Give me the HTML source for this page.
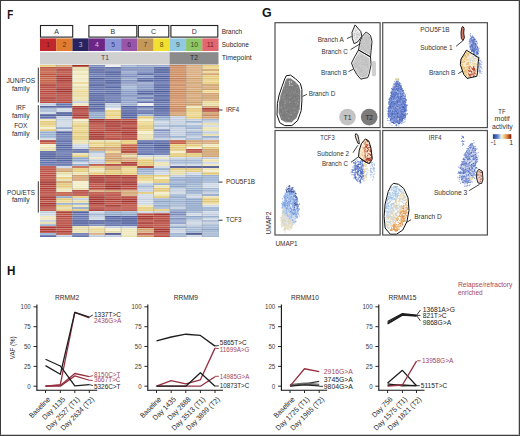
<!DOCTYPE html><html><head><meta charset="utf-8"><title>Figure</title><style>html,body{margin:0;padding:0;background:#fff;width:520px;height:436px;overflow:hidden;}svg{display:block;font-family:"Liberation Sans",sans-serif;}</style></head><body><svg width="520" height="436" viewBox="0 0 520 436" font-family="Liberation Sans, sans-serif"><rect x="0" y="0" width="520" height="436" fill="#fff"/>
<text x="7.3" y="18.8" font-size="12.4" fill="#111" textLength="6" lengthAdjust="spacingAndGlyphs" font-weight="bold">F</text>
<text x="262" y="16.8" font-size="12.4" fill="#111" textLength="9.6" lengthAdjust="spacingAndGlyphs" font-weight="bold">G</text>
<text x="6.9" y="274.9" font-size="12.4" fill="#111" textLength="8.4" lengthAdjust="spacingAndGlyphs" font-weight="bold">H</text>
<g shape-rendering="crispEdges">
<rect x="40" y="64.6" width="16.23" height="2.21" fill="#e6cc78"/>
<rect x="40" y="66.76" width="16.23" height="2.21" fill="#b84e38"/>
<rect x="40" y="68.91" width="16.23" height="2.21" fill="#c0583e"/>
<rect x="40" y="71.07" width="16.23" height="2.21" fill="#c86448"/>
<rect x="40" y="73.22" width="16.23" height="2.21" fill="#b84e38"/>
<rect x="40" y="75.38" width="16.23" height="2.21" fill="#c0583e"/>
<rect x="40" y="77.54" width="16.23" height="2.21" fill="#c86448"/>
<rect x="40" y="79.69" width="16.23" height="2.21" fill="#c0583e"/>
<rect x="40" y="81.85" width="16.23" height="2.21" fill="#c0583e"/>
<rect x="40" y="84.01" width="16.23" height="2.21" fill="#ad3a32"/>
<rect x="40" y="86.16" width="16.23" height="2.21" fill="#b6463c"/>
<rect x="40" y="88.32" width="16.23" height="2.21" fill="#bb5042"/>
<rect x="40" y="90.47" width="16.23" height="2.21" fill="#b6463c"/>
<rect x="40" y="92.63" width="16.23" height="2.21" fill="#b6463c"/>
<rect x="40" y="94.79" width="16.23" height="2.21" fill="#bb5042"/>
<rect x="40" y="96.94" width="16.23" height="2.21" fill="#ad3a32"/>
<rect x="40" y="99.1" width="16.23" height="2.21" fill="#b6463c"/>
<rect x="40" y="101.26" width="16.23" height="2.21" fill="#b6463c"/>
<rect x="40" y="103.41" width="16.23" height="2.21" fill="#c2cedf"/>
<rect x="40" y="105.57" width="16.23" height="2.21" fill="#5565a2"/>
<rect x="40" y="107.72" width="16.23" height="2.21" fill="#a4b8d4"/>
<rect x="40" y="109.88" width="16.23" height="2.21" fill="#a4b8d4"/>
<rect x="40" y="112.04" width="16.23" height="2.21" fill="#ced8e4"/>
<rect x="40" y="114.19" width="16.23" height="2.21" fill="#4e5e9c"/>
<rect x="40" y="116.35" width="16.23" height="2.21" fill="#5e6eaa"/>
<rect x="40" y="118.51" width="16.23" height="2.21" fill="#efe7bc"/>
<rect x="40" y="120.66" width="16.23" height="2.21" fill="#e2c878"/>
<rect x="40" y="122.82" width="16.23" height="2.21" fill="#e2c878"/>
<rect x="40" y="124.97" width="16.23" height="2.21" fill="#ecd78e"/>
<rect x="40" y="127.13" width="16.23" height="2.21" fill="#f3edc8"/>
<rect x="40" y="129.29" width="16.23" height="2.21" fill="#e2c878"/>
<rect x="40" y="131.44" width="16.23" height="2.21" fill="#98b0d0"/>
<rect x="40" y="133.6" width="16.23" height="2.21" fill="#98b0d0"/>
<rect x="40" y="135.76" width="16.23" height="2.21" fill="#98b0d0"/>
<rect x="40" y="137.91" width="16.23" height="2.21" fill="#ced8e4"/>
<rect x="40" y="140.07" width="16.23" height="2.21" fill="#ad3a32"/>
<rect x="40" y="142.22" width="16.23" height="2.21" fill="#c86448"/>
<rect x="40" y="144.38" width="16.23" height="2.21" fill="#f3edc8"/>
<rect x="40" y="146.54" width="16.23" height="2.21" fill="#ebe2b0"/>
<rect x="40" y="148.69" width="16.23" height="2.21" fill="#e6dca8"/>
<rect x="40" y="150.85" width="16.23" height="2.21" fill="#5565a2"/>
<rect x="40" y="153.01" width="16.23" height="2.21" fill="#4e5e9c"/>
<rect x="40" y="155.16" width="16.23" height="2.21" fill="#4e5e9c"/>
<rect x="40" y="157.32" width="16.23" height="2.21" fill="#4e5e9c"/>
<rect x="40" y="159.47" width="16.23" height="2.21" fill="#6676b0"/>
<rect x="40" y="161.63" width="16.23" height="2.21" fill="#5e6eaa"/>
<rect x="40" y="163.79" width="16.23" height="2.21" fill="#6676b0"/>
<rect x="40" y="165.94" width="16.23" height="2.21" fill="#b6463c"/>
<rect x="40" y="168.1" width="16.23" height="2.21" fill="#b6463c"/>
<rect x="40" y="170.26" width="16.23" height="2.21" fill="#bb5042"/>
<rect x="40" y="172.41" width="16.23" height="2.21" fill="#bb5042"/>
<rect x="40" y="174.57" width="16.23" height="2.21" fill="#b6463c"/>
<rect x="40" y="176.72" width="16.23" height="2.21" fill="#bb5042"/>
<rect x="40" y="178.88" width="16.23" height="2.21" fill="#b6463c"/>
<rect x="40" y="181.04" width="16.23" height="2.21" fill="#a4342e"/>
<rect x="40" y="183.19" width="16.23" height="2.21" fill="#a4342e"/>
<rect x="40" y="185.35" width="16.23" height="2.21" fill="#b6463c"/>
<rect x="40" y="187.51" width="16.23" height="2.21" fill="#ad3a32"/>
<rect x="40" y="189.66" width="16.23" height="2.21" fill="#b6463c"/>
<rect x="40" y="191.82" width="16.23" height="2.21" fill="#b6463c"/>
<rect x="40" y="193.97" width="16.23" height="2.21" fill="#bb5042"/>
<rect x="40" y="196.13" width="16.23" height="2.21" fill="#a4342e"/>
<rect x="40" y="198.29" width="16.23" height="2.21" fill="#ad3a32"/>
<rect x="40" y="200.44" width="16.23" height="2.21" fill="#bb5042"/>
<rect x="40" y="202.6" width="16.23" height="2.21" fill="#a4342e"/>
<rect x="40" y="204.76" width="16.23" height="2.21" fill="#ad3a32"/>
<rect x="40" y="206.91" width="16.23" height="2.21" fill="#bb5042"/>
<rect x="40" y="209.07" width="16.23" height="2.21" fill="#bb5042"/>
<rect x="40" y="211.22" width="16.23" height="2.21" fill="#c2cedf"/>
<rect x="40" y="213.38" width="16.23" height="2.21" fill="#ced8e4"/>
<rect x="40" y="215.54" width="16.23" height="2.21" fill="#efe7bc"/>
<rect x="40" y="217.69" width="16.23" height="2.21" fill="#efe7bc"/>
<rect x="40" y="219.85" width="16.23" height="2.21" fill="#c2cedf"/>
<rect x="40" y="222.01" width="16.23" height="2.21" fill="#e6dca8"/>
<rect x="40" y="224.16" width="16.23" height="2.21" fill="#98b0d0"/>
<rect x="40" y="226.32" width="16.23" height="2.21" fill="#ad3a32"/>
<rect x="40" y="228.47" width="16.23" height="2.21" fill="#ad3a32"/>
<rect x="40" y="230.63" width="16.23" height="2.21" fill="#ad3a32"/>
<rect x="40" y="232.79" width="16.23" height="2.21" fill="#98b0d0"/>
<rect x="40" y="234.94" width="16.23" height="2.21" fill="#5e6eaa"/>
<rect x="56.23" y="64.6" width="16.23" height="2.21" fill="#d8aa7c"/>
<rect x="56.23" y="66.76" width="16.23" height="2.21" fill="#bb5042"/>
<rect x="56.23" y="68.91" width="16.23" height="2.21" fill="#ad3a32"/>
<rect x="56.23" y="71.07" width="16.23" height="2.21" fill="#bb5042"/>
<rect x="56.23" y="73.22" width="16.23" height="2.21" fill="#bb5042"/>
<rect x="56.23" y="75.38" width="16.23" height="2.21" fill="#ad3a32"/>
<rect x="56.23" y="77.54" width="16.23" height="2.21" fill="#ad3a32"/>
<rect x="56.23" y="79.69" width="16.23" height="2.21" fill="#a4342e"/>
<rect x="56.23" y="81.85" width="16.23" height="2.21" fill="#b6463c"/>
<rect x="56.23" y="84.01" width="16.23" height="2.21" fill="#b6463c"/>
<rect x="56.23" y="86.16" width="16.23" height="2.21" fill="#b6463c"/>
<rect x="56.23" y="88.32" width="16.23" height="2.21" fill="#a4342e"/>
<rect x="56.23" y="90.47" width="16.23" height="2.21" fill="#a4342e"/>
<rect x="56.23" y="92.63" width="16.23" height="2.21" fill="#b6463c"/>
<rect x="56.23" y="94.79" width="16.23" height="2.21" fill="#b6463c"/>
<rect x="56.23" y="96.94" width="16.23" height="2.21" fill="#b6463c"/>
<rect x="56.23" y="99.1" width="16.23" height="2.21" fill="#b6463c"/>
<rect x="56.23" y="101.26" width="16.23" height="2.21" fill="#b6463c"/>
<rect x="56.23" y="103.41" width="16.23" height="2.21" fill="#6676b0"/>
<rect x="56.23" y="105.57" width="16.23" height="2.21" fill="#5565a2"/>
<rect x="56.23" y="107.72" width="16.23" height="2.21" fill="#ced8e4"/>
<rect x="56.23" y="109.88" width="16.23" height="2.21" fill="#ced8e4"/>
<rect x="56.23" y="112.04" width="16.23" height="2.21" fill="#4e5e9c"/>
<rect x="56.23" y="114.19" width="16.23" height="2.21" fill="#4e5e9c"/>
<rect x="56.23" y="116.35" width="16.23" height="2.21" fill="#c2cedf"/>
<rect x="56.23" y="118.51" width="16.23" height="2.21" fill="#c2cedf"/>
<rect x="56.23" y="120.66" width="16.23" height="2.21" fill="#ced8e4"/>
<rect x="56.23" y="122.82" width="16.23" height="2.21" fill="#ced8e4"/>
<rect x="56.23" y="124.97" width="16.23" height="2.21" fill="#ced8e4"/>
<rect x="56.23" y="127.13" width="16.23" height="2.21" fill="#8ea6ca"/>
<rect x="56.23" y="129.29" width="16.23" height="2.21" fill="#ced8e4"/>
<rect x="56.23" y="131.44" width="16.23" height="2.21" fill="#5565a2"/>
<rect x="56.23" y="133.6" width="16.23" height="2.21" fill="#6676b0"/>
<rect x="56.23" y="135.76" width="16.23" height="2.21" fill="#6676b0"/>
<rect x="56.23" y="137.91" width="16.23" height="2.21" fill="#6676b0"/>
<rect x="56.23" y="140.07" width="16.23" height="2.21" fill="#5565a2"/>
<rect x="56.23" y="142.22" width="16.23" height="2.21" fill="#6676b0"/>
<rect x="56.23" y="144.38" width="16.23" height="2.21" fill="#5565a2"/>
<rect x="56.23" y="146.54" width="16.23" height="2.21" fill="#5e6eaa"/>
<rect x="56.23" y="148.69" width="16.23" height="2.21" fill="#5565a2"/>
<rect x="56.23" y="150.85" width="16.23" height="2.21" fill="#6676b0"/>
<rect x="56.23" y="153.01" width="16.23" height="2.21" fill="#6676b0"/>
<rect x="56.23" y="155.16" width="16.23" height="2.21" fill="#5e6eaa"/>
<rect x="56.23" y="157.32" width="16.23" height="2.21" fill="#5565a2"/>
<rect x="56.23" y="159.47" width="16.23" height="2.21" fill="#5565a2"/>
<rect x="56.23" y="161.63" width="16.23" height="2.21" fill="#6676b0"/>
<rect x="56.23" y="163.79" width="16.23" height="2.21" fill="#5e6eaa"/>
<rect x="56.23" y="165.94" width="16.23" height="2.21" fill="#ced8e4"/>
<rect x="56.23" y="168.1" width="16.23" height="2.21" fill="#d8aa7c"/>
<rect x="56.23" y="170.26" width="16.23" height="2.21" fill="#cea068"/>
<rect x="56.23" y="172.41" width="16.23" height="2.21" fill="#e6dca8"/>
<rect x="56.23" y="174.57" width="16.23" height="2.21" fill="#f3edc8"/>
<rect x="56.23" y="176.72" width="16.23" height="2.21" fill="#e6cc78"/>
<rect x="56.23" y="178.88" width="16.23" height="2.21" fill="#e6dca8"/>
<rect x="56.23" y="181.04" width="16.23" height="2.21" fill="#cea068"/>
<rect x="56.23" y="183.19" width="16.23" height="2.21" fill="#e2c878"/>
<rect x="56.23" y="185.35" width="16.23" height="2.21" fill="#e2c878"/>
<rect x="56.23" y="187.51" width="16.23" height="2.21" fill="#ebe2b0"/>
<rect x="56.23" y="189.66" width="16.23" height="2.21" fill="#efe7bc"/>
<rect x="56.23" y="191.82" width="16.23" height="2.21" fill="#c0583e"/>
<rect x="56.23" y="193.97" width="16.23" height="2.21" fill="#c0583e"/>
<rect x="56.23" y="196.13" width="16.23" height="2.21" fill="#8ea6ca"/>
<rect x="56.23" y="198.29" width="16.23" height="2.21" fill="#e2c878"/>
<rect x="56.23" y="200.44" width="16.23" height="2.21" fill="#ecd78e"/>
<rect x="56.23" y="202.6" width="16.23" height="2.21" fill="#98b0d0"/>
<rect x="56.23" y="204.76" width="16.23" height="2.21" fill="#e6cc78"/>
<rect x="56.23" y="206.91" width="16.23" height="2.21" fill="#e6dca8"/>
<rect x="56.23" y="209.07" width="16.23" height="2.21" fill="#e6cc78"/>
<rect x="56.23" y="211.22" width="16.23" height="2.21" fill="#ad3a32"/>
<rect x="56.23" y="213.38" width="16.23" height="2.21" fill="#bb5042"/>
<rect x="56.23" y="215.54" width="16.23" height="2.21" fill="#b6463c"/>
<rect x="56.23" y="217.69" width="16.23" height="2.21" fill="#bb5042"/>
<rect x="56.23" y="219.85" width="16.23" height="2.21" fill="#b6463c"/>
<rect x="56.23" y="222.01" width="16.23" height="2.21" fill="#b6463c"/>
<rect x="56.23" y="224.16" width="16.23" height="2.21" fill="#b6463c"/>
<rect x="56.23" y="226.32" width="16.23" height="2.21" fill="#ad3a32"/>
<rect x="56.23" y="228.47" width="16.23" height="2.21" fill="#bb5042"/>
<rect x="56.23" y="230.63" width="16.23" height="2.21" fill="#ad3a32"/>
<rect x="56.23" y="232.79" width="16.23" height="2.21" fill="#bb5042"/>
<rect x="56.23" y="234.94" width="16.23" height="2.21" fill="#c2cedf"/>
<rect x="72.45" y="64.6" width="16.23" height="2.21" fill="#a32e22"/>
<rect x="72.45" y="66.76" width="16.23" height="2.21" fill="#e6dca8"/>
<rect x="72.45" y="68.91" width="16.23" height="2.21" fill="#e6dca8"/>
<rect x="72.45" y="71.07" width="16.23" height="2.21" fill="#f3edc8"/>
<rect x="72.45" y="73.22" width="16.23" height="2.21" fill="#ebe2b0"/>
<rect x="72.45" y="75.38" width="16.23" height="2.21" fill="#f3edc8"/>
<rect x="72.45" y="77.54" width="16.23" height="2.21" fill="#efe7bc"/>
<rect x="72.45" y="79.69" width="16.23" height="2.21" fill="#f3edc8"/>
<rect x="72.45" y="81.85" width="16.23" height="2.21" fill="#ecd78e"/>
<rect x="72.45" y="84.01" width="16.23" height="2.21" fill="#f3edc8"/>
<rect x="72.45" y="86.16" width="16.23" height="2.21" fill="#e6dca8"/>
<rect x="72.45" y="88.32" width="16.23" height="2.21" fill="#ebe2b0"/>
<rect x="72.45" y="90.47" width="16.23" height="2.21" fill="#ecd78e"/>
<rect x="72.45" y="92.63" width="16.23" height="2.21" fill="#e6dca8"/>
<rect x="72.45" y="94.79" width="16.23" height="2.21" fill="#ecd78e"/>
<rect x="72.45" y="96.94" width="16.23" height="2.21" fill="#ebe2b0"/>
<rect x="72.45" y="99.1" width="16.23" height="2.21" fill="#e6dca8"/>
<rect x="72.45" y="101.26" width="16.23" height="2.21" fill="#c2cedf"/>
<rect x="72.45" y="103.41" width="16.23" height="2.21" fill="#efe7bc"/>
<rect x="72.45" y="105.57" width="16.23" height="2.21" fill="#ad3a32"/>
<rect x="72.45" y="107.72" width="16.23" height="2.21" fill="#a4342e"/>
<rect x="72.45" y="109.88" width="16.23" height="2.21" fill="#b6463c"/>
<rect x="72.45" y="112.04" width="16.23" height="2.21" fill="#b6463c"/>
<rect x="72.45" y="114.19" width="16.23" height="2.21" fill="#a4342e"/>
<rect x="72.45" y="116.35" width="16.23" height="2.21" fill="#b6463c"/>
<rect x="72.45" y="118.51" width="16.23" height="2.21" fill="#f3edc8"/>
<rect x="72.45" y="120.66" width="16.23" height="2.21" fill="#e6dca8"/>
<rect x="72.45" y="122.82" width="16.23" height="2.21" fill="#ecd78e"/>
<rect x="72.45" y="124.97" width="16.23" height="2.21" fill="#e2c878"/>
<rect x="72.45" y="127.13" width="16.23" height="2.21" fill="#ecd78e"/>
<rect x="72.45" y="129.29" width="16.23" height="2.21" fill="#ecd78e"/>
<rect x="72.45" y="131.44" width="16.23" height="2.21" fill="#e2c878"/>
<rect x="72.45" y="133.6" width="16.23" height="2.21" fill="#ecd78e"/>
<rect x="72.45" y="135.76" width="16.23" height="2.21" fill="#e2c878"/>
<rect x="72.45" y="137.91" width="16.23" height="2.21" fill="#e6cc78"/>
<rect x="72.45" y="140.07" width="16.23" height="2.21" fill="#ebe2b0"/>
<rect x="72.45" y="142.22" width="16.23" height="2.21" fill="#ebe2b0"/>
<rect x="72.45" y="144.38" width="16.23" height="2.21" fill="#ced8e4"/>
<rect x="72.45" y="146.54" width="16.23" height="2.21" fill="#c2cedf"/>
<rect x="72.45" y="148.69" width="16.23" height="2.21" fill="#5e6eaa"/>
<rect x="72.45" y="150.85" width="16.23" height="2.21" fill="#5e6eaa"/>
<rect x="72.45" y="153.01" width="16.23" height="2.21" fill="#ebe2b0"/>
<rect x="72.45" y="155.16" width="16.23" height="2.21" fill="#e6cc78"/>
<rect x="72.45" y="157.32" width="16.23" height="2.21" fill="#8ea6ca"/>
<rect x="72.45" y="159.47" width="16.23" height="2.21" fill="#8ea6ca"/>
<rect x="72.45" y="161.63" width="16.23" height="2.21" fill="#ced8e4"/>
<rect x="72.45" y="163.79" width="16.23" height="2.21" fill="#8ea6ca"/>
<rect x="72.45" y="165.94" width="16.23" height="2.21" fill="#c86448"/>
<rect x="72.45" y="168.1" width="16.23" height="2.21" fill="#e6cc78"/>
<rect x="72.45" y="170.26" width="16.23" height="2.21" fill="#e6cc78"/>
<rect x="72.45" y="172.41" width="16.23" height="2.21" fill="#ebe2b0"/>
<rect x="72.45" y="174.57" width="16.23" height="2.21" fill="#cea068"/>
<rect x="72.45" y="176.72" width="16.23" height="2.21" fill="#d4a070"/>
<rect x="72.45" y="178.88" width="16.23" height="2.21" fill="#d4a070"/>
<rect x="72.45" y="181.04" width="16.23" height="2.21" fill="#f3edc8"/>
<rect x="72.45" y="183.19" width="16.23" height="2.21" fill="#f3edc8"/>
<rect x="72.45" y="185.35" width="16.23" height="2.21" fill="#f3edc8"/>
<rect x="72.45" y="187.51" width="16.23" height="2.21" fill="#e6dca8"/>
<rect x="72.45" y="189.66" width="16.23" height="2.21" fill="#b6463c"/>
<rect x="72.45" y="191.82" width="16.23" height="2.21" fill="#b6463c"/>
<rect x="72.45" y="193.97" width="16.23" height="2.21" fill="#bb5042"/>
<rect x="72.45" y="196.13" width="16.23" height="2.21" fill="#e6cc78"/>
<rect x="72.45" y="198.29" width="16.23" height="2.21" fill="#c2cedf"/>
<rect x="72.45" y="200.44" width="16.23" height="2.21" fill="#e6dca8"/>
<rect x="72.45" y="202.6" width="16.23" height="2.21" fill="#98b0d0"/>
<rect x="72.45" y="204.76" width="16.23" height="2.21" fill="#ebe2b0"/>
<rect x="72.45" y="206.91" width="16.23" height="2.21" fill="#8ea6ca"/>
<rect x="72.45" y="209.07" width="16.23" height="2.21" fill="#e2c878"/>
<rect x="72.45" y="211.22" width="16.23" height="2.21" fill="#4e5e9c"/>
<rect x="72.45" y="213.38" width="16.23" height="2.21" fill="#6676b0"/>
<rect x="72.45" y="215.54" width="16.23" height="2.21" fill="#5e6eaa"/>
<rect x="72.45" y="217.69" width="16.23" height="2.21" fill="#6676b0"/>
<rect x="72.45" y="219.85" width="16.23" height="2.21" fill="#4e5e9c"/>
<rect x="72.45" y="222.01" width="16.23" height="2.21" fill="#4e5e9c"/>
<rect x="72.45" y="224.16" width="16.23" height="2.21" fill="#5e6eaa"/>
<rect x="72.45" y="226.32" width="16.23" height="2.21" fill="#e6dca8"/>
<rect x="72.45" y="228.47" width="16.23" height="2.21" fill="#e6dca8"/>
<rect x="72.45" y="230.63" width="16.23" height="2.21" fill="#ebe2b0"/>
<rect x="72.45" y="232.79" width="16.23" height="2.21" fill="#6676b0"/>
<rect x="72.45" y="234.94" width="16.23" height="2.21" fill="#6676b0"/>
<rect x="88.68" y="64.6" width="16.23" height="2.21" fill="#7c8cbc"/>
<rect x="88.68" y="66.76" width="16.23" height="2.21" fill="#5e6eaa"/>
<rect x="88.68" y="68.91" width="16.23" height="2.21" fill="#5565a2"/>
<rect x="88.68" y="71.07" width="16.23" height="2.21" fill="#5565a2"/>
<rect x="88.68" y="73.22" width="16.23" height="2.21" fill="#6676b0"/>
<rect x="88.68" y="75.38" width="16.23" height="2.21" fill="#6676b0"/>
<rect x="88.68" y="77.54" width="16.23" height="2.21" fill="#4e5e9c"/>
<rect x="88.68" y="79.69" width="16.23" height="2.21" fill="#5e6eaa"/>
<rect x="88.68" y="81.85" width="16.23" height="2.21" fill="#5e6eaa"/>
<rect x="88.68" y="84.01" width="16.23" height="2.21" fill="#4e5e9c"/>
<rect x="88.68" y="86.16" width="16.23" height="2.21" fill="#5e6eaa"/>
<rect x="88.68" y="88.32" width="16.23" height="2.21" fill="#5e6eaa"/>
<rect x="88.68" y="90.47" width="16.23" height="2.21" fill="#6676b0"/>
<rect x="88.68" y="92.63" width="16.23" height="2.21" fill="#5565a2"/>
<rect x="88.68" y="94.79" width="16.23" height="2.21" fill="#5565a2"/>
<rect x="88.68" y="96.94" width="16.23" height="2.21" fill="#5565a2"/>
<rect x="88.68" y="99.1" width="16.23" height="2.21" fill="#4e5e9c"/>
<rect x="88.68" y="101.26" width="16.23" height="2.21" fill="#6676b0"/>
<rect x="88.68" y="103.41" width="16.23" height="2.21" fill="#5565a2"/>
<rect x="88.68" y="105.57" width="16.23" height="2.21" fill="#5e6eaa"/>
<rect x="88.68" y="107.72" width="16.23" height="2.21" fill="#4e5e9c"/>
<rect x="88.68" y="109.88" width="16.23" height="2.21" fill="#6676b0"/>
<rect x="88.68" y="112.04" width="16.23" height="2.21" fill="#8ea6ca"/>
<rect x="88.68" y="114.19" width="16.23" height="2.21" fill="#8ea6ca"/>
<rect x="88.68" y="116.35" width="16.23" height="2.21" fill="#8ea6ca"/>
<rect x="88.68" y="118.51" width="16.23" height="2.21" fill="#a4342e"/>
<rect x="88.68" y="120.66" width="16.23" height="2.21" fill="#a4342e"/>
<rect x="88.68" y="122.82" width="16.23" height="2.21" fill="#b6463c"/>
<rect x="88.68" y="124.97" width="16.23" height="2.21" fill="#bb5042"/>
<rect x="88.68" y="127.13" width="16.23" height="2.21" fill="#bb5042"/>
<rect x="88.68" y="129.29" width="16.23" height="2.21" fill="#bb5042"/>
<rect x="88.68" y="131.44" width="16.23" height="2.21" fill="#ad3a32"/>
<rect x="88.68" y="133.6" width="16.23" height="2.21" fill="#ad3a32"/>
<rect x="88.68" y="135.76" width="16.23" height="2.21" fill="#a4342e"/>
<rect x="88.68" y="137.91" width="16.23" height="2.21" fill="#a4342e"/>
<rect x="88.68" y="140.07" width="16.23" height="2.21" fill="#ebe2b0"/>
<rect x="88.68" y="142.22" width="16.23" height="2.21" fill="#e6cc78"/>
<rect x="88.68" y="144.38" width="16.23" height="2.21" fill="#ecd78e"/>
<rect x="88.68" y="146.54" width="16.23" height="2.21" fill="#cea068"/>
<rect x="88.68" y="148.69" width="16.23" height="2.21" fill="#cea068"/>
<rect x="88.68" y="150.85" width="16.23" height="2.21" fill="#a4b8d4"/>
<rect x="88.68" y="153.01" width="16.23" height="2.21" fill="#ced8e4"/>
<rect x="88.68" y="155.16" width="16.23" height="2.21" fill="#ced8e4"/>
<rect x="88.68" y="157.32" width="16.23" height="2.21" fill="#efe7bc"/>
<rect x="88.68" y="159.47" width="16.23" height="2.21" fill="#c2cedf"/>
<rect x="88.68" y="161.63" width="16.23" height="2.21" fill="#c2cedf"/>
<rect x="88.68" y="163.79" width="16.23" height="2.21" fill="#bb5042"/>
<rect x="88.68" y="165.94" width="16.23" height="2.21" fill="#e2c878"/>
<rect x="88.68" y="168.1" width="16.23" height="2.21" fill="#e6dca8"/>
<rect x="88.68" y="170.26" width="16.23" height="2.21" fill="#efe7bc"/>
<rect x="88.68" y="172.41" width="16.23" height="2.21" fill="#e6cc78"/>
<rect x="88.68" y="174.57" width="16.23" height="2.21" fill="#b6463c"/>
<rect x="88.68" y="176.72" width="16.23" height="2.21" fill="#a4342e"/>
<rect x="88.68" y="178.88" width="16.23" height="2.21" fill="#a4342e"/>
<rect x="88.68" y="181.04" width="16.23" height="2.21" fill="#a4342e"/>
<rect x="88.68" y="183.19" width="16.23" height="2.21" fill="#bb5042"/>
<rect x="88.68" y="185.35" width="16.23" height="2.21" fill="#bb5042"/>
<rect x="88.68" y="187.51" width="16.23" height="2.21" fill="#b6463c"/>
<rect x="88.68" y="189.66" width="16.23" height="2.21" fill="#d8aa7c"/>
<rect x="88.68" y="191.82" width="16.23" height="2.21" fill="#bb5042"/>
<rect x="88.68" y="193.97" width="16.23" height="2.21" fill="#b6463c"/>
<rect x="88.68" y="196.13" width="16.23" height="2.21" fill="#a4342e"/>
<rect x="88.68" y="198.29" width="16.23" height="2.21" fill="#a4342e"/>
<rect x="88.68" y="200.44" width="16.23" height="2.21" fill="#a4342e"/>
<rect x="88.68" y="202.6" width="16.23" height="2.21" fill="#a4342e"/>
<rect x="88.68" y="204.76" width="16.23" height="2.21" fill="#bb5042"/>
<rect x="88.68" y="206.91" width="16.23" height="2.21" fill="#b6463c"/>
<rect x="88.68" y="209.07" width="16.23" height="2.21" fill="#a4342e"/>
<rect x="88.68" y="211.22" width="16.23" height="2.21" fill="#ced8e4"/>
<rect x="88.68" y="213.38" width="16.23" height="2.21" fill="#a4b8d4"/>
<rect x="88.68" y="215.54" width="16.23" height="2.21" fill="#c2cedf"/>
<rect x="88.68" y="217.69" width="16.23" height="2.21" fill="#ced8e4"/>
<rect x="88.68" y="219.85" width="16.23" height="2.21" fill="#5565a2"/>
<rect x="88.68" y="222.01" width="16.23" height="2.21" fill="#5565a2"/>
<rect x="88.68" y="224.16" width="16.23" height="2.21" fill="#7c8cbc"/>
<rect x="88.68" y="226.32" width="16.23" height="2.21" fill="#efe7bc"/>
<rect x="88.68" y="228.47" width="16.23" height="2.21" fill="#ecd78e"/>
<rect x="88.68" y="230.63" width="16.23" height="2.21" fill="#e6dca8"/>
<rect x="88.68" y="232.79" width="16.23" height="2.21" fill="#d8aa7c"/>
<rect x="88.68" y="234.94" width="16.23" height="2.21" fill="#c2cedf"/>
<rect x="104.91" y="64.6" width="16.23" height="2.21" fill="#eeeeee"/>
<rect x="104.91" y="66.76" width="16.23" height="2.21" fill="#5565a2"/>
<rect x="104.91" y="68.91" width="16.23" height="2.21" fill="#6676b0"/>
<rect x="104.91" y="71.07" width="16.23" height="2.21" fill="#4e5e9c"/>
<rect x="104.91" y="73.22" width="16.23" height="2.21" fill="#5565a2"/>
<rect x="104.91" y="75.38" width="16.23" height="2.21" fill="#5e6eaa"/>
<rect x="104.91" y="77.54" width="16.23" height="2.21" fill="#6676b0"/>
<rect x="104.91" y="79.69" width="16.23" height="2.21" fill="#4e5e9c"/>
<rect x="104.91" y="81.85" width="16.23" height="2.21" fill="#4e5e9c"/>
<rect x="104.91" y="84.01" width="16.23" height="2.21" fill="#6676b0"/>
<rect x="104.91" y="86.16" width="16.23" height="2.21" fill="#4e5e9c"/>
<rect x="104.91" y="88.32" width="16.23" height="2.21" fill="#6676b0"/>
<rect x="104.91" y="90.47" width="16.23" height="2.21" fill="#5e6eaa"/>
<rect x="104.91" y="92.63" width="16.23" height="2.21" fill="#5565a2"/>
<rect x="104.91" y="94.79" width="16.23" height="2.21" fill="#6676b0"/>
<rect x="104.91" y="96.94" width="16.23" height="2.21" fill="#6676b0"/>
<rect x="104.91" y="99.1" width="16.23" height="2.21" fill="#6676b0"/>
<rect x="104.91" y="101.26" width="16.23" height="2.21" fill="#5e6eaa"/>
<rect x="104.91" y="103.41" width="16.23" height="2.21" fill="#c2cedf"/>
<rect x="104.91" y="105.57" width="16.23" height="2.21" fill="#c2cedf"/>
<rect x="104.91" y="107.72" width="16.23" height="2.21" fill="#eeeeee"/>
<rect x="104.91" y="109.88" width="16.23" height="2.21" fill="#e6cc78"/>
<rect x="104.91" y="112.04" width="16.23" height="2.21" fill="#ecd78e"/>
<rect x="104.91" y="114.19" width="16.23" height="2.21" fill="#e6cc78"/>
<rect x="104.91" y="116.35" width="16.23" height="2.21" fill="#ecd78e"/>
<rect x="104.91" y="118.51" width="16.23" height="2.21" fill="#b6463c"/>
<rect x="104.91" y="120.66" width="16.23" height="2.21" fill="#a4342e"/>
<rect x="104.91" y="122.82" width="16.23" height="2.21" fill="#ad3a32"/>
<rect x="104.91" y="124.97" width="16.23" height="2.21" fill="#a4342e"/>
<rect x="104.91" y="127.13" width="16.23" height="2.21" fill="#b6463c"/>
<rect x="104.91" y="129.29" width="16.23" height="2.21" fill="#ad3a32"/>
<rect x="104.91" y="131.44" width="16.23" height="2.21" fill="#b6463c"/>
<rect x="104.91" y="133.6" width="16.23" height="2.21" fill="#bb5042"/>
<rect x="104.91" y="135.76" width="16.23" height="2.21" fill="#bb5042"/>
<rect x="104.91" y="137.91" width="16.23" height="2.21" fill="#ad3a32"/>
<rect x="104.91" y="140.07" width="16.23" height="2.21" fill="#ebe2b0"/>
<rect x="104.91" y="142.22" width="16.23" height="2.21" fill="#e2c878"/>
<rect x="104.91" y="144.38" width="16.23" height="2.21" fill="#e2c878"/>
<rect x="104.91" y="146.54" width="16.23" height="2.21" fill="#d4a070"/>
<rect x="104.91" y="148.69" width="16.23" height="2.21" fill="#d8aa7c"/>
<rect x="104.91" y="150.85" width="16.23" height="2.21" fill="#ecd78e"/>
<rect x="104.91" y="153.01" width="16.23" height="2.21" fill="#d4a070"/>
<rect x="104.91" y="155.16" width="16.23" height="2.21" fill="#d4a070"/>
<rect x="104.91" y="157.32" width="16.23" height="2.21" fill="#cea068"/>
<rect x="104.91" y="159.47" width="16.23" height="2.21" fill="#cea068"/>
<rect x="104.91" y="161.63" width="16.23" height="2.21" fill="#e6cc78"/>
<rect x="104.91" y="163.79" width="16.23" height="2.21" fill="#ad3a32"/>
<rect x="104.91" y="165.94" width="16.23" height="2.21" fill="#d4a070"/>
<rect x="104.91" y="168.1" width="16.23" height="2.21" fill="#cea068"/>
<rect x="104.91" y="170.26" width="16.23" height="2.21" fill="#e6cc78"/>
<rect x="104.91" y="172.41" width="16.23" height="2.21" fill="#e2c878"/>
<rect x="104.91" y="174.57" width="16.23" height="2.21" fill="#ad3a32"/>
<rect x="104.91" y="176.72" width="16.23" height="2.21" fill="#ad3a32"/>
<rect x="104.91" y="178.88" width="16.23" height="2.21" fill="#b6463c"/>
<rect x="104.91" y="181.04" width="16.23" height="2.21" fill="#a4342e"/>
<rect x="104.91" y="183.19" width="16.23" height="2.21" fill="#ad3a32"/>
<rect x="104.91" y="185.35" width="16.23" height="2.21" fill="#a4342e"/>
<rect x="104.91" y="187.51" width="16.23" height="2.21" fill="#a4342e"/>
<rect x="104.91" y="189.66" width="16.23" height="2.21" fill="#cea068"/>
<rect x="104.91" y="191.82" width="16.23" height="2.21" fill="#bb5042"/>
<rect x="104.91" y="193.97" width="16.23" height="2.21" fill="#b6463c"/>
<rect x="104.91" y="196.13" width="16.23" height="2.21" fill="#bb5042"/>
<rect x="104.91" y="198.29" width="16.23" height="2.21" fill="#ad3a32"/>
<rect x="104.91" y="200.44" width="16.23" height="2.21" fill="#b6463c"/>
<rect x="104.91" y="202.6" width="16.23" height="2.21" fill="#bb5042"/>
<rect x="104.91" y="204.76" width="16.23" height="2.21" fill="#a4342e"/>
<rect x="104.91" y="206.91" width="16.23" height="2.21" fill="#bb5042"/>
<rect x="104.91" y="209.07" width="16.23" height="2.21" fill="#b6463c"/>
<rect x="104.91" y="211.22" width="16.23" height="2.21" fill="#98b0d0"/>
<rect x="104.91" y="213.38" width="16.23" height="2.21" fill="#8ea6ca"/>
<rect x="104.91" y="215.54" width="16.23" height="2.21" fill="#4e5e9c"/>
<rect x="104.91" y="217.69" width="16.23" height="2.21" fill="#5e6eaa"/>
<rect x="104.91" y="219.85" width="16.23" height="2.21" fill="#4e5e9c"/>
<rect x="104.91" y="222.01" width="16.23" height="2.21" fill="#5e6eaa"/>
<rect x="104.91" y="224.16" width="16.23" height="2.21" fill="#5e6eaa"/>
<rect x="104.91" y="226.32" width="16.23" height="2.21" fill="#c2cedf"/>
<rect x="104.91" y="228.47" width="16.23" height="2.21" fill="#f3edc8"/>
<rect x="104.91" y="230.63" width="16.23" height="2.21" fill="#e6dca8"/>
<rect x="104.91" y="232.79" width="16.23" height="2.21" fill="#45508a"/>
<rect x="104.91" y="234.94" width="16.23" height="2.21" fill="#c2cedf"/>
<rect x="121.14" y="64.6" width="16.23" height="2.21" fill="#a4b8d4"/>
<rect x="121.14" y="66.76" width="16.23" height="2.21" fill="#7c8cbc"/>
<rect x="121.14" y="68.91" width="16.23" height="2.21" fill="#7c8cbc"/>
<rect x="121.14" y="71.07" width="16.23" height="2.21" fill="#98a8cc"/>
<rect x="121.14" y="73.22" width="16.23" height="2.21" fill="#8898c4"/>
<rect x="121.14" y="75.38" width="16.23" height="2.21" fill="#7c8cbc"/>
<rect x="121.14" y="77.54" width="16.23" height="2.21" fill="#98a8cc"/>
<rect x="121.14" y="79.69" width="16.23" height="2.21" fill="#7c8cbc"/>
<rect x="121.14" y="81.85" width="16.23" height="2.21" fill="#8898c4"/>
<rect x="121.14" y="84.01" width="16.23" height="2.21" fill="#98a8cc"/>
<rect x="121.14" y="86.16" width="16.23" height="2.21" fill="#a4b8d4"/>
<rect x="121.14" y="88.32" width="16.23" height="2.21" fill="#98b0d0"/>
<rect x="121.14" y="90.47" width="16.23" height="2.21" fill="#8898c4"/>
<rect x="121.14" y="92.63" width="16.23" height="2.21" fill="#8898c4"/>
<rect x="121.14" y="94.79" width="16.23" height="2.21" fill="#7c8cbc"/>
<rect x="121.14" y="96.94" width="16.23" height="2.21" fill="#8ea6ca"/>
<rect x="121.14" y="99.1" width="16.23" height="2.21" fill="#8898c4"/>
<rect x="121.14" y="101.26" width="16.23" height="2.21" fill="#8ea6ca"/>
<rect x="121.14" y="103.41" width="16.23" height="2.21" fill="#98a8cc"/>
<rect x="121.14" y="105.57" width="16.23" height="2.21" fill="#4e5e9c"/>
<rect x="121.14" y="107.72" width="16.23" height="2.21" fill="#5e6eaa"/>
<rect x="121.14" y="109.88" width="16.23" height="2.21" fill="#5565a2"/>
<rect x="121.14" y="112.04" width="16.23" height="2.21" fill="#4e5e9c"/>
<rect x="121.14" y="114.19" width="16.23" height="2.21" fill="#4e5e9c"/>
<rect x="121.14" y="116.35" width="16.23" height="2.21" fill="#5565a2"/>
<rect x="121.14" y="118.51" width="16.23" height="2.21" fill="#bb5042"/>
<rect x="121.14" y="120.66" width="16.23" height="2.21" fill="#a4342e"/>
<rect x="121.14" y="122.82" width="16.23" height="2.21" fill="#ad3a32"/>
<rect x="121.14" y="124.97" width="16.23" height="2.21" fill="#bb5042"/>
<rect x="121.14" y="127.13" width="16.23" height="2.21" fill="#a4342e"/>
<rect x="121.14" y="129.29" width="16.23" height="2.21" fill="#b6463c"/>
<rect x="121.14" y="131.44" width="16.23" height="2.21" fill="#a4342e"/>
<rect x="121.14" y="133.6" width="16.23" height="2.21" fill="#ad3a32"/>
<rect x="121.14" y="135.76" width="16.23" height="2.21" fill="#b6463c"/>
<rect x="121.14" y="137.91" width="16.23" height="2.21" fill="#ad3a32"/>
<rect x="121.14" y="140.07" width="16.23" height="2.21" fill="#e6cc78"/>
<rect x="121.14" y="142.22" width="16.23" height="2.21" fill="#e6cc78"/>
<rect x="121.14" y="144.38" width="16.23" height="2.21" fill="#c86448"/>
<rect x="121.14" y="146.54" width="16.23" height="2.21" fill="#b84e38"/>
<rect x="121.14" y="148.69" width="16.23" height="2.21" fill="#b84e38"/>
<rect x="121.14" y="150.85" width="16.23" height="2.21" fill="#a4342e"/>
<rect x="121.14" y="153.01" width="16.23" height="2.21" fill="#d8aa7c"/>
<rect x="121.14" y="155.16" width="16.23" height="2.21" fill="#e6dca8"/>
<rect x="121.14" y="157.32" width="16.23" height="2.21" fill="#d8aa7c"/>
<rect x="121.14" y="159.47" width="16.23" height="2.21" fill="#d4a070"/>
<rect x="121.14" y="161.63" width="16.23" height="2.21" fill="#ad3a32"/>
<rect x="121.14" y="163.79" width="16.23" height="2.21" fill="#ad3a32"/>
<rect x="121.14" y="165.94" width="16.23" height="2.21" fill="#e2c878"/>
<rect x="121.14" y="168.1" width="16.23" height="2.21" fill="#ecd78e"/>
<rect x="121.14" y="170.26" width="16.23" height="2.21" fill="#ecd78e"/>
<rect x="121.14" y="172.41" width="16.23" height="2.21" fill="#e6cc78"/>
<rect x="121.14" y="174.57" width="16.23" height="2.21" fill="#b6463c"/>
<rect x="121.14" y="176.72" width="16.23" height="2.21" fill="#a4342e"/>
<rect x="121.14" y="178.88" width="16.23" height="2.21" fill="#b6463c"/>
<rect x="121.14" y="181.04" width="16.23" height="2.21" fill="#a4342e"/>
<rect x="121.14" y="183.19" width="16.23" height="2.21" fill="#a4342e"/>
<rect x="121.14" y="185.35" width="16.23" height="2.21" fill="#b6463c"/>
<rect x="121.14" y="187.51" width="16.23" height="2.21" fill="#b6463c"/>
<rect x="121.14" y="189.66" width="16.23" height="2.21" fill="#d8aa7c"/>
<rect x="121.14" y="191.82" width="16.23" height="2.21" fill="#cea068"/>
<rect x="121.14" y="193.97" width="16.23" height="2.21" fill="#d8aa7c"/>
<rect x="121.14" y="196.13" width="16.23" height="2.21" fill="#b6463c"/>
<rect x="121.14" y="198.29" width="16.23" height="2.21" fill="#ad3a32"/>
<rect x="121.14" y="200.44" width="16.23" height="2.21" fill="#a4342e"/>
<rect x="121.14" y="202.6" width="16.23" height="2.21" fill="#b6463c"/>
<rect x="121.14" y="204.76" width="16.23" height="2.21" fill="#bb5042"/>
<rect x="121.14" y="206.91" width="16.23" height="2.21" fill="#bb5042"/>
<rect x="121.14" y="209.07" width="16.23" height="2.21" fill="#b6463c"/>
<rect x="121.14" y="211.22" width="16.23" height="2.21" fill="#a4b8d4"/>
<rect x="121.14" y="213.38" width="16.23" height="2.21" fill="#8ea6ca"/>
<rect x="121.14" y="215.54" width="16.23" height="2.21" fill="#5565a2"/>
<rect x="121.14" y="217.69" width="16.23" height="2.21" fill="#4e5e9c"/>
<rect x="121.14" y="219.85" width="16.23" height="2.21" fill="#4e5e9c"/>
<rect x="121.14" y="222.01" width="16.23" height="2.21" fill="#4e5e9c"/>
<rect x="121.14" y="224.16" width="16.23" height="2.21" fill="#5e6eaa"/>
<rect x="121.14" y="226.32" width="16.23" height="2.21" fill="#c2cedf"/>
<rect x="121.14" y="228.47" width="16.23" height="2.21" fill="#efe7bc"/>
<rect x="121.14" y="230.63" width="16.23" height="2.21" fill="#efe7bc"/>
<rect x="121.14" y="232.79" width="16.23" height="2.21" fill="#efe7bc"/>
<rect x="121.14" y="234.94" width="16.23" height="2.21" fill="#ebe2b0"/>
<rect x="137.36" y="64.6" width="16.23" height="2.21" fill="#98a8cc"/>
<rect x="137.36" y="66.76" width="16.23" height="2.21" fill="#7c8cbc"/>
<rect x="137.36" y="68.91" width="16.23" height="2.21" fill="#7c8cbc"/>
<rect x="137.36" y="71.07" width="16.23" height="2.21" fill="#7c8cbc"/>
<rect x="137.36" y="73.22" width="16.23" height="2.21" fill="#5565a2"/>
<rect x="137.36" y="75.38" width="16.23" height="2.21" fill="#8898c4"/>
<rect x="137.36" y="77.54" width="16.23" height="2.21" fill="#5e6eaa"/>
<rect x="137.36" y="79.69" width="16.23" height="2.21" fill="#4e5e9c"/>
<rect x="137.36" y="81.85" width="16.23" height="2.21" fill="#98a8cc"/>
<rect x="137.36" y="84.01" width="16.23" height="2.21" fill="#8898c4"/>
<rect x="137.36" y="86.16" width="16.23" height="2.21" fill="#8898c4"/>
<rect x="137.36" y="88.32" width="16.23" height="2.21" fill="#8898c4"/>
<rect x="137.36" y="90.47" width="16.23" height="2.21" fill="#5e6eaa"/>
<rect x="137.36" y="92.63" width="16.23" height="2.21" fill="#4e5e9c"/>
<rect x="137.36" y="94.79" width="16.23" height="2.21" fill="#8898c4"/>
<rect x="137.36" y="96.94" width="16.23" height="2.21" fill="#5e6eaa"/>
<rect x="137.36" y="99.1" width="16.23" height="2.21" fill="#98a8cc"/>
<rect x="137.36" y="101.26" width="16.23" height="2.21" fill="#5e6eaa"/>
<rect x="137.36" y="103.41" width="16.23" height="2.21" fill="#eeeeee"/>
<rect x="137.36" y="105.57" width="16.23" height="2.21" fill="#5565a2"/>
<rect x="137.36" y="107.72" width="16.23" height="2.21" fill="#8898c4"/>
<rect x="137.36" y="109.88" width="16.23" height="2.21" fill="#6676b0"/>
<rect x="137.36" y="112.04" width="16.23" height="2.21" fill="#5e6eaa"/>
<rect x="137.36" y="114.19" width="16.23" height="2.21" fill="#98b0d0"/>
<rect x="137.36" y="116.35" width="16.23" height="2.21" fill="#e6cc78"/>
<rect x="137.36" y="118.51" width="16.23" height="2.21" fill="#f3edc8"/>
<rect x="137.36" y="120.66" width="16.23" height="2.21" fill="#ecd78e"/>
<rect x="137.36" y="122.82" width="16.23" height="2.21" fill="#ecd78e"/>
<rect x="137.36" y="124.97" width="16.23" height="2.21" fill="#e2c878"/>
<rect x="137.36" y="127.13" width="16.23" height="2.21" fill="#e2c878"/>
<rect x="137.36" y="129.29" width="16.23" height="2.21" fill="#ecd78e"/>
<rect x="137.36" y="131.44" width="16.23" height="2.21" fill="#f3edc8"/>
<rect x="137.36" y="133.6" width="16.23" height="2.21" fill="#e6dca8"/>
<rect x="137.36" y="135.76" width="16.23" height="2.21" fill="#ebe2b0"/>
<rect x="137.36" y="137.91" width="16.23" height="2.21" fill="#e6dca8"/>
<rect x="137.36" y="140.07" width="16.23" height="2.21" fill="#6676b0"/>
<rect x="137.36" y="142.22" width="16.23" height="2.21" fill="#4e5e9c"/>
<rect x="137.36" y="144.38" width="16.23" height="2.21" fill="#6676b0"/>
<rect x="137.36" y="146.54" width="16.23" height="2.21" fill="#5e6eaa"/>
<rect x="137.36" y="148.69" width="16.23" height="2.21" fill="#6676b0"/>
<rect x="137.36" y="150.85" width="16.23" height="2.21" fill="#6676b0"/>
<rect x="137.36" y="153.01" width="16.23" height="2.21" fill="#5565a2"/>
<rect x="137.36" y="155.16" width="16.23" height="2.21" fill="#ced8e4"/>
<rect x="137.36" y="157.32" width="16.23" height="2.21" fill="#efe7bc"/>
<rect x="137.36" y="159.47" width="16.23" height="2.21" fill="#e6cc78"/>
<rect x="137.36" y="161.63" width="16.23" height="2.21" fill="#e2c878"/>
<rect x="137.36" y="163.79" width="16.23" height="2.21" fill="#e2c878"/>
<rect x="137.36" y="165.94" width="16.23" height="2.21" fill="#a32e22"/>
<rect x="137.36" y="168.1" width="16.23" height="2.21" fill="#8ea6ca"/>
<rect x="137.36" y="170.26" width="16.23" height="2.21" fill="#98b0d0"/>
<rect x="137.36" y="172.41" width="16.23" height="2.21" fill="#a4b8d4"/>
<rect x="137.36" y="174.57" width="16.23" height="2.21" fill="#e2c878"/>
<rect x="137.36" y="176.72" width="16.23" height="2.21" fill="#e6cc78"/>
<rect x="137.36" y="178.88" width="16.23" height="2.21" fill="#ecd78e"/>
<rect x="137.36" y="181.04" width="16.23" height="2.21" fill="#efe7bc"/>
<rect x="137.36" y="183.19" width="16.23" height="2.21" fill="#c2cedf"/>
<rect x="137.36" y="185.35" width="16.23" height="2.21" fill="#a4b8d4"/>
<rect x="137.36" y="187.51" width="16.23" height="2.21" fill="#c2cedf"/>
<rect x="137.36" y="189.66" width="16.23" height="2.21" fill="#c2cedf"/>
<rect x="137.36" y="191.82" width="16.23" height="2.21" fill="#e2c878"/>
<rect x="137.36" y="193.97" width="16.23" height="2.21" fill="#ced8e4"/>
<rect x="137.36" y="196.13" width="16.23" height="2.21" fill="#ced8e4"/>
<rect x="137.36" y="198.29" width="16.23" height="2.21" fill="#c2cedf"/>
<rect x="137.36" y="200.44" width="16.23" height="2.21" fill="#ced8e4"/>
<rect x="137.36" y="202.6" width="16.23" height="2.21" fill="#ced8e4"/>
<rect x="137.36" y="204.76" width="16.23" height="2.21" fill="#ebe2b0"/>
<rect x="137.36" y="206.91" width="16.23" height="2.21" fill="#e6cc78"/>
<rect x="137.36" y="209.07" width="16.23" height="2.21" fill="#e6cc78"/>
<rect x="137.36" y="211.22" width="16.23" height="2.21" fill="#ced8e4"/>
<rect x="137.36" y="213.38" width="16.23" height="2.21" fill="#bb5042"/>
<rect x="137.36" y="215.54" width="16.23" height="2.21" fill="#a4342e"/>
<rect x="137.36" y="217.69" width="16.23" height="2.21" fill="#a4342e"/>
<rect x="137.36" y="219.85" width="16.23" height="2.21" fill="#bb5042"/>
<rect x="137.36" y="222.01" width="16.23" height="2.21" fill="#a4342e"/>
<rect x="137.36" y="224.16" width="16.23" height="2.21" fill="#bb5042"/>
<rect x="137.36" y="226.32" width="16.23" height="2.21" fill="#ad3a32"/>
<rect x="137.36" y="228.47" width="16.23" height="2.21" fill="#cea068"/>
<rect x="137.36" y="230.63" width="16.23" height="2.21" fill="#d8aa7c"/>
<rect x="137.36" y="232.79" width="16.23" height="2.21" fill="#bb5042"/>
<rect x="137.36" y="234.94" width="16.23" height="2.21" fill="#d4a070"/>
<rect x="153.59" y="64.6" width="16.23" height="2.21" fill="#98a8cc"/>
<rect x="153.59" y="66.76" width="16.23" height="2.21" fill="#5565a2"/>
<rect x="153.59" y="68.91" width="16.23" height="2.21" fill="#4e5e9c"/>
<rect x="153.59" y="71.07" width="16.23" height="2.21" fill="#4e5e9c"/>
<rect x="153.59" y="73.22" width="16.23" height="2.21" fill="#6676b0"/>
<rect x="153.59" y="75.38" width="16.23" height="2.21" fill="#5565a2"/>
<rect x="153.59" y="77.54" width="16.23" height="2.21" fill="#5565a2"/>
<rect x="153.59" y="79.69" width="16.23" height="2.21" fill="#5565a2"/>
<rect x="153.59" y="81.85" width="16.23" height="2.21" fill="#6676b0"/>
<rect x="153.59" y="84.01" width="16.23" height="2.21" fill="#5565a2"/>
<rect x="153.59" y="86.16" width="16.23" height="2.21" fill="#5565a2"/>
<rect x="153.59" y="88.32" width="16.23" height="2.21" fill="#5e6eaa"/>
<rect x="153.59" y="90.47" width="16.23" height="2.21" fill="#4e5e9c"/>
<rect x="153.59" y="92.63" width="16.23" height="2.21" fill="#5e6eaa"/>
<rect x="153.59" y="94.79" width="16.23" height="2.21" fill="#4e5e9c"/>
<rect x="153.59" y="96.94" width="16.23" height="2.21" fill="#5e6eaa"/>
<rect x="153.59" y="99.1" width="16.23" height="2.21" fill="#4e5e9c"/>
<rect x="153.59" y="101.26" width="16.23" height="2.21" fill="#5e6eaa"/>
<rect x="153.59" y="103.41" width="16.23" height="2.21" fill="#6676b0"/>
<rect x="153.59" y="105.57" width="16.23" height="2.21" fill="#4e5e9c"/>
<rect x="153.59" y="107.72" width="16.23" height="2.21" fill="#4e5e9c"/>
<rect x="153.59" y="109.88" width="16.23" height="2.21" fill="#5565a2"/>
<rect x="153.59" y="112.04" width="16.23" height="2.21" fill="#5e6eaa"/>
<rect x="153.59" y="114.19" width="16.23" height="2.21" fill="#5e6eaa"/>
<rect x="153.59" y="116.35" width="16.23" height="2.21" fill="#8ea6ca"/>
<rect x="153.59" y="118.51" width="16.23" height="2.21" fill="#a4b8d4"/>
<rect x="153.59" y="120.66" width="16.23" height="2.21" fill="#ced8e4"/>
<rect x="153.59" y="122.82" width="16.23" height="2.21" fill="#c2cedf"/>
<rect x="153.59" y="124.97" width="16.23" height="2.21" fill="#a4b8d4"/>
<rect x="153.59" y="127.13" width="16.23" height="2.21" fill="#ced8e4"/>
<rect x="153.59" y="129.29" width="16.23" height="2.21" fill="#7c8cbc"/>
<rect x="153.59" y="131.44" width="16.23" height="2.21" fill="#98a8cc"/>
<rect x="153.59" y="133.6" width="16.23" height="2.21" fill="#98a8cc"/>
<rect x="153.59" y="135.76" width="16.23" height="2.21" fill="#98a8cc"/>
<rect x="153.59" y="137.91" width="16.23" height="2.21" fill="#c2cedf"/>
<rect x="153.59" y="140.07" width="16.23" height="2.21" fill="#5e6eaa"/>
<rect x="153.59" y="142.22" width="16.23" height="2.21" fill="#5565a2"/>
<rect x="153.59" y="144.38" width="16.23" height="2.21" fill="#4e5e9c"/>
<rect x="153.59" y="146.54" width="16.23" height="2.21" fill="#4e5e9c"/>
<rect x="153.59" y="148.69" width="16.23" height="2.21" fill="#5565a2"/>
<rect x="153.59" y="150.85" width="16.23" height="2.21" fill="#5e6eaa"/>
<rect x="153.59" y="153.01" width="16.23" height="2.21" fill="#6676b0"/>
<rect x="153.59" y="155.16" width="16.23" height="2.21" fill="#ced8e4"/>
<rect x="153.59" y="157.32" width="16.23" height="2.21" fill="#efe7bc"/>
<rect x="153.59" y="159.47" width="16.23" height="2.21" fill="#c2cedf"/>
<rect x="153.59" y="161.63" width="16.23" height="2.21" fill="#ebe2b0"/>
<rect x="153.59" y="163.79" width="16.23" height="2.21" fill="#ebe2b0"/>
<rect x="153.59" y="165.94" width="16.23" height="2.21" fill="#ced8e4"/>
<rect x="153.59" y="168.1" width="16.23" height="2.21" fill="#8ea6ca"/>
<rect x="153.59" y="170.26" width="16.23" height="2.21" fill="#c2cedf"/>
<rect x="153.59" y="172.41" width="16.23" height="2.21" fill="#ced8e4"/>
<rect x="153.59" y="174.57" width="16.23" height="2.21" fill="#e6cc78"/>
<rect x="153.59" y="176.72" width="16.23" height="2.21" fill="#f3edc8"/>
<rect x="153.59" y="178.88" width="16.23" height="2.21" fill="#e6cc78"/>
<rect x="153.59" y="181.04" width="16.23" height="2.21" fill="#e6cc78"/>
<rect x="153.59" y="183.19" width="16.23" height="2.21" fill="#98b0d0"/>
<rect x="153.59" y="185.35" width="16.23" height="2.21" fill="#ebe2b0"/>
<rect x="153.59" y="187.51" width="16.23" height="2.21" fill="#e2c878"/>
<rect x="153.59" y="189.66" width="16.23" height="2.21" fill="#e2c878"/>
<rect x="153.59" y="191.82" width="16.23" height="2.21" fill="#f3edc8"/>
<rect x="153.59" y="193.97" width="16.23" height="2.21" fill="#ebe2b0"/>
<rect x="153.59" y="196.13" width="16.23" height="2.21" fill="#e2c878"/>
<rect x="153.59" y="198.29" width="16.23" height="2.21" fill="#a4b8d4"/>
<rect x="153.59" y="200.44" width="16.23" height="2.21" fill="#8ea6ca"/>
<rect x="153.59" y="202.6" width="16.23" height="2.21" fill="#a4b8d4"/>
<rect x="153.59" y="204.76" width="16.23" height="2.21" fill="#8ea6ca"/>
<rect x="153.59" y="206.91" width="16.23" height="2.21" fill="#a4b8d4"/>
<rect x="153.59" y="209.07" width="16.23" height="2.21" fill="#e6cc78"/>
<rect x="153.59" y="211.22" width="16.23" height="2.21" fill="#c2cedf"/>
<rect x="153.59" y="213.38" width="16.23" height="2.21" fill="#ad3a32"/>
<rect x="153.59" y="215.54" width="16.23" height="2.21" fill="#b6463c"/>
<rect x="153.59" y="217.69" width="16.23" height="2.21" fill="#b6463c"/>
<rect x="153.59" y="219.85" width="16.23" height="2.21" fill="#ad3a32"/>
<rect x="153.59" y="222.01" width="16.23" height="2.21" fill="#b6463c"/>
<rect x="153.59" y="224.16" width="16.23" height="2.21" fill="#bb5042"/>
<rect x="153.59" y="226.32" width="16.23" height="2.21" fill="#bb5042"/>
<rect x="153.59" y="228.47" width="16.23" height="2.21" fill="#a4342e"/>
<rect x="153.59" y="230.63" width="16.23" height="2.21" fill="#a4342e"/>
<rect x="153.59" y="232.79" width="16.23" height="2.21" fill="#bb5042"/>
<rect x="153.59" y="234.94" width="16.23" height="2.21" fill="#bb5042"/>
<rect x="169.82" y="64.6" width="16.23" height="2.21" fill="#c8845a"/>
<rect x="169.82" y="66.76" width="16.23" height="2.21" fill="#cc8a5c"/>
<rect x="169.82" y="68.91" width="16.23" height="2.21" fill="#cc8a5c"/>
<rect x="169.82" y="71.07" width="16.23" height="2.21" fill="#cc8a5c"/>
<rect x="169.82" y="73.22" width="16.23" height="2.21" fill="#cc8a5c"/>
<rect x="169.82" y="75.38" width="16.23" height="2.21" fill="#cc8a5c"/>
<rect x="169.82" y="77.54" width="16.23" height="2.21" fill="#c8845a"/>
<rect x="169.82" y="79.69" width="16.23" height="2.21" fill="#c8845a"/>
<rect x="169.82" y="81.85" width="16.23" height="2.21" fill="#d49466"/>
<rect x="169.82" y="84.01" width="16.23" height="2.21" fill="#c8845a"/>
<rect x="169.82" y="86.16" width="16.23" height="2.21" fill="#d49466"/>
<rect x="169.82" y="88.32" width="16.23" height="2.21" fill="#cc8a5c"/>
<rect x="169.82" y="90.47" width="16.23" height="2.21" fill="#cc8a5c"/>
<rect x="169.82" y="92.63" width="16.23" height="2.21" fill="#cc8a5c"/>
<rect x="169.82" y="94.79" width="16.23" height="2.21" fill="#cc8a5c"/>
<rect x="169.82" y="96.94" width="16.23" height="2.21" fill="#cc8a5c"/>
<rect x="169.82" y="99.1" width="16.23" height="2.21" fill="#d49466"/>
<rect x="169.82" y="101.26" width="16.23" height="2.21" fill="#d49466"/>
<rect x="169.82" y="103.41" width="16.23" height="2.21" fill="#d49466"/>
<rect x="169.82" y="105.57" width="16.23" height="2.21" fill="#cc8a5c"/>
<rect x="169.82" y="107.72" width="16.23" height="2.21" fill="#c8845a"/>
<rect x="169.82" y="109.88" width="16.23" height="2.21" fill="#c8845a"/>
<rect x="169.82" y="112.04" width="16.23" height="2.21" fill="#d4a070"/>
<rect x="169.82" y="114.19" width="16.23" height="2.21" fill="#cea068"/>
<rect x="169.82" y="116.35" width="16.23" height="2.21" fill="#c2cedf"/>
<rect x="169.82" y="118.51" width="16.23" height="2.21" fill="#c2cedf"/>
<rect x="169.82" y="120.66" width="16.23" height="2.21" fill="#c2cedf"/>
<rect x="169.82" y="122.82" width="16.23" height="2.21" fill="#c2cedf"/>
<rect x="169.82" y="124.97" width="16.23" height="2.21" fill="#98b0d0"/>
<rect x="169.82" y="127.13" width="16.23" height="2.21" fill="#c2cedf"/>
<rect x="169.82" y="129.29" width="16.23" height="2.21" fill="#c2cedf"/>
<rect x="169.82" y="131.44" width="16.23" height="2.21" fill="#c2cedf"/>
<rect x="169.82" y="133.6" width="16.23" height="2.21" fill="#c2cedf"/>
<rect x="169.82" y="135.76" width="16.23" height="2.21" fill="#98b0d0"/>
<rect x="169.82" y="137.91" width="16.23" height="2.21" fill="#ced8e4"/>
<rect x="169.82" y="140.07" width="16.23" height="2.21" fill="#c0583e"/>
<rect x="169.82" y="142.22" width="16.23" height="2.21" fill="#c0583e"/>
<rect x="169.82" y="144.38" width="16.23" height="2.21" fill="#e6cc78"/>
<rect x="169.82" y="146.54" width="16.23" height="2.21" fill="#e2c878"/>
<rect x="169.82" y="148.69" width="16.23" height="2.21" fill="#e2c878"/>
<rect x="169.82" y="150.85" width="16.23" height="2.21" fill="#f3edc8"/>
<rect x="169.82" y="153.01" width="16.23" height="2.21" fill="#e6cc78"/>
<rect x="169.82" y="155.16" width="16.23" height="2.21" fill="#e2c878"/>
<rect x="169.82" y="157.32" width="16.23" height="2.21" fill="#ced8e4"/>
<rect x="169.82" y="159.47" width="16.23" height="2.21" fill="#a4b8d4"/>
<rect x="169.82" y="161.63" width="16.23" height="2.21" fill="#a4b8d4"/>
<rect x="169.82" y="163.79" width="16.23" height="2.21" fill="#ced8e4"/>
<rect x="169.82" y="165.94" width="16.23" height="2.21" fill="#45508a"/>
<rect x="169.82" y="168.1" width="16.23" height="2.21" fill="#e2c878"/>
<rect x="169.82" y="170.26" width="16.23" height="2.21" fill="#e6dca8"/>
<rect x="169.82" y="172.41" width="16.23" height="2.21" fill="#e6dca8"/>
<rect x="169.82" y="174.57" width="16.23" height="2.21" fill="#c2cedf"/>
<rect x="169.82" y="176.72" width="16.23" height="2.21" fill="#98b0d0"/>
<rect x="169.82" y="178.88" width="16.23" height="2.21" fill="#8ea6ca"/>
<rect x="169.82" y="181.04" width="16.23" height="2.21" fill="#a4b8d4"/>
<rect x="169.82" y="183.19" width="16.23" height="2.21" fill="#8ea6ca"/>
<rect x="169.82" y="185.35" width="16.23" height="2.21" fill="#8ea6ca"/>
<rect x="169.82" y="187.51" width="16.23" height="2.21" fill="#c2cedf"/>
<rect x="169.82" y="189.66" width="16.23" height="2.21" fill="#c2cedf"/>
<rect x="169.82" y="191.82" width="16.23" height="2.21" fill="#ced8e4"/>
<rect x="169.82" y="193.97" width="16.23" height="2.21" fill="#a4b8d4"/>
<rect x="169.82" y="196.13" width="16.23" height="2.21" fill="#8ea6ca"/>
<rect x="169.82" y="198.29" width="16.23" height="2.21" fill="#a4b8d4"/>
<rect x="169.82" y="200.44" width="16.23" height="2.21" fill="#98b0d0"/>
<rect x="169.82" y="202.6" width="16.23" height="2.21" fill="#a4b8d4"/>
<rect x="169.82" y="204.76" width="16.23" height="2.21" fill="#a4b8d4"/>
<rect x="169.82" y="206.91" width="16.23" height="2.21" fill="#c2cedf"/>
<rect x="169.82" y="209.07" width="16.23" height="2.21" fill="#8ea6ca"/>
<rect x="169.82" y="211.22" width="16.23" height="2.21" fill="#7c8cbc"/>
<rect x="169.82" y="213.38" width="16.23" height="2.21" fill="#7c8cbc"/>
<rect x="169.82" y="215.54" width="16.23" height="2.21" fill="#98a8cc"/>
<rect x="169.82" y="217.69" width="16.23" height="2.21" fill="#7c8cbc"/>
<rect x="169.82" y="219.85" width="16.23" height="2.21" fill="#98a8cc"/>
<rect x="169.82" y="222.01" width="16.23" height="2.21" fill="#8898c4"/>
<rect x="169.82" y="224.16" width="16.23" height="2.21" fill="#c2cedf"/>
<rect x="169.82" y="226.32" width="16.23" height="2.21" fill="#8ea6ca"/>
<rect x="169.82" y="228.47" width="16.23" height="2.21" fill="#c2cedf"/>
<rect x="169.82" y="230.63" width="16.23" height="2.21" fill="#ced8e4"/>
<rect x="169.82" y="232.79" width="16.23" height="2.21" fill="#98b0d0"/>
<rect x="169.82" y="234.94" width="16.23" height="2.21" fill="#a4b8d4"/>
<rect x="186.05" y="64.6" width="16.23" height="2.21" fill="#d8aa7c"/>
<rect x="186.05" y="66.76" width="16.23" height="2.21" fill="#d8aa7c"/>
<rect x="186.05" y="68.91" width="16.23" height="2.21" fill="#d8aa7c"/>
<rect x="186.05" y="71.07" width="16.23" height="2.21" fill="#d8aa7c"/>
<rect x="186.05" y="73.22" width="16.23" height="2.21" fill="#d8aa7c"/>
<rect x="186.05" y="75.38" width="16.23" height="2.21" fill="#d8aa7c"/>
<rect x="186.05" y="77.54" width="16.23" height="2.21" fill="#cea068"/>
<rect x="186.05" y="79.69" width="16.23" height="2.21" fill="#d8aa7c"/>
<rect x="186.05" y="81.85" width="16.23" height="2.21" fill="#cea068"/>
<rect x="186.05" y="84.01" width="16.23" height="2.21" fill="#d8aa7c"/>
<rect x="186.05" y="86.16" width="16.23" height="2.21" fill="#d4a070"/>
<rect x="186.05" y="88.32" width="16.23" height="2.21" fill="#d8aa7c"/>
<rect x="186.05" y="90.47" width="16.23" height="2.21" fill="#cea068"/>
<rect x="186.05" y="92.63" width="16.23" height="2.21" fill="#d4a070"/>
<rect x="186.05" y="94.79" width="16.23" height="2.21" fill="#d8aa7c"/>
<rect x="186.05" y="96.94" width="16.23" height="2.21" fill="#cea068"/>
<rect x="186.05" y="99.1" width="16.23" height="2.21" fill="#d8aa7c"/>
<rect x="186.05" y="101.26" width="16.23" height="2.21" fill="#cea068"/>
<rect x="186.05" y="103.41" width="16.23" height="2.21" fill="#cea068"/>
<rect x="186.05" y="105.57" width="16.23" height="2.21" fill="#efe7bc"/>
<rect x="186.05" y="107.72" width="16.23" height="2.21" fill="#e2c878"/>
<rect x="186.05" y="109.88" width="16.23" height="2.21" fill="#e6cc78"/>
<rect x="186.05" y="112.04" width="16.23" height="2.21" fill="#ecd78e"/>
<rect x="186.05" y="114.19" width="16.23" height="2.21" fill="#ecd78e"/>
<rect x="186.05" y="116.35" width="16.23" height="2.21" fill="#e6cc78"/>
<rect x="186.05" y="118.51" width="16.23" height="2.21" fill="#c2cedf"/>
<rect x="186.05" y="120.66" width="16.23" height="2.21" fill="#98b0d0"/>
<rect x="186.05" y="122.82" width="16.23" height="2.21" fill="#ced8e4"/>
<rect x="186.05" y="124.97" width="16.23" height="2.21" fill="#a4b8d4"/>
<rect x="186.05" y="127.13" width="16.23" height="2.21" fill="#98b0d0"/>
<rect x="186.05" y="129.29" width="16.23" height="2.21" fill="#c2cedf"/>
<rect x="186.05" y="131.44" width="16.23" height="2.21" fill="#98b0d0"/>
<rect x="186.05" y="133.6" width="16.23" height="2.21" fill="#a4b8d4"/>
<rect x="186.05" y="135.76" width="16.23" height="2.21" fill="#c2cedf"/>
<rect x="186.05" y="137.91" width="16.23" height="2.21" fill="#a4b8d4"/>
<rect x="186.05" y="140.07" width="16.23" height="2.21" fill="#cea068"/>
<rect x="186.05" y="142.22" width="16.23" height="2.21" fill="#d8aa7c"/>
<rect x="186.05" y="144.38" width="16.23" height="2.21" fill="#e6cc78"/>
<rect x="186.05" y="146.54" width="16.23" height="2.21" fill="#f3edc8"/>
<rect x="186.05" y="148.69" width="16.23" height="2.21" fill="#b6463c"/>
<rect x="186.05" y="150.85" width="16.23" height="2.21" fill="#bb5042"/>
<rect x="186.05" y="153.01" width="16.23" height="2.21" fill="#e2c878"/>
<rect x="186.05" y="155.16" width="16.23" height="2.21" fill="#e2c878"/>
<rect x="186.05" y="157.32" width="16.23" height="2.21" fill="#c2cedf"/>
<rect x="186.05" y="159.47" width="16.23" height="2.21" fill="#a4b8d4"/>
<rect x="186.05" y="161.63" width="16.23" height="2.21" fill="#a4b8d4"/>
<rect x="186.05" y="163.79" width="16.23" height="2.21" fill="#ced8e4"/>
<rect x="186.05" y="165.94" width="16.23" height="2.21" fill="#45508a"/>
<rect x="186.05" y="168.1" width="16.23" height="2.21" fill="#e2c878"/>
<rect x="186.05" y="170.26" width="16.23" height="2.21" fill="#e6cc78"/>
<rect x="186.05" y="172.41" width="16.23" height="2.21" fill="#ced8e4"/>
<rect x="186.05" y="174.57" width="16.23" height="2.21" fill="#a4b8d4"/>
<rect x="186.05" y="176.72" width="16.23" height="2.21" fill="#8ea6ca"/>
<rect x="186.05" y="178.88" width="16.23" height="2.21" fill="#8ea6ca"/>
<rect x="186.05" y="181.04" width="16.23" height="2.21" fill="#8ea6ca"/>
<rect x="186.05" y="183.19" width="16.23" height="2.21" fill="#98b0d0"/>
<rect x="186.05" y="185.35" width="16.23" height="2.21" fill="#a4b8d4"/>
<rect x="186.05" y="187.51" width="16.23" height="2.21" fill="#98b0d0"/>
<rect x="186.05" y="189.66" width="16.23" height="2.21" fill="#8ea6ca"/>
<rect x="186.05" y="191.82" width="16.23" height="2.21" fill="#98b0d0"/>
<rect x="186.05" y="193.97" width="16.23" height="2.21" fill="#c2cedf"/>
<rect x="186.05" y="196.13" width="16.23" height="2.21" fill="#ced8e4"/>
<rect x="186.05" y="198.29" width="16.23" height="2.21" fill="#8ea6ca"/>
<rect x="186.05" y="200.44" width="16.23" height="2.21" fill="#8ea6ca"/>
<rect x="186.05" y="202.6" width="16.23" height="2.21" fill="#8ea6ca"/>
<rect x="186.05" y="204.76" width="16.23" height="2.21" fill="#8ea6ca"/>
<rect x="186.05" y="206.91" width="16.23" height="2.21" fill="#8ea6ca"/>
<rect x="186.05" y="209.07" width="16.23" height="2.21" fill="#8ea6ca"/>
<rect x="186.05" y="211.22" width="16.23" height="2.21" fill="#a4b8d4"/>
<rect x="186.05" y="213.38" width="16.23" height="2.21" fill="#ced8e4"/>
<rect x="186.05" y="215.54" width="16.23" height="2.21" fill="#8ea6ca"/>
<rect x="186.05" y="217.69" width="16.23" height="2.21" fill="#a4b8d4"/>
<rect x="186.05" y="219.85" width="16.23" height="2.21" fill="#c2cedf"/>
<rect x="186.05" y="222.01" width="16.23" height="2.21" fill="#ced8e4"/>
<rect x="186.05" y="224.16" width="16.23" height="2.21" fill="#c2cedf"/>
<rect x="186.05" y="226.32" width="16.23" height="2.21" fill="#a4b8d4"/>
<rect x="186.05" y="228.47" width="16.23" height="2.21" fill="#a4b8d4"/>
<rect x="186.05" y="230.63" width="16.23" height="2.21" fill="#98b0d0"/>
<rect x="186.05" y="232.79" width="16.23" height="2.21" fill="#45508a"/>
<rect x="186.05" y="234.94" width="16.23" height="2.21" fill="#ced8e4"/>
<rect x="202.27" y="64.6" width="16.23" height="2.21" fill="#e6cc78"/>
<rect x="202.27" y="66.76" width="16.23" height="2.21" fill="#ecd78e"/>
<rect x="202.27" y="68.91" width="16.23" height="2.21" fill="#cea068"/>
<rect x="202.27" y="71.07" width="16.23" height="2.21" fill="#ecd78e"/>
<rect x="202.27" y="73.22" width="16.23" height="2.21" fill="#d4a070"/>
<rect x="202.27" y="75.38" width="16.23" height="2.21" fill="#e6cc78"/>
<rect x="202.27" y="77.54" width="16.23" height="2.21" fill="#e2c878"/>
<rect x="202.27" y="79.69" width="16.23" height="2.21" fill="#ecd78e"/>
<rect x="202.27" y="81.85" width="16.23" height="2.21" fill="#e6cc78"/>
<rect x="202.27" y="84.01" width="16.23" height="2.21" fill="#cea068"/>
<rect x="202.27" y="86.16" width="16.23" height="2.21" fill="#d8aa7c"/>
<rect x="202.27" y="88.32" width="16.23" height="2.21" fill="#cea068"/>
<rect x="202.27" y="90.47" width="16.23" height="2.21" fill="#ecd78e"/>
<rect x="202.27" y="92.63" width="16.23" height="2.21" fill="#d4a070"/>
<rect x="202.27" y="94.79" width="16.23" height="2.21" fill="#cea068"/>
<rect x="202.27" y="96.94" width="16.23" height="2.21" fill="#cea068"/>
<rect x="202.27" y="99.1" width="16.23" height="2.21" fill="#d8aa7c"/>
<rect x="202.27" y="101.26" width="16.23" height="2.21" fill="#ecd78e"/>
<rect x="202.27" y="103.41" width="16.23" height="2.21" fill="#e6dca8"/>
<rect x="202.27" y="105.57" width="16.23" height="2.21" fill="#d4a070"/>
<rect x="202.27" y="107.72" width="16.23" height="2.21" fill="#a4342e"/>
<rect x="202.27" y="109.88" width="16.23" height="2.21" fill="#bb5042"/>
<rect x="202.27" y="112.04" width="16.23" height="2.21" fill="#cea068"/>
<rect x="202.27" y="114.19" width="16.23" height="2.21" fill="#c8845a"/>
<rect x="202.27" y="116.35" width="16.23" height="2.21" fill="#d4a070"/>
<rect x="202.27" y="118.51" width="16.23" height="2.21" fill="#a4b8d4"/>
<rect x="202.27" y="120.66" width="16.23" height="2.21" fill="#c2cedf"/>
<rect x="202.27" y="122.82" width="16.23" height="2.21" fill="#e6dca8"/>
<rect x="202.27" y="124.97" width="16.23" height="2.21" fill="#ced8e4"/>
<rect x="202.27" y="127.13" width="16.23" height="2.21" fill="#ebe2b0"/>
<rect x="202.27" y="129.29" width="16.23" height="2.21" fill="#ebe2b0"/>
<rect x="202.27" y="131.44" width="16.23" height="2.21" fill="#c2cedf"/>
<rect x="202.27" y="133.6" width="16.23" height="2.21" fill="#e6dca8"/>
<rect x="202.27" y="135.76" width="16.23" height="2.21" fill="#8ea6ca"/>
<rect x="202.27" y="137.91" width="16.23" height="2.21" fill="#c2cedf"/>
<rect x="202.27" y="140.07" width="16.23" height="2.21" fill="#d4a070"/>
<rect x="202.27" y="142.22" width="16.23" height="2.21" fill="#d8aa7c"/>
<rect x="202.27" y="144.38" width="16.23" height="2.21" fill="#efe7bc"/>
<rect x="202.27" y="146.54" width="16.23" height="2.21" fill="#e2c878"/>
<rect x="202.27" y="148.69" width="16.23" height="2.21" fill="#cea068"/>
<rect x="202.27" y="150.85" width="16.23" height="2.21" fill="#cea068"/>
<rect x="202.27" y="153.01" width="16.23" height="2.21" fill="#d4a070"/>
<rect x="202.27" y="155.16" width="16.23" height="2.21" fill="#cea068"/>
<rect x="202.27" y="157.32" width="16.23" height="2.21" fill="#c2cedf"/>
<rect x="202.27" y="159.47" width="16.23" height="2.21" fill="#ebe2b0"/>
<rect x="202.27" y="161.63" width="16.23" height="2.21" fill="#ced8e4"/>
<rect x="202.27" y="163.79" width="16.23" height="2.21" fill="#efe7bc"/>
<rect x="202.27" y="165.94" width="16.23" height="2.21" fill="#45508a"/>
<rect x="202.27" y="168.1" width="16.23" height="2.21" fill="#ebe2b0"/>
<rect x="202.27" y="170.26" width="16.23" height="2.21" fill="#f3edc8"/>
<rect x="202.27" y="172.41" width="16.23" height="2.21" fill="#e2c878"/>
<rect x="202.27" y="174.57" width="16.23" height="2.21" fill="#98b0d0"/>
<rect x="202.27" y="176.72" width="16.23" height="2.21" fill="#98b0d0"/>
<rect x="202.27" y="178.88" width="16.23" height="2.21" fill="#98b0d0"/>
<rect x="202.27" y="181.04" width="16.23" height="2.21" fill="#a4b8d4"/>
<rect x="202.27" y="183.19" width="16.23" height="2.21" fill="#ced8e4"/>
<rect x="202.27" y="185.35" width="16.23" height="2.21" fill="#ced8e4"/>
<rect x="202.27" y="187.51" width="16.23" height="2.21" fill="#a4b8d4"/>
<rect x="202.27" y="189.66" width="16.23" height="2.21" fill="#a4b8d4"/>
<rect x="202.27" y="191.82" width="16.23" height="2.21" fill="#c2cedf"/>
<rect x="202.27" y="193.97" width="16.23" height="2.21" fill="#8ea6ca"/>
<rect x="202.27" y="196.13" width="16.23" height="2.21" fill="#ebe2b0"/>
<rect x="202.27" y="198.29" width="16.23" height="2.21" fill="#e2c878"/>
<rect x="202.27" y="200.44" width="16.23" height="2.21" fill="#e2c878"/>
<rect x="202.27" y="202.6" width="16.23" height="2.21" fill="#ebe2b0"/>
<rect x="202.27" y="204.76" width="16.23" height="2.21" fill="#ced8e4"/>
<rect x="202.27" y="206.91" width="16.23" height="2.21" fill="#98b0d0"/>
<rect x="202.27" y="209.07" width="16.23" height="2.21" fill="#98b0d0"/>
<rect x="202.27" y="211.22" width="16.23" height="2.21" fill="#ced8e4"/>
<rect x="202.27" y="213.38" width="16.23" height="2.21" fill="#c2cedf"/>
<rect x="202.27" y="215.54" width="16.23" height="2.21" fill="#98b0d0"/>
<rect x="202.27" y="217.69" width="16.23" height="2.21" fill="#ced8e4"/>
<rect x="202.27" y="219.85" width="16.23" height="2.21" fill="#a4b8d4"/>
<rect x="202.27" y="222.01" width="16.23" height="2.21" fill="#c2cedf"/>
<rect x="202.27" y="224.16" width="16.23" height="2.21" fill="#a4b8d4"/>
<rect x="202.27" y="226.32" width="16.23" height="2.21" fill="#a4b8d4"/>
<rect x="202.27" y="228.47" width="16.23" height="2.21" fill="#8ea6ca"/>
<rect x="202.27" y="230.63" width="16.23" height="2.21" fill="#a4b8d4"/>
<rect x="202.27" y="232.79" width="16.23" height="2.21" fill="#a4b8d4"/>
<rect x="202.27" y="234.94" width="16.23" height="2.21" fill="#a4b8d4"/>
</g>
<line x1="40" y1="66.76" x2="218.5" y2="66.76" stroke="#fff" stroke-width="0.7" stroke-opacity="0.5"/>
<line x1="40" y1="68.91" x2="218.5" y2="68.91" stroke="#fff" stroke-width="0.7" stroke-opacity="0.5"/>
<line x1="40" y1="71.07" x2="218.5" y2="71.07" stroke="#fff" stroke-width="0.7" stroke-opacity="0.5"/>
<line x1="40" y1="73.22" x2="218.5" y2="73.22" stroke="#fff" stroke-width="0.7" stroke-opacity="0.5"/>
<line x1="40" y1="75.38" x2="218.5" y2="75.38" stroke="#fff" stroke-width="0.7" stroke-opacity="0.5"/>
<line x1="40" y1="77.54" x2="218.5" y2="77.54" stroke="#fff" stroke-width="0.7" stroke-opacity="0.5"/>
<line x1="40" y1="79.69" x2="218.5" y2="79.69" stroke="#fff" stroke-width="0.7" stroke-opacity="0.5"/>
<line x1="40" y1="81.85" x2="218.5" y2="81.85" stroke="#fff" stroke-width="0.7" stroke-opacity="0.5"/>
<line x1="40" y1="84.01" x2="218.5" y2="84.01" stroke="#fff" stroke-width="0.7" stroke-opacity="0.5"/>
<line x1="40" y1="86.16" x2="218.5" y2="86.16" stroke="#fff" stroke-width="0.7" stroke-opacity="0.5"/>
<line x1="40" y1="88.32" x2="218.5" y2="88.32" stroke="#fff" stroke-width="0.7" stroke-opacity="0.5"/>
<line x1="40" y1="90.47" x2="218.5" y2="90.47" stroke="#fff" stroke-width="0.7" stroke-opacity="0.5"/>
<line x1="40" y1="92.63" x2="218.5" y2="92.63" stroke="#fff" stroke-width="0.7" stroke-opacity="0.5"/>
<line x1="40" y1="94.79" x2="218.5" y2="94.79" stroke="#fff" stroke-width="0.7" stroke-opacity="0.5"/>
<line x1="40" y1="96.94" x2="218.5" y2="96.94" stroke="#fff" stroke-width="0.7" stroke-opacity="0.5"/>
<line x1="40" y1="99.1" x2="218.5" y2="99.1" stroke="#fff" stroke-width="0.7" stroke-opacity="0.5"/>
<line x1="40" y1="101.26" x2="218.5" y2="101.26" stroke="#fff" stroke-width="0.7" stroke-opacity="0.5"/>
<line x1="40" y1="103.41" x2="218.5" y2="103.41" stroke="#fff" stroke-width="0.7" stroke-opacity="0.5"/>
<line x1="40" y1="105.57" x2="218.5" y2="105.57" stroke="#fff" stroke-width="0.7" stroke-opacity="0.5"/>
<line x1="40" y1="107.72" x2="218.5" y2="107.72" stroke="#fff" stroke-width="0.7" stroke-opacity="0.5"/>
<line x1="40" y1="109.88" x2="218.5" y2="109.88" stroke="#fff" stroke-width="0.7" stroke-opacity="0.5"/>
<line x1="40" y1="112.04" x2="218.5" y2="112.04" stroke="#fff" stroke-width="0.7" stroke-opacity="0.5"/>
<line x1="40" y1="114.19" x2="218.5" y2="114.19" stroke="#fff" stroke-width="0.7" stroke-opacity="0.5"/>
<line x1="40" y1="116.35" x2="218.5" y2="116.35" stroke="#fff" stroke-width="0.7" stroke-opacity="0.5"/>
<line x1="40" y1="118.51" x2="218.5" y2="118.51" stroke="#fff" stroke-width="0.7" stroke-opacity="0.5"/>
<line x1="40" y1="120.66" x2="218.5" y2="120.66" stroke="#fff" stroke-width="0.7" stroke-opacity="0.5"/>
<line x1="40" y1="122.82" x2="218.5" y2="122.82" stroke="#fff" stroke-width="0.7" stroke-opacity="0.5"/>
<line x1="40" y1="124.97" x2="218.5" y2="124.97" stroke="#fff" stroke-width="0.7" stroke-opacity="0.5"/>
<line x1="40" y1="127.13" x2="218.5" y2="127.13" stroke="#fff" stroke-width="0.7" stroke-opacity="0.5"/>
<line x1="40" y1="129.29" x2="218.5" y2="129.29" stroke="#fff" stroke-width="0.7" stroke-opacity="0.5"/>
<line x1="40" y1="131.44" x2="218.5" y2="131.44" stroke="#fff" stroke-width="0.7" stroke-opacity="0.5"/>
<line x1="40" y1="133.6" x2="218.5" y2="133.6" stroke="#fff" stroke-width="0.7" stroke-opacity="0.5"/>
<line x1="40" y1="135.76" x2="218.5" y2="135.76" stroke="#fff" stroke-width="0.7" stroke-opacity="0.5"/>
<line x1="40" y1="137.91" x2="218.5" y2="137.91" stroke="#fff" stroke-width="0.7" stroke-opacity="0.5"/>
<line x1="40" y1="140.07" x2="218.5" y2="140.07" stroke="#fff" stroke-width="0.7" stroke-opacity="0.5"/>
<line x1="40" y1="142.22" x2="218.5" y2="142.22" stroke="#fff" stroke-width="0.7" stroke-opacity="0.5"/>
<line x1="40" y1="144.38" x2="218.5" y2="144.38" stroke="#fff" stroke-width="0.7" stroke-opacity="0.5"/>
<line x1="40" y1="146.54" x2="218.5" y2="146.54" stroke="#fff" stroke-width="0.7" stroke-opacity="0.5"/>
<line x1="40" y1="148.69" x2="218.5" y2="148.69" stroke="#fff" stroke-width="0.7" stroke-opacity="0.5"/>
<line x1="40" y1="150.85" x2="218.5" y2="150.85" stroke="#fff" stroke-width="0.7" stroke-opacity="0.5"/>
<line x1="40" y1="153.01" x2="218.5" y2="153.01" stroke="#fff" stroke-width="0.7" stroke-opacity="0.5"/>
<line x1="40" y1="155.16" x2="218.5" y2="155.16" stroke="#fff" stroke-width="0.7" stroke-opacity="0.5"/>
<line x1="40" y1="157.32" x2="218.5" y2="157.32" stroke="#fff" stroke-width="0.7" stroke-opacity="0.5"/>
<line x1="40" y1="159.47" x2="218.5" y2="159.47" stroke="#fff" stroke-width="0.7" stroke-opacity="0.5"/>
<line x1="40" y1="161.63" x2="218.5" y2="161.63" stroke="#fff" stroke-width="0.7" stroke-opacity="0.5"/>
<line x1="40" y1="163.79" x2="218.5" y2="163.79" stroke="#fff" stroke-width="0.7" stroke-opacity="0.5"/>
<line x1="40" y1="165.94" x2="218.5" y2="165.94" stroke="#fff" stroke-width="0.7" stroke-opacity="0.5"/>
<line x1="40" y1="168.1" x2="218.5" y2="168.1" stroke="#fff" stroke-width="0.7" stroke-opacity="0.5"/>
<line x1="40" y1="170.26" x2="218.5" y2="170.26" stroke="#fff" stroke-width="0.7" stroke-opacity="0.5"/>
<line x1="40" y1="172.41" x2="218.5" y2="172.41" stroke="#fff" stroke-width="0.7" stroke-opacity="0.5"/>
<line x1="40" y1="174.57" x2="218.5" y2="174.57" stroke="#fff" stroke-width="0.7" stroke-opacity="0.5"/>
<line x1="40" y1="176.72" x2="218.5" y2="176.72" stroke="#fff" stroke-width="0.7" stroke-opacity="0.5"/>
<line x1="40" y1="178.88" x2="218.5" y2="178.88" stroke="#fff" stroke-width="0.7" stroke-opacity="0.5"/>
<line x1="40" y1="181.04" x2="218.5" y2="181.04" stroke="#fff" stroke-width="0.7" stroke-opacity="0.5"/>
<line x1="40" y1="183.19" x2="218.5" y2="183.19" stroke="#fff" stroke-width="0.7" stroke-opacity="0.5"/>
<line x1="40" y1="185.35" x2="218.5" y2="185.35" stroke="#fff" stroke-width="0.7" stroke-opacity="0.5"/>
<line x1="40" y1="187.51" x2="218.5" y2="187.51" stroke="#fff" stroke-width="0.7" stroke-opacity="0.5"/>
<line x1="40" y1="189.66" x2="218.5" y2="189.66" stroke="#fff" stroke-width="0.7" stroke-opacity="0.5"/>
<line x1="40" y1="191.82" x2="218.5" y2="191.82" stroke="#fff" stroke-width="0.7" stroke-opacity="0.5"/>
<line x1="40" y1="193.97" x2="218.5" y2="193.97" stroke="#fff" stroke-width="0.7" stroke-opacity="0.5"/>
<line x1="40" y1="196.13" x2="218.5" y2="196.13" stroke="#fff" stroke-width="0.7" stroke-opacity="0.5"/>
<line x1="40" y1="198.29" x2="218.5" y2="198.29" stroke="#fff" stroke-width="0.7" stroke-opacity="0.5"/>
<line x1="40" y1="200.44" x2="218.5" y2="200.44" stroke="#fff" stroke-width="0.7" stroke-opacity="0.5"/>
<line x1="40" y1="202.6" x2="218.5" y2="202.6" stroke="#fff" stroke-width="0.7" stroke-opacity="0.5"/>
<line x1="40" y1="204.76" x2="218.5" y2="204.76" stroke="#fff" stroke-width="0.7" stroke-opacity="0.5"/>
<line x1="40" y1="206.91" x2="218.5" y2="206.91" stroke="#fff" stroke-width="0.7" stroke-opacity="0.5"/>
<line x1="40" y1="209.07" x2="218.5" y2="209.07" stroke="#fff" stroke-width="0.7" stroke-opacity="0.5"/>
<line x1="40" y1="211.22" x2="218.5" y2="211.22" stroke="#fff" stroke-width="0.7" stroke-opacity="0.5"/>
<line x1="40" y1="213.38" x2="218.5" y2="213.38" stroke="#fff" stroke-width="0.7" stroke-opacity="0.5"/>
<line x1="40" y1="215.54" x2="218.5" y2="215.54" stroke="#fff" stroke-width="0.7" stroke-opacity="0.5"/>
<line x1="40" y1="217.69" x2="218.5" y2="217.69" stroke="#fff" stroke-width="0.7" stroke-opacity="0.5"/>
<line x1="40" y1="219.85" x2="218.5" y2="219.85" stroke="#fff" stroke-width="0.7" stroke-opacity="0.5"/>
<line x1="40" y1="222.01" x2="218.5" y2="222.01" stroke="#fff" stroke-width="0.7" stroke-opacity="0.5"/>
<line x1="40" y1="224.16" x2="218.5" y2="224.16" stroke="#fff" stroke-width="0.7" stroke-opacity="0.5"/>
<line x1="40" y1="226.32" x2="218.5" y2="226.32" stroke="#fff" stroke-width="0.7" stroke-opacity="0.5"/>
<line x1="40" y1="228.47" x2="218.5" y2="228.47" stroke="#fff" stroke-width="0.7" stroke-opacity="0.5"/>
<line x1="40" y1="230.63" x2="218.5" y2="230.63" stroke="#fff" stroke-width="0.7" stroke-opacity="0.5"/>
<line x1="40" y1="232.79" x2="218.5" y2="232.79" stroke="#fff" stroke-width="0.7" stroke-opacity="0.5"/>
<line x1="40" y1="234.94" x2="218.5" y2="234.94" stroke="#fff" stroke-width="0.7" stroke-opacity="0.5"/>
<line x1="56.23" y1="64.6" x2="56.23" y2="237.1" stroke="#a0a0a0" stroke-width="0.6" stroke-opacity="0.8"/>
<line x1="72.45" y1="64.6" x2="72.45" y2="237.1" stroke="#a0a0a0" stroke-width="0.6" stroke-opacity="0.8"/>
<line x1="88.68" y1="64.6" x2="88.68" y2="237.1" stroke="#a0a0a0" stroke-width="0.6" stroke-opacity="0.8"/>
<line x1="104.91" y1="64.6" x2="104.91" y2="237.1" stroke="#a0a0a0" stroke-width="0.6" stroke-opacity="0.8"/>
<line x1="121.14" y1="64.6" x2="121.14" y2="237.1" stroke="#a0a0a0" stroke-width="0.6" stroke-opacity="0.8"/>
<line x1="137.36" y1="64.6" x2="137.36" y2="237.1" stroke="#a0a0a0" stroke-width="0.6" stroke-opacity="0.8"/>
<line x1="153.59" y1="64.6" x2="153.59" y2="237.1" stroke="#a0a0a0" stroke-width="0.6" stroke-opacity="0.8"/>
<line x1="169.82" y1="64.6" x2="169.82" y2="237.1" stroke="#a0a0a0" stroke-width="0.6" stroke-opacity="0.8"/>
<line x1="186.05" y1="64.6" x2="186.05" y2="237.1" stroke="#a0a0a0" stroke-width="0.6" stroke-opacity="0.8"/>
<line x1="202.27" y1="64.6" x2="202.27" y2="237.1" stroke="#a0a0a0" stroke-width="0.6" stroke-opacity="0.8"/>
<rect x="40.5" y="25.5" width="32.2" height="11.6" fill="#fff" stroke="#222" stroke-width="1.1"/>
<text x="56.6" y="34.2" font-size="7" fill="#333" text-anchor="middle">A</text>
<rect x="88.9" y="25.5" width="47.9" height="11.6" fill="#fff" stroke="#222" stroke-width="1.1"/>
<text x="112.85" y="34.2" font-size="7" fill="#333" text-anchor="middle">B</text>
<rect x="138.3" y="25.5" width="30.5" height="11.6" fill="#fff" stroke="#222" stroke-width="1.1"/>
<text x="153.55" y="34.2" font-size="7" fill="#333" text-anchor="middle">C</text>
<rect x="170.9" y="25.5" width="46.9" height="11.6" fill="#fff" stroke="#222" stroke-width="1.1"/>
<text x="194.35" y="34.2" font-size="7" fill="#333" text-anchor="middle">D</text>
<rect x="40" y="38.4" width="16.28" height="12.6" fill="#c0282e"/>
<text x="48.11" y="47.2" font-size="6.8" fill="#6e1416" text-anchor="middle">1</text>
<rect x="56.23" y="38.4" width="16.28" height="12.6" fill="#e07b30"/>
<text x="64.34" y="47.2" font-size="6.8" fill="#6a3410" text-anchor="middle">2</text>
<rect x="72.45" y="38.4" width="16.28" height="12.6" fill="#27245f"/>
<text x="80.57" y="47.2" font-size="6.8" fill="#b8b6e0" text-anchor="middle">3</text>
<rect x="88.68" y="38.4" width="16.28" height="12.6" fill="#6b2686"/>
<text x="96.8" y="47.2" font-size="6.8" fill="#dcc0ea" text-anchor="middle">4</text>
<rect x="104.91" y="38.4" width="16.28" height="12.6" fill="#8d97d8"/>
<text x="113.02" y="47.2" font-size="6.8" fill="#343a78" text-anchor="middle">5</text>
<rect x="121.14" y="38.4" width="16.28" height="12.6" fill="#9a56a6"/>
<text x="129.25" y="47.2" font-size="6.8" fill="#4a1a52" text-anchor="middle">6</text>
<rect x="137.36" y="38.4" width="16.28" height="12.6" fill="#c49858"/>
<text x="145.48" y="47.2" font-size="6.8" fill="#5a3c18" text-anchor="middle">7</text>
<rect x="153.59" y="38.4" width="16.28" height="12.6" fill="#f1e031"/>
<text x="161.7" y="47.2" font-size="6.8" fill="#5a5408" text-anchor="middle">8</text>
<rect x="169.82" y="38.4" width="16.28" height="12.6" fill="#91c9e1"/>
<text x="177.93" y="47.2" font-size="6.8" fill="#2e5060" text-anchor="middle">9</text>
<rect x="186.05" y="38.4" width="16.28" height="12.6" fill="#8fc768"/>
<text x="194.16" y="47.2" font-size="6.8" fill="#2e5218" text-anchor="middle">10</text>
<rect x="202.27" y="38.4" width="16.28" height="12.6" fill="#e0676f"/>
<text x="210.39" y="47.2" font-size="6.8" fill="#7a1a2a" text-anchor="middle">11</text>
<rect x="40" y="52.2" width="129.6" height="12.3" fill="#d0d0d0"/>
<rect x="169.6" y="52.2" width="48.9" height="12.3" fill="#8b8b8b"/>
<text x="105" y="60.4" font-size="6.8" fill="#444" text-anchor="middle">T1</text>
<text x="194" y="60.4" font-size="6.8" fill="#2a2a2a" text-anchor="middle">T2</text>
<text x="221.7" y="33.6" font-size="7" fill="#2a2a2a" textLength="20.4" lengthAdjust="spacingAndGlyphs">Branch</text>
<text x="221.7" y="47.1" font-size="7" fill="#2a2a2a" textLength="27.2" lengthAdjust="spacingAndGlyphs">Subclone</text>
<text x="221.7" y="59.8" font-size="7" fill="#2a2a2a" textLength="30" lengthAdjust="spacingAndGlyphs">Timepoint</text>
<line x1="218.5" y1="110" x2="222.6" y2="110" stroke="#222" stroke-width="0.9"/>
<text x="226" y="112.2" font-size="7" fill="#2a2a2a" textLength="13" lengthAdjust="spacingAndGlyphs">IRF4</text>
<line x1="218.5" y1="182.1" x2="222.6" y2="182.1" stroke="#222" stroke-width="0.9"/>
<text x="226" y="184.3" font-size="7" fill="#2a2a2a" textLength="29.1" lengthAdjust="spacingAndGlyphs">POU5F1B</text>
<line x1="218.5" y1="220.2" x2="222.6" y2="220.2" stroke="#222" stroke-width="0.9"/>
<text x="226" y="222.4" font-size="7" fill="#2a2a2a" textLength="15.4" lengthAdjust="spacingAndGlyphs">TCF3</text>
<line x1="38.3" y1="67.6" x2="38.3" y2="102.4" stroke="#333" stroke-width="1"/>
<line x1="38.3" y1="105.2" x2="38.3" y2="139.8" stroke="#333" stroke-width="1"/>
<line x1="38.3" y1="181.2" x2="38.3" y2="212.6" stroke="#333" stroke-width="1"/>
<text x="20.8" y="82.9" font-size="7" fill="#2a2a2a" textLength="28.6" lengthAdjust="spacingAndGlyphs" text-anchor="middle">JUN/FOS</text>
<text x="20.8" y="90.7" font-size="7" fill="#2a2a2a" textLength="17.6" lengthAdjust="spacingAndGlyphs" text-anchor="middle">family</text>
<text x="20.8" y="109.9" font-size="7" fill="#2a2a2a" textLength="9.7" lengthAdjust="spacingAndGlyphs" text-anchor="middle">IRF</text>
<text x="20.8" y="117.6" font-size="7" fill="#2a2a2a" textLength="17.6" lengthAdjust="spacingAndGlyphs" text-anchor="middle">family</text>
<text x="20.8" y="127.9" font-size="7" fill="#2a2a2a" textLength="13.2" lengthAdjust="spacingAndGlyphs" text-anchor="middle">FOX</text>
<text x="20.8" y="135.8" font-size="7" fill="#2a2a2a" textLength="17.6" lengthAdjust="spacingAndGlyphs" text-anchor="middle">family</text>
<text x="21" y="194.9" font-size="7" fill="#2a2a2a" textLength="27.8" lengthAdjust="spacingAndGlyphs" text-anchor="middle">POU/ETS</text>
<text x="20.8" y="202.3" font-size="7" fill="#2a2a2a" textLength="17.6" lengthAdjust="spacingAndGlyphs" text-anchor="middle">family</text>
<polygon points="286.2,75.8 290.5,75.1 295.5,78.7 300.4,83.6 301.9,89.3 301.9,100.7 301.2,110.7 297.6,120.6 291.9,125.6 284.8,125.6 279.8,122.8 277,114.9 277.4,103.6 279.1,95 282,86.5 284.8,78.7" fill="#fff" stroke="#111" stroke-width="1" stroke-linejoin="round"/>
<polygon points="286.63,78.84 290.37,78.23 294.72,81.37 298.98,85.63 300.29,90.59 300.29,100.51 299.68,109.2 296.55,117.82 291.59,122.17 285.41,122.17 281.06,119.73 278.62,112.86 278.97,103.03 280.45,95.55 282.98,88.15 285.41,81.37" fill="#7e7e7e" stroke="none" stroke-width="1" stroke-linejoin="round"/>
<g fill-opacity="1"><circle cx="285.85" cy="121.48" r="0.5" fill="#a8a8a8"/><circle cx="297.54" cy="93.38" r="0.5" fill="#9a9a9a"/><circle cx="283.03" cy="99.86" r="0.5" fill="#8c8c8c"/><circle cx="294.07" cy="83.84" r="0.5" fill="#9a9a9a"/><circle cx="300.21" cy="95.76" r="0.5" fill="#a8a8a8"/><circle cx="290.63" cy="96.07" r="0.5" fill="#9a9a9a"/><circle cx="291.06" cy="95.74" r="0.5" fill="#6e6e6e"/><circle cx="296.43" cy="99.1" r="0.5" fill="#6e6e6e"/><circle cx="289.47" cy="102.12" r="0.5" fill="#a8a8a8"/><circle cx="286.77" cy="84.69" r="0.5" fill="#9a9a9a"/><circle cx="293.22" cy="108.51" r="0.5" fill="#9a9a9a"/><circle cx="279.48" cy="106.07" r="0.5" fill="#9a9a9a"/><circle cx="292.17" cy="85.87" r="0.5" fill="#6e6e6e"/><circle cx="293" cy="116.42" r="0.5" fill="#8c8c8c"/><circle cx="287.76" cy="82.65" r="0.5" fill="#8c8c8c"/><circle cx="297.51" cy="84.33" r="0.5" fill="#8c8c8c"/><circle cx="285.33" cy="109.43" r="0.5" fill="#8c8c8c"/><circle cx="297.31" cy="86.35" r="0.5" fill="#6e6e6e"/><circle cx="290.89" cy="103.64" r="0.5" fill="#6e6e6e"/><circle cx="298.42" cy="100.1" r="0.5" fill="#8c8c8c"/><circle cx="289.94" cy="114.47" r="0.5" fill="#9a9a9a"/><circle cx="295.39" cy="96.73" r="0.5" fill="#6e6e6e"/><circle cx="293.7" cy="96.01" r="0.5" fill="#6e6e6e"/><circle cx="280.08" cy="108.11" r="0.5" fill="#9a9a9a"/><circle cx="291.49" cy="121.87" r="0.5" fill="#6e6e6e"/><circle cx="292.91" cy="85.06" r="0.5" fill="#9a9a9a"/><circle cx="295.3" cy="102.34" r="0.5" fill="#a8a8a8"/><circle cx="280.42" cy="98.98" r="0.5" fill="#a8a8a8"/><circle cx="298.03" cy="105.78" r="0.5" fill="#6e6e6e"/><circle cx="287.88" cy="78.64" r="0.5" fill="#8c8c8c"/><circle cx="297.22" cy="87.82" r="0.5" fill="#a8a8a8"/><circle cx="281.25" cy="98.98" r="0.5" fill="#6e6e6e"/><circle cx="284.59" cy="103.23" r="0.5" fill="#a8a8a8"/><circle cx="288.39" cy="110.93" r="0.5" fill="#6e6e6e"/><circle cx="298.62" cy="94.31" r="0.5" fill="#9a9a9a"/><circle cx="294.81" cy="108.76" r="0.5" fill="#a8a8a8"/><circle cx="281.76" cy="111.59" r="0.5" fill="#8c8c8c"/><circle cx="284.98" cy="102.73" r="0.5" fill="#a8a8a8"/><circle cx="289.42" cy="107.65" r="0.5" fill="#8c8c8c"/><circle cx="293.5" cy="105.39" r="0.5" fill="#6e6e6e"/><circle cx="287.05" cy="91.96" r="0.5" fill="#9a9a9a"/><circle cx="291.63" cy="120.31" r="0.5" fill="#a8a8a8"/><circle cx="296.71" cy="104.99" r="0.5" fill="#9a9a9a"/><circle cx="285.48" cy="119.92" r="0.5" fill="#8c8c8c"/><circle cx="294.39" cy="98.87" r="0.5" fill="#9a9a9a"/><circle cx="282.18" cy="113.46" r="0.5" fill="#a8a8a8"/><circle cx="288.96" cy="112.42" r="0.5" fill="#6e6e6e"/><circle cx="288.43" cy="90.18" r="0.5" fill="#8c8c8c"/><circle cx="294.98" cy="92.9" r="0.5" fill="#9a9a9a"/><circle cx="284.69" cy="105.55" r="0.5" fill="#8c8c8c"/><circle cx="292.73" cy="113.47" r="0.5" fill="#8c8c8c"/><circle cx="291.62" cy="116.44" r="0.5" fill="#6e6e6e"/><circle cx="281.9" cy="114.81" r="0.5" fill="#6e6e6e"/><circle cx="291.29" cy="121.13" r="0.5" fill="#6e6e6e"/><circle cx="283.96" cy="95.25" r="0.5" fill="#9a9a9a"/><circle cx="286.77" cy="112.13" r="0.5" fill="#9a9a9a"/><circle cx="283.7" cy="98.06" r="0.5" fill="#9a9a9a"/><circle cx="293.54" cy="92.36" r="0.5" fill="#a8a8a8"/><circle cx="284.43" cy="85.14" r="0.5" fill="#a8a8a8"/><circle cx="298.57" cy="111.77" r="0.5" fill="#9a9a9a"/><circle cx="295.59" cy="90.91" r="0.5" fill="#9a9a9a"/><circle cx="281.67" cy="117.36" r="0.5" fill="#a8a8a8"/><circle cx="290.49" cy="112.37" r="0.5" fill="#9a9a9a"/><circle cx="289.46" cy="101.72" r="0.5" fill="#9a9a9a"/><circle cx="290.32" cy="99.53" r="0.5" fill="#6e6e6e"/><circle cx="286.89" cy="112.84" r="0.5" fill="#8c8c8c"/><circle cx="287.19" cy="109.35" r="0.5" fill="#9a9a9a"/><circle cx="298.68" cy="104" r="0.5" fill="#a8a8a8"/><circle cx="290.34" cy="101.79" r="0.5" fill="#9a9a9a"/><circle cx="286.32" cy="80.98" r="0.5" fill="#a8a8a8"/><circle cx="287.25" cy="101.12" r="0.5" fill="#a8a8a8"/><circle cx="284.25" cy="114.85" r="0.5" fill="#8c8c8c"/><circle cx="285.58" cy="100.47" r="0.5" fill="#9a9a9a"/><circle cx="280.62" cy="113.64" r="0.5" fill="#9a9a9a"/><circle cx="284.9" cy="103.62" r="0.5" fill="#a8a8a8"/><circle cx="286.4" cy="112.49" r="0.5" fill="#9a9a9a"/><circle cx="297.19" cy="89.05" r="0.5" fill="#6e6e6e"/><circle cx="298.61" cy="99.9" r="0.5" fill="#8c8c8c"/><circle cx="297.39" cy="94.56" r="0.5" fill="#6e6e6e"/><circle cx="288.66" cy="81.82" r="0.5" fill="#9a9a9a"/><circle cx="284.7" cy="104.91" r="0.5" fill="#8c8c8c"/><circle cx="297.49" cy="103.08" r="0.5" fill="#a8a8a8"/><circle cx="291.33" cy="87.62" r="0.5" fill="#6e6e6e"/><circle cx="298.67" cy="90.53" r="0.5" fill="#a8a8a8"/><circle cx="280.73" cy="97.87" r="0.5" fill="#a8a8a8"/><circle cx="291.47" cy="104.98" r="0.5" fill="#8c8c8c"/><circle cx="281.46" cy="115.3" r="0.5" fill="#9a9a9a"/><circle cx="285.97" cy="121.93" r="0.5" fill="#a8a8a8"/><circle cx="286.82" cy="79.44" r="0.5" fill="#6e6e6e"/><circle cx="293.91" cy="99.62" r="0.5" fill="#8c8c8c"/><circle cx="297.32" cy="106.34" r="0.5" fill="#6e6e6e"/><circle cx="298.6" cy="109.27" r="0.5" fill="#8c8c8c"/><circle cx="298.57" cy="100.49" r="0.5" fill="#a8a8a8"/><circle cx="282.58" cy="115.56" r="0.5" fill="#6e6e6e"/><circle cx="286.66" cy="88.56" r="0.5" fill="#a8a8a8"/><circle cx="294.24" cy="85.8" r="0.5" fill="#6e6e6e"/><circle cx="279.91" cy="102.52" r="0.5" fill="#6e6e6e"/><circle cx="284.21" cy="100.79" r="0.5" fill="#a8a8a8"/><circle cx="294.65" cy="111.7" r="0.5" fill="#9a9a9a"/><circle cx="289.1" cy="82.67" r="0.5" fill="#8c8c8c"/><circle cx="282.93" cy="111.11" r="0.5" fill="#a8a8a8"/><circle cx="291.4" cy="97.62" r="0.5" fill="#8c8c8c"/><circle cx="292.76" cy="98.91" r="0.5" fill="#8c8c8c"/><circle cx="286.68" cy="95.37" r="0.5" fill="#6e6e6e"/><circle cx="286.75" cy="94.91" r="0.5" fill="#6e6e6e"/><circle cx="288.19" cy="113.71" r="0.5" fill="#9a9a9a"/><circle cx="288.76" cy="118.33" r="0.5" fill="#a8a8a8"/><circle cx="295.93" cy="85.13" r="0.5" fill="#8c8c8c"/><circle cx="292.03" cy="94.62" r="0.5" fill="#8c8c8c"/><circle cx="294.85" cy="112.43" r="0.5" fill="#a8a8a8"/><circle cx="286.97" cy="79.19" r="0.5" fill="#a8a8a8"/><circle cx="285.61" cy="88.51" r="0.5" fill="#6e6e6e"/><circle cx="281.13" cy="94.31" r="0.5" fill="#a8a8a8"/><circle cx="285.82" cy="110.57" r="0.5" fill="#a8a8a8"/><circle cx="282.53" cy="98.06" r="0.5" fill="#8c8c8c"/><circle cx="297.89" cy="97.52" r="0.5" fill="#a8a8a8"/><circle cx="281.86" cy="96.61" r="0.5" fill="#9a9a9a"/><circle cx="290.99" cy="91.26" r="0.5" fill="#9a9a9a"/><circle cx="296.05" cy="89.69" r="0.5" fill="#8c8c8c"/><circle cx="280.99" cy="98.28" r="0.5" fill="#9a9a9a"/><circle cx="289.08" cy="84.97" r="0.5" fill="#a8a8a8"/><circle cx="289.75" cy="105.96" r="0.5" fill="#6e6e6e"/><circle cx="290.76" cy="114.93" r="0.5" fill="#9a9a9a"/><circle cx="281.21" cy="111.4" r="0.5" fill="#6e6e6e"/><circle cx="299.65" cy="97.22" r="0.5" fill="#6e6e6e"/><circle cx="284.29" cy="88.72" r="0.5" fill="#a8a8a8"/><circle cx="283.78" cy="95.37" r="0.5" fill="#9a9a9a"/><circle cx="287.63" cy="85.36" r="0.5" fill="#8c8c8c"/><circle cx="281.75" cy="106.34" r="0.5" fill="#8c8c8c"/><circle cx="288.2" cy="100.54" r="0.5" fill="#6e6e6e"/><circle cx="289.69" cy="97.7" r="0.5" fill="#a8a8a8"/><circle cx="284.83" cy="94.05" r="0.5" fill="#a8a8a8"/><circle cx="284.62" cy="86.17" r="0.5" fill="#8c8c8c"/><circle cx="296.89" cy="101.15" r="0.5" fill="#8c8c8c"/><circle cx="291.64" cy="114.65" r="0.5" fill="#a8a8a8"/><circle cx="297.89" cy="110.34" r="0.5" fill="#9a9a9a"/><circle cx="295.12" cy="85.94" r="0.5" fill="#6e6e6e"/><circle cx="281.59" cy="107.67" r="0.5" fill="#a8a8a8"/><circle cx="292.24" cy="86.68" r="0.5" fill="#8c8c8c"/><circle cx="293.62" cy="101.06" r="0.5" fill="#6e6e6e"/><circle cx="289.86" cy="93.51" r="0.5" fill="#9a9a9a"/><circle cx="284.73" cy="106.32" r="0.5" fill="#9a9a9a"/><circle cx="287.5" cy="111.75" r="0.5" fill="#6e6e6e"/><circle cx="281.51" cy="107.47" r="0.5" fill="#9a9a9a"/><circle cx="284" cy="102.97" r="0.5" fill="#6e6e6e"/><circle cx="293.84" cy="103.49" r="0.5" fill="#6e6e6e"/><circle cx="297.21" cy="93.88" r="0.5" fill="#8c8c8c"/><circle cx="283.93" cy="114.7" r="0.5" fill="#6e6e6e"/><circle cx="298.39" cy="112.46" r="0.5" fill="#a8a8a8"/><circle cx="297.43" cy="103.55" r="0.5" fill="#9a9a9a"/><circle cx="298.08" cy="91.04" r="0.5" fill="#6e6e6e"/><circle cx="280.96" cy="110.35" r="0.5" fill="#6e6e6e"/><circle cx="288.3" cy="79.36" r="0.5" fill="#6e6e6e"/><circle cx="296.05" cy="84.14" r="0.5" fill="#a8a8a8"/><circle cx="292.04" cy="85.61" r="0.5" fill="#a8a8a8"/><circle cx="285.38" cy="102.63" r="0.5" fill="#a8a8a8"/><circle cx="298.69" cy="110.69" r="0.5" fill="#a8a8a8"/><circle cx="284.29" cy="115.02" r="0.5" fill="#6e6e6e"/><circle cx="292.42" cy="98.62" r="0.5" fill="#6e6e6e"/><circle cx="283.79" cy="97.75" r="0.5" fill="#a8a8a8"/></g>
<g fill-opacity="1"><circle cx="289.55" cy="82.99" r="0.55" fill="#d0d0d0"/><circle cx="291.31" cy="82.33" r="0.55" fill="#d0d0d0"/><circle cx="289.82" cy="81.01" r="0.55" fill="#d0d0d0"/><circle cx="291.38" cy="81.65" r="0.55" fill="#d0d0d0"/><circle cx="289.35" cy="81.62" r="0.55" fill="#d0d0d0"/><circle cx="291.9" cy="85.29" r="0.55" fill="#d0d0d0"/><circle cx="289.4" cy="85.32" r="0.55" fill="#d0d0d0"/><circle cx="289.55" cy="82.99" r="0.55" fill="#d0d0d0"/><circle cx="289.59" cy="83.53" r="0.55" fill="#d0d0d0"/><circle cx="290.03" cy="84.87" r="0.55" fill="#d0d0d0"/></g>
<polygon points="355.1,24.9 360.8,31.5 361.8,36.2 358.2,41.5 354.2,43.8 352.3,38.5 352,32.3" fill="#ececec" stroke="#111" stroke-width="0.9" stroke-linejoin="round"/>
<g fill-opacity="1"><circle cx="358.01" cy="34.03" r="0.5" fill="#b8b8b8"/><circle cx="357.71" cy="34.29" r="0.5" fill="#b8b8b8"/><circle cx="355.09" cy="33.8" r="0.5" fill="#b8b8b8"/><circle cx="356.68" cy="36.51" r="0.5" fill="#b8b8b8"/><circle cx="354.84" cy="33.93" r="0.5" fill="#b8b8b8"/><circle cx="356.1" cy="37.85" r="0.5" fill="#b8b8b8"/><circle cx="359.02" cy="35.81" r="0.5" fill="#b8b8b8"/><circle cx="357.8" cy="37.62" r="0.5" fill="#b8b8b8"/><circle cx="354.28" cy="33.26" r="0.5" fill="#b8b8b8"/><circle cx="355.89" cy="30" r="0.5" fill="#b8b8b8"/><circle cx="355.56" cy="31.14" r="0.5" fill="#b8b8b8"/><circle cx="357.59" cy="32.5" r="0.5" fill="#b8b8b8"/><circle cx="355.76" cy="39.76" r="0.5" fill="#b8b8b8"/><circle cx="357.45" cy="35.09" r="0.5" fill="#b8b8b8"/><circle cx="358.99" cy="33.83" r="0.5" fill="#b8b8b8"/><circle cx="354.09" cy="35.56" r="0.5" fill="#b8b8b8"/><circle cx="354.36" cy="35.61" r="0.5" fill="#b8b8b8"/><circle cx="357.45" cy="37.35" r="0.5" fill="#b8b8b8"/><circle cx="356.07" cy="30.27" r="0.5" fill="#b8b8b8"/><circle cx="354.77" cy="37.87" r="0.5" fill="#b8b8b8"/><circle cx="357.07" cy="39.03" r="0.5" fill="#b8b8b8"/><circle cx="359" cy="34.98" r="0.5" fill="#b8b8b8"/><circle cx="356.79" cy="34.93" r="0.5" fill="#b8b8b8"/><circle cx="359.31" cy="34.71" r="0.5" fill="#b8b8b8"/><circle cx="356.49" cy="34.03" r="0.5" fill="#b8b8b8"/></g>
<polygon points="366.2,32 370.5,35.4 372,41.5 371.1,50.8 370.5,56.9 358.5,50 360,41.5 362.3,36.2" fill="#f4f4f4" stroke="none" stroke-width="1" stroke-linejoin="round"/>
<polygon points="358.5,50 370.5,56.9 371.1,64.6 369.2,73.8 367.7,77.7 363.1,78.5 360.8,79.2 356.9,74.6 353.8,69.2 351.5,63.1 354.6,56.9" fill="#f4f4f4" stroke="none" stroke-width="1" stroke-linejoin="round"/>
<polygon points="366.23,33.55 369.92,36.47 371.21,41.72 370.44,49.71 369.92,54.96 359.6,49.03 360.89,41.72 362.87,37.16" fill="#c6c6c6" stroke="none" stroke-width="1" stroke-linejoin="round"/>
<polygon points="358.87,52.12 369.43,58.19 369.96,64.97 368.29,73.07 366.97,76.5 362.92,77.2 360.9,77.82 357.47,73.77 354.74,69.02 352.71,63.65 355.44,58.19" fill="#c6c6c6" stroke="none" stroke-width="1" stroke-linejoin="round"/>
<g fill-opacity="1"><circle cx="368.9" cy="47.47" r="0.5" fill="#b4b4b4"/><circle cx="367.55" cy="45.94" r="0.5" fill="#dadada"/><circle cx="366.9" cy="51.95" r="0.5" fill="#b4b4b4"/><circle cx="361.83" cy="46.91" r="0.5" fill="#b4b4b4"/><circle cx="364.2" cy="49.91" r="0.5" fill="#b4b4b4"/><circle cx="362.37" cy="38.32" r="0.5" fill="#b4b4b4"/><circle cx="361.45" cy="46.12" r="0.5" fill="#b4b4b4"/><circle cx="369.67" cy="43.3" r="0.5" fill="#dadada"/><circle cx="364.46" cy="38.94" r="0.5" fill="#b4b4b4"/><circle cx="369.9" cy="54.52" r="0.5" fill="#dadada"/><circle cx="360.39" cy="48.05" r="0.5" fill="#dadada"/><circle cx="367.44" cy="46.07" r="0.5" fill="#b4b4b4"/><circle cx="364.4" cy="42.08" r="0.5" fill="#b4b4b4"/><circle cx="361.58" cy="41.66" r="0.5" fill="#b4b4b4"/><circle cx="364.2" cy="41.32" r="0.5" fill="#dadada"/><circle cx="363.5" cy="47.49" r="0.5" fill="#b4b4b4"/><circle cx="370.76" cy="42.59" r="0.5" fill="#dadada"/><circle cx="370.2" cy="45.41" r="0.5" fill="#b4b4b4"/><circle cx="364.1" cy="43.55" r="0.5" fill="#b4b4b4"/><circle cx="363.6" cy="42.87" r="0.5" fill="#dadada"/><circle cx="368.95" cy="38.72" r="0.5" fill="#dadada"/><circle cx="365.93" cy="50.41" r="0.5" fill="#b4b4b4"/><circle cx="366.05" cy="43.55" r="0.5" fill="#dadada"/><circle cx="368.83" cy="38.69" r="0.5" fill="#b4b4b4"/><circle cx="363.88" cy="38.18" r="0.5" fill="#dadada"/><circle cx="364.31" cy="47.02" r="0.5" fill="#dadada"/><circle cx="366.35" cy="39.91" r="0.5" fill="#b4b4b4"/><circle cx="365.13" cy="37.92" r="0.5" fill="#dadada"/><circle cx="369.57" cy="48.01" r="0.5" fill="#dadada"/><circle cx="366.52" cy="42.97" r="0.5" fill="#b4b4b4"/><circle cx="364.3" cy="44.47" r="0.5" fill="#dadada"/><circle cx="361.06" cy="49.62" r="0.5" fill="#b4b4b4"/><circle cx="367.47" cy="35.5" r="0.5" fill="#dadada"/><circle cx="369.49" cy="49.3" r="0.5" fill="#b4b4b4"/><circle cx="367.94" cy="36.65" r="0.5" fill="#dadada"/><circle cx="359.78" cy="48.76" r="0.5" fill="#b4b4b4"/><circle cx="367.67" cy="50.17" r="0.5" fill="#dadada"/><circle cx="370.21" cy="50.79" r="0.5" fill="#dadada"/><circle cx="368.41" cy="37.67" r="0.5" fill="#b4b4b4"/><circle cx="367.95" cy="35.43" r="0.5" fill="#b4b4b4"/></g>
<g fill-opacity="1"><circle cx="368.68" cy="69.34" r="0.5" fill="#b4b4b4"/><circle cx="362.64" cy="76.16" r="0.5" fill="#b4b4b4"/><circle cx="364.02" cy="75.28" r="0.5" fill="#b4b4b4"/><circle cx="367.81" cy="67.16" r="0.5" fill="#b4b4b4"/><circle cx="358.21" cy="72.09" r="0.5" fill="#dadada"/><circle cx="359.91" cy="71.24" r="0.5" fill="#b4b4b4"/><circle cx="356.52" cy="65.67" r="0.5" fill="#b4b4b4"/><circle cx="360.35" cy="60.87" r="0.5" fill="#dadada"/><circle cx="361.39" cy="69.81" r="0.5" fill="#dadada"/><circle cx="367.18" cy="68.21" r="0.5" fill="#dadada"/><circle cx="361.49" cy="69.51" r="0.5" fill="#b4b4b4"/><circle cx="356.27" cy="69.42" r="0.5" fill="#dadada"/><circle cx="367.31" cy="72.12" r="0.5" fill="#dadada"/><circle cx="361.16" cy="56.99" r="0.5" fill="#b4b4b4"/><circle cx="362.36" cy="56.61" r="0.5" fill="#b4b4b4"/><circle cx="356.78" cy="58.81" r="0.5" fill="#b4b4b4"/><circle cx="358.7" cy="54.5" r="0.5" fill="#dadada"/><circle cx="363.69" cy="55.65" r="0.5" fill="#b4b4b4"/><circle cx="364.55" cy="64.62" r="0.5" fill="#b4b4b4"/><circle cx="361.04" cy="70.25" r="0.5" fill="#b4b4b4"/><circle cx="355.01" cy="68.59" r="0.5" fill="#dadada"/><circle cx="364.75" cy="55.55" r="0.5" fill="#dadada"/><circle cx="364.92" cy="67.22" r="0.5" fill="#dadada"/><circle cx="356.87" cy="68.29" r="0.5" fill="#dadada"/><circle cx="354.75" cy="63.03" r="0.5" fill="#dadada"/><circle cx="368.95" cy="69.52" r="0.5" fill="#dadada"/><circle cx="367.19" cy="62.56" r="0.5" fill="#b4b4b4"/><circle cx="356.27" cy="69.86" r="0.5" fill="#dadada"/><circle cx="357.95" cy="54.96" r="0.5" fill="#dadada"/><circle cx="355.5" cy="63.56" r="0.5" fill="#b4b4b4"/><circle cx="362.53" cy="59.56" r="0.5" fill="#b4b4b4"/><circle cx="360.79" cy="77.3" r="0.5" fill="#dadada"/><circle cx="361.09" cy="71.32" r="0.5" fill="#b4b4b4"/><circle cx="358.43" cy="71.11" r="0.5" fill="#dadada"/><circle cx="357.27" cy="68.7" r="0.5" fill="#dadada"/><circle cx="369.21" cy="64.67" r="0.5" fill="#dadada"/><circle cx="366.23" cy="60.39" r="0.5" fill="#b4b4b4"/><circle cx="358.91" cy="54.46" r="0.5" fill="#dadada"/><circle cx="357.65" cy="67.88" r="0.5" fill="#b4b4b4"/><circle cx="365.32" cy="70.09" r="0.5" fill="#dadada"/><circle cx="359.53" cy="55.85" r="0.5" fill="#dadada"/><circle cx="361.78" cy="75.14" r="0.5" fill="#dadada"/><circle cx="365.11" cy="60.1" r="0.5" fill="#b4b4b4"/><circle cx="363.35" cy="61.87" r="0.5" fill="#b4b4b4"/><circle cx="363.88" cy="61.28" r="0.5" fill="#dadada"/><circle cx="359.67" cy="53.42" r="0.5" fill="#dadada"/><circle cx="356.45" cy="62.99" r="0.5" fill="#b4b4b4"/><circle cx="363.11" cy="68.22" r="0.5" fill="#dadada"/><circle cx="355.1" cy="68.48" r="0.5" fill="#dadada"/><circle cx="367.39" cy="64.44" r="0.5" fill="#b4b4b4"/><circle cx="356.48" cy="61.69" r="0.5" fill="#dadada"/><circle cx="367.09" cy="65.26" r="0.5" fill="#b4b4b4"/><circle cx="355.75" cy="70.75" r="0.5" fill="#dadada"/><circle cx="366.58" cy="69.47" r="0.5" fill="#dadada"/><circle cx="362.5" cy="64.17" r="0.5" fill="#b4b4b4"/><circle cx="362.07" cy="65.4" r="0.5" fill="#dadada"/><circle cx="360.1" cy="65.86" r="0.5" fill="#dadada"/><circle cx="363.51" cy="56.09" r="0.5" fill="#dadada"/><circle cx="359.64" cy="67.77" r="0.5" fill="#b4b4b4"/><circle cx="365.18" cy="60.64" r="0.5" fill="#b4b4b4"/></g>
<polygon points="366.2,32 370.5,35.4 372,41.5 371.1,50.8 370.5,56.9 358.5,50 360,41.5 362.3,36.2" fill="none" stroke="#111" stroke-width="0.9" stroke-linejoin="round"/>
<polygon points="358.5,50 370.5,56.9 371.1,64.6 369.2,73.8 367.7,77.7 363.1,78.5 360.8,79.2 356.9,74.6 353.8,69.2 351.5,63.1 354.6,56.9" fill="none" stroke="#111" stroke-width="0.9" stroke-linejoin="round"/>
<rect x="371.8" y="61" width="4.2" height="15.2" fill="#d0d0d0" rx="1.5"/>
<line x1="346.9" y1="38.6" x2="351.6" y2="36.4" stroke="#111" stroke-width="0.8"/>
<line x1="350.6" y1="49.6" x2="360.5" y2="43.6" stroke="#111" stroke-width="0.8"/>
<line x1="348.5" y1="71.6" x2="353.2" y2="69.3" stroke="#111" stroke-width="0.8"/>
<line x1="302.6" y1="96.4" x2="306.9" y2="94.3" stroke="#111" stroke-width="0.8"/>
<text x="317.7" y="42" font-size="6.9" fill="#333" textLength="26.1" lengthAdjust="spacingAndGlyphs">Branch A</text>
<text x="321.5" y="53.8" font-size="6.9" fill="#333" textLength="26.2" lengthAdjust="spacingAndGlyphs">Branch C</text>
<text x="321" y="75.4" font-size="6.9" fill="#333" textLength="26" lengthAdjust="spacingAndGlyphs">Branch B</text>
<text x="308.7" y="95.7" font-size="6.9" fill="#333" textLength="26.6" lengthAdjust="spacingAndGlyphs">Branch D</text>
<circle cx="347.5" cy="117.1" r="8.4" fill="#c4c4c4"/>
<circle cx="369.2" cy="117.1" r="8.4" fill="#7b7b7b"/>
<text x="347.5" y="119.5" font-size="6.9" fill="#333" text-anchor="middle">T1</text>
<text x="369.2" y="119.5" font-size="6.5" fill="#2a2a2a" text-anchor="middle">T2</text>
<polygon points="397.01,81.57 399.8,84.36 402.59,90.87 405.38,100.17 406.31,109.47 404.45,117.84 399.8,122.02 393.29,122.02 389.11,117.84 388.64,109.47 389.57,100.17 392.36,90.87 395.15,84.36" fill="#6a84cc" stroke="none" stroke-width="1" stroke-linejoin="round" fill-opacity="0.55"/>
<g fill-opacity="1"><circle cx="390.18" cy="111.68" r="0.62" fill="#768dd2"/><circle cx="394.74" cy="95.96" r="0.62" fill="#4c69c5"/><circle cx="403.99" cy="114.98" r="0.62" fill="#4f6cc6"/><circle cx="392.86" cy="90.41" r="0.62" fill="#5a75c9"/><circle cx="397.75" cy="102.82" r="0.62" fill="#657fcd"/><circle cx="394.78" cy="101.27" r="0.62" fill="#5672c8"/><circle cx="403.51" cy="95.37" r="0.62" fill="#617bcb"/><circle cx="394.76" cy="94.24" r="0.62" fill="#6e89d5"/><circle cx="394.73" cy="110.19" r="0.62" fill="#6a86d4"/><circle cx="396.36" cy="114.42" r="0.62" fill="#6d85cf"/><circle cx="397.27" cy="83.21" r="0.62" fill="#4765c3"/><circle cx="400.72" cy="116.37" r="0.62" fill="#5b76ca"/><circle cx="399.18" cy="90.89" r="0.62" fill="#869cdb"/><circle cx="393.11" cy="99.32" r="0.62" fill="#607ccf"/><circle cx="397.26" cy="101.05" r="0.62" fill="#5f7bcf"/><circle cx="388.6" cy="116.42" r="0.62" fill="#7c95d9"/><circle cx="389.42" cy="106.99" r="0.62" fill="#6d88d4"/><circle cx="400.25" cy="106.1" r="0.62" fill="#405fc1"/><circle cx="401.17" cy="99.51" r="0.62" fill="#3a54ad"/><circle cx="392.35" cy="121.67" r="0.62" fill="#8398da"/><circle cx="397.82" cy="95.7" r="0.62" fill="#526ec7"/><circle cx="398.04" cy="93.54" r="0.62" fill="#758fd7"/><circle cx="390.49" cy="107.17" r="0.62" fill="#637ccc"/><circle cx="392.02" cy="115.63" r="0.62" fill="#839adb"/><circle cx="401.82" cy="94.41" r="0.62" fill="#7790d7"/><circle cx="396.9" cy="120.78" r="0.62" fill="#6176bd"/><circle cx="393.97" cy="94.59" r="0.62" fill="#6f8ad5"/><circle cx="397.19" cy="89.86" r="0.62" fill="#5873c9"/><circle cx="392.73" cy="118.12" r="0.62" fill="#6d85cf"/><circle cx="399.56" cy="107.44" r="0.62" fill="#647ecd"/><circle cx="395.3" cy="82.76" r="0.62" fill="#6b7fc1"/><circle cx="398.9" cy="105.42" r="0.62" fill="#6a82ce"/><circle cx="390.64" cy="110.39" r="0.62" fill="#4261c2"/><circle cx="396.1" cy="104.87" r="0.62" fill="#607ccf"/><circle cx="389.88" cy="114.45" r="0.62" fill="#6982ce"/><circle cx="403.07" cy="90.35" r="0.62" fill="#6580d1"/><circle cx="394.49" cy="95.78" r="0.62" fill="#6883d2"/><circle cx="404.58" cy="111.13" r="0.62" fill="#5c78ce"/><circle cx="394.35" cy="110.63" r="0.62" fill="#7d95d9"/><circle cx="400.76" cy="118.44" r="0.62" fill="#4362c2"/><circle cx="402.87" cy="101.91" r="0.62" fill="#5b71ba"/><circle cx="404.99" cy="115.2" r="0.62" fill="#6c84cf"/><circle cx="391.9" cy="118.66" r="0.62" fill="#6d85cf"/><circle cx="400.76" cy="97.62" r="0.62" fill="#7890d6"/><circle cx="395.53" cy="113.6" r="0.62" fill="#6b83cf"/><circle cx="405.66" cy="105.53" r="0.62" fill="#637ccc"/><circle cx="390.73" cy="111.31" r="0.62" fill="#4463c2"/><circle cx="392.79" cy="104.88" r="0.62" fill="#5875cd"/><circle cx="400.52" cy="122.01" r="0.62" fill="#879cdb"/><circle cx="405.57" cy="105.44" r="0.62" fill="#7f95d8"/><circle cx="393.78" cy="95.38" r="0.62" fill="#6478be"/><circle cx="396.89" cy="122.22" r="0.62" fill="#4962b3"/><circle cx="401.12" cy="111.37" r="0.62" fill="#4f66b5"/><circle cx="405.52" cy="116.48" r="0.62" fill="#6e87d3"/><circle cx="394.07" cy="87.62" r="0.62" fill="#8aa0dd"/><circle cx="405.06" cy="103.77" r="0.62" fill="#5e78ca"/><circle cx="402.41" cy="107.25" r="0.62" fill="#5168b6"/><circle cx="397.54" cy="84.33" r="0.62" fill="#6b84ce"/><circle cx="389.4" cy="115.51" r="0.62" fill="#3650ab"/><circle cx="398.93" cy="111.28" r="0.62" fill="#5470c7"/><circle cx="394.11" cy="117.75" r="0.62" fill="#3954ac"/><circle cx="399.59" cy="114.82" r="0.62" fill="#4059af"/><circle cx="391.32" cy="117.55" r="0.62" fill="#6981ce"/><circle cx="399.64" cy="113.75" r="0.62" fill="#8ca2de"/><circle cx="400.43" cy="93.63" r="0.62" fill="#4b63b4"/><circle cx="395.89" cy="110.89" r="0.62" fill="#5067b6"/><circle cx="398.06" cy="116.57" r="0.62" fill="#4059af"/><circle cx="394.8" cy="95.74" r="0.62" fill="#8fa4de"/><circle cx="394.54" cy="109.59" r="0.62" fill="#6b84cf"/><circle cx="392.37" cy="106.91" r="0.62" fill="#7891d8"/><circle cx="403.46" cy="100.77" r="0.62" fill="#7189d0"/><circle cx="388.6" cy="108.16" r="0.62" fill="#7890d6"/><circle cx="400.38" cy="103.9" r="0.62" fill="#7a93d8"/><circle cx="401.42" cy="104.33" r="0.62" fill="#7991d7"/><circle cx="394.87" cy="103.04" r="0.62" fill="#768dd2"/><circle cx="393.2" cy="91" r="0.62" fill="#879ddc"/><circle cx="398.6" cy="84.34" r="0.62" fill="#748cd5"/><circle cx="390.86" cy="107.36" r="0.62" fill="#4b69c5"/><circle cx="395.62" cy="122.59" r="0.62" fill="#4f6cc6"/><circle cx="405.8" cy="107.17" r="0.62" fill="#6b87d4"/><circle cx="390.32" cy="103.63" r="0.62" fill="#4e66b5"/><circle cx="391.89" cy="113.82" r="0.62" fill="#7d94d8"/><circle cx="392.92" cy="106.36" r="0.62" fill="#5c77ca"/><circle cx="402.01" cy="119.27" r="0.62" fill="#6e89d5"/><circle cx="404.55" cy="117.22" r="0.62" fill="#647ecc"/><circle cx="402.8" cy="102.99" r="0.62" fill="#5e7acf"/><circle cx="394.67" cy="110.87" r="0.62" fill="#6b87d4"/><circle cx="396.39" cy="117.4" r="0.62" fill="#7a90d3"/><circle cx="392.05" cy="119.69" r="0.62" fill="#90a5df"/><circle cx="392.03" cy="114.36" r="0.62" fill="#7690d7"/><circle cx="388.5" cy="108.71" r="0.62" fill="#5b76c9"/><circle cx="388.29" cy="115.09" r="0.62" fill="#7088d0"/><circle cx="405.36" cy="109.33" r="0.62" fill="#627dd0"/><circle cx="394.66" cy="89.92" r="0.62" fill="#5c77c9"/><circle cx="395.14" cy="119.46" r="0.62" fill="#7a90d3"/><circle cx="395.14" cy="108.58" r="0.62" fill="#7c95d9"/><circle cx="388.39" cy="110.85" r="0.62" fill="#738bd1"/><circle cx="392.59" cy="95.41" r="0.62" fill="#6e87d3"/><circle cx="394.19" cy="98.51" r="0.62" fill="#7088d1"/><circle cx="393.29" cy="118.25" r="0.62" fill="#8098da"/><circle cx="397.47" cy="122.69" r="0.62" fill="#6b7fc1"/><circle cx="403.03" cy="100.77" r="0.62" fill="#526fc7"/><circle cx="405.74" cy="113.46" r="0.62" fill="#5e79ca"/><circle cx="392.74" cy="93.91" r="0.62" fill="#677fcd"/><circle cx="399.59" cy="121.62" r="0.62" fill="#6881ce"/><circle cx="402.86" cy="117.03" r="0.62" fill="#5a77cd"/><circle cx="402.7" cy="99.1" r="0.62" fill="#607acb"/><circle cx="396.26" cy="86.08" r="0.62" fill="#5571c7"/><circle cx="405.79" cy="109.8" r="0.62" fill="#586eb9"/><circle cx="393.75" cy="101.86" r="0.62" fill="#3c56ae"/><circle cx="394.68" cy="112.68" r="0.62" fill="#4765c3"/><circle cx="396.83" cy="97.28" r="0.62" fill="#5672c8"/><circle cx="395.87" cy="107.93" r="0.62" fill="#5e73bc"/><circle cx="400.64" cy="97.26" r="0.62" fill="#5a77cd"/><circle cx="394.38" cy="118.93" r="0.62" fill="#425bb0"/><circle cx="399.12" cy="88.76" r="0.62" fill="#334eaa"/><circle cx="390.56" cy="105.89" r="0.62" fill="#6f8ad5"/><circle cx="398.92" cy="110.38" r="0.62" fill="#617bcb"/><circle cx="398.27" cy="107.54" r="0.62" fill="#92a7df"/><circle cx="398.36" cy="123.21" r="0.62" fill="#7088d1"/><circle cx="398.07" cy="116.52" r="0.62" fill="#4f6cc6"/><circle cx="389.38" cy="110.61" r="0.62" fill="#748ed7"/><circle cx="388.91" cy="114.34" r="0.62" fill="#748ed7"/><circle cx="396.62" cy="92.27" r="0.62" fill="#3d57ae"/><circle cx="394.28" cy="97.85" r="0.62" fill="#5a75c9"/><circle cx="393.1" cy="98.36" r="0.62" fill="#6076bd"/><circle cx="398.26" cy="96.66" r="0.62" fill="#6c85d3"/><circle cx="390.87" cy="113.1" r="0.62" fill="#7e96da"/><circle cx="404.75" cy="114.96" r="0.62" fill="#3f5ec1"/><circle cx="405.06" cy="107.62" r="0.62" fill="#7e96d9"/><circle cx="392.54" cy="101.8" r="0.62" fill="#556bb8"/><circle cx="406.78" cy="110.17" r="0.62" fill="#6277bd"/><circle cx="403.69" cy="108.86" r="0.62" fill="#697dc0"/><circle cx="389.65" cy="107.01" r="0.62" fill="#758cd2"/><circle cx="388.64" cy="111.16" r="0.62" fill="#758bd2"/><circle cx="395.71" cy="104.3" r="0.62" fill="#93a8e0"/><circle cx="401.01" cy="99.25" r="0.62" fill="#4e6bc5"/><circle cx="400.69" cy="99.81" r="0.62" fill="#6f87d0"/><circle cx="398.98" cy="100.6" r="0.62" fill="#4160c1"/><circle cx="400.3" cy="100.47" r="0.62" fill="#4664c3"/><circle cx="394.5" cy="103.76" r="0.62" fill="#5571c8"/><circle cx="395.22" cy="115.89" r="0.62" fill="#4a62b3"/><circle cx="403.04" cy="117.82" r="0.62" fill="#6e87d3"/><circle cx="400.53" cy="115.94" r="0.62" fill="#4f6cc5"/><circle cx="389.37" cy="114.68" r="0.62" fill="#4c64b4"/><circle cx="400.62" cy="120.19" r="0.62" fill="#627ed0"/><circle cx="402.54" cy="91.41" r="0.62" fill="#3b55ad"/><circle cx="403.98" cy="117.31" r="0.62" fill="#7992d8"/><circle cx="394.61" cy="105.64" r="0.62" fill="#728bd5"/><circle cx="398.84" cy="123.47" r="0.62" fill="#5168b6"/><circle cx="389.25" cy="112.94" r="0.62" fill="#7b92d7"/><circle cx="394.92" cy="88.91" r="0.62" fill="#697dc0"/><circle cx="391.21" cy="95.91" r="0.62" fill="#7f95d8"/><circle cx="400.8" cy="86.63" r="0.62" fill="#758dd6"/><circle cx="400.57" cy="87.73" r="0.62" fill="#566cb8"/><circle cx="400.39" cy="119.61" r="0.62" fill="#5b76c9"/><circle cx="394.12" cy="95.74" r="0.62" fill="#4f6cc6"/><circle cx="404.41" cy="98.62" r="0.62" fill="#6b86d4"/><circle cx="395.79" cy="110.56" r="0.62" fill="#5f7bcf"/><circle cx="395.13" cy="95.87" r="0.62" fill="#4563c3"/><circle cx="400.6" cy="102.73" r="0.62" fill="#6e86cf"/><circle cx="393.75" cy="108.81" r="0.62" fill="#7a93d8"/><circle cx="393.23" cy="92.64" r="0.62" fill="#5f7bcf"/><circle cx="396.48" cy="84.86" r="0.62" fill="#718bd6"/><circle cx="400.06" cy="111.78" r="0.62" fill="#7d94d8"/><circle cx="391.32" cy="102.5" r="0.62" fill="#3d5dc0"/><circle cx="397.29" cy="108.72" r="0.62" fill="#7a90d3"/><circle cx="399.83" cy="102.77" r="0.62" fill="#778ed6"/><circle cx="403.23" cy="91" r="0.62" fill="#5974c9"/><circle cx="392.93" cy="105.69" r="0.62" fill="#8da3de"/><circle cx="393.82" cy="103.69" r="0.62" fill="#3853ac"/><circle cx="393.04" cy="99.06" r="0.62" fill="#6f87d0"/><circle cx="397.98" cy="101.46" r="0.62" fill="#7d94d8"/><circle cx="402.84" cy="120.04" r="0.62" fill="#3651ab"/><circle cx="401.63" cy="96.34" r="0.62" fill="#5e73bc"/><circle cx="388.79" cy="112.76" r="0.62" fill="#6479be"/><circle cx="399.54" cy="91.17" r="0.62" fill="#7089d4"/><circle cx="392.53" cy="116.96" r="0.62" fill="#7088d0"/><circle cx="390.46" cy="106.91" r="0.62" fill="#3450aa"/><circle cx="399.02" cy="82.76" r="0.62" fill="#637fd0"/><circle cx="391.86" cy="117.42" r="0.62" fill="#6780cd"/><circle cx="389.52" cy="99.38" r="0.62" fill="#5f74bc"/><circle cx="395.47" cy="98.04" r="0.62" fill="#6277bd"/><circle cx="405.78" cy="107.97" r="0.62" fill="#8ba0dd"/><circle cx="398.71" cy="120.68" r="0.62" fill="#7189d4"/><circle cx="401.32" cy="98.97" r="0.62" fill="#6d86d3"/><circle cx="390.57" cy="112.75" r="0.62" fill="#6a7ec1"/><circle cx="391.8" cy="103.56" r="0.62" fill="#627bcc"/><circle cx="394.27" cy="96.86" r="0.62" fill="#405fc1"/><circle cx="396.74" cy="83.92" r="0.62" fill="#304ba8"/><circle cx="404.11" cy="104.84" r="0.62" fill="#5b71bb"/><circle cx="396.63" cy="115.84" r="0.62" fill="#7d94d8"/><circle cx="391.8" cy="94.6" r="0.62" fill="#4664c3"/><circle cx="404.4" cy="103.94" r="0.62" fill="#2f4ba8"/><circle cx="402.21" cy="116.7" r="0.62" fill="#657abf"/><circle cx="390.66" cy="97.7" r="0.62" fill="#6d89d5"/><circle cx="388.95" cy="107.25" r="0.62" fill="#8199da"/><circle cx="394.09" cy="88.28" r="0.62" fill="#5571c7"/><circle cx="398.24" cy="102.62" r="0.62" fill="#728bd5"/><circle cx="400.62" cy="93" r="0.62" fill="#5c77c9"/><circle cx="395.5" cy="118.53" r="0.62" fill="#7188d1"/><circle cx="400.94" cy="93.35" r="0.62" fill="#607acb"/><circle cx="392.72" cy="96.54" r="0.62" fill="#3e5ec0"/><circle cx="396.29" cy="103.47" r="0.62" fill="#768ed6"/><circle cx="391.94" cy="108.37" r="0.62" fill="#8398da"/><circle cx="405.72" cy="108.55" r="0.62" fill="#6e86d0"/><circle cx="396.67" cy="110.75" r="0.62" fill="#849bdb"/><circle cx="400.61" cy="111.72" r="0.62" fill="#7089d4"/><circle cx="396.34" cy="88.72" r="0.62" fill="#6b83cf"/><circle cx="391.98" cy="122.33" r="0.62" fill="#5f7bcf"/><circle cx="399.6" cy="97.66" r="0.62" fill="#738ad1"/><circle cx="401.83" cy="88.87" r="0.62" fill="#4c64b4"/><circle cx="390.6" cy="118.28" r="0.62" fill="#6478be"/><circle cx="403.47" cy="101.63" r="0.62" fill="#5e79ca"/><circle cx="388.27" cy="111.38" r="0.62" fill="#4b63b4"/><circle cx="392.2" cy="111.34" r="0.62" fill="#8fa4de"/><circle cx="402.22" cy="114.88" r="0.62" fill="#5974c8"/><circle cx="398.15" cy="86.91" r="0.62" fill="#3d57ae"/><circle cx="402.77" cy="111.12" r="0.62" fill="#6882d2"/><circle cx="397.81" cy="100.26" r="0.62" fill="#4f6cc5"/><circle cx="403.84" cy="110.72" r="0.62" fill="#94a8e0"/><circle cx="396.41" cy="98.47" r="0.62" fill="#6b85d3"/><circle cx="396.48" cy="112.98" r="0.62" fill="#6d87d3"/><circle cx="404.62" cy="114.68" r="0.62" fill="#607acb"/><circle cx="401.43" cy="111.29" r="0.62" fill="#6882d2"/><circle cx="393.88" cy="91.22" r="0.62" fill="#5c77ca"/><circle cx="398.43" cy="89.33" r="0.62" fill="#708bd6"/><circle cx="405.97" cy="108.94" r="0.62" fill="#617bcb"/><circle cx="392.39" cy="122.38" r="0.62" fill="#637dcc"/><circle cx="394.22" cy="86.79" r="0.62" fill="#3b55ad"/><circle cx="393.53" cy="108.49" r="0.62" fill="#6d85cf"/><circle cx="401.19" cy="88.62" r="0.62" fill="#5d78ca"/><circle cx="394.33" cy="97.46" r="0.62" fill="#4b68c4"/><circle cx="400.49" cy="89.16" r="0.62" fill="#748cd5"/><circle cx="400.47" cy="102.81" r="0.62" fill="#7690d7"/><circle cx="389.39" cy="101.31" r="0.62" fill="#5269b7"/><circle cx="388.34" cy="113.99" r="0.62" fill="#5b76c9"/><circle cx="391.81" cy="92.18" r="0.62" fill="#6f86d0"/><circle cx="393.76" cy="105.4" r="0.62" fill="#617ccf"/><circle cx="402.37" cy="88.76" r="0.62" fill="#6781cd"/><circle cx="396.94" cy="113.4" r="0.62" fill="#5168b6"/><circle cx="402.54" cy="119.33" r="0.62" fill="#7087d0"/><circle cx="399" cy="93.04" r="0.62" fill="#5975c9"/><circle cx="399.02" cy="84.38" r="0.62" fill="#6a82ce"/><circle cx="391.27" cy="95.23" r="0.62" fill="#8ea3de"/><circle cx="397.14" cy="94.34" r="0.62" fill="#8fa4de"/><circle cx="394.92" cy="84.77" r="0.62" fill="#728cd6"/><circle cx="403.81" cy="115.19" r="0.62" fill="#4563c2"/><circle cx="401.75" cy="99.79" r="0.62" fill="#657fcd"/><circle cx="391.07" cy="97.11" r="0.62" fill="#5b76c9"/><circle cx="399.01" cy="97.97" r="0.62" fill="#7b94d9"/><circle cx="401.23" cy="98.07" r="0.62" fill="#4f6cc5"/><circle cx="401.82" cy="111.94" r="0.62" fill="#6277bd"/><circle cx="394.83" cy="108.83" r="0.62" fill="#637dcc"/><circle cx="400.25" cy="116.4" r="0.62" fill="#3a54ad"/><circle cx="393.76" cy="91.37" r="0.62" fill="#4c64b4"/><circle cx="398.28" cy="94.11" r="0.62" fill="#3c5cc0"/><circle cx="392.67" cy="104.72" r="0.62" fill="#627ccb"/><circle cx="398.55" cy="122.98" r="0.62" fill="#344faa"/><circle cx="405.26" cy="111.61" r="0.62" fill="#738dd6"/><circle cx="398.16" cy="90.42" r="0.62" fill="#748cd5"/><circle cx="389.02" cy="114.44" r="0.62" fill="#3c56ad"/><circle cx="401.33" cy="89.18" r="0.62" fill="#3853ac"/><circle cx="391.25" cy="116.59" r="0.62" fill="#6781d1"/><circle cx="399.86" cy="84.77" r="0.62" fill="#8ea3de"/><circle cx="398.83" cy="85.25" r="0.62" fill="#6f87d0"/><circle cx="400.61" cy="89.47" r="0.62" fill="#5773c8"/><circle cx="392.63" cy="113.71" r="0.62" fill="#3f5ec1"/><circle cx="397.75" cy="115.63" r="0.62" fill="#6479be"/><circle cx="392.08" cy="113.62" r="0.62" fill="#4765c3"/><circle cx="391.32" cy="93.21" r="0.62" fill="#4e6bc5"/><circle cx="389.6" cy="113.02" r="0.62" fill="#7e95d8"/><circle cx="399.25" cy="87.95" r="0.62" fill="#6d86d3"/><circle cx="394.03" cy="120.52" r="0.62" fill="#5472cc"/><circle cx="397.72" cy="87.27" r="0.62" fill="#738ed6"/><circle cx="403.16" cy="113.5" r="0.62" fill="#748bd1"/><circle cx="391.87" cy="120.23" r="0.62" fill="#6f8ad5"/><circle cx="401.03" cy="110.82" r="0.62" fill="#788fd3"/><circle cx="397.99" cy="94.36" r="0.62" fill="#4f6cc6"/><circle cx="389.31" cy="106.25" r="0.62" fill="#5672c8"/><circle cx="389.19" cy="117.7" r="0.62" fill="#8ca2de"/><circle cx="395.82" cy="108.32" r="0.62" fill="#5571c7"/><circle cx="406.46" cy="105.35" r="0.62" fill="#4e6bc5"/><circle cx="403.26" cy="101.43" r="0.62" fill="#7c94d9"/><circle cx="402.67" cy="101.59" r="0.62" fill="#465fb2"/><circle cx="392.93" cy="110.18" r="0.62" fill="#6983d2"/><circle cx="396.86" cy="114.3" r="0.62" fill="#697dc0"/><circle cx="400.92" cy="87.17" r="0.62" fill="#5c72bb"/><circle cx="395.33" cy="107.83" r="0.62" fill="#849bdb"/><circle cx="405.81" cy="102.31" r="0.62" fill="#6277bd"/><circle cx="402.21" cy="105.82" r="0.62" fill="#768fd7"/><circle cx="400.45" cy="107.51" r="0.62" fill="#92a6df"/><circle cx="389.29" cy="114.07" r="0.62" fill="#738dd6"/><circle cx="403.24" cy="112.66" r="0.62" fill="#5c77ca"/><circle cx="399.16" cy="104.43" r="0.62" fill="#94a8e0"/><circle cx="404.67" cy="105.01" r="0.62" fill="#8095d5"/><circle cx="388.95" cy="108.87" r="0.62" fill="#6478be"/><circle cx="395.5" cy="107.26" r="0.62" fill="#647dcc"/><circle cx="402.7" cy="94.91" r="0.62" fill="#95a9e0"/><circle cx="395.2" cy="121.24" r="0.62" fill="#4b68c4"/><circle cx="392.34" cy="109.23" r="0.62" fill="#869cdc"/><circle cx="403.04" cy="108.85" r="0.62" fill="#637dcc"/><circle cx="405.18" cy="98.56" r="0.62" fill="#798fd3"/><circle cx="393.79" cy="93.07" r="0.62" fill="#899fdd"/><circle cx="399.47" cy="121.37" r="0.62" fill="#516ec6"/><circle cx="404.69" cy="100.68" r="0.62" fill="#879ddc"/><circle cx="395.81" cy="93.03" r="0.62" fill="#5572cc"/><circle cx="390.77" cy="103.73" r="0.62" fill="#8aa0dd"/><circle cx="396.85" cy="81.42" r="0.62" fill="#536ab7"/><circle cx="394.38" cy="123.17" r="0.62" fill="#5774cd"/><circle cx="391.56" cy="118.7" r="0.62" fill="#637ccc"/><circle cx="395.74" cy="103.41" r="0.62" fill="#5673cc"/><circle cx="392.59" cy="89.41" r="0.62" fill="#637ed0"/><circle cx="399.92" cy="96.34" r="0.62" fill="#596fb9"/><circle cx="405.03" cy="96.95" r="0.62" fill="#506dc6"/><circle cx="394.32" cy="86.56" r="0.62" fill="#768cd2"/><circle cx="391.18" cy="95.29" r="0.62" fill="#5573cc"/><circle cx="403.5" cy="118.37" r="0.62" fill="#788fd6"/><circle cx="394.05" cy="118.12" r="0.62" fill="#465fb2"/><circle cx="403.02" cy="106.39" r="0.62" fill="#5c72bb"/><circle cx="392.67" cy="104.59" r="0.62" fill="#4261c2"/><circle cx="400.49" cy="112.04" r="0.62" fill="#7790d7"/><circle cx="401.96" cy="112.76" r="0.62" fill="#7b93d8"/><circle cx="400.66" cy="85.87" r="0.62" fill="#93a7df"/><circle cx="402.31" cy="91.02" r="0.62" fill="#95a9e0"/><circle cx="395.9" cy="102.37" r="0.62" fill="#6c86d3"/><circle cx="394.29" cy="91.59" r="0.62" fill="#7b94d9"/><circle cx="393.62" cy="93.28" r="0.62" fill="#3f59af"/><circle cx="401.48" cy="109.85" r="0.62" fill="#5e78cb"/><circle cx="405.82" cy="115.18" r="0.62" fill="#758fd7"/><circle cx="389.13" cy="108.48" r="0.62" fill="#526ec6"/><circle cx="397.37" cy="110.08" r="0.62" fill="#8ca1dd"/><circle cx="395.17" cy="93.53" r="0.62" fill="#6681d1"/><circle cx="397.74" cy="86.62" r="0.62" fill="#4e66b5"/><circle cx="399.53" cy="99.96" r="0.62" fill="#708bd5"/><circle cx="406.02" cy="100.99" r="0.62" fill="#8297d9"/><circle cx="393.16" cy="88.16" r="0.62" fill="#506dc6"/><circle cx="405.44" cy="102.1" r="0.62" fill="#5470c7"/><circle cx="399.2" cy="122.72" r="0.62" fill="#5f7acb"/><circle cx="399.92" cy="90.52" r="0.62" fill="#8298d9"/><circle cx="398.42" cy="97.73" r="0.62" fill="#899fdd"/><circle cx="400.15" cy="101.45" r="0.62" fill="#4161c1"/><circle cx="403.84" cy="101.57" r="0.62" fill="#536fc7"/><circle cx="388.92" cy="103.16" r="0.62" fill="#5a70ba"/><circle cx="393.85" cy="102.64" r="0.62" fill="#6b83cf"/><circle cx="400.95" cy="119.48" r="0.62" fill="#5a77cd"/><circle cx="399.16" cy="122.26" r="0.62" fill="#6d89d5"/><circle cx="402.76" cy="95.66" r="0.62" fill="#4463c2"/><circle cx="401.18" cy="91.85" r="0.62" fill="#6c84cf"/><circle cx="404.93" cy="100.65" r="0.62" fill="#5c77ca"/><circle cx="399.79" cy="120.37" r="0.62" fill="#4e66b5"/><circle cx="395.66" cy="109.65" r="0.62" fill="#5975c9"/><circle cx="394.87" cy="93.9" r="0.62" fill="#7d96d9"/><circle cx="403.07" cy="100.56" r="0.62" fill="#3d57ae"/><circle cx="390.14" cy="120.27" r="0.62" fill="#5c77ca"/><circle cx="399.83" cy="101.8" r="0.62" fill="#5b76ca"/><circle cx="395.76" cy="86.95" r="0.62" fill="#7791d7"/><circle cx="393.3" cy="103.3" r="0.62" fill="#6e86d0"/><circle cx="400.57" cy="116.89" r="0.62" fill="#5570c8"/><circle cx="395.82" cy="83.33" r="0.62" fill="#596fba"/><circle cx="395.44" cy="111.2" r="0.62" fill="#6277bd"/><circle cx="395.52" cy="115.28" r="0.62" fill="#768ed6"/><circle cx="398.11" cy="110.37" r="0.62" fill="#5d79ce"/><circle cx="393.81" cy="106.19" r="0.62" fill="#6a86d4"/><circle cx="394.84" cy="122.65" r="0.62" fill="#849bdb"/><circle cx="404.83" cy="118.09" r="0.62" fill="#7089d4"/><circle cx="389.83" cy="106.22" r="0.62" fill="#334eaa"/><circle cx="403.74" cy="116.3" r="0.62" fill="#4d64b4"/><circle cx="401.52" cy="120.46" r="0.62" fill="#5e78ca"/><circle cx="401.74" cy="112.29" r="0.62" fill="#6e87d3"/><circle cx="390.24" cy="97.57" r="0.62" fill="#4059af"/><circle cx="403.99" cy="114.35" r="0.62" fill="#6781d1"/><circle cx="403.94" cy="97.4" r="0.62" fill="#92a7df"/><circle cx="397.5" cy="94.65" r="0.62" fill="#3f58af"/><circle cx="404.44" cy="110.98" r="0.62" fill="#657abf"/><circle cx="390.72" cy="112" r="0.62" fill="#94a8e0"/><circle cx="395.86" cy="120.34" r="0.62" fill="#849ada"/><circle cx="393.49" cy="89.27" r="0.62" fill="#6075bc"/><circle cx="400.96" cy="120.22" r="0.62" fill="#8095d5"/><circle cx="398.9" cy="90.25" r="0.62" fill="#758cd2"/><circle cx="396.22" cy="89.31" r="0.62" fill="#2e4aa8"/><circle cx="401.85" cy="114.16" r="0.62" fill="#8096d9"/><circle cx="400.91" cy="117.1" r="0.62" fill="#5d78ca"/><circle cx="393.46" cy="108.16" r="0.62" fill="#687cc0"/><circle cx="404.63" cy="96.72" r="0.62" fill="#7e96d9"/><circle cx="405.03" cy="110.97" r="0.62" fill="#4d6ac5"/><circle cx="402.66" cy="106.31" r="0.62" fill="#4665c3"/><circle cx="397.67" cy="106.43" r="0.62" fill="#596fb9"/><circle cx="394.84" cy="104.75" r="0.62" fill="#7087d0"/><circle cx="392.15" cy="99.91" r="0.62" fill="#7b94d9"/><circle cx="402.52" cy="99.44" r="0.62" fill="#728dd6"/><circle cx="397.56" cy="122.51" r="0.62" fill="#5c72bb"/><circle cx="399.21" cy="105.91" r="0.62" fill="#6883d2"/><circle cx="396.88" cy="101.04" r="0.62" fill="#475fb2"/><circle cx="393.59" cy="120.73" r="0.62" fill="#728cd6"/><circle cx="392.38" cy="104.21" r="0.62" fill="#7e93d5"/><circle cx="403.59" cy="92.25" r="0.62" fill="#869bdb"/><circle cx="406.5" cy="105.12" r="0.62" fill="#6b87d4"/><circle cx="401.55" cy="89.7" r="0.62" fill="#4a67c4"/><circle cx="391.29" cy="115.27" r="0.62" fill="#657ecd"/><circle cx="393.09" cy="96.29" r="0.62" fill="#778dd2"/><circle cx="395.42" cy="121.52" r="0.62" fill="#8197d9"/><circle cx="395.77" cy="109" r="0.62" fill="#7f97da"/><circle cx="395.06" cy="103.12" r="0.62" fill="#728bd5"/><circle cx="400.5" cy="90.95" r="0.62" fill="#778ed2"/><circle cx="400.19" cy="105.04" r="0.62" fill="#536fc7"/><circle cx="396.2" cy="122.16" r="0.62" fill="#7a90d3"/><circle cx="404.73" cy="106.87" r="0.62" fill="#3b55ad"/><circle cx="391.62" cy="106.78" r="0.62" fill="#8096d9"/><circle cx="402.77" cy="114.38" r="0.62" fill="#3752ac"/><circle cx="402.12" cy="113.64" r="0.62" fill="#3c56ad"/><circle cx="391.82" cy="112.87" r="0.62" fill="#859bda"/><circle cx="402.05" cy="106.67" r="0.62" fill="#637ed0"/><circle cx="395.94" cy="116.34" r="0.62" fill="#5e7acf"/><circle cx="400.19" cy="112.51" r="0.62" fill="#738ad1"/><circle cx="398.22" cy="104.26" r="0.62" fill="#5e79ca"/><circle cx="399.92" cy="104.59" r="0.62" fill="#5571c8"/><circle cx="394" cy="95.42" r="0.62" fill="#8da2de"/><circle cx="390" cy="112.16" r="0.62" fill="#748ad2"/><circle cx="401.14" cy="98.31" r="0.62" fill="#5f7acb"/><circle cx="388.56" cy="111.02" r="0.62" fill="#4b69c4"/><circle cx="402.68" cy="94.92" r="0.62" fill="#5772c8"/><circle cx="404.3" cy="95.83" r="0.62" fill="#849bdb"/><circle cx="404.8" cy="101.14" r="0.62" fill="#334eaa"/><circle cx="394.05" cy="119.03" r="0.62" fill="#7690d7"/><circle cx="398.04" cy="90.93" r="0.62" fill="#516ec7"/><circle cx="395.39" cy="95.39" r="0.62" fill="#6f87d0"/><circle cx="400.47" cy="120.78" r="0.62" fill="#6881ce"/><circle cx="391.67" cy="92.11" r="0.62" fill="#2f4ba8"/><circle cx="403.48" cy="102.58" r="0.62" fill="#6075bd"/><circle cx="402.71" cy="111.57" r="0.62" fill="#8299db"/><circle cx="391.06" cy="118.99" r="0.62" fill="#708bd5"/><circle cx="396.3" cy="86.02" r="0.62" fill="#4b63b4"/><circle cx="390.11" cy="111.66" r="0.62" fill="#6882d2"/><circle cx="398.09" cy="81.2" r="0.62" fill="#4e6cc5"/><circle cx="389.63" cy="113.95" r="0.62" fill="#5f74bc"/><circle cx="391.88" cy="104.92" r="0.62" fill="#728bd5"/><circle cx="405.36" cy="117.35" r="0.62" fill="#768cd2"/><circle cx="394.43" cy="104.34" r="0.62" fill="#586fb9"/><circle cx="396.77" cy="113.45" r="0.62" fill="#7289d1"/><circle cx="391.88" cy="95.42" r="0.62" fill="#6e87d3"/><circle cx="396.36" cy="104.88" r="0.62" fill="#4f6cc6"/><circle cx="405.49" cy="109.81" r="0.62" fill="#758ed6"/><circle cx="405.37" cy="113.13" r="0.62" fill="#8ca2de"/><circle cx="398.83" cy="111.28" r="0.62" fill="#7e96d9"/><circle cx="400.39" cy="117.49" r="0.62" fill="#8ba1dd"/><circle cx="396.92" cy="118.31" r="0.62" fill="#8398da"/><circle cx="399.51" cy="85.15" r="0.62" fill="#3853ac"/><circle cx="397.46" cy="96.6" r="0.62" fill="#4a68c4"/><circle cx="401.29" cy="114.8" r="0.62" fill="#5571c7"/><circle cx="398.76" cy="112.42" r="0.62" fill="#647ecc"/><circle cx="392.26" cy="112.12" r="0.62" fill="#5d79ce"/><circle cx="400.31" cy="90.55" r="0.62" fill="#879cdb"/><circle cx="395.64" cy="120.94" r="0.62" fill="#7f97da"/><circle cx="388.84" cy="104.19" r="0.62" fill="#607acb"/><circle cx="398.98" cy="98" r="0.62" fill="#768cd2"/><circle cx="397.1" cy="121.61" r="0.62" fill="#4664c3"/><circle cx="402.43" cy="118.38" r="0.62" fill="#3f5fc1"/><circle cx="398.05" cy="106.79" r="0.62" fill="#3d5cc0"/><circle cx="394.14" cy="102.18" r="0.62" fill="#8ba0dd"/><circle cx="388.56" cy="108.2" r="0.62" fill="#697dc0"/><circle cx="389.63" cy="104.43" r="0.62" fill="#748ed6"/><circle cx="399.64" cy="114.44" r="0.62" fill="#748bd1"/><circle cx="398.21" cy="110.71" r="0.62" fill="#4760b2"/><circle cx="400.57" cy="106.76" r="0.62" fill="#637ed0"/><circle cx="396.68" cy="109.18" r="0.62" fill="#7c95d9"/><circle cx="398.64" cy="89.07" r="0.62" fill="#617bcc"/><circle cx="391.56" cy="102.05" r="0.62" fill="#2e4aa8"/><circle cx="401.45" cy="112" r="0.62" fill="#5f79cb"/><circle cx="400.76" cy="122.77" r="0.62" fill="#738dd6"/><circle cx="399.64" cy="83.76" r="0.62" fill="#869bdb"/><circle cx="397.87" cy="109.48" r="0.62" fill="#4160c1"/><circle cx="393.87" cy="92.86" r="0.62" fill="#6d85d0"/><circle cx="397.39" cy="105.07" r="0.62" fill="#899fdd"/><circle cx="394.36" cy="88.35" r="0.62" fill="#7e95d8"/><circle cx="400.97" cy="113.38" r="0.62" fill="#455eb1"/><circle cx="392.06" cy="96.76" r="0.62" fill="#5472cc"/><circle cx="398.92" cy="89.17" r="0.62" fill="#869cdc"/><circle cx="402.41" cy="112.71" r="0.62" fill="#859cdc"/><circle cx="389.12" cy="111.72" r="0.62" fill="#5974c9"/><circle cx="400.73" cy="85.87" r="0.62" fill="#455eb1"/><circle cx="405.31" cy="114.85" r="0.62" fill="#6e89d5"/><circle cx="389.04" cy="106.91" r="0.62" fill="#5974c9"/><circle cx="393.57" cy="91.11" r="0.62" fill="#8da3de"/><circle cx="390.55" cy="114.26" r="0.62" fill="#2f4ba8"/><circle cx="395.26" cy="87.05" r="0.62" fill="#4b63b4"/><circle cx="391.1" cy="121.18" r="0.62" fill="#5673cc"/><circle cx="400.46" cy="100.59" r="0.62" fill="#879edc"/><circle cx="399.84" cy="112.77" r="0.62" fill="#768ed6"/><circle cx="402.26" cy="94.18" r="0.62" fill="#6c84cf"/><circle cx="398.22" cy="94.82" r="0.62" fill="#5d77ca"/><circle cx="398.34" cy="95.52" r="0.62" fill="#7a93d8"/><circle cx="402.65" cy="90.39" r="0.62" fill="#748cd5"/><circle cx="404.18" cy="98.49" r="0.62" fill="#546bb8"/><circle cx="390.32" cy="99.92" r="0.62" fill="#637ed0"/><circle cx="400.61" cy="90.66" r="0.62" fill="#7c92d4"/><circle cx="397.86" cy="113.77" r="0.62" fill="#475fb2"/><circle cx="400" cy="108.18" r="0.62" fill="#6075bc"/><circle cx="392.14" cy="112.85" r="0.62" fill="#5571c8"/><circle cx="404.83" cy="111.07" r="0.62" fill="#556cb8"/><circle cx="396.2" cy="85.15" r="0.62" fill="#6a7ec1"/><circle cx="406.01" cy="106.56" r="0.62" fill="#5c71bb"/><circle cx="399.67" cy="87.24" r="0.62" fill="#748cd5"/><circle cx="395.43" cy="94.87" r="0.62" fill="#304ca9"/><circle cx="404.46" cy="107.89" r="0.62" fill="#849ada"/><circle cx="399.75" cy="108.53" r="0.62" fill="#4463c2"/><circle cx="395.43" cy="83.39" r="0.62" fill="#6881ce"/><circle cx="401.86" cy="103.3" r="0.62" fill="#4b69c4"/><circle cx="398.59" cy="111.43" r="0.62" fill="#758cd2"/><circle cx="400.32" cy="102.2" r="0.62" fill="#7189d0"/><circle cx="396.55" cy="119.15" r="0.62" fill="#7289d1"/><circle cx="392.84" cy="97.17" r="0.62" fill="#6b7fc1"/><circle cx="401.24" cy="87.53" r="0.62" fill="#738bd5"/><circle cx="404.36" cy="100.04" r="0.62" fill="#7d93d4"/><circle cx="394.13" cy="88.96" r="0.62" fill="#4a68c4"/><circle cx="395.37" cy="114.13" r="0.62" fill="#657abf"/><circle cx="394.66" cy="94.6" r="0.62" fill="#5b78ce"/><circle cx="399.87" cy="116.79" r="0.62" fill="#718cd6"/><circle cx="402.87" cy="108.78" r="0.62" fill="#6a7ec1"/><circle cx="393.93" cy="91.44" r="0.62" fill="#8399da"/><circle cx="399.09" cy="82.7" r="0.62" fill="#5a75c9"/><circle cx="393.62" cy="91.67" r="0.62" fill="#6c87d4"/><circle cx="394.75" cy="103.58" r="0.62" fill="#4563c3"/><circle cx="391.35" cy="96.07" r="0.62" fill="#536fc7"/><circle cx="402.01" cy="96.12" r="0.62" fill="#586fb9"/><circle cx="391.16" cy="108.85" r="0.62" fill="#4f6bc6"/><circle cx="391.15" cy="113.09" r="0.62" fill="#4563c2"/><circle cx="400.32" cy="118.57" r="0.62" fill="#7c92d4"/><circle cx="402.49" cy="117.11" r="0.62" fill="#5970ba"/><circle cx="392.58" cy="118.84" r="0.62" fill="#6579be"/><circle cx="395.02" cy="92.26" r="0.62" fill="#8098da"/><circle cx="396.98" cy="101.2" r="0.62" fill="#647ecc"/><circle cx="390.09" cy="104.16" r="0.62" fill="#4866c4"/><circle cx="397.35" cy="97.6" r="0.62" fill="#768cd2"/><circle cx="397.21" cy="120.15" r="0.62" fill="#7a90d3"/><circle cx="405.29" cy="98.52" r="0.62" fill="#6e86d0"/><circle cx="393.06" cy="99.31" r="0.62" fill="#5976cd"/><circle cx="392.54" cy="94.73" r="0.62" fill="#738bd1"/><circle cx="389.09" cy="102.16" r="0.62" fill="#6277bd"/><circle cx="397.2" cy="89.39" r="0.62" fill="#869bda"/><circle cx="399.61" cy="123.5" r="0.62" fill="#7c91d4"/><circle cx="389.06" cy="102.69" r="0.62" fill="#788fd6"/><circle cx="397.7" cy="93.76" r="0.62" fill="#889edc"/><circle cx="389.93" cy="100.76" r="0.62" fill="#4a62b3"/><circle cx="396.9" cy="121.16" r="0.62" fill="#738bd5"/><circle cx="403.33" cy="107.45" r="0.62" fill="#516ec6"/><circle cx="401.37" cy="100.66" r="0.62" fill="#8197d9"/><circle cx="392.89" cy="102.16" r="0.62" fill="#6f87d0"/><circle cx="399.92" cy="115.3" r="0.62" fill="#637ccc"/><circle cx="405.15" cy="108" r="0.62" fill="#4765c3"/><circle cx="400.32" cy="113.61" r="0.62" fill="#7b92d7"/><circle cx="400.62" cy="86.06" r="0.62" fill="#647fd0"/><circle cx="394.93" cy="96.85" r="0.62" fill="#8398da"/><circle cx="388.79" cy="117.3" r="0.62" fill="#8ea3de"/><circle cx="400.47" cy="108.31" r="0.62" fill="#3852ac"/><circle cx="396.71" cy="111.48" r="0.62" fill="#4160c1"/><circle cx="396.54" cy="116.98" r="0.62" fill="#91a5df"/><circle cx="393.42" cy="122.43" r="0.62" fill="#5571c7"/><circle cx="403.95" cy="93.24" r="0.62" fill="#4160c1"/><circle cx="393.97" cy="88.67" r="0.62" fill="#6d89d5"/><circle cx="391.14" cy="95.66" r="0.62" fill="#627ccc"/><circle cx="397.2" cy="82.86" r="0.62" fill="#6f86d0"/><circle cx="395.1" cy="117.12" r="0.62" fill="#859cdc"/><circle cx="402.11" cy="109.26" r="0.62" fill="#3d5dc0"/><circle cx="392.03" cy="119.41" r="0.62" fill="#5e7acf"/><circle cx="391.66" cy="100.46" r="0.62" fill="#5f74bc"/><circle cx="393.89" cy="114.12" r="0.62" fill="#7c93d8"/><circle cx="393.15" cy="122.41" r="0.62" fill="#445db1"/><circle cx="391.37" cy="97.97" r="0.62" fill="#798fd3"/><circle cx="401.47" cy="104.73" r="0.62" fill="#4d6ac5"/><circle cx="402.63" cy="90.37" r="0.62" fill="#627ed0"/><circle cx="403.42" cy="106.39" r="0.62" fill="#4866c4"/><circle cx="397.03" cy="103.83" r="0.62" fill="#6a84d2"/><circle cx="395.34" cy="91.36" r="0.62" fill="#788fd3"/><circle cx="398.68" cy="91.91" r="0.62" fill="#7791d7"/><circle cx="395.9" cy="119.6" r="0.62" fill="#677cc0"/><circle cx="394.1" cy="112.77" r="0.62" fill="#5671c8"/><circle cx="391.19" cy="98.39" r="0.62" fill="#4962b3"/><circle cx="389.52" cy="115.64" r="0.62" fill="#758fd7"/><circle cx="403.01" cy="91.01" r="0.62" fill="#6882d2"/><circle cx="398.83" cy="89.7" r="0.62" fill="#657ecc"/><circle cx="390.86" cy="112.38" r="0.62" fill="#657fcd"/><circle cx="406.39" cy="110.97" r="0.62" fill="#7f94d5"/><circle cx="389.8" cy="98.95" r="0.62" fill="#91a5df"/><circle cx="395.16" cy="93.06" r="0.62" fill="#6781d1"/><circle cx="400.6" cy="110.7" r="0.62" fill="#5c77ca"/><circle cx="399.08" cy="99.41" r="0.62" fill="#7289d1"/><circle cx="397.49" cy="103.07" r="0.62" fill="#5a75c9"/><circle cx="400.92" cy="96.08" r="0.62" fill="#3650ab"/><circle cx="397.92" cy="104.29" r="0.62" fill="#6a84d2"/><circle cx="396.28" cy="105.76" r="0.62" fill="#7690d7"/><circle cx="392.81" cy="96.62" r="0.62" fill="#4b63b4"/><circle cx="400.23" cy="97.92" r="0.62" fill="#3651ab"/><circle cx="403.62" cy="110.5" r="0.62" fill="#748dd5"/><circle cx="389.08" cy="109.68" r="0.62" fill="#5470c7"/><circle cx="392.03" cy="94.27" r="0.62" fill="#4c69c5"/><circle cx="405.48" cy="99.35" r="0.62" fill="#6176bd"/><circle cx="394.46" cy="113.09" r="0.62" fill="#8097d9"/><circle cx="396.84" cy="94.11" r="0.62" fill="#617bcb"/><circle cx="398.31" cy="97.45" r="0.62" fill="#5772c8"/><circle cx="390.54" cy="112.51" r="0.62" fill="#8aa0dd"/><circle cx="395.05" cy="110.81" r="0.62" fill="#4160c1"/><circle cx="395.22" cy="101.5" r="0.62" fill="#5a76c9"/><circle cx="394.93" cy="123.4" r="0.62" fill="#607acb"/><circle cx="400.16" cy="118.23" r="0.62" fill="#576db9"/><circle cx="390.15" cy="102.18" r="0.62" fill="#869cdc"/><circle cx="404.81" cy="106.8" r="0.62" fill="#6782d1"/><circle cx="400.28" cy="100.43" r="0.62" fill="#4d6bc5"/><circle cx="396.63" cy="94.44" r="0.62" fill="#3550aa"/><circle cx="398.32" cy="95.01" r="0.62" fill="#8ba1dd"/><circle cx="402.41" cy="93.68" r="0.62" fill="#879ddc"/><circle cx="403.42" cy="110.15" r="0.62" fill="#4860b2"/><circle cx="400.85" cy="113.98" r="0.62" fill="#5772c8"/><circle cx="395.49" cy="85.1" r="0.62" fill="#4d65b5"/><circle cx="399.96" cy="92.71" r="0.62" fill="#7891d8"/><circle cx="398.45" cy="88.87" r="0.62" fill="#7891d8"/><circle cx="392.72" cy="105.76" r="0.62" fill="#8aa0dd"/><circle cx="402.61" cy="96.06" r="0.62" fill="#758bd2"/><circle cx="404.16" cy="108.22" r="0.62" fill="#4e65b5"/><circle cx="396.64" cy="108.97" r="0.62" fill="#6b83cf"/><circle cx="405.04" cy="105.9" r="0.62" fill="#506cc6"/><circle cx="395.83" cy="104.39" r="0.62" fill="#7087d0"/><circle cx="388.55" cy="114.73" r="0.62" fill="#657ecc"/><circle cx="391.32" cy="119.18" r="0.62" fill="#6a84d2"/><circle cx="402.92" cy="90.28" r="0.62" fill="#4760b2"/><circle cx="396.93" cy="83.19" r="0.62" fill="#3e5ec0"/><circle cx="394.63" cy="92.69" r="0.62" fill="#4664c3"/><circle cx="402.2" cy="118.05" r="0.62" fill="#6f87d0"/><circle cx="394.33" cy="120.33" r="0.62" fill="#708bd5"/><circle cx="393.02" cy="91.55" r="0.62" fill="#6176bd"/><circle cx="397.53" cy="86.14" r="0.62" fill="#6681d1"/><circle cx="399.5" cy="123.05" r="0.62" fill="#6881cd"/><circle cx="403.3" cy="112.68" r="0.62" fill="#748ed6"/><circle cx="403.94" cy="98.39" r="0.62" fill="#405fc1"/><circle cx="396.98" cy="82.86" r="0.62" fill="#5573cc"/><circle cx="390.89" cy="114.53" r="0.62" fill="#859cdc"/><circle cx="396.59" cy="100.38" r="0.62" fill="#6781d1"/><circle cx="403.48" cy="107.08" r="0.62" fill="#5874c8"/><circle cx="403.67" cy="100.53" r="0.62" fill="#728cd6"/><circle cx="403.96" cy="99.89" r="0.62" fill="#94a8e0"/><circle cx="402.27" cy="101.81" r="0.62" fill="#7a92d7"/><circle cx="397.92" cy="94.44" r="0.62" fill="#6a82ce"/><circle cx="392.02" cy="111.23" r="0.62" fill="#8ca1dd"/><circle cx="396.63" cy="88.37" r="0.62" fill="#4765c3"/><circle cx="396.8" cy="94.74" r="0.62" fill="#768ed6"/><circle cx="401.38" cy="109.63" r="0.62" fill="#3c56ae"/><circle cx="401.34" cy="115.02" r="0.62" fill="#5c77ca"/><circle cx="395.53" cy="102.75" r="0.62" fill="#748ed6"/><circle cx="393.82" cy="113.7" r="0.62" fill="#5472cc"/><circle cx="393.99" cy="92.77" r="0.62" fill="#889fdc"/><circle cx="394.18" cy="90.28" r="0.62" fill="#8ca2de"/><circle cx="391.33" cy="107.38" r="0.62" fill="#637ed0"/><circle cx="394.09" cy="114.15" r="0.62" fill="#6981ce"/><circle cx="401.65" cy="117.84" r="0.62" fill="#5a75c9"/><circle cx="401.03" cy="100.73" r="0.62" fill="#7089d4"/><circle cx="400.52" cy="107.13" r="0.62" fill="#839adb"/><circle cx="396.31" cy="82.9" r="0.62" fill="#6d89d5"/><circle cx="403.27" cy="102.34" r="0.62" fill="#5d78ca"/><circle cx="396.54" cy="117.07" r="0.62" fill="#5e78cb"/><circle cx="401.4" cy="103.27" r="0.62" fill="#869cdc"/><circle cx="402.82" cy="111.52" r="0.62" fill="#6d87d3"/><circle cx="398.59" cy="82.75" r="0.62" fill="#8da2de"/><circle cx="400.49" cy="117.08" r="0.62" fill="#536ab7"/><circle cx="400.55" cy="94.82" r="0.62" fill="#647ecc"/><circle cx="397.88" cy="86.3" r="0.62" fill="#5772c8"/><circle cx="401.25" cy="111.14" r="0.62" fill="#5b76c9"/><circle cx="405.29" cy="109.16" r="0.62" fill="#647dcd"/><circle cx="398.07" cy="110.46" r="0.62" fill="#768ed6"/><circle cx="394" cy="115.61" r="0.62" fill="#6c84cf"/><circle cx="399.47" cy="97.68" r="0.62" fill="#8da3de"/><circle cx="392.55" cy="96.83" r="0.62" fill="#576eb9"/><circle cx="403.33" cy="110.79" r="0.62" fill="#5974c9"/><circle cx="394.89" cy="118.76" r="0.62" fill="#849bdb"/><circle cx="396.7" cy="104.01" r="0.62" fill="#7f94d5"/><circle cx="405.86" cy="111.33" r="0.62" fill="#7992d8"/><circle cx="395.35" cy="89.85" r="0.62" fill="#4d6ac5"/><circle cx="391.51" cy="115.27" r="0.62" fill="#6982ce"/><circle cx="402.42" cy="97.1" r="0.62" fill="#607acb"/><circle cx="391.84" cy="114.25" r="0.62" fill="#5976cd"/><circle cx="402.23" cy="119.82" r="0.62" fill="#3752ab"/><circle cx="397.33" cy="117.73" r="0.62" fill="#4d6ac5"/><circle cx="397.75" cy="114.89" r="0.62" fill="#4760b2"/><circle cx="403.47" cy="110.25" r="0.62" fill="#93a8e0"/><circle cx="406.55" cy="106.77" r="0.62" fill="#7b92d7"/><circle cx="393.96" cy="111.73" r="0.62" fill="#435cb0"/><circle cx="404.12" cy="109.69" r="0.62" fill="#4966c4"/><circle cx="394.53" cy="114.25" r="0.62" fill="#5b76c9"/><circle cx="392.33" cy="93.82" r="0.62" fill="#758cd2"/><circle cx="393.73" cy="106.88" r="0.62" fill="#8297d9"/><circle cx="395.49" cy="92.35" r="0.62" fill="#667fcd"/><circle cx="400.84" cy="112.9" r="0.62" fill="#627dd0"/><circle cx="402.62" cy="104.66" r="0.62" fill="#667abf"/><circle cx="405.32" cy="115.54" r="0.62" fill="#5b77ce"/><circle cx="397.59" cy="94.18" r="0.62" fill="#5976cd"/><circle cx="396.3" cy="93.36" r="0.62" fill="#6580d1"/><circle cx="392.56" cy="111.03" r="0.62" fill="#3953ac"/><circle cx="394.07" cy="113.69" r="0.62" fill="#5875cd"/><circle cx="404.59" cy="103.6" r="0.62" fill="#8098da"/><circle cx="405.31" cy="114.52" r="0.62" fill="#6e88d4"/><circle cx="405.98" cy="100.45" r="0.62" fill="#506cc6"/><circle cx="396.77" cy="112.58" r="0.62" fill="#5f74bc"/><circle cx="403.91" cy="111.73" r="0.62" fill="#3953ac"/><circle cx="390.25" cy="118.57" r="0.62" fill="#7891d8"/><circle cx="395.03" cy="106.76" r="0.62" fill="#5773c8"/><circle cx="397.46" cy="82.29" r="0.62" fill="#738bd5"/><circle cx="404.34" cy="107.84" r="0.62" fill="#4967c4"/><circle cx="393.91" cy="100.73" r="0.62" fill="#7a90d3"/><circle cx="395.18" cy="107.78" r="0.62" fill="#4765c3"/><circle cx="404.85" cy="105.09" r="0.62" fill="#3c56ae"/><circle cx="394.05" cy="95.01" r="0.62" fill="#586eb9"/><circle cx="403.94" cy="112.15" r="0.62" fill="#7992d8"/><circle cx="394.69" cy="119.78" r="0.62" fill="#7a93d8"/><circle cx="399.4" cy="123.4" r="0.62" fill="#4765c3"/><circle cx="391.96" cy="103.61" r="0.62" fill="#617bcb"/><circle cx="405.62" cy="108.66" r="0.62" fill="#728cd6"/><circle cx="404.4" cy="108.48" r="0.62" fill="#5673cc"/><circle cx="398.8" cy="100.08" r="0.62" fill="#6580d1"/><circle cx="391.49" cy="92.66" r="0.62" fill="#708bd5"/><circle cx="397.79" cy="112.41" r="0.62" fill="#657abf"/><circle cx="389.93" cy="114.53" r="0.62" fill="#5a75c9"/><circle cx="399.47" cy="82.51" r="0.62" fill="#788fd3"/><circle cx="394.97" cy="120.98" r="0.62" fill="#5a75c9"/><circle cx="400.1" cy="83.35" r="0.62" fill="#5d73bb"/><circle cx="395.92" cy="94.24" r="0.62" fill="#6d88d5"/><circle cx="404.55" cy="106.31" r="0.62" fill="#7992d8"/><circle cx="395.18" cy="116.18" r="0.62" fill="#738dd6"/><circle cx="388.33" cy="108.24" r="0.62" fill="#5572cc"/><circle cx="398.81" cy="82.32" r="0.62" fill="#91a6df"/><circle cx="389.05" cy="101.96" r="0.62" fill="#5471c7"/><circle cx="405.13" cy="117.03" r="0.62" fill="#697dc0"/><circle cx="401.57" cy="110.99" r="0.62" fill="#647dcd"/><circle cx="392.09" cy="100.11" r="0.62" fill="#8ca2dd"/><circle cx="390.91" cy="99.06" r="0.62" fill="#6a83ce"/><circle cx="401.06" cy="106.28" r="0.62" fill="#4f6cc6"/><circle cx="392.44" cy="89.41" r="0.62" fill="#4f6cc5"/><circle cx="402.7" cy="114.92" r="0.62" fill="#5b71ba"/><circle cx="402.87" cy="103.43" r="0.62" fill="#6681d1"/><circle cx="392.41" cy="115.75" r="0.62" fill="#5470c7"/><circle cx="396.78" cy="105.85" r="0.62" fill="#304ca9"/><circle cx="392.1" cy="116.37" r="0.62" fill="#8ea3de"/><circle cx="396.06" cy="102.22" r="0.62" fill="#7f97da"/><circle cx="404.52" cy="117.78" r="0.62" fill="#637ed0"/><circle cx="405.06" cy="104.33" r="0.62" fill="#6277bd"/><circle cx="395.89" cy="93.92" r="0.62" fill="#647ecc"/><circle cx="398.32" cy="97.76" r="0.62" fill="#4765c3"/><circle cx="392.33" cy="117.81" r="0.62" fill="#768ed6"/><circle cx="394.77" cy="98.97" r="0.62" fill="#728cd6"/><circle cx="393.89" cy="107.62" r="0.62" fill="#738ad2"/><circle cx="396.47" cy="86.2" r="0.62" fill="#5a75c9"/><circle cx="399.2" cy="85.41" r="0.62" fill="#5f79cb"/><circle cx="393.63" cy="98.17" r="0.62" fill="#5a75c9"/><circle cx="403.96" cy="113.44" r="0.62" fill="#7d95d9"/><circle cx="399.25" cy="100.58" r="0.62" fill="#576db9"/><circle cx="393.26" cy="102.56" r="0.62" fill="#627dd0"/><circle cx="396.96" cy="102.14" r="0.62" fill="#5470c7"/><circle cx="397.5" cy="90.13" r="0.62" fill="#3e58af"/><circle cx="394.68" cy="96.68" r="0.62" fill="#4b69c5"/><circle cx="401.95" cy="94.6" r="0.62" fill="#96aae0"/><circle cx="401.39" cy="116.55" r="0.62" fill="#5773c8"/><circle cx="400.26" cy="100.24" r="0.62" fill="#7087d0"/><circle cx="403.86" cy="103.83" r="0.62" fill="#3e58af"/><circle cx="388.79" cy="114.12" r="0.62" fill="#7c95d9"/><circle cx="397.06" cy="102.14" r="0.62" fill="#5571c8"/><circle cx="401.53" cy="109.51" r="0.62" fill="#5974c9"/><circle cx="406.09" cy="106.96" r="0.62" fill="#5974c9"/><circle cx="390.97" cy="108.38" r="0.62" fill="#6277bd"/><circle cx="401.04" cy="107.25" r="0.62" fill="#536fc7"/><circle cx="400.88" cy="97.35" r="0.62" fill="#647ecc"/><circle cx="394.21" cy="104.86" r="0.62" fill="#718cd6"/><circle cx="392.17" cy="114.85" r="0.62" fill="#475fb2"/><circle cx="390.97" cy="104.01" r="0.62" fill="#657ecc"/><circle cx="400.37" cy="92.43" r="0.62" fill="#7690d7"/><circle cx="390.58" cy="119.34" r="0.62" fill="#4967c4"/><circle cx="406.53" cy="106.81" r="0.62" fill="#93a7df"/><circle cx="403.32" cy="99.18" r="0.62" fill="#718ad4"/><circle cx="393.22" cy="102.68" r="0.62" fill="#4f67b5"/><circle cx="403.04" cy="94.14" r="0.62" fill="#7f94d5"/><circle cx="392.84" cy="106.52" r="0.62" fill="#516ec6"/><circle cx="398.74" cy="117.28" r="0.62" fill="#4f6cc6"/><circle cx="388.32" cy="114.8" r="0.62" fill="#5f7bcf"/><circle cx="389.28" cy="115.25" r="0.62" fill="#5470c7"/><circle cx="397.41" cy="120.86" r="0.62" fill="#4160c1"/><circle cx="395.17" cy="83.29" r="0.62" fill="#7f97da"/><circle cx="391.98" cy="112.05" r="0.62" fill="#738ad1"/><circle cx="392.17" cy="98.99" r="0.62" fill="#7a91d7"/><circle cx="390.73" cy="103.96" r="0.62" fill="#516ec6"/><circle cx="390.82" cy="116.43" r="0.62" fill="#4b63b4"/><circle cx="401.88" cy="98.37" r="0.62" fill="#718cd6"/><circle cx="399.96" cy="110.84" r="0.62" fill="#7089d4"/><circle cx="394.23" cy="110.21" r="0.62" fill="#758cd2"/><circle cx="391.2" cy="100.16" r="0.62" fill="#667fcd"/><circle cx="394.8" cy="120.94" r="0.62" fill="#6e89d5"/><circle cx="395.77" cy="99.41" r="0.62" fill="#758dd5"/><circle cx="397.18" cy="81.06" r="0.62" fill="#5269b7"/><circle cx="400.79" cy="119.16" r="0.62" fill="#7c91d4"/><circle cx="391.15" cy="118.84" r="0.62" fill="#627ccc"/><circle cx="403.08" cy="107.23" r="0.62" fill="#2e4aa8"/><circle cx="400.45" cy="99.38" r="0.62" fill="#5d73bb"/><circle cx="399.82" cy="119.39" r="0.62" fill="#314ca9"/><circle cx="402.88" cy="103.81" r="0.62" fill="#6984d2"/><circle cx="396.34" cy="81" r="0.62" fill="#6c88d4"/><circle cx="400.03" cy="108.72" r="0.62" fill="#6881cd"/><circle cx="397.72" cy="86.41" r="0.62" fill="#6e87d3"/><circle cx="388.91" cy="114.21" r="0.62" fill="#617bcb"/><circle cx="397.81" cy="101.61" r="0.62" fill="#637ed0"/><circle cx="401.08" cy="86.81" r="0.62" fill="#334eaa"/><circle cx="400.28" cy="101.76" r="0.62" fill="#4e6bc6"/><circle cx="405.53" cy="110.52" r="0.62" fill="#536fc7"/><circle cx="394.88" cy="110.69" r="0.62" fill="#718cd6"/><circle cx="391.59" cy="96.55" r="0.62" fill="#516dc6"/><circle cx="400.59" cy="94.52" r="0.62" fill="#6881ce"/><circle cx="397.11" cy="105.23" r="0.62" fill="#798fd3"/><circle cx="400.62" cy="106.74" r="0.62" fill="#8096d9"/><circle cx="394.2" cy="107.95" r="0.62" fill="#8298d9"/><circle cx="398.64" cy="114.85" r="0.62" fill="#778dd2"/><circle cx="394.4" cy="104.95" r="0.62" fill="#627ccb"/><circle cx="398.37" cy="121.41" r="0.62" fill="#7d96d9"/><circle cx="397.35" cy="116.05" r="0.62" fill="#4967c4"/><circle cx="393.59" cy="102.08" r="0.62" fill="#5976cd"/><circle cx="399.19" cy="85.81" r="0.62" fill="#6176bd"/><circle cx="395.15" cy="118.13" r="0.62" fill="#92a7df"/><circle cx="399.52" cy="98.94" r="0.62" fill="#5470c8"/><circle cx="404.77" cy="115.21" r="0.62" fill="#4d6bc5"/><circle cx="389.55" cy="99.53" r="0.62" fill="#879edc"/><circle cx="403.85" cy="93.02" r="0.62" fill="#8da2de"/><circle cx="397.65" cy="101.79" r="0.62" fill="#3651ab"/><circle cx="398.01" cy="113.45" r="0.62" fill="#2e4aa8"/><circle cx="401.16" cy="108.17" r="0.62" fill="#758fd7"/><circle cx="393.27" cy="107.97" r="0.62" fill="#5e78cb"/><circle cx="394.04" cy="109.73" r="0.62" fill="#7992d8"/><circle cx="401.25" cy="121.69" r="0.62" fill="#667abf"/><circle cx="388.88" cy="116.37" r="0.62" fill="#5571c8"/><circle cx="403.41" cy="92.84" r="0.62" fill="#7188d0"/><circle cx="399.44" cy="117.63" r="0.62" fill="#425bb0"/><circle cx="402" cy="120.78" r="0.62" fill="#4f6cc6"/><circle cx="394.68" cy="117.03" r="0.62" fill="#2f4ba8"/><circle cx="397.62" cy="99.35" r="0.62" fill="#6983d2"/><circle cx="403.03" cy="118.43" r="0.62" fill="#3853ac"/><circle cx="392.09" cy="106.13" r="0.62" fill="#435cb0"/><circle cx="393.53" cy="116.54" r="0.62" fill="#5671c8"/><circle cx="399.57" cy="121.62" r="0.62" fill="#7089d4"/><circle cx="400.26" cy="112.97" r="0.62" fill="#788fd3"/><circle cx="400.26" cy="116.47" r="0.62" fill="#546bb8"/><circle cx="393.74" cy="123.22" r="0.62" fill="#3e58ae"/><circle cx="399.87" cy="122.1" r="0.62" fill="#586fb9"/><circle cx="392.03" cy="98.11" r="0.62" fill="#8ca2de"/><circle cx="396.92" cy="93.6" r="0.62" fill="#5975c9"/><circle cx="400.4" cy="100.92" r="0.62" fill="#738dd6"/><circle cx="398.07" cy="88.52" r="0.62" fill="#3852ac"/><circle cx="392.92" cy="102.65" r="0.62" fill="#627ccb"/><circle cx="405.08" cy="100.43" r="0.62" fill="#7188d0"/><circle cx="405.73" cy="104.5" r="0.62" fill="#5f79ca"/><circle cx="389.88" cy="101.64" r="0.62" fill="#6883d2"/><circle cx="394.51" cy="84.15" r="0.62" fill="#95a9e0"/><circle cx="395.21" cy="84.88" r="0.62" fill="#748bd1"/><circle cx="393.37" cy="94.37" r="0.62" fill="#5470c8"/><circle cx="398.98" cy="87.75" r="0.62" fill="#5d79ce"/><circle cx="402.64" cy="93.83" r="0.62" fill="#425cb0"/><circle cx="396.71" cy="121.62" r="0.62" fill="#5e79ca"/><circle cx="396.65" cy="96.07" r="0.62" fill="#7e94d8"/><circle cx="402.78" cy="120.81" r="0.62" fill="#7a90d3"/><circle cx="401.21" cy="100.91" r="0.62" fill="#879cdb"/><circle cx="406.2" cy="108.92" r="0.62" fill="#8098da"/><circle cx="391.62" cy="92.75" r="0.62" fill="#3a55ad"/><circle cx="401.49" cy="110.85" r="0.62" fill="#6c85cf"/><circle cx="399.14" cy="98.29" r="0.62" fill="#3e58ae"/><circle cx="397.78" cy="108.82" r="0.62" fill="#728cd6"/><circle cx="402.31" cy="90.32" r="0.62" fill="#5875cd"/><circle cx="399.03" cy="109.04" r="0.62" fill="#6c84cf"/><circle cx="393.06" cy="122.41" r="0.62" fill="#4d65b5"/><circle cx="405.01" cy="110.15" r="0.62" fill="#3d57ae"/><circle cx="397.79" cy="95.23" r="0.62" fill="#7e94d8"/><circle cx="401.49" cy="103.18" r="0.62" fill="#768ed6"/><circle cx="391.43" cy="104.93" r="0.62" fill="#647ecd"/><circle cx="390.31" cy="105.47" r="0.62" fill="#576db9"/><circle cx="402.05" cy="121.6" r="0.62" fill="#5d78ca"/><circle cx="400.82" cy="96.71" r="0.62" fill="#4564c3"/><circle cx="399.33" cy="110.35" r="0.62" fill="#8096d9"/><circle cx="396.06" cy="116.09" r="0.62" fill="#6c84cf"/><circle cx="404.96" cy="102.38" r="0.62" fill="#6478be"/><circle cx="396.13" cy="117.88" r="0.62" fill="#5772c8"/><circle cx="398.1" cy="96.76" r="0.62" fill="#5d72bb"/><circle cx="395.06" cy="95.9" r="0.62" fill="#6b85d2"/><circle cx="390.53" cy="119.98" r="0.62" fill="#617ccf"/><circle cx="395.03" cy="103.64" r="0.62" fill="#536fc7"/><circle cx="390.1" cy="114.66" r="0.62" fill="#7c93d7"/><circle cx="398.78" cy="84.18" r="0.62" fill="#405aaf"/><circle cx="397.43" cy="100.15" r="0.62" fill="#6780ce"/><circle cx="402.25" cy="111.64" r="0.62" fill="#566cb8"/><circle cx="402.7" cy="116.32" r="0.62" fill="#627dd0"/><circle cx="399.19" cy="98.68" r="0.62" fill="#738bd5"/><circle cx="397.05" cy="81.81" r="0.62" fill="#7f94d5"/><circle cx="392.94" cy="113.67" r="0.62" fill="#4060c1"/><circle cx="402.34" cy="94.74" r="0.62" fill="#7992d8"/><circle cx="389.5" cy="112.82" r="0.62" fill="#6d85cf"/><circle cx="389.41" cy="113.89" r="0.62" fill="#8399da"/><circle cx="396.49" cy="109.85" r="0.62" fill="#6b84cf"/><circle cx="391.27" cy="98.79" r="0.62" fill="#4e65b5"/><circle cx="397.76" cy="120.38" r="0.62" fill="#6982ce"/><circle cx="399.15" cy="101.65" r="0.62" fill="#5c77ca"/></g>
<g fill-opacity="0.8"><circle cx="394.82" cy="81.51" r="0.5" fill="#4261c2"/><circle cx="390.8" cy="92.14" r="0.5" fill="#3e57ae"/><circle cx="390.26" cy="120.77" r="0.5" fill="#4d6ac5"/><circle cx="393.18" cy="85.87" r="0.5" fill="#4c64b4"/><circle cx="390.74" cy="92.08" r="0.5" fill="#829adb"/><circle cx="390.13" cy="93.31" r="0.5" fill="#7e97da"/><circle cx="388.08" cy="113.77" r="0.5" fill="#445db1"/><circle cx="406.56" cy="99.57" r="0.5" fill="#5772c8"/><circle cx="388.08" cy="111.96" r="0.5" fill="#7b94d9"/><circle cx="396.06" cy="79.27" r="0.5" fill="#6680d1"/><circle cx="401.37" cy="123.78" r="0.5" fill="#4e6bc5"/><circle cx="391.97" cy="88.29" r="0.5" fill="#5974c9"/><circle cx="405.03" cy="119.12" r="0.5" fill="#7992d8"/><circle cx="406.38" cy="100.16" r="0.5" fill="#738ad1"/><circle cx="406.72" cy="105.57" r="0.5" fill="#526fc7"/><circle cx="391.97" cy="89.02" r="0.5" fill="#778fd6"/><circle cx="405.13" cy="96.86" r="0.5" fill="#344faa"/><circle cx="397.68" cy="78.66" r="0.5" fill="#4d65b5"/><circle cx="402.27" cy="122.77" r="0.5" fill="#526ec7"/><circle cx="404.94" cy="119.2" r="0.5" fill="#6277bd"/><circle cx="396.72" cy="125.21" r="0.5" fill="#3751ab"/><circle cx="398.28" cy="80.97" r="0.5" fill="#5a77cd"/><circle cx="406.27" cy="114.22" r="0.5" fill="#5b76ca"/><circle cx="407.28" cy="113.47" r="0.5" fill="#5470c7"/><circle cx="388.12" cy="116.19" r="0.5" fill="#4b69c5"/><circle cx="404.49" cy="94.05" r="0.5" fill="#7992d8"/><circle cx="393.19" cy="86.69" r="0.5" fill="#5370c7"/><circle cx="387.48" cy="118.54" r="0.5" fill="#5a70ba"/><circle cx="389.15" cy="99.29" r="0.5" fill="#4261c2"/><circle cx="391.78" cy="88.53" r="0.5" fill="#6377be"/><circle cx="389.3" cy="98.5" r="0.5" fill="#4961b3"/><circle cx="395.67" cy="124.9" r="0.5" fill="#5f79cb"/><circle cx="396.73" cy="124.46" r="0.5" fill="#5d79ce"/><circle cx="391" cy="122.72" r="0.5" fill="#8298d9"/><circle cx="387.19" cy="111.77" r="0.5" fill="#899fdd"/><circle cx="387.25" cy="108.24" r="0.5" fill="#7b90d4"/><circle cx="407.47" cy="104.98" r="0.5" fill="#405fc1"/><circle cx="405.2" cy="94.16" r="0.5" fill="#5067b6"/><circle cx="396.63" cy="125.97" r="0.5" fill="#6d86d3"/><circle cx="396.44" cy="124.2" r="0.5" fill="#4e6bc6"/><circle cx="391.53" cy="88.39" r="0.5" fill="#748bd1"/><circle cx="393.85" cy="84.47" r="0.5" fill="#5b71bb"/><circle cx="389.79" cy="123.26" r="0.5" fill="#647ecc"/><circle cx="396.55" cy="125.47" r="0.5" fill="#617ccf"/><circle cx="398.89" cy="124.55" r="0.5" fill="#7890d6"/><circle cx="392.82" cy="86.93" r="0.5" fill="#839adb"/><circle cx="400.98" cy="84.24" r="0.5" fill="#7791d7"/><circle cx="407.3" cy="114.09" r="0.5" fill="#3c56ad"/><circle cx="398.82" cy="125.91" r="0.5" fill="#5a75c9"/><circle cx="401.65" cy="85.22" r="0.5" fill="#758dd6"/><circle cx="403.94" cy="122.44" r="0.5" fill="#6881ce"/><circle cx="388.49" cy="120.27" r="0.5" fill="#95a9e0"/><circle cx="396.25" cy="124.59" r="0.5" fill="#8097d9"/><circle cx="393.94" cy="83.68" r="0.5" fill="#5976cd"/><circle cx="397.95" cy="79.3" r="0.5" fill="#5873c9"/><circle cx="405.55" cy="95.27" r="0.5" fill="#5674cc"/><circle cx="405.03" cy="121.75" r="0.5" fill="#4861b3"/><circle cx="391.67" cy="90.28" r="0.5" fill="#667fcd"/><circle cx="398.73" cy="79.6" r="0.5" fill="#4d6bc5"/><circle cx="391.35" cy="121.99" r="0.5" fill="#6f8ad5"/><circle cx="391.98" cy="125.13" r="0.5" fill="#637ed0"/><circle cx="397.69" cy="79.11" r="0.5" fill="#5d77ca"/><circle cx="387.95" cy="113.39" r="0.5" fill="#6277bd"/><circle cx="397.04" cy="78.9" r="0.5" fill="#8097da"/><circle cx="396.5" cy="80.13" r="0.5" fill="#94a8e0"/><circle cx="395.9" cy="79.87" r="0.5" fill="#637dcc"/><circle cx="405.34" cy="96.08" r="0.5" fill="#6b87d4"/><circle cx="393.91" cy="83.97" r="0.5" fill="#667bbf"/><circle cx="387.45" cy="120.36" r="0.5" fill="#5c78ce"/><circle cx="388.79" cy="99.73" r="0.5" fill="#5974c9"/></g>
<circle cx="397.2" cy="79.5" r="1.4" fill="#e8d890"/>
<polygon points="470.86,36.52 473.56,36.97 476.26,41.47 478.06,47.77 478.06,54.52 474.91,55.42 471.31,49.57 469.51,43.27" fill="#7a92d4" stroke="none" stroke-width="1" stroke-linejoin="round" fill-opacity="0.45"/>
<g fill-opacity="1"><circle cx="476.64" cy="49.17" r="0.58" fill="#728ad1"/><circle cx="474.75" cy="51.07" r="0.58" fill="#7e95d8"/><circle cx="474.15" cy="51.4" r="0.58" fill="#667fcd"/><circle cx="472.9" cy="43.09" r="0.58" fill="#6a82ce"/><circle cx="475.51" cy="45.79" r="0.58" fill="#3d57ae"/><circle cx="474.18" cy="53.98" r="0.58" fill="#5f7bcf"/><circle cx="469.66" cy="43.01" r="0.58" fill="#7d94d8"/><circle cx="475.52" cy="46.73" r="0.58" fill="#839adb"/><circle cx="473.72" cy="40.93" r="0.58" fill="#4f6cc5"/><circle cx="471.12" cy="49.58" r="0.58" fill="#6d88d5"/><circle cx="471.63" cy="46.3" r="0.58" fill="#304ca9"/><circle cx="469.99" cy="43.04" r="0.58" fill="#879edc"/><circle cx="478.09" cy="51.51" r="0.58" fill="#8197d9"/><circle cx="472.46" cy="41.3" r="0.58" fill="#5c77ca"/><circle cx="477.03" cy="53.48" r="0.58" fill="#7a91d7"/><circle cx="475.14" cy="43.67" r="0.58" fill="#6c7fc1"/><circle cx="473.04" cy="48.28" r="0.58" fill="#4f67b5"/><circle cx="474.01" cy="53.72" r="0.58" fill="#6b7ec1"/><circle cx="475.15" cy="49.26" r="0.58" fill="#637ed0"/><circle cx="470.85" cy="48.84" r="0.58" fill="#758dd6"/><circle cx="476.22" cy="55.84" r="0.58" fill="#859bda"/><circle cx="476.85" cy="52.1" r="0.58" fill="#4664c3"/><circle cx="478" cy="50.55" r="0.58" fill="#4d65b5"/><circle cx="474.2" cy="52.81" r="0.58" fill="#4c6ac5"/><circle cx="476.66" cy="48.71" r="0.58" fill="#7c93d8"/><circle cx="475.35" cy="39.25" r="0.58" fill="#768ed6"/><circle cx="472.21" cy="42.33" r="0.58" fill="#4261c2"/><circle cx="477.16" cy="51.91" r="0.58" fill="#718ad4"/><circle cx="472.11" cy="37.12" r="0.58" fill="#7891d8"/><circle cx="474.06" cy="48.74" r="0.58" fill="#6780cd"/><circle cx="473.18" cy="45.16" r="0.58" fill="#586fb9"/><circle cx="473.99" cy="45.55" r="0.58" fill="#7690d7"/><circle cx="470.34" cy="38.57" r="0.58" fill="#8298d9"/><circle cx="473.81" cy="52.27" r="0.58" fill="#5b76ca"/><circle cx="473.1" cy="36.74" r="0.58" fill="#7188d1"/><circle cx="471.47" cy="44.35" r="0.58" fill="#7087d0"/><circle cx="476.18" cy="44.64" r="0.58" fill="#7088d1"/><circle cx="472.97" cy="43.95" r="0.58" fill="#6b7fc1"/><circle cx="473.95" cy="41.4" r="0.58" fill="#637ed0"/><circle cx="470.26" cy="47.02" r="0.58" fill="#6d85cf"/><circle cx="472.34" cy="50.65" r="0.58" fill="#657ecc"/><circle cx="471.85" cy="44.59" r="0.58" fill="#5f79cb"/><circle cx="472.02" cy="46.7" r="0.58" fill="#839adb"/><circle cx="471.67" cy="49.56" r="0.58" fill="#768dd2"/><circle cx="472.91" cy="50.37" r="0.58" fill="#425bb0"/><circle cx="471.77" cy="45.09" r="0.58" fill="#4462c2"/><circle cx="474.29" cy="50.59" r="0.58" fill="#6e86d0"/><circle cx="475.2" cy="44.51" r="0.58" fill="#304ca9"/><circle cx="470.39" cy="39.36" r="0.58" fill="#8fa4de"/><circle cx="471.22" cy="40.66" r="0.58" fill="#405aaf"/><circle cx="470.74" cy="38.53" r="0.58" fill="#6d88d5"/><circle cx="475.48" cy="47.65" r="0.58" fill="#4361c2"/><circle cx="475.42" cy="44.5" r="0.58" fill="#5f7bcf"/><circle cx="474.77" cy="49.29" r="0.58" fill="#5e78cb"/><circle cx="473.19" cy="37.42" r="0.58" fill="#869ddc"/><circle cx="472.55" cy="48.92" r="0.58" fill="#728ad1"/><circle cx="472.53" cy="46.27" r="0.58" fill="#768ed6"/><circle cx="471.4" cy="39.91" r="0.58" fill="#5f7acb"/><circle cx="478.14" cy="53.86" r="0.58" fill="#5e79ca"/><circle cx="477.97" cy="53.1" r="0.58" fill="#3853ac"/><circle cx="478.27" cy="53.85" r="0.58" fill="#8197d9"/><circle cx="474.85" cy="48.51" r="0.58" fill="#3b55ad"/><circle cx="473.15" cy="44.42" r="0.58" fill="#4c64b4"/><circle cx="470.38" cy="47.01" r="0.58" fill="#4f66b5"/><circle cx="471.61" cy="38.06" r="0.58" fill="#5f7bcf"/><circle cx="477.27" cy="47.57" r="0.58" fill="#627ccc"/><circle cx="474.48" cy="41.31" r="0.58" fill="#8198da"/><circle cx="475.15" cy="47.15" r="0.58" fill="#5571c7"/><circle cx="472.09" cy="37.18" r="0.58" fill="#5a70ba"/><circle cx="473.62" cy="46.48" r="0.58" fill="#314da9"/><circle cx="470.76" cy="41.92" r="0.58" fill="#697dc0"/><circle cx="473.72" cy="37.87" r="0.58" fill="#91a5df"/><circle cx="472.72" cy="47.2" r="0.58" fill="#2e4aa8"/><circle cx="472.99" cy="46.11" r="0.58" fill="#637dcc"/><circle cx="474.51" cy="42.79" r="0.58" fill="#6780ce"/><circle cx="471.7" cy="39.43" r="0.58" fill="#7891d8"/><circle cx="477.87" cy="53.16" r="0.58" fill="#5f7bcf"/><circle cx="472.6" cy="48.17" r="0.58" fill="#6b85d3"/><circle cx="474.25" cy="39.7" r="0.58" fill="#7189d0"/><circle cx="470.55" cy="47.36" r="0.58" fill="#6f88d4"/><circle cx="475.27" cy="46.46" r="0.58" fill="#677cc0"/><circle cx="473.64" cy="53.52" r="0.58" fill="#738ad1"/><circle cx="473.52" cy="40.05" r="0.58" fill="#859ada"/><circle cx="472.86" cy="37.08" r="0.58" fill="#8198da"/><circle cx="474.52" cy="40.1" r="0.58" fill="#6b83cf"/><circle cx="475.55" cy="48.47" r="0.58" fill="#778fd6"/><circle cx="475.76" cy="55.46" r="0.58" fill="#8ea3de"/><circle cx="471.81" cy="49.84" r="0.58" fill="#7d95d9"/><circle cx="476.84" cy="51.54" r="0.58" fill="#6b85d3"/><circle cx="474.7" cy="40.99" r="0.58" fill="#91a6df"/><circle cx="476.81" cy="49.76" r="0.58" fill="#5e73bc"/><circle cx="476.98" cy="52.34" r="0.58" fill="#7a90d3"/><circle cx="473.32" cy="43.8" r="0.58" fill="#4a68c4"/><circle cx="476.56" cy="49.25" r="0.58" fill="#5b76c9"/><circle cx="474.13" cy="53.85" r="0.58" fill="#6e86cf"/><circle cx="473.41" cy="37.54" r="0.58" fill="#6f8ad5"/><circle cx="475.44" cy="44.12" r="0.58" fill="#748ed6"/><circle cx="474.66" cy="47.11" r="0.58" fill="#778fd6"/><circle cx="474.13" cy="45.2" r="0.58" fill="#627dd0"/><circle cx="472.91" cy="49.99" r="0.58" fill="#728ad1"/><circle cx="477.82" cy="51.48" r="0.58" fill="#8298d9"/><circle cx="474.16" cy="42.92" r="0.58" fill="#6f87d0"/><circle cx="474.12" cy="53.98" r="0.58" fill="#4a68c4"/><circle cx="476.12" cy="52.45" r="0.58" fill="#5c76ca"/><circle cx="473.56" cy="53.52" r="0.58" fill="#405fc1"/><circle cx="470.77" cy="42.55" r="0.58" fill="#869cdc"/><circle cx="473.88" cy="50.76" r="0.58" fill="#6b84ce"/><circle cx="473.26" cy="41.85" r="0.58" fill="#6981ce"/><circle cx="477.24" cy="43.73" r="0.58" fill="#7289d1"/><circle cx="472.99" cy="40.2" r="0.58" fill="#5370c7"/><circle cx="473.59" cy="50.33" r="0.58" fill="#4e6bc5"/><circle cx="472.44" cy="49.41" r="0.58" fill="#5b71ba"/><circle cx="470.96" cy="36.84" r="0.58" fill="#5470c7"/><circle cx="470.95" cy="38.71" r="0.58" fill="#4c69c4"/><circle cx="477.09" cy="46.36" r="0.58" fill="#4c69c5"/><circle cx="469.4" cy="41.2" r="0.58" fill="#4563c3"/><circle cx="473.86" cy="39.16" r="0.58" fill="#4e6bc5"/><circle cx="473.22" cy="40.4" r="0.58" fill="#6075bd"/><circle cx="473.94" cy="49.11" r="0.58" fill="#6d85cf"/><circle cx="471.94" cy="51.14" r="0.58" fill="#5b76ca"/><circle cx="474.85" cy="54.6" r="0.58" fill="#7a91d7"/><circle cx="474.77" cy="39.34" r="0.58" fill="#4160c1"/><circle cx="472.96" cy="41.44" r="0.58" fill="#657ecc"/><circle cx="473.44" cy="53.82" r="0.58" fill="#5e79ca"/><circle cx="474.32" cy="51.13" r="0.58" fill="#758cd2"/><circle cx="476.27" cy="41.33" r="0.58" fill="#4563c2"/><circle cx="474.88" cy="43.38" r="0.58" fill="#5e78cb"/><circle cx="473.51" cy="46.64" r="0.58" fill="#5c78ce"/><circle cx="472.4" cy="37.27" r="0.58" fill="#5b71ba"/><circle cx="473.48" cy="42.77" r="0.58" fill="#4765c3"/><circle cx="476.02" cy="45.85" r="0.58" fill="#5773c8"/><circle cx="478.17" cy="53.21" r="0.58" fill="#778fd6"/><circle cx="477.5" cy="47.36" r="0.58" fill="#4564c3"/><circle cx="474.01" cy="39.07" r="0.58" fill="#445db1"/><circle cx="472.05" cy="40.12" r="0.58" fill="#3651ab"/><circle cx="470.86" cy="48.4" r="0.58" fill="#93a7df"/><circle cx="472.08" cy="51.62" r="0.58" fill="#4a62b3"/><circle cx="474.45" cy="52.87" r="0.58" fill="#95a8e0"/><circle cx="473.82" cy="48.77" r="0.58" fill="#6780cd"/><circle cx="471.27" cy="50.12" r="0.58" fill="#738dd6"/><circle cx="472.86" cy="50.65" r="0.58" fill="#6b87d4"/><circle cx="474.55" cy="38.44" r="0.58" fill="#7c93d8"/><circle cx="471.86" cy="51.29" r="0.58" fill="#7a90d3"/><circle cx="474.18" cy="50.51" r="0.58" fill="#748ed6"/><circle cx="472.13" cy="45.52" r="0.58" fill="#3550ab"/><circle cx="473.53" cy="51.23" r="0.58" fill="#3b55ad"/><circle cx="471.47" cy="47.87" r="0.58" fill="#6982ce"/><circle cx="471.46" cy="39.83" r="0.58" fill="#7e96d9"/><circle cx="475.99" cy="41.15" r="0.58" fill="#4d65b4"/><circle cx="477.86" cy="48.75" r="0.58" fill="#506cc6"/><circle cx="470.07" cy="46.4" r="0.58" fill="#3d5dc0"/><circle cx="473.7" cy="49.59" r="0.58" fill="#5f7acb"/><circle cx="476.78" cy="54.08" r="0.58" fill="#768ed6"/><circle cx="471.89" cy="50.44" r="0.58" fill="#5168b6"/><circle cx="477.17" cy="54.02" r="0.58" fill="#3651ab"/><circle cx="475.52" cy="45.28" r="0.58" fill="#6982ce"/><circle cx="477.57" cy="52.37" r="0.58" fill="#3651ab"/><circle cx="474.45" cy="50.93" r="0.58" fill="#4b68c5"/><circle cx="475.37" cy="43.9" r="0.58" fill="#3d57ae"/><circle cx="473.74" cy="46.16" r="0.58" fill="#96aae0"/><circle cx="471.05" cy="40.98" r="0.58" fill="#748dd5"/><circle cx="477.02" cy="53.27" r="0.58" fill="#4d6ac5"/><circle cx="475.63" cy="49.96" r="0.58" fill="#3c5cc0"/><circle cx="473.85" cy="47.54" r="0.58" fill="#6f88d4"/><circle cx="470.95" cy="45.32" r="0.58" fill="#4c69c5"/><circle cx="469.74" cy="40.85" r="0.58" fill="#6e86d0"/><circle cx="476.59" cy="52.26" r="0.58" fill="#7087d0"/><circle cx="474.17" cy="49.8" r="0.58" fill="#5f75bc"/><circle cx="471.51" cy="37.72" r="0.58" fill="#617bcc"/><circle cx="478.1" cy="49.75" r="0.58" fill="#435cb0"/></g>
<g fill-opacity="0.8"><circle cx="476.05" cy="57.07" r="0.5" fill="#6f8ad5"/><circle cx="472.6" cy="35.79" r="0.5" fill="#4e6bc6"/><circle cx="470.04" cy="35.34" r="0.5" fill="#8da2de"/><circle cx="479.13" cy="51.28" r="0.5" fill="#6c87d4"/><circle cx="469.01" cy="44.06" r="0.5" fill="#748bd1"/><circle cx="470.26" cy="49.01" r="0.5" fill="#4e6bc6"/><circle cx="478.82" cy="57.38" r="0.5" fill="#304ba8"/><circle cx="470.03" cy="47.77" r="0.5" fill="#718ad4"/><circle cx="477.33" cy="57.67" r="0.5" fill="#6782d1"/><circle cx="478.22" cy="56.06" r="0.5" fill="#516ec6"/><circle cx="478.9" cy="57.55" r="0.5" fill="#566cb8"/><circle cx="469.48" cy="45.03" r="0.5" fill="#8fa4de"/><circle cx="475.25" cy="56.78" r="0.5" fill="#7a91d7"/><circle cx="470.55" cy="33.79" r="0.5" fill="#7b94d9"/><circle cx="478.88" cy="56.92" r="0.5" fill="#708bd5"/><circle cx="469.38" cy="39.59" r="0.5" fill="#657ecc"/><circle cx="470.17" cy="49.29" r="0.5" fill="#607acb"/><circle cx="478.92" cy="48.07" r="0.5" fill="#4b69c5"/><circle cx="477.14" cy="41.98" r="0.5" fill="#6176bd"/><circle cx="478.63" cy="50.13" r="0.5" fill="#869bda"/><circle cx="478.8" cy="48.77" r="0.5" fill="#6579be"/><circle cx="470.52" cy="35.45" r="0.5" fill="#5573cc"/><circle cx="471.38" cy="51.39" r="0.5" fill="#6f87d0"/><circle cx="470.44" cy="33.66" r="0.5" fill="#536fc7"/><circle cx="475.3" cy="57.17" r="0.5" fill="#708ad5"/></g>
<g fill-opacity="1"><circle cx="479.78" cy="60.61" r="0.55" fill="#93a7e0"/><circle cx="479.61" cy="70.39" r="0.55" fill="#728cd6"/><circle cx="480.17" cy="71.08" r="0.55" fill="#879edc"/><circle cx="480.65" cy="63.74" r="0.55" fill="#8da3de"/><circle cx="480.04" cy="69.89" r="0.55" fill="#91a5df"/><circle cx="478.58" cy="67.09" r="0.55" fill="#728cd6"/><circle cx="480.96" cy="67.18" r="0.55" fill="#8097da"/><circle cx="479.16" cy="68.87" r="0.55" fill="#7a93d8"/><circle cx="478.94" cy="66.56" r="0.55" fill="#879edc"/><circle cx="479.35" cy="64.13" r="0.55" fill="#8da2de"/><circle cx="479.67" cy="65.23" r="0.55" fill="#98abe1"/><circle cx="480.98" cy="66.78" r="0.55" fill="#829adb"/><circle cx="478.78" cy="58.84" r="0.55" fill="#889edc"/><circle cx="480.86" cy="60.91" r="0.55" fill="#748ed7"/><circle cx="480.08" cy="64.76" r="0.55" fill="#8da2de"/><circle cx="480.01" cy="67.31" r="0.55" fill="#95a8e0"/><circle cx="481.86" cy="68.81" r="0.55" fill="#6a86d4"/><circle cx="480.24" cy="66.95" r="0.55" fill="#8ea3de"/><circle cx="479.07" cy="62.28" r="0.55" fill="#90a5df"/><circle cx="480.35" cy="71.09" r="0.55" fill="#6f8ad5"/><circle cx="480.39" cy="60.8" r="0.55" fill="#9baee2"/><circle cx="478.58" cy="63.2" r="0.55" fill="#96aae0"/><circle cx="481.95" cy="71.69" r="0.55" fill="#98abe1"/><circle cx="479.68" cy="59.99" r="0.55" fill="#879edc"/><circle cx="479.7" cy="76.05" r="0.55" fill="#91a6df"/><circle cx="479.77" cy="63.41" r="0.55" fill="#7892d8"/><circle cx="478.87" cy="70.97" r="0.55" fill="#859bdb"/><circle cx="479.68" cy="68.87" r="0.55" fill="#9aade1"/><circle cx="479.39" cy="72.96" r="0.55" fill="#93a7df"/><circle cx="480.07" cy="72.64" r="0.55" fill="#758fd7"/><circle cx="479.3" cy="71.25" r="0.55" fill="#7c95d9"/><circle cx="480.87" cy="66.7" r="0.55" fill="#7f97da"/><circle cx="481.86" cy="62.08" r="0.55" fill="#6c87d4"/><circle cx="478.88" cy="62.87" r="0.55" fill="#8198da"/><circle cx="481.38" cy="73.5" r="0.55" fill="#8aa0dd"/><circle cx="479.94" cy="64.92" r="0.55" fill="#748ed6"/><circle cx="479.87" cy="63.74" r="0.55" fill="#869ddc"/><circle cx="478.65" cy="66.46" r="0.55" fill="#728cd6"/><circle cx="479.66" cy="71.07" r="0.55" fill="#97aae1"/><circle cx="481.68" cy="64.28" r="0.55" fill="#899fdd"/></g>
<polygon points="466.5,50.2 478.8,57.8 478.1,63.3 477.5,72.9 476.8,76.3 467.1,78.4 463.7,74.3 460.3,64.6 461,59.1" fill="#f6ead0" stroke="none" stroke-width="1" stroke-linejoin="round"/>
<g fill-opacity="1"><circle cx="468.85" cy="77.69" r="0.65" fill="#f2e0b0"/><circle cx="474.87" cy="72.89" r="0.65" fill="#c8503c"/><circle cx="468.23" cy="63.92" r="0.65" fill="#e8c070"/><circle cx="464.7" cy="70.49" r="0.65" fill="#e0a860"/><circle cx="476.35" cy="56.92" r="0.65" fill="#a8bce0"/><circle cx="474.43" cy="68.53" r="0.65" fill="#c8503c"/><circle cx="466.35" cy="67.09" r="0.65" fill="#e8c070"/><circle cx="463.91" cy="73.81" r="0.65" fill="#e8c070"/><circle cx="475.95" cy="66.71" r="0.65" fill="#fff4e0"/><circle cx="464.55" cy="58.94" r="0.65" fill="#e6b86c"/><circle cx="464.43" cy="71.83" r="0.65" fill="#e8c070"/><circle cx="472.58" cy="63.95" r="0.65" fill="#f0d8a0"/><circle cx="467.52" cy="62.8" r="0.65" fill="#e8c070"/><circle cx="475.22" cy="58.34" r="0.65" fill="#a8bce0"/><circle cx="464.09" cy="69" r="0.65" fill="#e6b86c"/><circle cx="474.97" cy="64.53" r="0.65" fill="#d8e0ec"/><circle cx="470.58" cy="76.72" r="0.65" fill="#c8503c"/><circle cx="477.01" cy="72.41" r="0.65" fill="#f0d8a0"/><circle cx="470.11" cy="64.32" r="0.65" fill="#fff4e0"/><circle cx="473.84" cy="68.71" r="0.65" fill="#b83a30"/><circle cx="473.32" cy="58.12" r="0.65" fill="#a8bce0"/><circle cx="473.63" cy="67.17" r="0.65" fill="#a83028"/><circle cx="463.82" cy="68.35" r="0.65" fill="#e6b86c"/><circle cx="463.93" cy="66.71" r="0.65" fill="#f0d090"/><circle cx="467.97" cy="71.87" r="0.65" fill="#a83028"/><circle cx="472.78" cy="62.15" r="0.65" fill="#ffffff"/><circle cx="470.05" cy="62.03" r="0.65" fill="#fff4e0"/><circle cx="470.91" cy="60.14" r="0.65" fill="#e4eaf2"/><circle cx="464.68" cy="61.71" r="0.65" fill="#f0d090"/><circle cx="463.55" cy="73.46" r="0.65" fill="#f0d090"/><circle cx="474.89" cy="74" r="0.65" fill="#b83a30"/><circle cx="469.18" cy="56.23" r="0.65" fill="#d8e0ec"/><circle cx="475" cy="58.75" r="0.65" fill="#e4eaf2"/><circle cx="466.16" cy="74.61" r="0.65" fill="#e8c070"/><circle cx="473.02" cy="62.96" r="0.65" fill="#e8c888"/><circle cx="466.16" cy="72.4" r="0.65" fill="#f0d090"/><circle cx="470.2" cy="58.41" r="0.65" fill="#d8e0ec"/><circle cx="468.15" cy="64.25" r="0.65" fill="#e6b86c"/><circle cx="466.22" cy="59.66" r="0.65" fill="#f0d090"/><circle cx="465.37" cy="54.6" r="0.65" fill="#e8c070"/><circle cx="462.12" cy="61.55" r="0.65" fill="#f0d090"/><circle cx="473.49" cy="76.49" r="0.65" fill="#a83028"/><circle cx="476.39" cy="74.95" r="0.65" fill="#fff4e0"/><circle cx="466.14" cy="64.44" r="0.65" fill="#e8c070"/><circle cx="477.48" cy="72.55" r="0.65" fill="#fff4e0"/><circle cx="476.8" cy="66.08" r="0.65" fill="#f0d8a0"/><circle cx="470.2" cy="59.93" r="0.65" fill="#f2e0b0"/><circle cx="466.52" cy="74.73" r="0.65" fill="#e0a860"/><circle cx="477.24" cy="70.65" r="0.65" fill="#e8c888"/><circle cx="472.31" cy="56.42" r="0.65" fill="#c8d8ec"/><circle cx="462.33" cy="67.01" r="0.65" fill="#f0d090"/><circle cx="464.81" cy="67.77" r="0.65" fill="#e0a860"/><circle cx="472.2" cy="56.95" r="0.65" fill="#ffffff"/><circle cx="472.03" cy="73.98" r="0.65" fill="#a83028"/><circle cx="469.24" cy="66" r="0.65" fill="#f2e0b0"/><circle cx="473.65" cy="70.72" r="0.65" fill="#c8503c"/><circle cx="471.87" cy="64.02" r="0.65" fill="#fff4e0"/><circle cx="474.74" cy="65.08" r="0.65" fill="#f0d8a0"/><circle cx="474.45" cy="69.81" r="0.65" fill="#c8503c"/><circle cx="470" cy="66.53" r="0.65" fill="#b83a30"/><circle cx="463.79" cy="68.1" r="0.65" fill="#f0d090"/><circle cx="467.67" cy="77.79" r="0.65" fill="#f0d090"/><circle cx="469.53" cy="75.39" r="0.65" fill="#b83a30"/><circle cx="469.48" cy="58.22" r="0.65" fill="#f0d8a0"/><circle cx="477.88" cy="57.24" r="0.65" fill="#e4eaf2"/><circle cx="476.4" cy="76.01" r="0.65" fill="#f2e0b0"/><circle cx="461.65" cy="67.01" r="0.65" fill="#e0a860"/><circle cx="474.2" cy="63.06" r="0.65" fill="#d8e0ec"/><circle cx="471.6" cy="56" r="0.65" fill="#e4eaf2"/><circle cx="462.18" cy="68.73" r="0.65" fill="#e6b86c"/><circle cx="468.59" cy="51.67" r="0.65" fill="#f0d090"/><circle cx="472.7" cy="74.22" r="0.65" fill="#d07048"/><circle cx="464.56" cy="55.53" r="0.65" fill="#e8c070"/><circle cx="462.6" cy="67.16" r="0.65" fill="#e6b86c"/><circle cx="473.55" cy="66.9" r="0.65" fill="#b83a30"/><circle cx="473" cy="60.99" r="0.65" fill="#a8bce0"/><circle cx="466.14" cy="59.8" r="0.65" fill="#e8c070"/><circle cx="469.67" cy="74.45" r="0.65" fill="#c8503c"/><circle cx="474.27" cy="60.5" r="0.65" fill="#e8c888"/><circle cx="462.43" cy="64.71" r="0.65" fill="#e6b86c"/><circle cx="470.54" cy="53.47" r="0.65" fill="#a8bce0"/><circle cx="466.42" cy="74.31" r="0.65" fill="#f0d090"/><circle cx="460.91" cy="64" r="0.65" fill="#e6b86c"/><circle cx="462.14" cy="57.4" r="0.65" fill="#e6b86c"/><circle cx="469.8" cy="76.67" r="0.65" fill="#e8c888"/><circle cx="463.43" cy="56.11" r="0.65" fill="#e0a860"/><circle cx="472.47" cy="56.67" r="0.65" fill="#c8d8ec"/><circle cx="461.86" cy="64.81" r="0.65" fill="#f0d090"/><circle cx="474.06" cy="58.2" r="0.65" fill="#c8d8ec"/><circle cx="477.35" cy="64.4" r="0.65" fill="#e8c888"/><circle cx="471.33" cy="67.95" r="0.65" fill="#d07048"/><circle cx="465.78" cy="69.59" r="0.65" fill="#e6b86c"/><circle cx="467.03" cy="71.92" r="0.65" fill="#e0a860"/><circle cx="462.49" cy="59.28" r="0.65" fill="#e6b86c"/><circle cx="465.52" cy="53.2" r="0.65" fill="#f0d090"/><circle cx="462.46" cy="62.84" r="0.65" fill="#e0a860"/><circle cx="477.14" cy="74.05" r="0.65" fill="#e8c888"/><circle cx="467.65" cy="55.15" r="0.65" fill="#e0a860"/><circle cx="475.15" cy="61.43" r="0.65" fill="#e4eaf2"/><circle cx="465.96" cy="73.89" r="0.65" fill="#e6b86c"/><circle cx="466.12" cy="60.95" r="0.65" fill="#f0d090"/><circle cx="464.21" cy="71.99" r="0.65" fill="#e0a860"/><circle cx="470.59" cy="59.96" r="0.65" fill="#c8d8ec"/><circle cx="478.26" cy="58.66" r="0.65" fill="#a8bce0"/><circle cx="477.4" cy="58.04" r="0.65" fill="#f4f0e0"/><circle cx="470.08" cy="69.99" r="0.65" fill="#d07048"/><circle cx="475.22" cy="59.07" r="0.65" fill="#d8e0ec"/><circle cx="476.94" cy="67.68" r="0.65" fill="#fff4e0"/><circle cx="467.85" cy="66.97" r="0.65" fill="#e8c070"/><circle cx="468.73" cy="51.73" r="0.65" fill="#d8e0ec"/><circle cx="475.07" cy="74.59" r="0.65" fill="#fff4e0"/><circle cx="469.14" cy="75.86" r="0.65" fill="#e8c888"/><circle cx="465.82" cy="55.91" r="0.65" fill="#f0d090"/><circle cx="470.38" cy="74.52" r="0.65" fill="#c8503c"/><circle cx="468.18" cy="54.45" r="0.65" fill="#e6b86c"/><circle cx="469.65" cy="53.46" r="0.65" fill="#d8e0ec"/><circle cx="476.7" cy="66.13" r="0.65" fill="#fff4e0"/><circle cx="474.39" cy="70.91" r="0.65" fill="#c8503c"/><circle cx="473.58" cy="60.39" r="0.65" fill="#a8bce0"/><circle cx="474.26" cy="63.08" r="0.65" fill="#f0d8a0"/><circle cx="473.6" cy="74.04" r="0.65" fill="#d07048"/><circle cx="465.61" cy="69.5" r="0.65" fill="#e8c070"/><circle cx="470.22" cy="62.2" r="0.65" fill="#e8c888"/><circle cx="472.36" cy="64.48" r="0.65" fill="#f2e0b0"/><circle cx="467.87" cy="53.84" r="0.65" fill="#e0a860"/><circle cx="477.93" cy="65.69" r="0.65" fill="#fff4e0"/><circle cx="470.36" cy="59.61" r="0.65" fill="#e8c888"/><circle cx="461.02" cy="62.51" r="0.65" fill="#e6b86c"/><circle cx="470.06" cy="55.72" r="0.65" fill="#d8e0ec"/><circle cx="474.41" cy="64.83" r="0.65" fill="#d8e0ec"/><circle cx="467.53" cy="71.65" r="0.65" fill="#e6b86c"/><circle cx="471.77" cy="61.38" r="0.65" fill="#f4f0e0"/><circle cx="476.37" cy="69.37" r="0.65" fill="#e8c888"/><circle cx="475.28" cy="61.18" r="0.65" fill="#e4eaf2"/><circle cx="476.22" cy="66.82" r="0.65" fill="#fff4e0"/><circle cx="470.02" cy="75.64" r="0.65" fill="#a83028"/><circle cx="471.76" cy="72.2" r="0.65" fill="#a83028"/><circle cx="473.49" cy="61.56" r="0.65" fill="#e4eaf2"/><circle cx="469.42" cy="62.12" r="0.65" fill="#f0d8a0"/><circle cx="476.79" cy="61.41" r="0.65" fill="#ffffff"/><circle cx="466.26" cy="72.47" r="0.65" fill="#e8c070"/><circle cx="462.93" cy="57.51" r="0.65" fill="#e6b86c"/><circle cx="469.99" cy="55.69" r="0.65" fill="#d8e0ec"/><circle cx="466.25" cy="70.53" r="0.65" fill="#e6b86c"/><circle cx="474.98" cy="66.84" r="0.65" fill="#e8c888"/><circle cx="473.27" cy="63.96" r="0.65" fill="#f2e0b0"/><circle cx="467.55" cy="71.48" r="0.65" fill="#e6b86c"/><circle cx="471.58" cy="71.6" r="0.65" fill="#a83028"/><circle cx="465.4" cy="55.48" r="0.65" fill="#e0a860"/><circle cx="469.69" cy="58.76" r="0.65" fill="#d8e0ec"/><circle cx="468.03" cy="59.74" r="0.65" fill="#e6b86c"/><circle cx="466.45" cy="52.85" r="0.65" fill="#e0a860"/><circle cx="477.3" cy="72.62" r="0.65" fill="#f2e0b0"/><circle cx="465.04" cy="54.3" r="0.65" fill="#e6b86c"/><circle cx="473.37" cy="60.57" r="0.65" fill="#ffffff"/><circle cx="471.16" cy="53.63" r="0.65" fill="#e8c888"/><circle cx="476.44" cy="62.21" r="0.65" fill="#ffffff"/><circle cx="468.09" cy="66.52" r="0.65" fill="#e6b86c"/><circle cx="468.89" cy="74.57" r="0.65" fill="#c8503c"/><circle cx="474.41" cy="75.85" r="0.65" fill="#fff4e0"/><circle cx="472.91" cy="54.68" r="0.65" fill="#ffffff"/><circle cx="476.6" cy="70.94" r="0.65" fill="#d8e0ec"/><circle cx="474.52" cy="69.21" r="0.65" fill="#b83a30"/><circle cx="473.92" cy="68.3" r="0.65" fill="#c8503c"/><circle cx="472.63" cy="57.51" r="0.65" fill="#f2e0b0"/><circle cx="466.4" cy="57.58" r="0.65" fill="#e0a860"/><circle cx="463.67" cy="62.11" r="0.65" fill="#e0a860"/><circle cx="475.16" cy="73.82" r="0.65" fill="#d07048"/><circle cx="469.29" cy="68.29" r="0.65" fill="#b83a30"/><circle cx="472.72" cy="69.49" r="0.65" fill="#b83a30"/><circle cx="476.37" cy="63.55" r="0.65" fill="#f2e0b0"/><circle cx="470.55" cy="60.31" r="0.65" fill="#c8d8ec"/><circle cx="466.68" cy="63.86" r="0.65" fill="#e0a860"/><circle cx="470.77" cy="55.82" r="0.65" fill="#ffffff"/><circle cx="466.82" cy="63.94" r="0.65" fill="#f0d090"/><circle cx="467.3" cy="72.01" r="0.65" fill="#f0d090"/><circle cx="466.03" cy="57.33" r="0.65" fill="#e6b86c"/><circle cx="471.34" cy="53.26" r="0.65" fill="#c8d8ec"/><circle cx="471.71" cy="77.35" r="0.65" fill="#e8c888"/><circle cx="468.53" cy="52.99" r="0.65" fill="#e6b86c"/><circle cx="475.61" cy="66.43" r="0.65" fill="#f0d8a0"/><circle cx="477.89" cy="59.7" r="0.65" fill="#e8c888"/><circle cx="465.9" cy="54.26" r="0.65" fill="#f0d090"/><circle cx="475.43" cy="56.63" r="0.65" fill="#ffffff"/><circle cx="463.09" cy="66.41" r="0.65" fill="#f0d090"/><circle cx="474.62" cy="63.38" r="0.65" fill="#e8c888"/><circle cx="463.5" cy="66.81" r="0.65" fill="#f0d090"/><circle cx="463.65" cy="68.49" r="0.65" fill="#f0d090"/><circle cx="468.39" cy="70.28" r="0.65" fill="#c8503c"/><circle cx="474.37" cy="57.62" r="0.65" fill="#ffffff"/><circle cx="473.39" cy="55.36" r="0.65" fill="#ffffff"/><circle cx="462.51" cy="70.08" r="0.65" fill="#e6b86c"/><circle cx="463.18" cy="57.69" r="0.65" fill="#f0d090"/><circle cx="464.63" cy="72.96" r="0.65" fill="#f0d090"/><circle cx="475.33" cy="55.89" r="0.65" fill="#ffffff"/><circle cx="474.1" cy="72.89" r="0.65" fill="#a83028"/><circle cx="466.13" cy="52.29" r="0.65" fill="#e8c070"/><circle cx="466.76" cy="63.29" r="0.65" fill="#f0d090"/><circle cx="470.75" cy="70.7" r="0.65" fill="#d07048"/><circle cx="464.71" cy="58.77" r="0.65" fill="#e6b86c"/><circle cx="467.69" cy="69.14" r="0.65" fill="#e8c070"/><circle cx="473.75" cy="68.68" r="0.65" fill="#c8503c"/><circle cx="469.69" cy="62.98" r="0.65" fill="#d8e0ec"/><circle cx="475.58" cy="70.93" r="0.65" fill="#d07048"/><circle cx="469.09" cy="52.19" r="0.65" fill="#fff4e0"/><circle cx="469.41" cy="62.06" r="0.65" fill="#f2e0b0"/><circle cx="470.01" cy="61.47" r="0.65" fill="#d8e0ec"/><circle cx="469.17" cy="62.26" r="0.65" fill="#f2e0b0"/><circle cx="472.89" cy="59.87" r="0.65" fill="#a8bce0"/><circle cx="463.56" cy="69.09" r="0.65" fill="#f0d090"/><circle cx="468.41" cy="62.7" r="0.65" fill="#e0a860"/><circle cx="460.74" cy="61.61" r="0.65" fill="#f0d090"/><circle cx="476.36" cy="64.45" r="0.65" fill="#f0d8a0"/><circle cx="470.66" cy="58.84" r="0.65" fill="#e4eaf2"/><circle cx="470.8" cy="62.58" r="0.65" fill="#c8d8ec"/><circle cx="469.88" cy="71.25" r="0.65" fill="#a83028"/><circle cx="475.97" cy="62.62" r="0.65" fill="#fff4e0"/><circle cx="468.46" cy="73.6" r="0.65" fill="#d07048"/><circle cx="468.13" cy="76.71" r="0.65" fill="#e6b86c"/><circle cx="474.04" cy="75.59" r="0.65" fill="#a83028"/><circle cx="466.67" cy="53.1" r="0.65" fill="#e6b86c"/><circle cx="467.25" cy="70.91" r="0.65" fill="#f0d090"/><circle cx="462.14" cy="57.73" r="0.65" fill="#f0d090"/><circle cx="464.17" cy="56.38" r="0.65" fill="#e8c070"/><circle cx="465.54" cy="71.44" r="0.65" fill="#e8c070"/><circle cx="473.56" cy="56.14" r="0.65" fill="#e8c888"/><circle cx="472.66" cy="59.38" r="0.65" fill="#fff4e0"/><circle cx="461.07" cy="59.93" r="0.65" fill="#e0a860"/><circle cx="472.85" cy="61.76" r="0.65" fill="#c8d8ec"/><circle cx="467.1" cy="56.82" r="0.65" fill="#f0d090"/><circle cx="471.77" cy="74.72" r="0.65" fill="#b83a30"/><circle cx="468.5" cy="54.96" r="0.65" fill="#e6b86c"/><circle cx="469.61" cy="64.94" r="0.65" fill="#e8c888"/><circle cx="473.81" cy="69.21" r="0.65" fill="#a83028"/><circle cx="472.46" cy="62.3" r="0.65" fill="#f2e0b0"/><circle cx="474.54" cy="64.55" r="0.65" fill="#f2e0b0"/><circle cx="463.35" cy="60.85" r="0.65" fill="#e8c070"/><circle cx="475.48" cy="56.48" r="0.65" fill="#a8bce0"/><circle cx="464.42" cy="61.35" r="0.65" fill="#e0a860"/><circle cx="472.25" cy="68.45" r="0.65" fill="#c8503c"/><circle cx="461.14" cy="62.44" r="0.65" fill="#e8c070"/><circle cx="464.61" cy="70.17" r="0.65" fill="#f0d090"/><circle cx="467.13" cy="64.43" r="0.65" fill="#e6b86c"/><circle cx="466.38" cy="50.64" r="0.65" fill="#e6b86c"/><circle cx="467.82" cy="69.3" r="0.65" fill="#e8c070"/><circle cx="471.37" cy="58.62" r="0.65" fill="#c8d8ec"/><circle cx="467.12" cy="56.02" r="0.65" fill="#f0d090"/><circle cx="466.71" cy="68.03" r="0.65" fill="#f0d090"/><circle cx="468.14" cy="53.96" r="0.65" fill="#e6b86c"/><circle cx="469.06" cy="77.71" r="0.65" fill="#fff4e0"/><circle cx="468.3" cy="67.61" r="0.65" fill="#e8c070"/><circle cx="465.79" cy="69.22" r="0.65" fill="#f0d090"/><circle cx="462.66" cy="62.75" r="0.65" fill="#f0d090"/><circle cx="469.12" cy="67.93" r="0.65" fill="#d07048"/><circle cx="465.71" cy="76.36" r="0.65" fill="#e6b86c"/><circle cx="473.56" cy="63.72" r="0.65" fill="#e8c888"/><circle cx="474.32" cy="64.02" r="0.65" fill="#f0d8a0"/><circle cx="469.85" cy="71.17" r="0.65" fill="#b83a30"/><circle cx="465.82" cy="56.92" r="0.65" fill="#e0a860"/><circle cx="474.06" cy="62.48" r="0.65" fill="#fff4e0"/></g>
<polygon points="466.5,50.2 478.8,57.8 478.1,63.3 477.5,72.9 476.8,76.3 467.1,78.4 463.7,74.3 460.3,64.6 461,59.1" fill="none" stroke="#111" stroke-width="1" stroke-linejoin="round"/>
<polygon points="462.7,26.4 464.1,28.2 463.7,33 464.4,37.8 463,40.6 461.4,38.5 461,33 461.6,28.2" fill="#d07a6a" stroke="#2a1a1a" stroke-width="1" stroke-linejoin="round"/>
<line x1="463" y1="40.6" x2="456.1" y2="46.3" stroke="#111" stroke-width="0.8"/>
<line x1="458.2" y1="73.6" x2="463" y2="70.8" stroke="#111" stroke-width="0.8"/>
<text x="420.3" y="31.7" font-size="7" fill="#333" textLength="29.2" lengthAdjust="spacingAndGlyphs">POU5F1B</text>
<text x="420.3" y="49.7" font-size="7" fill="#333" textLength="32.3" lengthAdjust="spacingAndGlyphs">Subclone 1</text>
<text x="428.9" y="75" font-size="7" fill="#333" textLength="26.5" lengthAdjust="spacingAndGlyphs">Branch B</text>
<polygon points="289.54,187.69 291.79,189.04 294.04,193.54 296.74,198.94 298.09,206.14 297.64,214.24 295.39,220.54 291.34,226.39 286.39,227.74 282.79,224.14 281.44,216.94 282.34,207.94 284.14,198.94 286.84,191.74" fill="#9ab0e0" stroke="none" stroke-width="1" stroke-linejoin="round" fill-opacity="0.35"/>
<g fill-opacity="1"><circle cx="283.52" cy="219.43" r="0.62" fill="#e9e0bd"/><circle cx="288.51" cy="192.29" r="0.62" fill="#5f78c0"/><circle cx="290.85" cy="220.11" r="0.62" fill="#ccd7e2"/><circle cx="293.5" cy="222.48" r="0.62" fill="#cbd6e2"/><circle cx="288.3" cy="204.94" r="0.62" fill="#a0c1ef"/><circle cx="296.61" cy="198.18" r="0.62" fill="#5b74be"/><circle cx="288.32" cy="222.6" r="0.62" fill="#eae2c1"/><circle cx="286.26" cy="196.39" r="0.62" fill="#81a6e4"/><circle cx="290.68" cy="194.92" r="0.62" fill="#9bbaed"/><circle cx="285.29" cy="213.66" r="0.62" fill="#dbdfcd"/><circle cx="283.7" cy="220.48" r="0.62" fill="#efe4bf"/><circle cx="296.64" cy="204.2" r="0.62" fill="#556fbc"/><circle cx="282.91" cy="210.9" r="0.62" fill="#a4c3f0"/><circle cx="293.62" cy="210.39" r="0.62" fill="#95b6ec"/><circle cx="285.52" cy="196.5" r="0.62" fill="#9bbeee"/><circle cx="287.01" cy="211.55" r="0.62" fill="#bbd1ea"/><circle cx="284.58" cy="206.2" r="0.62" fill="#7da4e6"/><circle cx="291.24" cy="199.08" r="0.62" fill="#abc8f1"/><circle cx="291.69" cy="209.62" r="0.62" fill="#81a7e7"/><circle cx="288.16" cy="192.07" r="0.62" fill="#657dc2"/><circle cx="290.61" cy="211.9" r="0.62" fill="#85aae8"/><circle cx="292.07" cy="224.9" r="0.62" fill="#e3d9b2"/><circle cx="291.75" cy="219.83" r="0.62" fill="#bdd2ea"/><circle cx="282.64" cy="224.35" r="0.62" fill="#f1e7c7"/><circle cx="297.7" cy="211.81" r="0.62" fill="#688cd7"/><circle cx="295.81" cy="209.98" r="0.62" fill="#799adc"/><circle cx="288.54" cy="192.64" r="0.62" fill="#8eb1eb"/><circle cx="289.39" cy="217.24" r="0.62" fill="#dadecb"/><circle cx="290.09" cy="227.55" r="0.62" fill="#ccd7e2"/><circle cx="288.38" cy="209.57" r="0.62" fill="#94b4ea"/><circle cx="294.8" cy="195.89" r="0.62" fill="#6b97e0"/><circle cx="280.97" cy="217.66" r="0.62" fill="#e6dcb5"/><circle cx="284.04" cy="223.4" r="0.62" fill="#d9d1b2"/><circle cx="290.97" cy="191.54" r="0.62" fill="#334c91"/><circle cx="290.14" cy="219.87" r="0.62" fill="#d8d0b1"/><circle cx="284.64" cy="228.03" r="0.62" fill="#efe5c1"/><circle cx="291.5" cy="215.6" r="0.62" fill="#a2c3ef"/><circle cx="291.64" cy="226.59" r="0.62" fill="#e6dcb4"/><circle cx="290.44" cy="201.14" r="0.62" fill="#79a1e3"/><circle cx="287.83" cy="203.1" r="0.62" fill="#5d84d4"/><circle cx="296.82" cy="198.19" r="0.62" fill="#759de2"/><circle cx="293.3" cy="210.75" r="0.62" fill="#7495da"/><circle cx="285.76" cy="226.08" r="0.62" fill="#dfd8be"/><circle cx="285.23" cy="198.88" r="0.62" fill="#87abe8"/><circle cx="284.06" cy="216.69" r="0.62" fill="#f0e6c4"/><circle cx="293.32" cy="201.75" r="0.62" fill="#5c83d4"/><circle cx="282.68" cy="212" r="0.62" fill="#b6cde8"/><circle cx="286.74" cy="210" r="0.62" fill="#b5cce8"/><circle cx="281.34" cy="221.94" r="0.62" fill="#f0e5c2"/><circle cx="284.63" cy="204.47" r="0.62" fill="#6e99e0"/><circle cx="295.91" cy="199.25" r="0.62" fill="#3d58a9"/><circle cx="287" cy="228.01" r="0.62" fill="#e7ddb7"/><circle cx="297.22" cy="197.71" r="0.62" fill="#8aaeeb"/><circle cx="284.45" cy="202.92" r="0.62" fill="#7ba3e6"/><circle cx="294.75" cy="211.02" r="0.62" fill="#6b96e0"/><circle cx="297.48" cy="204.79" r="0.62" fill="#485b9e"/><circle cx="288.79" cy="192.95" r="0.62" fill="#a8c6f0"/><circle cx="285.58" cy="224.43" r="0.62" fill="#efe4be"/><circle cx="285.34" cy="225.38" r="0.62" fill="#e0d4a8"/><circle cx="295.35" cy="210.88" r="0.62" fill="#7596db"/><circle cx="282.68" cy="222.35" r="0.62" fill="#c8d4e0"/><circle cx="285.68" cy="227.18" r="0.62" fill="#ccd7e2"/><circle cx="288.65" cy="201.87" r="0.62" fill="#86aae8"/><circle cx="293.05" cy="198.23" r="0.62" fill="#91b3ec"/><circle cx="285.37" cy="194.04" r="0.62" fill="#698dd7"/><circle cx="291.06" cy="199.5" r="0.62" fill="#8aade9"/><circle cx="284.49" cy="224.53" r="0.62" fill="#e1d6ac"/><circle cx="291.95" cy="209.53" r="0.62" fill="#5d84d4"/><circle cx="284.5" cy="222.82" r="0.62" fill="#e6dcb4"/><circle cx="287.3" cy="209.69" r="0.62" fill="#7ea4e4"/><circle cx="288.16" cy="220.5" r="0.62" fill="#cad5e1"/><circle cx="288.84" cy="209.72" r="0.62" fill="#a3c3ef"/><circle cx="290.1" cy="212.18" r="0.62" fill="#6187d6"/><circle cx="296.02" cy="200.06" r="0.62" fill="#4e67b1"/><circle cx="291.74" cy="227.89" r="0.62" fill="#e9e1be"/><circle cx="298.49" cy="210.64" r="0.62" fill="#a5c4f0"/><circle cx="286.76" cy="214.43" r="0.62" fill="#d8dcc9"/><circle cx="294.01" cy="215.77" r="0.62" fill="#9ab9ed"/><circle cx="292.99" cy="202.62" r="0.62" fill="#7395da"/><circle cx="293.75" cy="201.15" r="0.62" fill="#78a0e2"/><circle cx="290.74" cy="193.07" r="0.62" fill="#a8c6f0"/><circle cx="285.72" cy="198.74" r="0.62" fill="#8bafeb"/><circle cx="287.38" cy="204.04" r="0.62" fill="#a4c3ef"/><circle cx="298.53" cy="208.92" r="0.62" fill="#7da4e6"/><circle cx="290.66" cy="203.32" r="0.62" fill="#89ade8"/><circle cx="290.63" cy="221.73" r="0.62" fill="#f1e8c9"/><circle cx="290.17" cy="208.3" r="0.62" fill="#709ae1"/><circle cx="287" cy="193.74" r="0.62" fill="#a7c5f0"/><circle cx="288.19" cy="211" r="0.62" fill="#dadecb"/><circle cx="282.62" cy="219.13" r="0.62" fill="#c9d5e0"/><circle cx="288.86" cy="213.26" r="0.62" fill="#d8dcc8"/><circle cx="288.46" cy="220.85" r="0.62" fill="#ccd7e2"/><circle cx="293.07" cy="190.88" r="0.62" fill="#4b65af"/><circle cx="290.65" cy="197.28" r="0.62" fill="#aac7f1"/><circle cx="294.31" cy="201.99" r="0.62" fill="#7697db"/><circle cx="285.15" cy="226.92" r="0.62" fill="#ddd7bb"/><circle cx="288.51" cy="215.77" r="0.62" fill="#86acea"/><circle cx="285.48" cy="213.1" r="0.62" fill="#d9ddc9"/><circle cx="285.46" cy="225.08" r="0.62" fill="#d2dce5"/><circle cx="291.36" cy="203.28" r="0.62" fill="#aac7f0"/><circle cx="284.52" cy="212.93" r="0.62" fill="#bdd2eb"/><circle cx="281.57" cy="207.87" r="0.62" fill="#92b4ec"/><circle cx="285.82" cy="203.9" r="0.62" fill="#9dbfee"/><circle cx="291.78" cy="218.24" r="0.62" fill="#c1d4ec"/><circle cx="293.05" cy="204.82" r="0.62" fill="#87acea"/><circle cx="286.75" cy="213.37" r="0.62" fill="#dcdfcd"/><circle cx="289" cy="226.85" r="0.62" fill="#ccd7e2"/><circle cx="290.29" cy="211.56" r="0.62" fill="#7da3e4"/><circle cx="292.82" cy="206.97" r="0.62" fill="#5d84d4"/><circle cx="289.61" cy="215.03" r="0.62" fill="#c1d5ec"/><circle cx="286.15" cy="207.5" r="0.62" fill="#94b5ec"/><circle cx="290.75" cy="199.04" r="0.62" fill="#7aa2e6"/><circle cx="283.8" cy="204.01" r="0.62" fill="#5e85d5"/><circle cx="288.39" cy="204.74" r="0.62" fill="#87abe8"/><circle cx="285.24" cy="206.88" r="0.62" fill="#a2c2ef"/><circle cx="291.11" cy="190.04" r="0.62" fill="#3d5496"/><circle cx="292.69" cy="217.1" r="0.62" fill="#a7c6f0"/><circle cx="284.11" cy="196.57" r="0.62" fill="#a4c3f0"/><circle cx="292.99" cy="203.82" r="0.62" fill="#89adea"/><circle cx="291.39" cy="212.42" r="0.62" fill="#a2c3ef"/><circle cx="289.88" cy="226.65" r="0.62" fill="#f0e6c4"/><circle cx="293.56" cy="205.33" r="0.62" fill="#8db0eb"/><circle cx="292.45" cy="219.52" r="0.62" fill="#bad0e9"/><circle cx="287.77" cy="189.3" r="0.62" fill="#566eb4"/><circle cx="285.63" cy="216.97" r="0.62" fill="#efe5c0"/><circle cx="294.76" cy="203.31" r="0.62" fill="#5365a3"/><circle cx="296.91" cy="202.84" r="0.62" fill="#6077b9"/><circle cx="296.97" cy="216.9" r="0.62" fill="#a7c6f0"/><circle cx="287.8" cy="206.92" r="0.62" fill="#98bcee"/><circle cx="290.33" cy="197.25" r="0.62" fill="#7294da"/><circle cx="286.25" cy="211.39" r="0.62" fill="#b7cee9"/><circle cx="288.2" cy="195.16" r="0.62" fill="#7da4e6"/><circle cx="281.75" cy="224.02" r="0.62" fill="#cfdae4"/><circle cx="292.84" cy="198.8" r="0.62" fill="#5f85d5"/><circle cx="289.2" cy="224.32" r="0.62" fill="#efe5c1"/><circle cx="283.17" cy="213.49" r="0.62" fill="#bed2eb"/><circle cx="284.81" cy="225.76" r="0.62" fill="#e7deb8"/><circle cx="287.58" cy="208.09" r="0.62" fill="#90b1ea"/><circle cx="286.45" cy="201.13" r="0.62" fill="#719be1"/><circle cx="289.55" cy="214.89" r="0.62" fill="#b8cfe9"/><circle cx="297.3" cy="204.67" r="0.62" fill="#a7c5f0"/><circle cx="285.75" cy="201.5" r="0.62" fill="#97b7ed"/><circle cx="293.27" cy="192.8" r="0.62" fill="#8bafeb"/><circle cx="285.24" cy="194.12" r="0.62" fill="#6e99e1"/><circle cx="282.48" cy="225.92" r="0.62" fill="#e3d8b1"/><circle cx="289.82" cy="218.7" r="0.62" fill="#dcdfce"/><circle cx="293.21" cy="205.14" r="0.62" fill="#8cafe9"/><circle cx="290.13" cy="191.18" r="0.62" fill="#314691"/><circle cx="284.98" cy="200.8" r="0.62" fill="#6d98e0"/><circle cx="287.11" cy="214.83" r="0.62" fill="#dbdfcd"/><circle cx="284.97" cy="196.08" r="0.62" fill="#6086d5"/><circle cx="284.11" cy="207.21" r="0.62" fill="#acc9f1"/><circle cx="295.93" cy="221.38" r="0.62" fill="#8fb2ec"/><circle cx="284.72" cy="206.97" r="0.62" fill="#a1c2ef"/><circle cx="285.01" cy="218.5" r="0.62" fill="#e3d9b2"/><circle cx="292.83" cy="205.4" r="0.62" fill="#83a8e7"/><circle cx="291.06" cy="208.98" r="0.62" fill="#8baee9"/><circle cx="294.23" cy="219.88" r="0.62" fill="#99bdee"/><circle cx="288.55" cy="219.74" r="0.62" fill="#dad2b4"/><circle cx="295.81" cy="216.28" r="0.62" fill="#6a96e0"/><circle cx="288.87" cy="220.11" r="0.62" fill="#ced9e3"/><circle cx="291.35" cy="189.47" r="0.62" fill="#6076b8"/><circle cx="294.04" cy="200.58" r="0.62" fill="#90b1ea"/><circle cx="287.46" cy="197.65" r="0.62" fill="#84aaea"/><circle cx="295.48" cy="214.01" r="0.62" fill="#6f9ae1"/><circle cx="286.02" cy="218.48" r="0.62" fill="#e6dcb6"/><circle cx="283.93" cy="221.19" r="0.62" fill="#e7ddb7"/><circle cx="291.68" cy="219.58" r="0.62" fill="#dde0cf"/><circle cx="293.36" cy="206.14" r="0.62" fill="#87abe8"/><circle cx="291.42" cy="210.73" r="0.62" fill="#7aa1e3"/><circle cx="285.78" cy="199.13" r="0.62" fill="#7da4e6"/><circle cx="295.28" cy="221.9" r="0.62" fill="#86abea"/><circle cx="289.84" cy="203.08" r="0.62" fill="#709ae1"/><circle cx="293.55" cy="214.38" r="0.62" fill="#7ea4e6"/><circle cx="287.6" cy="197.89" r="0.62" fill="#92b2ea"/><circle cx="281.33" cy="220.23" r="0.62" fill="#f0e6c4"/><circle cx="288.41" cy="203.05" r="0.62" fill="#88abe8"/><circle cx="297.12" cy="197.84" r="0.62" fill="#6c83c5"/><circle cx="294.25" cy="219.27" r="0.62" fill="#dee1d1"/><circle cx="292.71" cy="212.02" r="0.62" fill="#85a9e8"/><circle cx="285.11" cy="215.51" r="0.62" fill="#efe5c0"/><circle cx="291.31" cy="228.53" r="0.62" fill="#dcd5b9"/><circle cx="290.03" cy="201.28" r="0.62" fill="#7fa5e4"/><circle cx="297.26" cy="213.29" r="0.62" fill="#9ec0ef"/><circle cx="286.82" cy="214.42" r="0.62" fill="#a2c2ef"/><circle cx="296.86" cy="206.12" r="0.62" fill="#6a81c4"/><circle cx="295.34" cy="195.06" r="0.62" fill="#395094"/><circle cx="289.21" cy="196.05" r="0.62" fill="#7495da"/><circle cx="295.34" cy="212.07" r="0.62" fill="#5b82d4"/><circle cx="287.78" cy="202.61" r="0.62" fill="#6e99e0"/><circle cx="293.27" cy="199.39" r="0.62" fill="#7294da"/><circle cx="287.63" cy="203.45" r="0.62" fill="#87acea"/><circle cx="288.99" cy="203.21" r="0.62" fill="#7294da"/><circle cx="289.24" cy="214" r="0.62" fill="#b4cce8"/><circle cx="282.46" cy="206.7" r="0.62" fill="#c2d6ec"/><circle cx="283.7" cy="212.28" r="0.62" fill="#bed3eb"/><circle cx="286.87" cy="215.13" r="0.62" fill="#dbdfcd"/><circle cx="294.98" cy="203.5" r="0.62" fill="#5769a6"/><circle cx="287.58" cy="189.01" r="0.62" fill="#5567a4"/><circle cx="284.42" cy="213.16" r="0.62" fill="#dbdfcd"/><circle cx="287.27" cy="209.49" r="0.62" fill="#aac7f0"/><circle cx="292.94" cy="200.15" r="0.62" fill="#a2c2ef"/><circle cx="287.28" cy="217.62" r="0.62" fill="#f2e9ca"/><circle cx="289.46" cy="204.94" r="0.62" fill="#6a96e0"/><circle cx="290.91" cy="190.67" r="0.62" fill="#495c9e"/><circle cx="289.21" cy="198.6" r="0.62" fill="#6087d5"/><circle cx="283.59" cy="208.84" r="0.62" fill="#b7cee8"/><circle cx="293.49" cy="208.9" r="0.62" fill="#99bcee"/><circle cx="289.73" cy="215.31" r="0.62" fill="#bcd1ea"/><circle cx="288.3" cy="229.18" r="0.62" fill="#efe4be"/><circle cx="291.02" cy="216.44" r="0.62" fill="#dfe2d2"/><circle cx="287.58" cy="203.26" r="0.62" fill="#7597db"/><circle cx="286.84" cy="196.32" r="0.62" fill="#5f86d5"/><circle cx="285.66" cy="210.62" r="0.62" fill="#aac7f1"/><circle cx="289" cy="191.35" r="0.62" fill="#3e5aaa"/><circle cx="294.07" cy="209.17" r="0.62" fill="#7aa2e6"/><circle cx="282.53" cy="221.55" r="0.62" fill="#d8d0b1"/><circle cx="282.5" cy="216.08" r="0.62" fill="#d9d1b3"/><circle cx="283.75" cy="216.88" r="0.62" fill="#cdd8e3"/><circle cx="296.56" cy="208.44" r="0.62" fill="#9bbeee"/><circle cx="288.83" cy="228.76" r="0.62" fill="#e8dfba"/><circle cx="295.01" cy="195.54" r="0.62" fill="#5c75bf"/><circle cx="293.56" cy="202.65" r="0.62" fill="#6f99e1"/><circle cx="289.08" cy="199.43" r="0.62" fill="#7aa1e3"/><circle cx="284.7" cy="198.97" r="0.62" fill="#8fb2eb"/><circle cx="285.55" cy="193.91" r="0.62" fill="#93b4ec"/><circle cx="296.67" cy="202.36" r="0.62" fill="#6389d6"/><circle cx="290.87" cy="221.6" r="0.62" fill="#e8dfbb"/><circle cx="293.05" cy="192.47" r="0.62" fill="#5b72b6"/><circle cx="296.03" cy="200.16" r="0.62" fill="#4f6aba"/><circle cx="295.86" cy="214.06" r="0.62" fill="#99bcee"/><circle cx="293.41" cy="209.72" r="0.62" fill="#7496da"/><circle cx="286.85" cy="225.9" r="0.62" fill="#e3d8b0"/><circle cx="282.13" cy="207.73" r="0.62" fill="#dee1d0"/><circle cx="288.66" cy="188.7" r="0.62" fill="#28428b"/><circle cx="292.28" cy="220.55" r="0.62" fill="#95b6ed"/><circle cx="284.64" cy="196.41" r="0.62" fill="#a6c5f0"/><circle cx="294.76" cy="209.02" r="0.62" fill="#5e77bf"/><circle cx="285.85" cy="205.57" r="0.62" fill="#91b2ea"/><circle cx="287.62" cy="215.14" r="0.62" fill="#a6c5f0"/><circle cx="287.38" cy="213.72" r="0.62" fill="#b5cde8"/><circle cx="291.21" cy="214.71" r="0.62" fill="#bed3eb"/><circle cx="285.79" cy="208.43" r="0.62" fill="#7aa1e3"/><circle cx="286.65" cy="211.3" r="0.62" fill="#9abdee"/><circle cx="282.52" cy="213.27" r="0.62" fill="#e2d6ad"/><circle cx="284.37" cy="210.17" r="0.62" fill="#dde0cf"/><circle cx="283.99" cy="205.28" r="0.62" fill="#80a6e7"/><circle cx="285.39" cy="214.02" r="0.62" fill="#bbd0ea"/><circle cx="294.92" cy="223.08" r="0.62" fill="#bad0ea"/><circle cx="298.52" cy="205.76" r="0.62" fill="#5a72b6"/><circle cx="290.67" cy="201.14" r="0.62" fill="#648ad6"/><circle cx="285.83" cy="208.11" r="0.62" fill="#658ad7"/><circle cx="294.33" cy="199.87" r="0.62" fill="#a3c3ef"/><circle cx="291.56" cy="197.32" r="0.62" fill="#5f86d5"/><circle cx="293.8" cy="207.58" r="0.62" fill="#8fb1ea"/><circle cx="286.24" cy="205.43" r="0.62" fill="#82a7e5"/><circle cx="287.85" cy="215.3" r="0.62" fill="#97b7ed"/><circle cx="288.52" cy="211.58" r="0.62" fill="#a0c1ef"/><circle cx="291.67" cy="189.46" r="0.62" fill="#4862ae"/><circle cx="289.86" cy="218.85" r="0.62" fill="#b8cfe9"/><circle cx="295.11" cy="218.19" r="0.62" fill="#98b7ed"/><circle cx="293.09" cy="191.2" r="0.62" fill="#4660ad"/><circle cx="288.07" cy="208.16" r="0.62" fill="#89ade8"/><circle cx="281.25" cy="219.58" r="0.62" fill="#eae2c1"/><circle cx="282.39" cy="210.61" r="0.62" fill="#dee2d1"/><circle cx="298.12" cy="213.1" r="0.62" fill="#7697db"/><circle cx="294.05" cy="212.49" r="0.62" fill="#87aae6"/><circle cx="290.94" cy="224.33" r="0.62" fill="#e8dfbc"/><circle cx="284.55" cy="212.04" r="0.62" fill="#bbd0ea"/><circle cx="287.8" cy="226.47" r="0.62" fill="#f0e6c4"/><circle cx="284.81" cy="197.48" r="0.62" fill="#8baee9"/><circle cx="297.47" cy="217.58" r="0.62" fill="#86a9e5"/><circle cx="288.44" cy="202.12" r="0.62" fill="#8cafeb"/><circle cx="294.08" cy="192.11" r="0.62" fill="#385094"/><circle cx="293.85" cy="195.59" r="0.62" fill="#7ca3e3"/><circle cx="285.9" cy="221.14" r="0.62" fill="#e5dcb8"/><circle cx="291.23" cy="196.49" r="0.62" fill="#6c97e0"/><circle cx="293.22" cy="203.96" r="0.62" fill="#709ae1"/><circle cx="283.13" cy="223.38" r="0.62" fill="#d2dbe5"/><circle cx="293.77" cy="196.35" r="0.62" fill="#5f86d5"/><circle cx="288.4" cy="215.88" r="0.62" fill="#bcd1ea"/><circle cx="287.37" cy="196.96" r="0.62" fill="#abc8f1"/><circle cx="290.24" cy="227.8" r="0.62" fill="#dad2b4"/><circle cx="292.37" cy="191.65" r="0.62" fill="#44589b"/><circle cx="297.12" cy="216.16" r="0.62" fill="#a5c4f0"/><circle cx="285.56" cy="229.05" r="0.62" fill="#e5dbb8"/><circle cx="282.95" cy="225.55" r="0.62" fill="#d1dbe5"/><circle cx="289.99" cy="208.43" r="0.62" fill="#91b3ec"/><circle cx="283.88" cy="207.23" r="0.62" fill="#c2d6ec"/><circle cx="294.55" cy="210.25" r="0.62" fill="#8fb1ea"/><circle cx="298.63" cy="209.28" r="0.62" fill="#9cbeee"/><circle cx="294.13" cy="212.19" r="0.62" fill="#abc8f1"/><circle cx="296.83" cy="200.45" r="0.62" fill="#9dbfee"/><circle cx="289.07" cy="221.67" r="0.62" fill="#f1e7c6"/><circle cx="285.23" cy="202.04" r="0.62" fill="#98bcee"/><circle cx="296.16" cy="214.36" r="0.62" fill="#668bd7"/><circle cx="289.56" cy="186.2" r="0.62" fill="#445b9a"/><circle cx="294.63" cy="203.97" r="0.62" fill="#3c5396"/><circle cx="284.9" cy="202.68" r="0.62" fill="#98bcee"/><circle cx="283.04" cy="222.92" r="0.62" fill="#cbd6e1"/><circle cx="292.97" cy="192.67" r="0.62" fill="#7da4e6"/><circle cx="285.59" cy="213.05" r="0.62" fill="#96b6ed"/><circle cx="281.75" cy="224.09" r="0.62" fill="#f0e6c4"/><circle cx="288.46" cy="193.2" r="0.62" fill="#a4c3ef"/><circle cx="282.37" cy="208.85" r="0.62" fill="#dce0ce"/><circle cx="286.96" cy="207.79" r="0.62" fill="#6e91d9"/><circle cx="289.85" cy="189.25" r="0.62" fill="#6c83c5"/><circle cx="289.78" cy="222.91" r="0.62" fill="#eae1c0"/><circle cx="291.41" cy="191.25" r="0.62" fill="#526dbb"/><circle cx="292.18" cy="189.18" r="0.62" fill="#5065a1"/><circle cx="290.31" cy="193.4" r="0.62" fill="#85a9e8"/><circle cx="292.98" cy="221.38" r="0.62" fill="#98bcee"/><circle cx="288.81" cy="211.42" r="0.62" fill="#99bdee"/><circle cx="286.66" cy="221.93" r="0.62" fill="#e4dab5"/><circle cx="293.52" cy="191.76" r="0.62" fill="#3d5198"/><circle cx="289.4" cy="193.66" r="0.62" fill="#acc9f1"/><circle cx="289.46" cy="214.66" r="0.62" fill="#b7cee9"/><circle cx="294.07" cy="199.98" r="0.62" fill="#6a8ed8"/><circle cx="297.42" cy="210.06" r="0.62" fill="#7fa5e4"/><circle cx="291.96" cy="219.57" r="0.62" fill="#a7c6f0"/><circle cx="285.4" cy="217.14" r="0.62" fill="#cfdae4"/><circle cx="291.24" cy="223.86" r="0.62" fill="#e9e0be"/><circle cx="294.82" cy="200.25" r="0.62" fill="#a7c6f0"/><circle cx="283.67" cy="214.77" r="0.62" fill="#f0e6c5"/><circle cx="282.55" cy="207.52" r="0.62" fill="#99bcee"/><circle cx="285.6" cy="203.35" r="0.62" fill="#6c8fd8"/><circle cx="292.6" cy="213.69" r="0.62" fill="#678bd7"/><circle cx="291.92" cy="188.19" r="0.62" fill="#5670bc"/><circle cx="297.04" cy="216.86" r="0.62" fill="#7294da"/><circle cx="297.28" cy="212.76" r="0.62" fill="#95b6ed"/><circle cx="292.46" cy="225.03" r="0.62" fill="#eae2c2"/><circle cx="294.3" cy="213.74" r="0.62" fill="#88adea"/><circle cx="293.76" cy="223.19" r="0.62" fill="#cad5e1"/><circle cx="287.65" cy="194.87" r="0.62" fill="#719be1"/><circle cx="288.67" cy="222.94" r="0.62" fill="#e6dcb4"/><circle cx="294.29" cy="196.66" r="0.62" fill="#7092d9"/><circle cx="296.94" cy="203.82" r="0.62" fill="#7fa5e4"/><circle cx="284.07" cy="203.98" r="0.62" fill="#6e98e0"/><circle cx="283.09" cy="224.63" r="0.62" fill="#e9e0bd"/><circle cx="296.39" cy="204.22" r="0.62" fill="#7294da"/><circle cx="296.36" cy="217.82" r="0.62" fill="#98bcee"/><circle cx="290.99" cy="208.26" r="0.62" fill="#85abea"/><circle cx="293.75" cy="212.27" r="0.62" fill="#99bcee"/><circle cx="288.69" cy="223.24" r="0.62" fill="#e1d5ab"/><circle cx="285.8" cy="202.91" r="0.62" fill="#5d84d4"/><circle cx="284.99" cy="223.21" r="0.62" fill="#efe4bf"/><circle cx="292.66" cy="226.44" r="0.62" fill="#e6dcb5"/><circle cx="286.05" cy="215.03" r="0.62" fill="#bed3eb"/><circle cx="293.42" cy="222.87" r="0.62" fill="#cad6e1"/><circle cx="292.23" cy="210.09" r="0.62" fill="#9abdee"/><circle cx="284.06" cy="208.57" r="0.62" fill="#acc9f1"/><circle cx="284.93" cy="222.97" r="0.62" fill="#cfd9e4"/><circle cx="283.87" cy="219.57" r="0.62" fill="#dcd5b9"/><circle cx="284.13" cy="200.63" r="0.62" fill="#a0c1ef"/><circle cx="291.26" cy="197.73" r="0.62" fill="#729ce1"/><circle cx="293.03" cy="196.96" r="0.62" fill="#658ad6"/><circle cx="297.88" cy="213.7" r="0.62" fill="#84aaea"/><circle cx="281.61" cy="218.59" r="0.62" fill="#ced9e3"/><circle cx="287.55" cy="194.43" r="0.62" fill="#9bbeee"/><circle cx="296.97" cy="215.04" r="0.62" fill="#a1c2ef"/><circle cx="292.51" cy="188.15" r="0.62" fill="#6077b9"/><circle cx="283.69" cy="218.77" r="0.62" fill="#e9e0be"/><circle cx="285.45" cy="229.39" r="0.62" fill="#e6dcb6"/><circle cx="285.66" cy="221.07" r="0.62" fill="#c8d4e0"/><circle cx="294.12" cy="214.14" r="0.62" fill="#8eb0e9"/><circle cx="291.69" cy="191.73" r="0.62" fill="#2a448c"/><circle cx="290.33" cy="193.83" r="0.62" fill="#82a6e5"/><circle cx="285.69" cy="208.88" r="0.62" fill="#bbd1ea"/><circle cx="281.14" cy="220.64" r="0.62" fill="#e2d7af"/><circle cx="294.92" cy="199.18" r="0.62" fill="#6d90d9"/><circle cx="295.48" cy="219.49" r="0.62" fill="#dfe2d2"/><circle cx="284.4" cy="227.96" r="0.62" fill="#e0d5aa"/><circle cx="283.91" cy="225.13" r="0.62" fill="#e8deba"/><circle cx="291.55" cy="213.82" r="0.62" fill="#a3c3ef"/><circle cx="291.28" cy="191.63" r="0.62" fill="#6c83c5"/><circle cx="295.01" cy="205.6" r="0.62" fill="#84aaea"/><circle cx="287.24" cy="220.83" r="0.62" fill="#ded8bd"/><circle cx="286.65" cy="227.24" r="0.62" fill="#d2dbe5"/><circle cx="286.72" cy="213.39" r="0.62" fill="#8db0eb"/><circle cx="285.24" cy="217.67" r="0.62" fill="#e7ddb7"/><circle cx="285.74" cy="204.28" r="0.62" fill="#6f9ae1"/><circle cx="293.88" cy="222.35" r="0.62" fill="#88adea"/><circle cx="284.42" cy="219.64" r="0.62" fill="#dbd4b6"/><circle cx="292.97" cy="217.41" r="0.62" fill="#b8cfe9"/><circle cx="295.44" cy="195.9" r="0.62" fill="#5668a5"/><circle cx="289.69" cy="185.72" r="0.62" fill="#3d5496"/><circle cx="287.02" cy="212.24" r="0.62" fill="#93b4ec"/><circle cx="285.32" cy="220.87" r="0.62" fill="#ded7bc"/><circle cx="284.43" cy="205.17" r="0.62" fill="#779fe2"/><circle cx="293.15" cy="195.37" r="0.62" fill="#92b3ec"/><circle cx="292.78" cy="203.31" r="0.62" fill="#a8c6f0"/><circle cx="292.57" cy="222.1" r="0.62" fill="#e7deb8"/><circle cx="293.08" cy="223.9" r="0.62" fill="#e3d9b2"/><circle cx="292.81" cy="220.15" r="0.62" fill="#8cafeb"/><circle cx="296.01" cy="211.99" r="0.62" fill="#99bcee"/><circle cx="290.33" cy="192.69" r="0.62" fill="#84aaea"/><circle cx="282.56" cy="202.93" r="0.62" fill="#9ec0ef"/><circle cx="285.91" cy="210.55" r="0.62" fill="#92b3ec"/><circle cx="295.82" cy="197.47" r="0.62" fill="#4c65b0"/><circle cx="284.05" cy="211.74" r="0.62" fill="#95b6ed"/><circle cx="287.43" cy="200.86" r="0.62" fill="#90b1ea"/><circle cx="293.46" cy="209.12" r="0.62" fill="#97b7ed"/><circle cx="286.59" cy="192.18" r="0.62" fill="#4560ad"/><circle cx="282.63" cy="217.19" r="0.62" fill="#f1e8c9"/><circle cx="284.63" cy="208.85" r="0.62" fill="#dcdfcd"/><circle cx="285.43" cy="207.27" r="0.62" fill="#a2c2ef"/><circle cx="289.78" cy="197.24" r="0.62" fill="#87acea"/><circle cx="282.67" cy="204.14" r="0.62" fill="#84aaea"/><circle cx="290.45" cy="221.57" r="0.62" fill="#dbd4b7"/><circle cx="291.05" cy="200.94" r="0.62" fill="#a5c5f0"/><circle cx="289.45" cy="205.54" r="0.62" fill="#9cbeee"/><circle cx="296.05" cy="213.08" r="0.62" fill="#6e98e0"/><circle cx="290.68" cy="208.4" r="0.62" fill="#7496da"/><circle cx="296.98" cy="201.22" r="0.62" fill="#5063a2"/><circle cx="298.57" cy="210.21" r="0.62" fill="#769fe2"/><circle cx="295.26" cy="205.71" r="0.62" fill="#789fe2"/><circle cx="290.14" cy="195.53" r="0.62" fill="#9dbfee"/><circle cx="296.98" cy="204.21" r="0.62" fill="#6077b9"/><circle cx="288.01" cy="218.53" r="0.62" fill="#d2dce6"/><circle cx="289.4" cy="204.37" r="0.62" fill="#81a6e4"/><circle cx="295.78" cy="204.41" r="0.62" fill="#394d95"/><circle cx="284.25" cy="206.77" r="0.62" fill="#9ec0ef"/><circle cx="286.16" cy="196.96" r="0.62" fill="#9abdee"/><circle cx="294.79" cy="201.04" r="0.62" fill="#576fb5"/><circle cx="292.07" cy="198.98" r="0.62" fill="#90b1ea"/><circle cx="282.61" cy="220.26" r="0.62" fill="#e4d9b3"/><circle cx="294.83" cy="216.87" r="0.62" fill="#dce0ce"/><circle cx="291.78" cy="193.26" r="0.62" fill="#5f85d5"/><circle cx="289.78" cy="222.57" r="0.62" fill="#f0e6c2"/><circle cx="295.01" cy="211.79" r="0.62" fill="#9ab9ed"/><circle cx="292.18" cy="193.09" r="0.62" fill="#7ea4e4"/><circle cx="281.52" cy="223.15" r="0.62" fill="#efe5c1"/><circle cx="287.9" cy="216.66" r="0.62" fill="#a4c4f0"/><circle cx="293.39" cy="224.07" r="0.62" fill="#d0dbe5"/><circle cx="286.6" cy="190.07" r="0.62" fill="#5870b5"/><circle cx="298.28" cy="211.08" r="0.62" fill="#87aae6"/><circle cx="289.58" cy="188.06" r="0.62" fill="#6078c0"/><circle cx="294.74" cy="194.61" r="0.62" fill="#779fe2"/><circle cx="290.4" cy="198.15" r="0.62" fill="#95b5ec"/><circle cx="291.07" cy="217.32" r="0.62" fill="#88adea"/><circle cx="290.03" cy="203.29" r="0.62" fill="#9ec0ef"/><circle cx="288.77" cy="201.89" r="0.62" fill="#6e99e0"/><circle cx="293.95" cy="213.72" r="0.62" fill="#6b96e0"/><circle cx="293.22" cy="213.92" r="0.62" fill="#7ea5e6"/><circle cx="290" cy="194.25" r="0.62" fill="#7a9adc"/><circle cx="297.41" cy="209.21" r="0.62" fill="#5069b2"/><circle cx="288.97" cy="197.13" r="0.62" fill="#a4c4f0"/><circle cx="287.47" cy="229.15" r="0.62" fill="#eae1c0"/><circle cx="288.01" cy="221.28" r="0.62" fill="#e0d4a8"/><circle cx="282.8" cy="212.16" r="0.62" fill="#9dbfee"/><circle cx="285.53" cy="195.92" r="0.62" fill="#86abea"/><circle cx="286.12" cy="203.14" r="0.62" fill="#a2c2ef"/><circle cx="292.41" cy="203.63" r="0.62" fill="#84aaea"/><circle cx="296.32" cy="204.93" r="0.62" fill="#3b5097"/><circle cx="295.16" cy="203.07" r="0.62" fill="#4560ad"/><circle cx="285.26" cy="225.31" r="0.62" fill="#e5dbb6"/><circle cx="292.28" cy="217.64" r="0.62" fill="#bdd2ea"/><circle cx="290.17" cy="217.12" r="0.62" fill="#a8c6f0"/><circle cx="286.01" cy="224.81" r="0.62" fill="#e1d6ad"/><circle cx="288.56" cy="203.91" r="0.62" fill="#aac8f1"/><circle cx="286.1" cy="204.09" r="0.62" fill="#8cafe9"/><circle cx="287.59" cy="205.98" r="0.62" fill="#8aade9"/><circle cx="289.9" cy="187.91" r="0.62" fill="#5d74b7"/><circle cx="289.41" cy="225.78" r="0.62" fill="#eae2c1"/><circle cx="296.41" cy="207.48" r="0.62" fill="#a9c7f0"/><circle cx="291.16" cy="223" r="0.62" fill="#ddd6bb"/><circle cx="286.64" cy="191.36" r="0.62" fill="#394e96"/><circle cx="294.54" cy="209.49" r="0.62" fill="#657dc2"/><circle cx="289.16" cy="191.18" r="0.62" fill="#46599c"/><circle cx="290.75" cy="211.03" r="0.62" fill="#7294da"/><circle cx="281.9" cy="222.48" r="0.62" fill="#e3d9b3"/><circle cx="286.44" cy="203.99" r="0.62" fill="#a6c5f0"/><circle cx="286.86" cy="221.43" r="0.62" fill="#e9e0bd"/><circle cx="288.66" cy="188.68" r="0.62" fill="#3a56a8"/><circle cx="289.27" cy="192.1" r="0.62" fill="#46599c"/><circle cx="287.54" cy="205.56" r="0.62" fill="#678cd7"/><circle cx="297.18" cy="209.7" r="0.62" fill="#8baee9"/><circle cx="298.63" cy="209.64" r="0.62" fill="#a0c1ef"/><circle cx="283.23" cy="220.76" r="0.62" fill="#cdd8e3"/><circle cx="292.75" cy="198.73" r="0.62" fill="#9ab9ed"/><circle cx="283.52" cy="213.98" r="0.62" fill="#e8dfba"/><circle cx="284.26" cy="196.1" r="0.62" fill="#89ace8"/><circle cx="284.67" cy="204.08" r="0.62" fill="#8baeeb"/><circle cx="284.9" cy="215" r="0.62" fill="#a0c1ef"/><circle cx="284.94" cy="197.35" r="0.62" fill="#84a9e7"/><circle cx="288.25" cy="193.03" r="0.62" fill="#a5c4f0"/><circle cx="296.95" cy="212.84" r="0.62" fill="#aac7f1"/><circle cx="286.16" cy="203.39" r="0.62" fill="#a6c5f0"/><circle cx="288.41" cy="199.78" r="0.62" fill="#91b2ea"/><circle cx="286.62" cy="190.07" r="0.62" fill="#4b67b8"/><circle cx="291.89" cy="194.39" r="0.62" fill="#89adea"/><circle cx="289.94" cy="216.35" r="0.62" fill="#aac8f1"/><circle cx="289.7" cy="218.48" r="0.62" fill="#8cb0eb"/><circle cx="294.93" cy="205.42" r="0.62" fill="#5466a4"/><circle cx="293.32" cy="201.86" r="0.62" fill="#9cbaee"/><circle cx="283.83" cy="225.18" r="0.62" fill="#c9d5e1"/><circle cx="289.23" cy="223.2" r="0.62" fill="#e4d9b3"/><circle cx="296.12" cy="196.54" r="0.62" fill="#6187d6"/><circle cx="284.68" cy="224.96" r="0.62" fill="#e2d7ae"/><circle cx="284.88" cy="212.13" r="0.62" fill="#bbd1ea"/><circle cx="297.83" cy="206.23" r="0.62" fill="#739ce1"/><circle cx="288.36" cy="228.11" r="0.62" fill="#f1e7c6"/><circle cx="293.58" cy="195.47" r="0.62" fill="#8baee9"/><circle cx="297.58" cy="209.66" r="0.62" fill="#9ab9ed"/><circle cx="284.89" cy="228.67" r="0.62" fill="#dad2b4"/><circle cx="285.57" cy="193.47" r="0.62" fill="#9bbaed"/><circle cx="297.88" cy="201.18" r="0.62" fill="#83a7e5"/><circle cx="289.42" cy="222.16" r="0.62" fill="#dfd8be"/><circle cx="287.2" cy="195.84" r="0.62" fill="#9cbfee"/><circle cx="289.99" cy="227.06" r="0.62" fill="#e0d4a8"/><circle cx="291.84" cy="224.3" r="0.62" fill="#d9d1b2"/><circle cx="284.13" cy="208.07" r="0.62" fill="#dfe2d2"/><circle cx="297.47" cy="210.9" r="0.62" fill="#93b3ea"/><circle cx="295.18" cy="221.44" r="0.62" fill="#89aeeb"/><circle cx="288.69" cy="216.18" r="0.62" fill="#a9c7f0"/><circle cx="293.3" cy="205.06" r="0.62" fill="#7ba2e3"/><circle cx="290.12" cy="221.55" r="0.62" fill="#ccd7e2"/><circle cx="287.3" cy="215.59" r="0.62" fill="#99b9ed"/><circle cx="290.69" cy="223.41" r="0.62" fill="#e6dcb5"/><circle cx="284.95" cy="206.28" r="0.62" fill="#698dd8"/><circle cx="285.24" cy="221.24" r="0.62" fill="#e1d6ad"/><circle cx="291.44" cy="220" r="0.62" fill="#dde0cf"/><circle cx="291.33" cy="212.84" r="0.62" fill="#97b7ed"/><circle cx="288.46" cy="197.55" r="0.62" fill="#a3c3ef"/><circle cx="286.92" cy="195.84" r="0.62" fill="#7ba3e6"/><circle cx="295.54" cy="202.48" r="0.62" fill="#5e77c0"/><circle cx="293.7" cy="209.94" r="0.62" fill="#7ca3e3"/><circle cx="284.74" cy="197.94" r="0.62" fill="#6c90d8"/><circle cx="292.9" cy="223.91" r="0.62" fill="#e2d8b0"/><circle cx="284" cy="202.7" r="0.62" fill="#85aaea"/><circle cx="291.43" cy="191.98" r="0.62" fill="#28428b"/><circle cx="287.46" cy="191.89" r="0.62" fill="#647cc2"/><circle cx="285.67" cy="211.07" r="0.62" fill="#acc9f1"/><circle cx="289.78" cy="193.16" r="0.62" fill="#6b97e0"/><circle cx="285.61" cy="225.38" r="0.62" fill="#efe5c1"/><circle cx="292.16" cy="212.27" r="0.62" fill="#6a96e0"/><circle cx="286.46" cy="198.81" r="0.62" fill="#8baee9"/><circle cx="292.25" cy="187.64" r="0.62" fill="#637bc1"/><circle cx="281.13" cy="220.43" r="0.62" fill="#eae2c1"/><circle cx="283.93" cy="204.28" r="0.62" fill="#6a96e0"/><circle cx="292.55" cy="215.54" r="0.62" fill="#dcdfce"/><circle cx="285.83" cy="215.86" r="0.62" fill="#e1d5ab"/><circle cx="297.4" cy="206.34" r="0.62" fill="#7495da"/><circle cx="287.83" cy="216.01" r="0.62" fill="#9bbaed"/><circle cx="296.65" cy="216.07" r="0.62" fill="#8bafeb"/><circle cx="292.95" cy="194.82" r="0.62" fill="#82a7e7"/><circle cx="286.21" cy="226.74" r="0.62" fill="#e8e0bc"/><circle cx="287.02" cy="222.14" r="0.62" fill="#f1e8c9"/><circle cx="284.96" cy="223.73" r="0.62" fill="#d0dae4"/><circle cx="288.77" cy="223.38" r="0.62" fill="#d0dae4"/><circle cx="289.53" cy="202.06" r="0.62" fill="#7ea5e6"/><circle cx="288.91" cy="227.82" r="0.62" fill="#e8dfbb"/><circle cx="282.31" cy="205.18" r="0.62" fill="#678cd7"/><circle cx="282.06" cy="218.44" r="0.62" fill="#cfdae4"/><circle cx="281.44" cy="216.77" r="0.62" fill="#f1e8c8"/><circle cx="295.18" cy="193.45" r="0.62" fill="#556db4"/><circle cx="283.96" cy="214.81" r="0.62" fill="#d8d0b0"/><circle cx="283.66" cy="204.9" r="0.62" fill="#84aaea"/><circle cx="289.46" cy="209.64" r="0.62" fill="#a4c3f0"/><circle cx="290.72" cy="192.86" r="0.62" fill="#7294da"/><circle cx="286.63" cy="228.63" r="0.62" fill="#f1e7c7"/><circle cx="292.51" cy="215.25" r="0.62" fill="#a0c1ef"/><circle cx="291.71" cy="194.47" r="0.62" fill="#85a9e5"/><circle cx="282.15" cy="222.83" r="0.62" fill="#d9d2b3"/><circle cx="286.86" cy="194.45" r="0.62" fill="#90b2ec"/><circle cx="292.62" cy="223.37" r="0.62" fill="#cdd8e3"/><circle cx="289.77" cy="194.6" r="0.62" fill="#7da3e4"/><circle cx="291.39" cy="227.66" r="0.62" fill="#f1e8c9"/><circle cx="289.19" cy="210.35" r="0.62" fill="#98bcee"/><circle cx="293.44" cy="223.73" r="0.62" fill="#f0e6c2"/><circle cx="283.78" cy="226.29" r="0.62" fill="#f1e7c6"/><circle cx="291.7" cy="224.79" r="0.62" fill="#cdd8e3"/><circle cx="283.21" cy="220.62" r="0.62" fill="#e1d6ac"/><circle cx="288.18" cy="214.76" r="0.62" fill="#d8dcc9"/><circle cx="297.85" cy="204.61" r="0.62" fill="#344c91"/><circle cx="291.2" cy="203.78" r="0.62" fill="#79a1e3"/><circle cx="287.58" cy="197.29" r="0.62" fill="#6f9ae1"/><circle cx="293.87" cy="221.05" r="0.62" fill="#d9ddca"/><circle cx="293.19" cy="205.12" r="0.62" fill="#90b1ea"/><circle cx="288.1" cy="193.91" r="0.62" fill="#a6c5f0"/><circle cx="291.37" cy="203.48" r="0.62" fill="#80a6e7"/><circle cx="290.4" cy="207.42" r="0.62" fill="#91b2ea"/><circle cx="285.94" cy="204.09" r="0.62" fill="#779fe2"/><circle cx="288.46" cy="225.48" r="0.62" fill="#e2d7ae"/><circle cx="296.98" cy="198.33" r="0.62" fill="#6187d6"/><circle cx="288.93" cy="195.38" r="0.62" fill="#9fc1ef"/><circle cx="289.41" cy="186.04" r="0.62" fill="#647cc2"/><circle cx="289.02" cy="205.97" r="0.62" fill="#719be1"/><circle cx="289.75" cy="206.59" r="0.62" fill="#94b5ec"/><circle cx="286.5" cy="200.97" r="0.62" fill="#7999dc"/><circle cx="282.42" cy="212.18" r="0.62" fill="#d8dcc9"/><circle cx="284.57" cy="209.16" r="0.62" fill="#d9ddca"/><circle cx="289.71" cy="213.85" r="0.62" fill="#c2d6ec"/><circle cx="297.04" cy="216.22" r="0.62" fill="#a2c2ef"/><circle cx="296" cy="214.99" r="0.62" fill="#7999dc"/><circle cx="284.65" cy="221.7" r="0.62" fill="#f0e6c4"/><circle cx="294.48" cy="207.16" r="0.62" fill="#41559a"/><circle cx="297.3" cy="201.4" r="0.62" fill="#8fb0ea"/><circle cx="290.53" cy="220.97" r="0.62" fill="#e1d5ab"/><circle cx="283.59" cy="207.57" r="0.62" fill="#bcd2ea"/><circle cx="288.4" cy="190.86" r="0.62" fill="#4a5d9f"/><circle cx="297.74" cy="208.05" r="0.62" fill="#4d629f"/><circle cx="296.32" cy="197.61" r="0.62" fill="#6077b9"/><circle cx="289.07" cy="196.49" r="0.62" fill="#9bbaee"/><circle cx="291.41" cy="216.97" r="0.62" fill="#87acea"/><circle cx="291.11" cy="211.5" r="0.62" fill="#7093d9"/><circle cx="286.24" cy="227.88" r="0.62" fill="#f1e8c8"/><circle cx="296.18" cy="196.46" r="0.62" fill="#485e9c"/><circle cx="297.95" cy="205.82" r="0.62" fill="#a7c6f0"/><circle cx="291.06" cy="214.31" r="0.62" fill="#87acea"/><circle cx="291.92" cy="224.64" r="0.62" fill="#e5dbb7"/><circle cx="297.13" cy="199.56" r="0.62" fill="#7ca3e3"/><circle cx="297" cy="199.55" r="0.62" fill="#415cab"/><circle cx="293.15" cy="192.53" r="0.62" fill="#4a609d"/><circle cx="292.3" cy="198.87" r="0.62" fill="#7fa5e4"/><circle cx="287.67" cy="228.31" r="0.62" fill="#e2d7ae"/><circle cx="282.64" cy="218.74" r="0.62" fill="#eae2c0"/><circle cx="289.01" cy="190.68" r="0.62" fill="#4e69b9"/><circle cx="292.26" cy="209.67" r="0.62" fill="#94b4ea"/><circle cx="291.12" cy="213.01" r="0.62" fill="#98bcee"/><circle cx="284.22" cy="207.57" r="0.62" fill="#c0d4eb"/><circle cx="287.72" cy="219.34" r="0.62" fill="#efe5c0"/><circle cx="290.18" cy="216.08" r="0.62" fill="#9bbaee"/><circle cx="286.32" cy="194.7" r="0.62" fill="#9fc0ef"/><circle cx="282.82" cy="201.68" r="0.62" fill="#9bbaed"/><circle cx="287.52" cy="220.96" r="0.62" fill="#f0e5c2"/><circle cx="284.94" cy="200.65" r="0.62" fill="#80a6e4"/><circle cx="294.29" cy="194.71" r="0.62" fill="#82a7e7"/><circle cx="297.42" cy="199.56" r="0.62" fill="#6e99e0"/><circle cx="285.74" cy="205.97" r="0.62" fill="#739ce1"/><circle cx="284.39" cy="220.5" r="0.62" fill="#ccd7e2"/><circle cx="296.88" cy="217.19" r="0.62" fill="#81a7e7"/><circle cx="287.89" cy="222.88" r="0.62" fill="#eae2c1"/><circle cx="292.87" cy="193.18" r="0.62" fill="#92b3ea"/><circle cx="288.08" cy="218.48" r="0.62" fill="#cdd7e2"/><circle cx="290" cy="188.85" r="0.62" fill="#5771bd"/><circle cx="288.95" cy="223.46" r="0.62" fill="#ccd7e2"/><circle cx="291.18" cy="197.33" r="0.62" fill="#a0c1ef"/><circle cx="284.42" cy="210.34" r="0.62" fill="#c1d5ec"/><circle cx="289.92" cy="225.71" r="0.62" fill="#f0e7c5"/><circle cx="283.67" cy="206.24" r="0.62" fill="#a4c4f0"/><circle cx="288.78" cy="202.27" r="0.62" fill="#84aaea"/><circle cx="283.94" cy="202.56" r="0.62" fill="#7495da"/><circle cx="290.54" cy="194.13" r="0.62" fill="#88acea"/><circle cx="286.43" cy="208.95" r="0.62" fill="#749de2"/><circle cx="297.89" cy="206.98" r="0.62" fill="#495f9d"/><circle cx="290.08" cy="200.81" r="0.62" fill="#5b83d4"/><circle cx="282.64" cy="206.6" r="0.62" fill="#98bcee"/><circle cx="291.9" cy="201.13" r="0.62" fill="#98bcee"/><circle cx="294.1" cy="213.62" r="0.62" fill="#658ad6"/></g>
<g fill-opacity="0.8"><circle cx="289.01" cy="229.76" r="0.5" fill="#e0d4a9"/><circle cx="299.16" cy="216.06" r="0.5" fill="#82a7e5"/><circle cx="295.1" cy="192.71" r="0.5" fill="#4862ae"/><circle cx="281.09" cy="222.17" r="0.5" fill="#efe4be"/><circle cx="283.24" cy="196.98" r="0.5" fill="#a7c6f0"/><circle cx="282.4" cy="198.78" r="0.5" fill="#6d90d9"/><circle cx="298.76" cy="214.48" r="0.5" fill="#83a8e7"/><circle cx="284.64" cy="230.47" r="0.5" fill="#f1e7c7"/><circle cx="284.25" cy="229.54" r="0.5" fill="#cdd8e2"/><circle cx="288.35" cy="186.24" r="0.5" fill="#3c5097"/><circle cx="295.9" cy="224.77" r="0.5" fill="#cdd8e3"/><circle cx="284.46" cy="228.94" r="0.5" fill="#dbd3b6"/><circle cx="282.29" cy="226.61" r="0.5" fill="#e7ddb7"/><circle cx="284.13" cy="195.48" r="0.5" fill="#7899db"/><circle cx="281.39" cy="225.55" r="0.5" fill="#dad2b4"/><circle cx="288.1" cy="185.94" r="0.5" fill="#526dbb"/><circle cx="284.45" cy="229.55" r="0.5" fill="#e0d4a9"/><circle cx="280.05" cy="217.7" r="0.5" fill="#dcd5b8"/><circle cx="283.52" cy="197.06" r="0.5" fill="#88ace8"/><circle cx="294.92" cy="191.52" r="0.5" fill="#41559a"/><circle cx="299.4" cy="204.46" r="0.5" fill="#465c9b"/><circle cx="284.68" cy="231.72" r="0.5" fill="#e2d6ad"/><circle cx="280.96" cy="224.86" r="0.5" fill="#e2d6ad"/><circle cx="299.53" cy="208.94" r="0.5" fill="#3a5295"/><circle cx="294.6" cy="190.67" r="0.5" fill="#29438c"/><circle cx="293.62" cy="189.82" r="0.5" fill="#6076b8"/><circle cx="286.99" cy="188.22" r="0.5" fill="#5567a5"/><circle cx="285.22" cy="232.11" r="0.5" fill="#e0d4a8"/><circle cx="284.66" cy="229.34" r="0.5" fill="#dad3b5"/><circle cx="280.43" cy="217.8" r="0.5" fill="#ced9e3"/><circle cx="298.9" cy="209.47" r="0.5" fill="#93b4ec"/><circle cx="295.37" cy="193.2" r="0.5" fill="#2c458d"/><circle cx="288.22" cy="186.9" r="0.5" fill="#4a5f9d"/><circle cx="281.83" cy="226.15" r="0.5" fill="#dfd8be"/><circle cx="283.93" cy="230.11" r="0.5" fill="#dbd3b6"/><circle cx="299.45" cy="203.32" r="0.5" fill="#7596db"/><circle cx="293.31" cy="187.65" r="0.5" fill="#5d74b7"/><circle cx="290.17" cy="229.22" r="0.5" fill="#f1e7c6"/><circle cx="282.79" cy="199.11" r="0.5" fill="#a8c6f0"/><circle cx="289.83" cy="230.49" r="0.5" fill="#d8d0b1"/><circle cx="281.49" cy="203.74" r="0.5" fill="#5a82d4"/><circle cx="299.2" cy="215.85" r="0.5" fill="#a0c1ef"/><circle cx="292.27" cy="187.41" r="0.5" fill="#5972bd"/><circle cx="285.4" cy="230.57" r="0.5" fill="#f1e8c9"/><circle cx="283.16" cy="230.02" r="0.5" fill="#ded7bc"/><circle cx="285.67" cy="189.65" r="0.5" fill="#4f62a1"/><circle cx="281.46" cy="227.63" r="0.5" fill="#eae2c1"/><circle cx="286.55" cy="187.72" r="0.5" fill="#4a5d9f"/><circle cx="285.03" cy="192.87" r="0.5" fill="#94b5ec"/><circle cx="296.37" cy="193.64" r="0.5" fill="#314a90"/></g>
<g fill-opacity="1"><circle cx="358.57" cy="168.82" r="0.6" fill="#6d89d5"/><circle cx="359.14" cy="170.57" r="0.6" fill="#7d97d9"/><circle cx="356.8" cy="180.39" r="0.6" fill="#6986d4"/><circle cx="360.62" cy="163.55" r="0.6" fill="#4862b3"/><circle cx="358.33" cy="169.1" r="0.6" fill="#718cd6"/><circle cx="358.44" cy="169.61" r="0.6" fill="#607ac5"/><circle cx="366.96" cy="172.56" r="0.6" fill="#c9d6eb"/><circle cx="361.03" cy="160.93" r="0.6" fill="#7e98da"/><circle cx="359.72" cy="177.57" r="0.6" fill="#5069b6"/><circle cx="365.71" cy="175.12" r="0.6" fill="#c7d5ea"/><circle cx="360.24" cy="180.71" r="0.6" fill="#4862b3"/><circle cx="358.97" cy="163.26" r="0.6" fill="#516ec0"/><circle cx="360.79" cy="179.05" r="0.6" fill="#88a0dc"/><circle cx="355.43" cy="178.51" r="0.6" fill="#657ec6"/><circle cx="360.9" cy="171.52" r="0.6" fill="#7b96d9"/><circle cx="364.52" cy="170.15" r="0.6" fill="#e1ce95"/><circle cx="359.5" cy="167.52" r="0.6" fill="#4661b2"/><circle cx="360.47" cy="161.39" r="0.6" fill="#7591d7"/><circle cx="360.55" cy="170.14" r="0.6" fill="#3350aa"/><circle cx="356.66" cy="172.47" r="0.6" fill="#6c84c9"/><circle cx="364.69" cy="176.75" r="0.6" fill="#e8d8a9"/><circle cx="352.26" cy="171.97" r="0.6" fill="#3854ac"/><circle cx="365.88" cy="163.58" r="0.6" fill="#e9d9ac"/><circle cx="360.52" cy="173.37" r="0.6" fill="#5c77c3"/><circle cx="358.43" cy="164.4" r="0.6" fill="#3f5aaf"/><circle cx="362.96" cy="175.91" r="0.6" fill="#526bb7"/><circle cx="357.58" cy="170.1" r="0.6" fill="#8da4de"/><circle cx="360.39" cy="162.64" r="0.6" fill="#304ea9"/><circle cx="360.31" cy="176.24" r="0.6" fill="#3652ab"/><circle cx="362.26" cy="179.58" r="0.6" fill="#708cd6"/><circle cx="354.88" cy="162.86" r="0.6" fill="#3a56ad"/><circle cx="360.74" cy="172.91" r="0.6" fill="#6a82c8"/><circle cx="363.43" cy="178.28" r="0.6" fill="#3552ab"/><circle cx="360.72" cy="171.1" r="0.6" fill="#4f68b5"/><circle cx="356.54" cy="167.99" r="0.6" fill="#405caf"/><circle cx="361.21" cy="166.73" r="0.6" fill="#566eb8"/><circle cx="357.68" cy="173.42" r="0.6" fill="#4862b2"/><circle cx="359.79" cy="164.39" r="0.6" fill="#405baf"/><circle cx="360.84" cy="179.26" r="0.6" fill="#748fd7"/><circle cx="363.94" cy="169.49" r="0.6" fill="#e4d29e"/><circle cx="361.4" cy="169.05" r="0.6" fill="#6b83c9"/><circle cx="362.06" cy="162.54" r="0.6" fill="#6381d2"/><circle cx="355.98" cy="166.24" r="0.6" fill="#526ab7"/><circle cx="358.78" cy="174.94" r="0.6" fill="#5f7ed1"/><circle cx="354.98" cy="166.64" r="0.6" fill="#7b95d9"/><circle cx="357.46" cy="172.25" r="0.6" fill="#4a64b3"/><circle cx="362.81" cy="165.91" r="0.6" fill="#5971ba"/><circle cx="364.37" cy="172.31" r="0.6" fill="#e0cd92"/><circle cx="366.3" cy="164.95" r="0.6" fill="#e2cf97"/><circle cx="356.28" cy="166.71" r="0.6" fill="#869edc"/><circle cx="352.78" cy="170.31" r="0.6" fill="#7e97d9"/><circle cx="357.24" cy="165.15" r="0.6" fill="#3c58ad"/><circle cx="361.13" cy="169.59" r="0.6" fill="#6b89d4"/><circle cx="357.32" cy="164.85" r="0.6" fill="#6c89d5"/><circle cx="365.86" cy="176.34" r="0.6" fill="#e2d099"/><circle cx="355.9" cy="168.46" r="0.6" fill="#4e6bbe"/><circle cx="359.94" cy="175.21" r="0.6" fill="#3955ac"/><circle cx="361.62" cy="176.22" r="0.6" fill="#8aa2dd"/><circle cx="355.38" cy="166.49" r="0.6" fill="#607ac5"/><circle cx="353.63" cy="174.77" r="0.6" fill="#4d67b5"/><circle cx="353.08" cy="172.46" r="0.6" fill="#526ab6"/><circle cx="365.26" cy="168.95" r="0.6" fill="#e8d8a9"/><circle cx="362.4" cy="165.87" r="0.6" fill="#4261ba"/><circle cx="362.16" cy="177.3" r="0.6" fill="#7b95d9"/><circle cx="361.72" cy="169.5" r="0.6" fill="#5c73bb"/><circle cx="358.2" cy="165.78" r="0.6" fill="#839cdb"/><circle cx="354.08" cy="167.13" r="0.6" fill="#5c73bb"/><circle cx="364.15" cy="163.77" r="0.6" fill="#e0cc91"/><circle cx="360.4" cy="164.59" r="0.6" fill="#637cc6"/><circle cx="353.97" cy="166.11" r="0.6" fill="#849cdb"/><circle cx="358.15" cy="168.08" r="0.6" fill="#7994d8"/><circle cx="356.8" cy="167.74" r="0.6" fill="#5a72ba"/><circle cx="361.98" cy="170.96" r="0.6" fill="#6b83c9"/><circle cx="355.56" cy="178.73" r="0.6" fill="#5974c2"/><circle cx="362.7" cy="171.82" r="0.6" fill="#435eb0"/><circle cx="361.16" cy="178.57" r="0.6" fill="#4664bb"/><circle cx="357.4" cy="168.47" r="0.6" fill="#556db8"/><circle cx="361.09" cy="173.99" r="0.6" fill="#5d7cd1"/><circle cx="362.29" cy="164.16" r="0.6" fill="#3e5eb8"/><circle cx="355.75" cy="168.75" r="0.6" fill="#4665bb"/><circle cx="361.81" cy="174.09" r="0.6" fill="#4866bc"/><circle cx="354.36" cy="165.37" r="0.6" fill="#7994d8"/><circle cx="357.14" cy="168.87" r="0.6" fill="#6381d2"/><circle cx="363.74" cy="165.79" r="0.6" fill="#e2cf98"/><circle cx="355.57" cy="165.3" r="0.6" fill="#6b89d4"/><circle cx="354.73" cy="172.84" r="0.6" fill="#718dd6"/><circle cx="354.36" cy="177.05" r="0.6" fill="#7b96d9"/><circle cx="361.28" cy="172.01" r="0.6" fill="#4564bb"/><circle cx="364.41" cy="178.71" r="0.6" fill="#c8d6eb"/><circle cx="356.88" cy="177.81" r="0.6" fill="#5c73bb"/><circle cx="360.9" cy="168.36" r="0.6" fill="#445eb1"/><circle cx="357.71" cy="181.54" r="0.6" fill="#809ada"/><circle cx="362.35" cy="172.34" r="0.6" fill="#6a83c9"/><circle cx="363.61" cy="174.22" r="0.6" fill="#e8d8a9"/><circle cx="361.87" cy="172.06" r="0.6" fill="#324fa9"/><circle cx="357.4" cy="167.44" r="0.6" fill="#8ba2dd"/><circle cx="358.95" cy="177.09" r="0.6" fill="#5470c0"/><circle cx="363.51" cy="178.84" r="0.6" fill="#4c69bd"/><circle cx="358.36" cy="174" r="0.6" fill="#7791d8"/><circle cx="358.07" cy="179.22" r="0.6" fill="#3e5db8"/><circle cx="359.93" cy="175.59" r="0.6" fill="#617bc5"/><circle cx="364.93" cy="169.66" r="0.6" fill="#c5d4ea"/><circle cx="357.16" cy="173.88" r="0.6" fill="#5470c0"/><circle cx="363.91" cy="177.63" r="0.6" fill="#e8d9ab"/><circle cx="359.68" cy="181.4" r="0.6" fill="#516ab6"/><circle cx="356.19" cy="165.3" r="0.6" fill="#304da8"/><circle cx="356.75" cy="179.74" r="0.6" fill="#556db8"/><circle cx="362.21" cy="170.66" r="0.6" fill="#7490d6"/><circle cx="358.15" cy="166.78" r="0.6" fill="#2e4ca8"/><circle cx="363.73" cy="167.59" r="0.6" fill="#e9dbaf"/><circle cx="354.63" cy="177.91" r="0.6" fill="#6c88d5"/><circle cx="360.7" cy="171.91" r="0.6" fill="#3f5eb9"/><circle cx="362.71" cy="171.96" r="0.6" fill="#6583d3"/><circle cx="360.76" cy="167.21" r="0.6" fill="#4765bc"/><circle cx="355.03" cy="176.84" r="0.6" fill="#839cdb"/><circle cx="355.41" cy="164.84" r="0.6" fill="#7e98da"/><circle cx="363.57" cy="166.15" r="0.6" fill="#e9dbae"/><circle cx="364.09" cy="171.74" r="0.6" fill="#eadcb0"/><circle cx="367.87" cy="170.41" r="0.6" fill="#ebddb4"/><circle cx="355.6" cy="170.7" r="0.6" fill="#829adb"/><circle cx="355.41" cy="163.7" r="0.6" fill="#4362ba"/><circle cx="361.36" cy="168.19" r="0.6" fill="#4a68bd"/><circle cx="357.82" cy="174.27" r="0.6" fill="#8ba2dd"/><circle cx="362.51" cy="169.9" r="0.6" fill="#3e5aae"/><circle cx="363.66" cy="165.12" r="0.6" fill="#e3d29d"/><circle cx="355.97" cy="177.46" r="0.6" fill="#6684d3"/><circle cx="364.55" cy="165.08" r="0.6" fill="#e4d39f"/><circle cx="354.87" cy="170.6" r="0.6" fill="#5e75bc"/><circle cx="357.08" cy="166.68" r="0.6" fill="#5069b6"/><circle cx="354.55" cy="169.07" r="0.6" fill="#4a68bd"/><circle cx="353.96" cy="169.21" r="0.6" fill="#657ec7"/><circle cx="361.66" cy="173.42" r="0.6" fill="#6177bd"/><circle cx="361.97" cy="167.87" r="0.6" fill="#6381d2"/><circle cx="364.25" cy="173.42" r="0.6" fill="#e9d9ac"/><circle cx="362.71" cy="163.23" r="0.6" fill="#758fd7"/><circle cx="365.26" cy="171.38" r="0.6" fill="#e2d09a"/><circle cx="363.18" cy="165.84" r="0.6" fill="#3451aa"/><circle cx="365" cy="175.34" r="0.6" fill="#eadbb0"/><circle cx="358.34" cy="178.31" r="0.6" fill="#738fd6"/><circle cx="357.94" cy="180.5" r="0.6" fill="#708cd6"/><circle cx="355.18" cy="173.76" r="0.6" fill="#5772c1"/><circle cx="357.67" cy="174.75" r="0.6" fill="#405fb9"/><circle cx="359.14" cy="162.21" r="0.6" fill="#7a94d9"/><circle cx="357.94" cy="171.05" r="0.6" fill="#7c96d9"/><circle cx="365.88" cy="175.78" r="0.6" fill="#eadbb0"/><circle cx="361.75" cy="163.68" r="0.6" fill="#829adb"/><circle cx="354.91" cy="175.8" r="0.6" fill="#445fb1"/><circle cx="357.12" cy="171.78" r="0.6" fill="#7590d7"/><circle cx="367.33" cy="168.9" r="0.6" fill="#eadbaf"/><circle cx="363.65" cy="171.15" r="0.6" fill="#e3d09a"/><circle cx="360.59" cy="173.36" r="0.6" fill="#5c7bd0"/><circle cx="361.82" cy="165.44" r="0.6" fill="#7591d7"/><circle cx="364.83" cy="163.65" r="0.6" fill="#e0cd93"/><circle cx="356.43" cy="169.23" r="0.6" fill="#7c95d9"/><circle cx="363.9" cy="178.22" r="0.6" fill="#e0cc91"/><circle cx="358.26" cy="171.31" r="0.6" fill="#6b83c9"/><circle cx="359.37" cy="164.29" r="0.6" fill="#5f7ed1"/><circle cx="352.65" cy="169.84" r="0.6" fill="#405baf"/><circle cx="357.01" cy="166.92" r="0.6" fill="#708cd6"/><circle cx="358.61" cy="166.37" r="0.6" fill="#3d5db8"/><circle cx="358.54" cy="174.16" r="0.6" fill="#8ba3dd"/><circle cx="360.28" cy="176.59" r="0.6" fill="#4362ba"/><circle cx="356.04" cy="169.6" r="0.6" fill="#7a95d8"/><circle cx="363.19" cy="175.92" r="0.6" fill="#455fb1"/><circle cx="354.88" cy="174.86" r="0.6" fill="#3d59ae"/><circle cx="364.79" cy="170.24" r="0.6" fill="#e8d9ab"/><circle cx="362.04" cy="168.19" r="0.6" fill="#748fd7"/><circle cx="354.14" cy="170.17" r="0.6" fill="#849ddb"/><circle cx="357.19" cy="168.83" r="0.6" fill="#879fdc"/><circle cx="363.49" cy="175.73" r="0.6" fill="#4967bc"/><circle cx="360.69" cy="182.45" r="0.6" fill="#5b72ba"/><circle cx="360.1" cy="175.62" r="0.6" fill="#3e5eb8"/><circle cx="364.64" cy="171.37" r="0.6" fill="#e0cc91"/><circle cx="363.55" cy="169.88" r="0.6" fill="#c6d4ea"/><circle cx="355.6" cy="161.86" r="0.6" fill="#3754ab"/><circle cx="354.46" cy="175.26" r="0.6" fill="#728ed6"/><circle cx="363.66" cy="164.89" r="0.6" fill="#e3d29d"/><circle cx="355.44" cy="172.45" r="0.6" fill="#8ba2dd"/><circle cx="357.6" cy="171.72" r="0.6" fill="#7893d8"/><circle cx="357.29" cy="171.56" r="0.6" fill="#7591d7"/><circle cx="355.7" cy="171.51" r="0.6" fill="#8099da"/><circle cx="364.23" cy="169.41" r="0.6" fill="#e9dbaf"/><circle cx="366.13" cy="177.38" r="0.6" fill="#e0cc90"/><circle cx="358.73" cy="172" r="0.6" fill="#607ac5"/><circle cx="360.94" cy="165.12" r="0.6" fill="#7c95d9"/><circle cx="353.2" cy="170.32" r="0.6" fill="#5d74bb"/><circle cx="362.23" cy="173.74" r="0.6" fill="#576fb9"/><circle cx="361.49" cy="166.88" r="0.6" fill="#6280d2"/><circle cx="358.76" cy="161.39" r="0.6" fill="#718dd6"/><circle cx="355.75" cy="176.45" r="0.6" fill="#5d7cd0"/><circle cx="362.53" cy="174.84" r="0.6" fill="#6881c8"/><circle cx="356.18" cy="172.85" r="0.6" fill="#6076bc"/><circle cx="362.32" cy="176.81" r="0.6" fill="#5c77c3"/><circle cx="363.77" cy="171.95" r="0.6" fill="#ebddb3"/><circle cx="355.55" cy="169.17" r="0.6" fill="#4b65b4"/><circle cx="366.87" cy="174.23" r="0.6" fill="#c6d5ea"/><circle cx="354.87" cy="172.8" r="0.6" fill="#6f8cd5"/><circle cx="358.22" cy="171.68" r="0.6" fill="#304ea9"/><circle cx="355.46" cy="177.37" r="0.6" fill="#4a64b4"/><circle cx="360.2" cy="180.99" r="0.6" fill="#88a0dc"/><circle cx="357.83" cy="161.77" r="0.6" fill="#3956ac"/><circle cx="365.58" cy="175.18" r="0.6" fill="#c3d2e9"/><circle cx="363.38" cy="168.96" r="0.6" fill="#6b87d4"/><circle cx="359.28" cy="168.47" r="0.6" fill="#3f5baf"/><circle cx="361.16" cy="174.76" r="0.6" fill="#708cd5"/><circle cx="356.79" cy="162.59" r="0.6" fill="#738ed7"/><circle cx="356.2" cy="179.61" r="0.6" fill="#7893d8"/><circle cx="358.64" cy="166.06" r="0.6" fill="#5b7ad0"/><circle cx="363.17" cy="171.76" r="0.6" fill="#4765bc"/><circle cx="360.05" cy="169.67" r="0.6" fill="#7c95d9"/><circle cx="357.45" cy="171.07" r="0.6" fill="#5470c1"/><circle cx="354.07" cy="163.18" r="0.6" fill="#6986d4"/><circle cx="365.36" cy="164.14" r="0.6" fill="#e9daae"/><circle cx="355.96" cy="179.02" r="0.6" fill="#8098da"/><circle cx="360.02" cy="169.14" r="0.6" fill="#8da4de"/><circle cx="357.73" cy="166.37" r="0.6" fill="#314ea9"/><circle cx="362.15" cy="178.14" r="0.6" fill="#819ada"/><circle cx="365.67" cy="166.39" r="0.6" fill="#c3d2e9"/><circle cx="357.72" cy="167.5" r="0.6" fill="#6684d3"/><circle cx="356.61" cy="167.53" r="0.6" fill="#8ca3dd"/><circle cx="362.22" cy="161.43" r="0.6" fill="#3350aa"/><circle cx="363.46" cy="176.05" r="0.6" fill="#6e8bd5"/><circle cx="360.74" cy="163.66" r="0.6" fill="#7c96d9"/><circle cx="359.26" cy="170.51" r="0.6" fill="#425db0"/><circle cx="361.5" cy="176.63" r="0.6" fill="#526bb7"/><circle cx="361.65" cy="172.39" r="0.6" fill="#3c58ae"/><circle cx="358.11" cy="175.44" r="0.6" fill="#7b95d8"/><circle cx="365.25" cy="176.8" r="0.6" fill="#e8d8a8"/><circle cx="352.49" cy="170.83" r="0.6" fill="#6f8bd6"/><circle cx="366.55" cy="174.52" r="0.6" fill="#c7d5ea"/><circle cx="366.57" cy="175.68" r="0.6" fill="#c3d2e9"/><circle cx="359.06" cy="181.77" r="0.6" fill="#88a0dc"/><circle cx="366.31" cy="169.13" r="0.6" fill="#c6d4ea"/><circle cx="359.99" cy="180.06" r="0.6" fill="#7d97d9"/><circle cx="355.08" cy="174.65" r="0.6" fill="#5971ba"/><circle cx="364.36" cy="175.6" r="0.6" fill="#e9daac"/><circle cx="366.22" cy="165.63" r="0.6" fill="#eadcb2"/><circle cx="360.39" cy="181.79" r="0.6" fill="#3855ac"/><circle cx="358.72" cy="170.45" r="0.6" fill="#7490d7"/><circle cx="354.94" cy="168.63" r="0.6" fill="#6d89d5"/><circle cx="357.37" cy="167.4" r="0.6" fill="#6a86d4"/><circle cx="366.4" cy="174.14" r="0.6" fill="#c7d5ea"/><circle cx="363.63" cy="179.06" r="0.6" fill="#e8d8a8"/><circle cx="361.46" cy="177.65" r="0.6" fill="#3d5cb8"/><circle cx="363.86" cy="168.66" r="0.6" fill="#e8d9aa"/><circle cx="360.15" cy="180.19" r="0.6" fill="#4a64b4"/><circle cx="364.73" cy="166.15" r="0.6" fill="#e4d3a0"/><circle cx="363.96" cy="179.77" r="0.6" fill="#e8d8a8"/><circle cx="362.95" cy="164.66" r="0.6" fill="#6a82c8"/><circle cx="362.08" cy="173.3" r="0.6" fill="#5a75c3"/><circle cx="359.65" cy="173.76" r="0.6" fill="#879fdc"/><circle cx="366.13" cy="171.16" r="0.6" fill="#c9d6eb"/><circle cx="355.56" cy="167.47" r="0.6" fill="#738ed7"/><circle cx="356.92" cy="169.4" r="0.6" fill="#819bda"/><circle cx="363.12" cy="173.24" r="0.6" fill="#2f4ca8"/><circle cx="366.83" cy="168.16" r="0.6" fill="#e0cc91"/><circle cx="354.29" cy="163.57" r="0.6" fill="#89a1dd"/><circle cx="358.3" cy="168.73" r="0.6" fill="#7791d8"/><circle cx="358.27" cy="167.92" r="0.6" fill="#7591d7"/><circle cx="362.19" cy="177.04" r="0.6" fill="#7f97da"/></g>
<g fill-opacity="0.8"><circle cx="352.56" cy="174.18" r="0.5" fill="#7591d7"/><circle cx="357.4" cy="160.1" r="0.5" fill="#839bdb"/><circle cx="368.7" cy="170.31" r="0.5" fill="#e8d8a8"/><circle cx="361.57" cy="160.4" r="0.5" fill="#455fb1"/><circle cx="351.46" cy="171.81" r="0.5" fill="#6c8ad4"/><circle cx="368.08" cy="166.58" r="0.5" fill="#e9dbaf"/><circle cx="363.49" cy="180.7" r="0.5" fill="#829bdb"/><circle cx="360.99" cy="183.1" r="0.5" fill="#7d97d9"/><circle cx="353.55" cy="163" r="0.5" fill="#7f98da"/><circle cx="367.47" cy="173.02" r="0.5" fill="#e1cd93"/><circle cx="368.02" cy="172.15" r="0.5" fill="#e0cc90"/><circle cx="359.95" cy="182.94" r="0.5" fill="#3c58ae"/><circle cx="351.76" cy="169.17" r="0.5" fill="#849ddb"/><circle cx="353.61" cy="162.18" r="0.5" fill="#8199db"/><circle cx="354.23" cy="160.41" r="0.5" fill="#7c96d9"/><circle cx="362.45" cy="160.61" r="0.5" fill="#617bc5"/><circle cx="350.99" cy="172.7" r="0.5" fill="#4866bc"/><circle cx="364.65" cy="181.12" r="0.5" fill="#e9daad"/><circle cx="367.04" cy="178.84" r="0.5" fill="#e9dbaf"/><circle cx="352.58" cy="166.98" r="0.5" fill="#819ada"/><circle cx="351.77" cy="174.87" r="0.5" fill="#6178bd"/><circle cx="364.9" cy="161.85" r="0.5" fill="#e8d9aa"/><circle cx="363.77" cy="180.29" r="0.5" fill="#c2d1e8"/><circle cx="353.64" cy="162.6" r="0.5" fill="#8ea5de"/><circle cx="353.79" cy="178.04" r="0.5" fill="#5f79c5"/><circle cx="351.18" cy="170.11" r="0.5" fill="#88a0dc"/><circle cx="364.81" cy="180.44" r="0.5" fill="#c0d0e8"/><circle cx="353.78" cy="162.23" r="0.5" fill="#5e7dd1"/><circle cx="366.38" cy="179.14" r="0.5" fill="#e0cd93"/><circle cx="356.29" cy="160.12" r="0.5" fill="#7c96d9"/></g>
<g fill-opacity="1"><circle cx="374.18" cy="164.59" r="0.5" fill="#a5bce7"/><circle cx="370.74" cy="172.43" r="0.5" fill="#90ade1"/><circle cx="372.41" cy="180.11" r="0.5" fill="#8face1"/><circle cx="373.92" cy="167.69" r="0.5" fill="#8eabe1"/><circle cx="370.83" cy="175.27" r="0.5" fill="#a5bce7"/><circle cx="370.45" cy="168.3" r="0.5" fill="#a2bae6"/><circle cx="373.03" cy="174.08" r="0.5" fill="#95b0e3"/><circle cx="373.47" cy="176.82" r="0.5" fill="#9bb4e4"/><circle cx="370.62" cy="174.2" r="0.5" fill="#96b1e3"/><circle cx="371.42" cy="171.81" r="0.5" fill="#9bb4e4"/><circle cx="370.3" cy="170.21" r="0.5" fill="#8ba9e0"/><circle cx="374.53" cy="165.32" r="0.5" fill="#94afe2"/><circle cx="370.87" cy="168.42" r="0.5" fill="#abc1e8"/><circle cx="371.93" cy="168" r="0.5" fill="#95b0e2"/><circle cx="371.78" cy="162.88" r="0.5" fill="#a2bae6"/><circle cx="373.53" cy="171.08" r="0.5" fill="#9fb8e5"/><circle cx="373.36" cy="167.84" r="0.5" fill="#9ab4e4"/><circle cx="373.05" cy="168.98" r="0.5" fill="#9fb8e5"/><circle cx="374.69" cy="170" r="0.5" fill="#a2bae6"/><circle cx="372.29" cy="172.57" r="0.5" fill="#9eb7e5"/><circle cx="370.31" cy="171.17" r="0.5" fill="#a5bce7"/><circle cx="374.35" cy="163.88" r="0.5" fill="#94afe2"/><circle cx="371.16" cy="174.47" r="0.5" fill="#92ade2"/><circle cx="372.99" cy="169.41" r="0.5" fill="#9ab4e4"/><circle cx="372.24" cy="165.9" r="0.5" fill="#a5bce7"/><circle cx="372.25" cy="162.5" r="0.5" fill="#9bb4e4"/><circle cx="370.37" cy="166.1" r="0.5" fill="#8aa8e0"/><circle cx="371.09" cy="168.42" r="0.5" fill="#9ab4e4"/><circle cx="373.88" cy="177.49" r="0.5" fill="#a9bfe8"/><circle cx="373.08" cy="176.35" r="0.5" fill="#8face1"/><circle cx="372.02" cy="164.05" r="0.5" fill="#9eb6e5"/><circle cx="373.77" cy="168.6" r="0.5" fill="#94afe2"/><circle cx="372.39" cy="164.52" r="0.5" fill="#9db6e5"/><circle cx="370.77" cy="168.75" r="0.5" fill="#a4bbe7"/><circle cx="371.75" cy="165.18" r="0.5" fill="#95b0e3"/><circle cx="373.83" cy="169.9" r="0.5" fill="#90ace1"/><circle cx="371.11" cy="176.96" r="0.5" fill="#99b3e4"/><circle cx="373.82" cy="163.83" r="0.5" fill="#acc1e9"/><circle cx="371.47" cy="162.98" r="0.5" fill="#8aa8e0"/><circle cx="374.35" cy="174.01" r="0.5" fill="#94afe2"/><circle cx="371.92" cy="172.53" r="0.5" fill="#91ade2"/><circle cx="372.75" cy="166.6" r="0.5" fill="#9ab4e4"/><circle cx="370.9" cy="170" r="0.5" fill="#a5bce7"/><circle cx="373.26" cy="174.84" r="0.5" fill="#9db6e5"/><circle cx="374.25" cy="167.92" r="0.5" fill="#9eb7e5"/><circle cx="374.14" cy="168.51" r="0.5" fill="#91ade2"/><circle cx="374.28" cy="171.4" r="0.5" fill="#9cb5e4"/><circle cx="373.15" cy="178.93" r="0.5" fill="#a4bbe6"/><circle cx="370.97" cy="171.22" r="0.5" fill="#95b0e3"/><circle cx="371.91" cy="162.7" r="0.5" fill="#8aa8e0"/></g>
<polygon points="365.4,138.9 368.8,141 370.9,147.9 372.3,158.9 369.5,163.7 366.1,162.3 362.6,160.3 358.5,156.8 359.2,150.6 361.3,143.8" fill="#f6e4cc" stroke="none" stroke-width="1" stroke-linejoin="round"/>
<g fill-opacity="1"><circle cx="363.2" cy="143.31" r="0.6" fill="#ffffff"/><circle cx="371.38" cy="157.81" r="0.6" fill="#c45038"/><circle cx="362.66" cy="149.38" r="0.6" fill="#f0c888"/><circle cx="359.77" cy="150.61" r="0.6" fill="#f4dcaa"/><circle cx="364.99" cy="143.96" r="0.6" fill="#c85a40"/><circle cx="370.55" cy="159.28" r="0.6" fill="#983020"/><circle cx="362.69" cy="144.67" r="0.6" fill="#fff4e0"/><circle cx="362.69" cy="157.51" r="0.6" fill="#e8b070"/><circle cx="367.87" cy="141.03" r="0.6" fill="#c85a40"/><circle cx="364.87" cy="150.83" r="0.6" fill="#c85a40"/><circle cx="362.8" cy="148.8" r="0.6" fill="#f0c888"/><circle cx="364.95" cy="142.62" r="0.6" fill="#c85a40"/><circle cx="368.09" cy="153.95" r="0.6" fill="#c45038"/><circle cx="362.47" cy="156.94" r="0.6" fill="#f4dcaa"/><circle cx="368.22" cy="160.35" r="0.6" fill="#a83828"/><circle cx="368.02" cy="141.13" r="0.6" fill="#e0a060"/><circle cx="369.3" cy="162.58" r="0.6" fill="#c85a40"/><circle cx="370.61" cy="155.2" r="0.6" fill="#b8402e"/><circle cx="365.31" cy="156.97" r="0.6" fill="#d07048"/><circle cx="364.82" cy="160.18" r="0.6" fill="#d07048"/><circle cx="366.98" cy="151.84" r="0.6" fill="#b8402e"/><circle cx="363.63" cy="142.78" r="0.6" fill="#f4dcaa"/><circle cx="371.11" cy="150.86" r="0.6" fill="#b8402e"/><circle cx="361.68" cy="156.33" r="0.6" fill="#fff4e0"/><circle cx="369.94" cy="160.35" r="0.6" fill="#8a2a20"/><circle cx="362.19" cy="148.43" r="0.6" fill="#ffffff"/><circle cx="360.07" cy="151.45" r="0.6" fill="#f0c888"/><circle cx="370.4" cy="146.26" r="0.6" fill="#a83828"/><circle cx="364.98" cy="155.32" r="0.6" fill="#d07048"/><circle cx="369.7" cy="162.26" r="0.6" fill="#983020"/><circle cx="363.42" cy="148.6" r="0.6" fill="#f4dcaa"/><circle cx="368.98" cy="158.65" r="0.6" fill="#983020"/><circle cx="369.4" cy="145.53" r="0.6" fill="#c45038"/><circle cx="370.41" cy="157.85" r="0.6" fill="#c45038"/><circle cx="366.68" cy="147.2" r="0.6" fill="#b8402e"/><circle cx="368.71" cy="149.27" r="0.6" fill="#983020"/><circle cx="369.01" cy="153.48" r="0.6" fill="#c45038"/><circle cx="363.44" cy="146.76" r="0.6" fill="#f4dcaa"/><circle cx="365.44" cy="142.26" r="0.6" fill="#d07048"/><circle cx="362.08" cy="154.72" r="0.6" fill="#f0c888"/><circle cx="365.79" cy="146.86" r="0.6" fill="#e0a060"/><circle cx="360.93" cy="145.76" r="0.6" fill="#ffffff"/><circle cx="363.97" cy="142.28" r="0.6" fill="#ffffff"/><circle cx="371.59" cy="156.32" r="0.6" fill="#b8402e"/><circle cx="364.15" cy="143.09" r="0.6" fill="#c85a40"/><circle cx="367.5" cy="162.82" r="0.6" fill="#d07048"/><circle cx="364.6" cy="155.87" r="0.6" fill="#e0a060"/><circle cx="370.31" cy="160.47" r="0.6" fill="#983020"/><circle cx="366.17" cy="160.57" r="0.6" fill="#b8402e"/><circle cx="363.38" cy="159.37" r="0.6" fill="#f0c888"/><circle cx="364.49" cy="144.24" r="0.6" fill="#e0a060"/><circle cx="369.92" cy="158.57" r="0.6" fill="#c45038"/><circle cx="367.28" cy="150.57" r="0.6" fill="#983020"/><circle cx="362.12" cy="159.79" r="0.6" fill="#e8b070"/><circle cx="367.68" cy="155.51" r="0.6" fill="#983020"/><circle cx="369.47" cy="160.07" r="0.6" fill="#a83828"/><circle cx="365.87" cy="161.96" r="0.6" fill="#e0a060"/><circle cx="361.17" cy="151.17" r="0.6" fill="#ffffff"/><circle cx="370.38" cy="149.73" r="0.6" fill="#b8402e"/><circle cx="369.64" cy="158.95" r="0.6" fill="#c45038"/><circle cx="362.61" cy="155.32" r="0.6" fill="#e8b070"/><circle cx="369.99" cy="151.11" r="0.6" fill="#983020"/><circle cx="367.98" cy="150.2" r="0.6" fill="#b8402e"/><circle cx="366.54" cy="145.96" r="0.6" fill="#c45038"/><circle cx="366.14" cy="146.87" r="0.6" fill="#a83828"/><circle cx="362.57" cy="147.26" r="0.6" fill="#f0c888"/><circle cx="365.65" cy="142.81" r="0.6" fill="#e0a060"/><circle cx="364.72" cy="147.59" r="0.6" fill="#c85a40"/><circle cx="363.84" cy="147.98" r="0.6" fill="#f0c888"/><circle cx="362.68" cy="157.44" r="0.6" fill="#ffffff"/><circle cx="363.31" cy="155.68" r="0.6" fill="#f0c888"/><circle cx="367.42" cy="141.58" r="0.6" fill="#8a2a20"/><circle cx="362.81" cy="150.17" r="0.6" fill="#fff4e0"/><circle cx="367.51" cy="148.36" r="0.6" fill="#b8402e"/><circle cx="368.68" cy="159.68" r="0.6" fill="#983020"/><circle cx="361.92" cy="151.96" r="0.6" fill="#fff4e0"/><circle cx="366.48" cy="159.45" r="0.6" fill="#b8402e"/><circle cx="361.16" cy="158.75" r="0.6" fill="#f4dcaa"/><circle cx="367.62" cy="159.31" r="0.6" fill="#8a2a20"/><circle cx="359.41" cy="151.72" r="0.6" fill="#fff4e0"/><circle cx="360.49" cy="158.11" r="0.6" fill="#e8b070"/><circle cx="367.86" cy="144.62" r="0.6" fill="#b8402e"/><circle cx="363.89" cy="144.27" r="0.6" fill="#f0c888"/><circle cx="369.18" cy="147.3" r="0.6" fill="#a83828"/><circle cx="370.28" cy="147.66" r="0.6" fill="#a83828"/><circle cx="366.63" cy="146.71" r="0.6" fill="#983020"/><circle cx="367.06" cy="140.36" r="0.6" fill="#d07048"/><circle cx="363.51" cy="147.66" r="0.6" fill="#e8b070"/><circle cx="366.66" cy="158.79" r="0.6" fill="#a83828"/><circle cx="360.64" cy="157.08" r="0.6" fill="#f4dcaa"/><circle cx="363.98" cy="144.16" r="0.6" fill="#fff4e0"/><circle cx="363.12" cy="148.18" r="0.6" fill="#f0c888"/><circle cx="365.23" cy="151.05" r="0.6" fill="#e0a060"/><circle cx="369.43" cy="158.56" r="0.6" fill="#b8402e"/><circle cx="364.02" cy="157.97" r="0.6" fill="#e8b070"/><circle cx="366.74" cy="139.75" r="0.6" fill="#c85a40"/><circle cx="369.92" cy="160.83" r="0.6" fill="#c45038"/><circle cx="367.33" cy="151.46" r="0.6" fill="#b8402e"/><circle cx="366.53" cy="140.26" r="0.6" fill="#c85a40"/><circle cx="365.62" cy="143.93" r="0.6" fill="#e0a060"/><circle cx="364.94" cy="153.82" r="0.6" fill="#d07048"/><circle cx="365.33" cy="155.77" r="0.6" fill="#d07048"/><circle cx="365.74" cy="159.13" r="0.6" fill="#d07048"/><circle cx="363.13" cy="150.04" r="0.6" fill="#f0c888"/><circle cx="366.47" cy="144.32" r="0.6" fill="#c45038"/><circle cx="371.47" cy="157.94" r="0.6" fill="#983020"/><circle cx="365.43" cy="151.82" r="0.6" fill="#c85a40"/><circle cx="367.56" cy="161.87" r="0.6" fill="#8a2a20"/><circle cx="365.53" cy="149.06" r="0.6" fill="#c85a40"/><circle cx="362.14" cy="143.16" r="0.6" fill="#ffffff"/><circle cx="370.64" cy="154.91" r="0.6" fill="#8a2a20"/><circle cx="365.35" cy="146.89" r="0.6" fill="#c85a40"/><circle cx="367.86" cy="147.38" r="0.6" fill="#c45038"/><circle cx="370.06" cy="159.88" r="0.6" fill="#c45038"/><circle cx="361.73" cy="151.72" r="0.6" fill="#ffffff"/><circle cx="367.06" cy="157.09" r="0.6" fill="#8a2a20"/><circle cx="365.26" cy="156.38" r="0.6" fill="#d07048"/><circle cx="364.42" cy="151.93" r="0.6" fill="#d07048"/><circle cx="367.48" cy="158.59" r="0.6" fill="#983020"/><circle cx="371.49" cy="154.73" r="0.6" fill="#c45038"/><circle cx="359.4" cy="150.29" r="0.6" fill="#f0c888"/><circle cx="361.85" cy="152.42" r="0.6" fill="#e8b070"/><circle cx="369.62" cy="154.2" r="0.6" fill="#b8402e"/><circle cx="361.61" cy="151.79" r="0.6" fill="#f0c888"/><circle cx="370.72" cy="151.53" r="0.6" fill="#8a2a20"/><circle cx="370.44" cy="150.3" r="0.6" fill="#c45038"/><circle cx="362.75" cy="151.02" r="0.6" fill="#fff4e0"/><circle cx="361.53" cy="151.5" r="0.6" fill="#f4dcaa"/><circle cx="363.86" cy="141.9" r="0.6" fill="#f0c888"/><circle cx="366.92" cy="160.78" r="0.6" fill="#a83828"/><circle cx="366.04" cy="147.29" r="0.6" fill="#d07048"/><circle cx="365.39" cy="145" r="0.6" fill="#c85a40"/><circle cx="363.78" cy="158.15" r="0.6" fill="#e8b070"/><circle cx="364.15" cy="160.58" r="0.6" fill="#d07048"/><circle cx="360.94" cy="158.45" r="0.6" fill="#ffffff"/><circle cx="360.79" cy="152.86" r="0.6" fill="#f4dcaa"/><circle cx="365.47" cy="157.11" r="0.6" fill="#c85a40"/><circle cx="365.75" cy="146.05" r="0.6" fill="#c85a40"/><circle cx="360.76" cy="152.4" r="0.6" fill="#ffffff"/><circle cx="365.59" cy="141.27" r="0.6" fill="#e0a060"/><circle cx="368.39" cy="147.83" r="0.6" fill="#c45038"/><circle cx="367.38" cy="145.32" r="0.6" fill="#b8402e"/><circle cx="368.53" cy="158.61" r="0.6" fill="#b8402e"/><circle cx="365.87" cy="161.7" r="0.6" fill="#e0a060"/><circle cx="364.14" cy="148.27" r="0.6" fill="#c85a40"/><circle cx="369.05" cy="158.05" r="0.6" fill="#8a2a20"/><circle cx="364.44" cy="149.93" r="0.6" fill="#c85a40"/><circle cx="366.88" cy="140.25" r="0.6" fill="#d07048"/><circle cx="365.7" cy="159.9" r="0.6" fill="#d07048"/><circle cx="365.35" cy="154.04" r="0.6" fill="#d07048"/></g>
<polygon points="365.4,138.9 368.8,141 370.9,147.9 372.3,158.9 369.5,163.7 366.1,162.3 362.6,160.3 358.5,156.8 359.2,150.6 361.3,143.8" fill="none" stroke="#111" stroke-width="1" stroke-linejoin="round"/>
<line x1="358.5" y1="156.8" x2="366.5" y2="162.5" stroke="#111" stroke-width="0.8"/>
<polygon points="355.8,133.6 357.8,135 358.8,139.5 359.3,143.8 358,143.5 356.2,139 355.2,135.5" fill="#f0e0d0" stroke="#222" stroke-width="1" stroke-linejoin="round"/>
<line x1="353" y1="152.7" x2="357.8" y2="145.3" stroke="#111" stroke-width="0.8"/>
<line x1="351" y1="162.3" x2="358.5" y2="156.8" stroke="#111" stroke-width="0.8"/>
<text x="320.2" y="139.9" font-size="7" fill="#333" textLength="14.4" lengthAdjust="spacingAndGlyphs">TCF3</text>
<text x="317.1" y="155.7" font-size="7" fill="#333" textLength="31.9" lengthAdjust="spacingAndGlyphs">Subclone 2</text>
<text x="321.9" y="165.8" font-size="7" fill="#333" textLength="26" lengthAdjust="spacingAndGlyphs">Branch C</text>
<polygon points="469.87,145.1 473.47,146 476.17,153.2 476.62,162.2 475.27,171.2 472.57,178.4 467.17,182.9 461.77,180.2 459.52,173.9 460.87,165.8 463.57,158.6 467.17,150.5" fill="#7a92d4" stroke="none" stroke-width="1" stroke-linejoin="round" fill-opacity="0.3"/>
<g fill-opacity="0.9"><circle cx="465.97" cy="177.87" r="0.6" fill="#96a9e0"/><circle cx="469.76" cy="173.29" r="0.6" fill="#6176bd"/><circle cx="467.97" cy="181.85" r="0.6" fill="#6d85d0"/><circle cx="475.21" cy="148.45" r="0.6" fill="#596fba"/><circle cx="474.06" cy="166.16" r="0.6" fill="#4261c2"/><circle cx="459.83" cy="175.67" r="0.6" fill="#5573cc"/><circle cx="468.08" cy="158.41" r="0.6" fill="#3c56ae"/><circle cx="472" cy="156.39" r="0.6" fill="#7891d8"/><circle cx="475.87" cy="152.71" r="0.6" fill="#6c80c2"/><circle cx="462.33" cy="182.02" r="0.6" fill="#5169b6"/><circle cx="459.14" cy="172.32" r="0.6" fill="#95a9e0"/><circle cx="467.22" cy="152.53" r="0.6" fill="#4b69c4"/><circle cx="469.82" cy="152.41" r="0.6" fill="#859cdb"/><circle cx="468.5" cy="174.3" r="0.6" fill="#3b55ad"/><circle cx="466.51" cy="180.87" r="0.6" fill="#5269b7"/><circle cx="475.49" cy="150.66" r="0.6" fill="#3954ac"/><circle cx="467.64" cy="153.82" r="0.6" fill="#4e6bc5"/><circle cx="465.25" cy="165.53" r="0.6" fill="#5470c7"/><circle cx="474.07" cy="146.68" r="0.6" fill="#6780cd"/><circle cx="465.49" cy="152.95" r="0.6" fill="#5169b6"/><circle cx="462.69" cy="182.21" r="0.6" fill="#627ccc"/><circle cx="463.06" cy="170.31" r="0.6" fill="#7f97da"/><circle cx="463.05" cy="182.1" r="0.6" fill="#7990d7"/><circle cx="475.49" cy="164.42" r="0.6" fill="#7e96da"/><circle cx="475.54" cy="164.96" r="0.6" fill="#798fd3"/><circle cx="466.45" cy="180.29" r="0.6" fill="#7b94d9"/><circle cx="475.72" cy="156.22" r="0.6" fill="#5470c7"/><circle cx="472.92" cy="175.7" r="0.6" fill="#455eb1"/><circle cx="471.2" cy="152.72" r="0.6" fill="#4462c2"/><circle cx="463.61" cy="164.94" r="0.6" fill="#728ad1"/><circle cx="465.21" cy="159.82" r="0.6" fill="#667fcd"/><circle cx="463.81" cy="170.99" r="0.6" fill="#6a7ec1"/><circle cx="463.84" cy="180.54" r="0.6" fill="#637dcc"/><circle cx="475.06" cy="162.3" r="0.6" fill="#758fd7"/><circle cx="464.13" cy="170.46" r="0.6" fill="#536fc6"/><circle cx="463.81" cy="159.5" r="0.6" fill="#334eaa"/><circle cx="473.06" cy="155.23" r="0.6" fill="#7791d7"/><circle cx="472.22" cy="143.7" r="0.6" fill="#5a77ce"/><circle cx="474.08" cy="155.01" r="0.6" fill="#8ba1dd"/><circle cx="473.96" cy="174.74" r="0.6" fill="#4362c2"/><circle cx="473.58" cy="171.74" r="0.6" fill="#7c91d4"/><circle cx="467.85" cy="170.43" r="0.6" fill="#3752ab"/><circle cx="475.01" cy="172.04" r="0.6" fill="#637ed0"/><circle cx="469.06" cy="165.19" r="0.6" fill="#7d93d8"/><circle cx="470.14" cy="145.17" r="0.6" fill="#4563c3"/><circle cx="466.68" cy="179.37" r="0.6" fill="#617bcc"/><circle cx="463.28" cy="170.47" r="0.6" fill="#7087d0"/><circle cx="473.75" cy="147.2" r="0.6" fill="#7d92d4"/><circle cx="465.83" cy="171.58" r="0.6" fill="#5f79cb"/><circle cx="472.53" cy="175.32" r="0.6" fill="#7a91d7"/><circle cx="461.63" cy="173.27" r="0.6" fill="#728cd6"/><circle cx="467.07" cy="180.25" r="0.6" fill="#728bd5"/><circle cx="462.22" cy="178.23" r="0.6" fill="#6b7fc1"/><circle cx="475.9" cy="168.53" r="0.6" fill="#4a68c4"/><circle cx="465.5" cy="180.03" r="0.6" fill="#7e94d8"/><circle cx="465.51" cy="165.32" r="0.6" fill="#6d88d4"/><circle cx="472.34" cy="144.28" r="0.6" fill="#6d89d5"/><circle cx="467.86" cy="170.19" r="0.6" fill="#748ed7"/><circle cx="473.43" cy="173.48" r="0.6" fill="#728cd6"/><circle cx="470.48" cy="170.1" r="0.6" fill="#4b63b4"/><circle cx="465.92" cy="171.6" r="0.6" fill="#4261c2"/><circle cx="467.08" cy="156.15" r="0.6" fill="#6478be"/><circle cx="464.46" cy="161.02" r="0.6" fill="#728cd6"/><circle cx="460.56" cy="172.99" r="0.6" fill="#7891d8"/><circle cx="461.7" cy="167.35" r="0.6" fill="#718cd6"/><circle cx="474.04" cy="150.79" r="0.6" fill="#3f59af"/><circle cx="462.55" cy="163.95" r="0.6" fill="#7791d7"/><circle cx="463.95" cy="173.42" r="0.6" fill="#7a90d3"/><circle cx="474.19" cy="173.61" r="0.6" fill="#8298d9"/><circle cx="467.12" cy="161.05" r="0.6" fill="#7790d7"/><circle cx="473.56" cy="163.76" r="0.6" fill="#3953ac"/><circle cx="463.13" cy="168.78" r="0.6" fill="#7e96d9"/><circle cx="466.82" cy="175.02" r="0.6" fill="#5f7bcf"/><circle cx="471.92" cy="151.97" r="0.6" fill="#4b68c4"/><circle cx="461.88" cy="179.36" r="0.6" fill="#667fcd"/><circle cx="463.6" cy="171.82" r="0.6" fill="#5c78ce"/><circle cx="471.11" cy="169.62" r="0.6" fill="#4c69c5"/><circle cx="474.15" cy="159.36" r="0.6" fill="#7c95d9"/><circle cx="464.23" cy="163.82" r="0.6" fill="#859ada"/><circle cx="459.16" cy="172.86" r="0.6" fill="#435cb1"/><circle cx="464.5" cy="171.99" r="0.6" fill="#718ad4"/><circle cx="467.27" cy="183.13" r="0.6" fill="#455eb1"/><circle cx="468.81" cy="166.7" r="0.6" fill="#8198da"/><circle cx="469.43" cy="150.83" r="0.6" fill="#3d57ae"/><circle cx="465.94" cy="164.15" r="0.6" fill="#7a93d8"/><circle cx="473.45" cy="166.56" r="0.6" fill="#6176bd"/><circle cx="465.07" cy="183.78" r="0.6" fill="#6a84d2"/><circle cx="467.37" cy="159.83" r="0.6" fill="#7b93d8"/><circle cx="474.14" cy="152.72" r="0.6" fill="#708bd5"/><circle cx="473.71" cy="146.19" r="0.6" fill="#7c94d9"/><circle cx="469.78" cy="182.47" r="0.6" fill="#5c78ce"/><circle cx="469.97" cy="153.23" r="0.6" fill="#7e94d5"/><circle cx="462.55" cy="176.82" r="0.6" fill="#768ed6"/><circle cx="463.55" cy="182.06" r="0.6" fill="#5874c8"/><circle cx="472.35" cy="174.02" r="0.6" fill="#8ca2de"/><circle cx="471.24" cy="143.43" r="0.6" fill="#8da2de"/><circle cx="465.54" cy="163.6" r="0.6" fill="#94a8e0"/><circle cx="466.69" cy="157.74" r="0.6" fill="#4d6bc5"/><circle cx="470.39" cy="161.99" r="0.6" fill="#6d85cf"/><circle cx="464.55" cy="163.32" r="0.6" fill="#5a77ce"/><circle cx="463.77" cy="157.99" r="0.6" fill="#90a5df"/><circle cx="463.74" cy="158.41" r="0.6" fill="#657ecd"/><circle cx="471.5" cy="152.81" r="0.6" fill="#4765c3"/><circle cx="464.1" cy="173.5" r="0.6" fill="#5571c7"/><circle cx="470.92" cy="155.84" r="0.6" fill="#6881ce"/><circle cx="463.89" cy="173.01" r="0.6" fill="#8398da"/><circle cx="465.65" cy="176.83" r="0.6" fill="#647ecd"/><circle cx="475.75" cy="149.36" r="0.6" fill="#7690d7"/><circle cx="471.3" cy="152.79" r="0.6" fill="#5470c7"/><circle cx="469.25" cy="180.61" r="0.6" fill="#738ad2"/><circle cx="470.56" cy="179.8" r="0.6" fill="#627dd0"/><circle cx="464.95" cy="154.95" r="0.6" fill="#5b71ba"/><circle cx="468.79" cy="158.12" r="0.6" fill="#4861b3"/><circle cx="468.45" cy="153.63" r="0.6" fill="#637ed0"/><circle cx="462.45" cy="168.56" r="0.6" fill="#475fb2"/><circle cx="460.21" cy="171.97" r="0.6" fill="#8ba0dd"/><circle cx="474.78" cy="164.9" r="0.6" fill="#6d86d3"/><circle cx="467.37" cy="156.78" r="0.6" fill="#4462c2"/><circle cx="468.32" cy="175.62" r="0.6" fill="#6a84d2"/><circle cx="461.99" cy="172.44" r="0.6" fill="#3e5ec0"/><circle cx="467.59" cy="182.07" r="0.6" fill="#7e95d8"/><circle cx="462.69" cy="172.98" r="0.6" fill="#6d87d3"/><circle cx="465.9" cy="154.85" r="0.6" fill="#6a7ec1"/><circle cx="472.13" cy="156.45" r="0.6" fill="#748bd1"/><circle cx="462.7" cy="161.85" r="0.6" fill="#627dd0"/><circle cx="477.22" cy="159.75" r="0.6" fill="#4c69c5"/><circle cx="470.78" cy="178.72" r="0.6" fill="#5269b7"/><circle cx="463.47" cy="176.78" r="0.6" fill="#859ada"/><circle cx="472.7" cy="145.43" r="0.6" fill="#8aa0dd"/><circle cx="475.05" cy="174.36" r="0.6" fill="#8299db"/><circle cx="461.58" cy="169.36" r="0.6" fill="#6b7ec1"/><circle cx="466.65" cy="182.63" r="0.6" fill="#7289d1"/><circle cx="474.41" cy="154.99" r="0.6" fill="#869bdb"/><circle cx="463.68" cy="164.07" r="0.6" fill="#4d65b5"/><circle cx="466.21" cy="176.38" r="0.6" fill="#748bd1"/><circle cx="462.16" cy="179.41" r="0.6" fill="#7991d7"/><circle cx="469.69" cy="159.53" r="0.6" fill="#708bd5"/><circle cx="476.88" cy="157.64" r="0.6" fill="#465eb1"/><circle cx="466.91" cy="175.53" r="0.6" fill="#5a77ce"/><circle cx="474.35" cy="155.51" r="0.6" fill="#6c88d4"/><circle cx="467.11" cy="181.65" r="0.6" fill="#506dc6"/><circle cx="473.35" cy="155.82" r="0.6" fill="#5168b6"/><circle cx="473.21" cy="147.88" r="0.6" fill="#718ad4"/><circle cx="465.98" cy="167.08" r="0.6" fill="#7992d8"/><circle cx="469.41" cy="168.79" r="0.6" fill="#5976cd"/><circle cx="471.08" cy="149.99" r="0.6" fill="#536fc7"/><circle cx="462.38" cy="163.95" r="0.6" fill="#4e6bc5"/><circle cx="465.64" cy="171.77" r="0.6" fill="#7289d1"/><circle cx="461.05" cy="164.68" r="0.6" fill="#667fcd"/><circle cx="466.52" cy="151.22" r="0.6" fill="#6e86cf"/><circle cx="476.83" cy="153.55" r="0.6" fill="#7f94d5"/><circle cx="458.96" cy="172.28" r="0.6" fill="#3d5dc0"/><circle cx="475.62" cy="157.63" r="0.6" fill="#667abf"/><circle cx="464.15" cy="176.85" r="0.6" fill="#435cb0"/><circle cx="469.01" cy="167.86" r="0.6" fill="#6a82cf"/><circle cx="472.01" cy="164.89" r="0.6" fill="#6580d1"/><circle cx="474.08" cy="166.37" r="0.6" fill="#647dcc"/><circle cx="467.65" cy="180.98" r="0.6" fill="#6e86cf"/><circle cx="467.75" cy="172.06" r="0.6" fill="#5a70ba"/><circle cx="468.59" cy="182.15" r="0.6" fill="#6277bd"/><circle cx="461.66" cy="179.56" r="0.6" fill="#4261c2"/><circle cx="470" cy="172.8" r="0.6" fill="#4261c2"/><circle cx="463.36" cy="177.74" r="0.6" fill="#7a92d7"/><circle cx="467.08" cy="163.88" r="0.6" fill="#4e65b5"/><circle cx="465.44" cy="162.15" r="0.6" fill="#6e86d0"/><circle cx="476.89" cy="155.13" r="0.6" fill="#7c92d4"/><circle cx="475.03" cy="159.78" r="0.6" fill="#5571c7"/><circle cx="470.82" cy="155.53" r="0.6" fill="#8299db"/><circle cx="473.07" cy="165.66" r="0.6" fill="#6881ce"/><circle cx="471.1" cy="173.66" r="0.6" fill="#8298d9"/><circle cx="469.37" cy="171.57" r="0.6" fill="#7289d1"/><circle cx="466.81" cy="178.33" r="0.6" fill="#5774cd"/><circle cx="462.75" cy="175.71" r="0.6" fill="#738ed6"/><circle cx="474.21" cy="173.89" r="0.6" fill="#8aa0dd"/><circle cx="473.86" cy="152.21" r="0.6" fill="#899fdd"/><circle cx="471.74" cy="177.58" r="0.6" fill="#5f79ca"/><circle cx="472.07" cy="168.07" r="0.6" fill="#5673cc"/><circle cx="465.35" cy="181.92" r="0.6" fill="#7e96d9"/><circle cx="463.58" cy="162.01" r="0.6" fill="#627ccc"/><circle cx="460.62" cy="167.18" r="0.6" fill="#556cb8"/><circle cx="471.55" cy="164.67" r="0.6" fill="#314da9"/><circle cx="470.56" cy="144.79" r="0.6" fill="#5e73bc"/><circle cx="472.92" cy="168.95" r="0.6" fill="#6c80c2"/><circle cx="474.88" cy="170.75" r="0.6" fill="#627dd0"/><circle cx="472.96" cy="154.82" r="0.6" fill="#7790d7"/><circle cx="476.37" cy="167.61" r="0.6" fill="#3953ac"/><circle cx="468.91" cy="159.13" r="0.6" fill="#95a9e0"/><circle cx="474.52" cy="169.55" r="0.6" fill="#627ed0"/><circle cx="469.02" cy="168.74" r="0.6" fill="#435cb0"/><circle cx="463.89" cy="161.26" r="0.6" fill="#314ca9"/><circle cx="472.45" cy="177.13" r="0.6" fill="#5976cd"/><circle cx="464.99" cy="155.92" r="0.6" fill="#8fa4de"/><circle cx="468.58" cy="163.16" r="0.6" fill="#8399da"/><circle cx="466.14" cy="155.61" r="0.6" fill="#596fb9"/><circle cx="465.14" cy="181.4" r="0.6" fill="#5c77c9"/><circle cx="470.41" cy="147.61" r="0.6" fill="#859bda"/><circle cx="473.05" cy="163.66" r="0.6" fill="#4967c4"/><circle cx="461.39" cy="164.66" r="0.6" fill="#576db9"/><circle cx="471.42" cy="178.13" r="0.6" fill="#798fd3"/><circle cx="466.77" cy="151.9" r="0.6" fill="#3852ac"/><circle cx="468.57" cy="172.18" r="0.6" fill="#768ed6"/><circle cx="462.08" cy="178.48" r="0.6" fill="#8199da"/><circle cx="469.42" cy="154.53" r="0.6" fill="#748dd5"/><circle cx="465.33" cy="153.71" r="0.6" fill="#6c84cf"/><circle cx="473.1" cy="156.25" r="0.6" fill="#5b77c9"/><circle cx="465.04" cy="182.08" r="0.6" fill="#3751ab"/><circle cx="463.52" cy="172.48" r="0.6" fill="#4866c4"/><circle cx="475.91" cy="155.78" r="0.6" fill="#7c92d4"/><circle cx="473.4" cy="156.32" r="0.6" fill="#627ccc"/><circle cx="461.82" cy="172.25" r="0.6" fill="#829adb"/><circle cx="465.05" cy="162.17" r="0.6" fill="#7b94d9"/><circle cx="474.78" cy="149.7" r="0.6" fill="#6982ce"/><circle cx="462.78" cy="168.9" r="0.6" fill="#7891d8"/><circle cx="462.96" cy="161.99" r="0.6" fill="#657fcd"/><circle cx="462.65" cy="169.68" r="0.6" fill="#7b92d7"/><circle cx="470.93" cy="145.04" r="0.6" fill="#4f6cc6"/><circle cx="464.21" cy="176.04" r="0.6" fill="#3853ac"/><circle cx="464.36" cy="180.77" r="0.6" fill="#4463c2"/><circle cx="466.3" cy="157.51" r="0.6" fill="#4e6bc5"/><circle cx="462.01" cy="180.04" r="0.6" fill="#6f87d0"/><circle cx="475.94" cy="157.05" r="0.6" fill="#5a75ca"/><circle cx="474.4" cy="170.28" r="0.6" fill="#4463c2"/><circle cx="466.32" cy="163.48" r="0.6" fill="#435cb1"/><circle cx="463.09" cy="159.4" r="0.6" fill="#526ec7"/><circle cx="470.14" cy="172.68" r="0.6" fill="#889edc"/><circle cx="464.65" cy="170.05" r="0.6" fill="#6a83ce"/><circle cx="466.19" cy="174.04" r="0.6" fill="#6982ce"/><circle cx="463.08" cy="182.61" r="0.6" fill="#5c72bb"/><circle cx="473.06" cy="148.84" r="0.6" fill="#879cdb"/><circle cx="473.33" cy="151.92" r="0.6" fill="#5c79ce"/><circle cx="472.03" cy="145.09" r="0.6" fill="#5773c8"/><circle cx="473.69" cy="157.66" r="0.6" fill="#5774cc"/><circle cx="471.58" cy="145.93" r="0.6" fill="#7c91d4"/><circle cx="468" cy="159.23" r="0.6" fill="#5f74bc"/><circle cx="476.77" cy="157.33" r="0.6" fill="#3b55ad"/><circle cx="473.79" cy="177.19" r="0.6" fill="#617bcc"/><circle cx="469.57" cy="168.93" r="0.6" fill="#314ca9"/><circle cx="476.93" cy="161.67" r="0.6" fill="#4563c3"/><circle cx="473.86" cy="163.28" r="0.6" fill="#3550ab"/><circle cx="472.63" cy="150.37" r="0.6" fill="#607bcf"/><circle cx="471.74" cy="173.64" r="0.6" fill="#869ddc"/><circle cx="475.69" cy="161.03" r="0.6" fill="#4160c1"/><circle cx="467.18" cy="168.35" r="0.6" fill="#5571c7"/><circle cx="465.53" cy="172.81" r="0.6" fill="#7f95d8"/><circle cx="475.37" cy="165.58" r="0.6" fill="#7087d0"/><circle cx="464.69" cy="176.01" r="0.6" fill="#94a8e0"/><circle cx="467.87" cy="179" r="0.6" fill="#94a8e0"/><circle cx="469.63" cy="162.36" r="0.6" fill="#3550ab"/><circle cx="470.4" cy="182.15" r="0.6" fill="#4e6bc5"/><circle cx="468.73" cy="148.65" r="0.6" fill="#6d85d0"/><circle cx="463.14" cy="170.67" r="0.6" fill="#5573cc"/><circle cx="467.05" cy="150.45" r="0.6" fill="#7992d8"/><circle cx="474.51" cy="169.71" r="0.6" fill="#748cd5"/><circle cx="469.12" cy="163.09" r="0.6" fill="#546bb7"/><circle cx="462.89" cy="163.75" r="0.6" fill="#607acb"/><circle cx="469.3" cy="156.63" r="0.6" fill="#617bcb"/><circle cx="469.71" cy="167.49" r="0.6" fill="#6a7ec1"/><circle cx="476.05" cy="162.42" r="0.6" fill="#506dc6"/><circle cx="466.24" cy="166.08" r="0.6" fill="#5976cd"/><circle cx="463.44" cy="168.81" r="0.6" fill="#4665c3"/><circle cx="461.36" cy="165.63" r="0.6" fill="#667abf"/><circle cx="468.49" cy="171.45" r="0.6" fill="#4e66b5"/><circle cx="460.26" cy="173.51" r="0.6" fill="#344faa"/><circle cx="475.46" cy="172.37" r="0.6" fill="#849bdb"/><circle cx="460.62" cy="168.46" r="0.6" fill="#536fc7"/><circle cx="464.16" cy="176.58" r="0.6" fill="#5775cd"/><circle cx="460.5" cy="173.35" r="0.6" fill="#6b7fc1"/><circle cx="463.31" cy="176.57" r="0.6" fill="#5775cd"/><circle cx="470.41" cy="159.37" r="0.6" fill="#758cd2"/><circle cx="459.24" cy="173.11" r="0.6" fill="#5b78ce"/><circle cx="468.68" cy="152.07" r="0.6" fill="#6f8ad5"/><circle cx="468.66" cy="146.37" r="0.6" fill="#6e87d3"/><circle cx="461.89" cy="163.34" r="0.6" fill="#8ba1dd"/><circle cx="470.67" cy="147.66" r="0.6" fill="#4c69c4"/><circle cx="467.9" cy="166.22" r="0.6" fill="#8aa0dd"/><circle cx="468.71" cy="155.05" r="0.6" fill="#5067b6"/><circle cx="469.08" cy="170.62" r="0.6" fill="#7188d1"/><circle cx="462.67" cy="168.61" r="0.6" fill="#8ea3de"/><circle cx="474.16" cy="148.1" r="0.6" fill="#6a7ec1"/><circle cx="468.8" cy="182.11" r="0.6" fill="#4f6cc6"/><circle cx="466.27" cy="169.87" r="0.6" fill="#6b83cf"/><circle cx="473.07" cy="158.31" r="0.6" fill="#7d94d8"/><circle cx="460.56" cy="172.13" r="0.6" fill="#5e79ca"/><circle cx="467.65" cy="166.25" r="0.6" fill="#677bbf"/><circle cx="461.2" cy="165.52" r="0.6" fill="#798fd3"/><circle cx="466.86" cy="170.41" r="0.6" fill="#6880ce"/><circle cx="468.79" cy="175.46" r="0.6" fill="#7a93d8"/><circle cx="471.07" cy="144.12" r="0.6" fill="#3954ac"/><circle cx="476.37" cy="159.6" r="0.6" fill="#4160c1"/><circle cx="474.4" cy="158.1" r="0.6" fill="#506cc6"/><circle cx="463.36" cy="164.34" r="0.6" fill="#8ba1dd"/><circle cx="468.01" cy="148.64" r="0.6" fill="#6a82ce"/><circle cx="470.09" cy="178.38" r="0.6" fill="#6780ce"/><circle cx="461.89" cy="168.91" r="0.6" fill="#7991d7"/><circle cx="468.72" cy="151.92" r="0.6" fill="#92a6df"/><circle cx="474.78" cy="148.77" r="0.6" fill="#6f86d0"/><circle cx="473.33" cy="146.09" r="0.6" fill="#8399da"/><circle cx="475.42" cy="154.43" r="0.6" fill="#4a68c4"/><circle cx="471.73" cy="170.9" r="0.6" fill="#637ed0"/><circle cx="471.3" cy="175.4" r="0.6" fill="#344faa"/><circle cx="463.65" cy="161.51" r="0.6" fill="#859cdb"/><circle cx="469.75" cy="172.91" r="0.6" fill="#5f74bc"/><circle cx="466.27" cy="157.89" r="0.6" fill="#637ccc"/><circle cx="470.38" cy="146.88" r="0.6" fill="#6c84cf"/><circle cx="468.76" cy="159.83" r="0.6" fill="#4d6bc5"/><circle cx="471.49" cy="156.76" r="0.6" fill="#7289d1"/><circle cx="459.57" cy="172.26" r="0.6" fill="#617bcc"/><circle cx="468.06" cy="148.87" r="0.6" fill="#5775cd"/><circle cx="468.81" cy="164.33" r="0.6" fill="#5f79cb"/><circle cx="469.52" cy="147.57" r="0.6" fill="#5974c9"/><circle cx="465.9" cy="179.37" r="0.6" fill="#798fd3"/><circle cx="468.55" cy="149.18" r="0.6" fill="#94a8e0"/><circle cx="461.26" cy="177.46" r="0.6" fill="#7e95d8"/><circle cx="462.88" cy="168.01" r="0.6" fill="#7892d8"/><circle cx="465.17" cy="155.82" r="0.6" fill="#7690d7"/><circle cx="465.47" cy="169.02" r="0.6" fill="#2e4aa8"/><circle cx="465.35" cy="157.09" r="0.6" fill="#748bd1"/><circle cx="465.32" cy="178.67" r="0.6" fill="#516ec6"/><circle cx="472.96" cy="158.98" r="0.6" fill="#4f6cc5"/><circle cx="472.34" cy="171.24" r="0.6" fill="#6883d2"/><circle cx="471.93" cy="156.33" r="0.6" fill="#3752ac"/><circle cx="470.7" cy="178.78" r="0.6" fill="#6b7fc1"/><circle cx="477.22" cy="159.22" r="0.6" fill="#687dc0"/><circle cx="472.37" cy="149.01" r="0.6" fill="#4b68c5"/><circle cx="468" cy="148.69" r="0.6" fill="#778dd2"/><circle cx="473.25" cy="165.45" r="0.6" fill="#647fd0"/><circle cx="467.87" cy="178.87" r="0.6" fill="#6781d1"/><circle cx="475.94" cy="167.68" r="0.6" fill="#3954ac"/><circle cx="466.83" cy="171.55" r="0.6" fill="#90a5df"/><circle cx="467.97" cy="150.62" r="0.6" fill="#627ccc"/><circle cx="468.62" cy="178.23" r="0.6" fill="#4961b3"/><circle cx="464.8" cy="154.78" r="0.6" fill="#5c79ce"/><circle cx="469.11" cy="165.19" r="0.6" fill="#7b90d4"/><circle cx="470.18" cy="159.33" r="0.6" fill="#7790d7"/><circle cx="469.67" cy="176.79" r="0.6" fill="#8fa4de"/><circle cx="465.2" cy="172.48" r="0.6" fill="#5a76cd"/><circle cx="472.4" cy="171.86" r="0.6" fill="#6a86d4"/><circle cx="461.8" cy="161.72" r="0.6" fill="#5873c9"/><circle cx="469.95" cy="180.06" r="0.6" fill="#5f79cb"/><circle cx="462.16" cy="176.27" r="0.6" fill="#6d89d5"/><circle cx="461.48" cy="165.49" r="0.6" fill="#677bc0"/><circle cx="464.25" cy="172.12" r="0.6" fill="#4664c3"/><circle cx="466.61" cy="154.46" r="0.6" fill="#8096d9"/><circle cx="468.59" cy="180.46" r="0.6" fill="#8096d9"/><circle cx="474.9" cy="165.45" r="0.6" fill="#5e78cb"/><circle cx="471.97" cy="168.94" r="0.6" fill="#7892d8"/><circle cx="473.13" cy="147.77" r="0.6" fill="#5f74bc"/><circle cx="469.35" cy="153.99" r="0.6" fill="#3d57ae"/><circle cx="463.93" cy="164.71" r="0.6" fill="#5f75bc"/><circle cx="473.88" cy="159.39" r="0.6" fill="#3c5cc0"/><circle cx="471.35" cy="166.63" r="0.6" fill="#5b78ce"/><circle cx="466.95" cy="164.77" r="0.6" fill="#5f74bc"/><circle cx="471.3" cy="165.79" r="0.6" fill="#93a7df"/><circle cx="474.03" cy="156.67" r="0.6" fill="#96a9e0"/><circle cx="459.51" cy="177.03" r="0.6" fill="#4c64b4"/><circle cx="471.4" cy="147.19" r="0.6" fill="#738bd5"/><circle cx="476.37" cy="162.45" r="0.6" fill="#6c86d3"/><circle cx="461.32" cy="176.9" r="0.6" fill="#3751ab"/><circle cx="471.93" cy="166.95" r="0.6" fill="#334eaa"/><circle cx="468.57" cy="157.96" r="0.6" fill="#839adb"/><circle cx="473.18" cy="171.97" r="0.6" fill="#6b86d4"/><circle cx="473.36" cy="148.73" r="0.6" fill="#415bb0"/><circle cx="466.27" cy="162.77" r="0.6" fill="#344faa"/><circle cx="461.63" cy="163.98" r="0.6" fill="#7e96d9"/><circle cx="473.07" cy="146.84" r="0.6" fill="#7f95d8"/><circle cx="471.56" cy="161.11" r="0.6" fill="#6378be"/><circle cx="470.16" cy="157.22" r="0.6" fill="#8299da"/><circle cx="462.67" cy="164.24" r="0.6" fill="#758bd2"/><circle cx="463.24" cy="173.45" r="0.6" fill="#4966c4"/><circle cx="474.79" cy="171.45" r="0.6" fill="#6680cd"/><circle cx="472.77" cy="159.81" r="0.6" fill="#768ed6"/><circle cx="470.19" cy="179.02" r="0.6" fill="#4b69c5"/><circle cx="464.38" cy="159.52" r="0.6" fill="#4e6bc5"/><circle cx="476.79" cy="159.83" r="0.6" fill="#6881ce"/><circle cx="475.62" cy="163.53" r="0.6" fill="#4665c3"/><circle cx="474.29" cy="155.81" r="0.6" fill="#90a4df"/><circle cx="462.93" cy="162.36" r="0.6" fill="#869bdb"/><circle cx="466.3" cy="156.94" r="0.6" fill="#5a77cd"/><circle cx="462.39" cy="178.03" r="0.6" fill="#5f79cb"/><circle cx="471.13" cy="166.56" r="0.6" fill="#5e7ace"/><circle cx="475.56" cy="158.13" r="0.6" fill="#5471c7"/><circle cx="470.84" cy="153.52" r="0.6" fill="#576eb9"/><circle cx="470.71" cy="165.39" r="0.6" fill="#647dcc"/><circle cx="469.66" cy="145.24" r="0.6" fill="#738ad1"/><circle cx="468.35" cy="156.05" r="0.6" fill="#5975c9"/><circle cx="465.63" cy="163.85" r="0.6" fill="#6277bd"/><circle cx="469.21" cy="158.05" r="0.6" fill="#879cdb"/><circle cx="465.07" cy="167.04" r="0.6" fill="#728bd5"/><circle cx="470.38" cy="174.09" r="0.6" fill="#5f75bc"/><circle cx="470.46" cy="148.07" r="0.6" fill="#7088d1"/><circle cx="465.24" cy="169.85" r="0.6" fill="#304ca9"/><circle cx="472.39" cy="168.13" r="0.6" fill="#415ab0"/><circle cx="470.1" cy="154.3" r="0.6" fill="#738bd5"/><circle cx="469.42" cy="158.36" r="0.6" fill="#3f59af"/><circle cx="464.32" cy="164.61" r="0.6" fill="#7289d1"/><circle cx="459.79" cy="177.79" r="0.6" fill="#6f87d0"/><circle cx="463.59" cy="178.77" r="0.6" fill="#7c93d7"/><circle cx="462.94" cy="164.56" r="0.6" fill="#536fc7"/><circle cx="471.61" cy="168.02" r="0.6" fill="#6d86d3"/><circle cx="467.61" cy="159.41" r="0.6" fill="#4f6bc6"/></g>
<g fill-opacity="0.8"><circle cx="477.54" cy="161.33" r="0.5" fill="#6a84d2"/><circle cx="470.14" cy="184.2" r="0.5" fill="#627ed0"/><circle cx="464.86" cy="185.64" r="0.5" fill="#5f7bcf"/><circle cx="474.83" cy="175.39" r="0.5" fill="#6f88d4"/><circle cx="472.9" cy="143.46" r="0.5" fill="#6983d2"/><circle cx="458.11" cy="178.99" r="0.5" fill="#93a8e0"/><circle cx="466.79" cy="186.58" r="0.5" fill="#5e73bc"/><circle cx="467.34" cy="185.12" r="0.5" fill="#4967c4"/><circle cx="458.87" cy="177.75" r="0.5" fill="#6e8ad5"/><circle cx="476.12" cy="148.96" r="0.5" fill="#4362c2"/><circle cx="466.63" cy="148.35" r="0.5" fill="#758fd7"/><circle cx="466.93" cy="185.49" r="0.5" fill="#5571c8"/><circle cx="464.48" cy="153.7" r="0.5" fill="#7e94d8"/><circle cx="474.87" cy="178.63" r="0.5" fill="#7a93d8"/><circle cx="461.46" cy="161.79" r="0.5" fill="#92a6df"/><circle cx="475.78" cy="146.24" r="0.5" fill="#95a9e0"/><circle cx="467.97" cy="185.42" r="0.5" fill="#5671c8"/><circle cx="458.44" cy="171.31" r="0.5" fill="#768ed6"/><circle cx="478.01" cy="159.86" r="0.5" fill="#8ba1dd"/><circle cx="460.92" cy="181.99" r="0.5" fill="#96a9e0"/><circle cx="477.59" cy="168.1" r="0.5" fill="#5d78ca"/><circle cx="475.65" cy="146.22" r="0.5" fill="#627dd0"/><circle cx="475.45" cy="175.12" r="0.5" fill="#6a86d4"/><circle cx="459.63" cy="168.08" r="0.5" fill="#526fc7"/><circle cx="474.13" cy="142.73" r="0.5" fill="#3f5fc1"/><circle cx="464.07" cy="183.73" r="0.5" fill="#7c92d4"/><circle cx="478.46" cy="155.91" r="0.5" fill="#7e93d4"/><circle cx="473.22" cy="140.61" r="0.5" fill="#566cb8"/><circle cx="475.37" cy="175.75" r="0.5" fill="#6881ce"/><circle cx="463.18" cy="155" r="0.5" fill="#647dcd"/><circle cx="459.1" cy="181.18" r="0.5" fill="#4b63b4"/><circle cx="469.69" cy="185.35" r="0.5" fill="#3d57ae"/><circle cx="458.98" cy="165.99" r="0.5" fill="#788fd6"/><circle cx="477.18" cy="148.82" r="0.5" fill="#5e7acf"/><circle cx="478.2" cy="152.38" r="0.5" fill="#546bb7"/><circle cx="472.15" cy="182.23" r="0.5" fill="#4b68c5"/><circle cx="459.47" cy="179.13" r="0.5" fill="#728ad5"/><circle cx="458.68" cy="167.19" r="0.5" fill="#6176bd"/><circle cx="457.58" cy="176.97" r="0.5" fill="#7d92d4"/><circle cx="471.79" cy="181.13" r="0.5" fill="#435cb0"/><circle cx="464.94" cy="186.41" r="0.5" fill="#5269b7"/><circle cx="460.5" cy="183.37" r="0.5" fill="#4f6cc6"/><circle cx="474.68" cy="178.05" r="0.5" fill="#405fc1"/><circle cx="457.91" cy="173.45" r="0.5" fill="#425bb0"/><circle cx="477.75" cy="157.88" r="0.5" fill="#728ad4"/></g>
<g fill-opacity="1"><circle cx="462.14" cy="141.32" r="0.5" fill="#687cc0"/><circle cx="463.99" cy="141.14" r="0.5" fill="#3f58af"/><circle cx="461.96" cy="141.54" r="0.5" fill="#4b69c5"/><circle cx="462.19" cy="136.84" r="0.5" fill="#637dcc"/><circle cx="461.97" cy="135.93" r="0.5" fill="#6e86d0"/><circle cx="461.69" cy="138.59" r="0.5" fill="#576eb9"/><circle cx="463.56" cy="141.37" r="0.5" fill="#526fc7"/><circle cx="463.07" cy="137.24" r="0.5" fill="#304ca8"/><circle cx="463.32" cy="136.87" r="0.5" fill="#4a67c4"/><circle cx="463.68" cy="144.14" r="0.5" fill="#475fb2"/><circle cx="462.51" cy="145.13" r="0.5" fill="#6a84d2"/><circle cx="462.64" cy="142.9" r="0.5" fill="#6881cd"/><circle cx="463.53" cy="137.77" r="0.5" fill="#344faa"/><circle cx="463.03" cy="144.38" r="0.5" fill="#889edc"/><circle cx="462.41" cy="140.57" r="0.5" fill="#617bcc"/><circle cx="463.28" cy="143.66" r="0.5" fill="#6277bd"/><circle cx="462.63" cy="137" r="0.5" fill="#667fcd"/><circle cx="462.59" cy="136.84" r="0.5" fill="#758fd7"/></g>
<circle cx="471.3" cy="178.8" r="1.8" fill="#e8e0a8"/>
<polygon points="478.8,169.2 482.3,171.3 483,179.5 481.6,183.6 478.1,183 476.5,178.1 476.8,172" fill="#ecd0c8" stroke="none" stroke-width="1" stroke-linejoin="round"/>
<g fill-opacity="1"><circle cx="477.56" cy="175.95" r="0.55" fill="#f0d0c0"/><circle cx="477.92" cy="174.19" r="0.55" fill="#a04030"/><circle cx="479.95" cy="175.42" r="0.55" fill="#f0d0c0"/><circle cx="479.67" cy="177.4" r="0.55" fill="#b05040"/><circle cx="481.17" cy="171.44" r="0.55" fill="#f0d0c0"/><circle cx="478.03" cy="177.83" r="0.55" fill="#c88070"/><circle cx="482.07" cy="179.41" r="0.55" fill="#b05040"/><circle cx="481.44" cy="172.39" r="0.55" fill="#a04030"/><circle cx="481.74" cy="178.84" r="0.55" fill="#ffffff"/><circle cx="479.53" cy="182.91" r="0.55" fill="#f0d0c0"/><circle cx="482.43" cy="172.85" r="0.55" fill="#b05040"/><circle cx="481.27" cy="172.38" r="0.55" fill="#b05040"/><circle cx="477.82" cy="175.44" r="0.55" fill="#c88070"/><circle cx="480.33" cy="180.04" r="0.55" fill="#f0d0c0"/><circle cx="481.13" cy="176.16" r="0.55" fill="#a04030"/><circle cx="479.08" cy="171.61" r="0.55" fill="#b05040"/><circle cx="480.36" cy="181.29" r="0.55" fill="#b05040"/><circle cx="477.71" cy="181.33" r="0.55" fill="#f0d0c0"/><circle cx="478.21" cy="174.67" r="0.55" fill="#c88070"/><circle cx="480.92" cy="179.44" r="0.55" fill="#a04030"/><circle cx="481.12" cy="175.84" r="0.55" fill="#c88070"/><circle cx="480.39" cy="176.92" r="0.55" fill="#f0d0c0"/><circle cx="477.9" cy="177.09" r="0.55" fill="#ffffff"/><circle cx="479.26" cy="170.01" r="0.55" fill="#ffffff"/><circle cx="480.13" cy="174.99" r="0.55" fill="#b05040"/><circle cx="476.97" cy="178.01" r="0.55" fill="#b05040"/><circle cx="479.02" cy="180.69" r="0.55" fill="#f0d0c0"/><circle cx="479.04" cy="178.14" r="0.55" fill="#f0d0c0"/><circle cx="481.07" cy="178.36" r="0.55" fill="#b05040"/><circle cx="480.23" cy="172.29" r="0.55" fill="#a04030"/></g>
<polygon points="478.8,169.2 482.3,171.3 483,179.5 481.6,183.6 478.1,183 476.5,178.1 476.8,172" fill="none" stroke="#111" stroke-width="0.9" stroke-linejoin="round"/>
<line x1="469.2" y1="190.6" x2="479.6" y2="184.3" stroke="#111" stroke-width="0.8"/>
<polygon points="393.4,183.3 398.6,184.3 403.8,188.5 408,197.8 409,210.3 406.9,221.7 402.8,230 396.5,234.2 390.3,234.2 385.1,228 384.1,216.5 385.1,204.1 388.2,191.6 391.3,185.4" fill="#fff" stroke="none" stroke-width="1" stroke-linejoin="round"/>
<g fill-opacity="1"><circle cx="397.34" cy="206.52" r="0.62" fill="#f0dcb0"/><circle cx="395.06" cy="198.84" r="0.62" fill="#c8dcf0"/><circle cx="405.95" cy="199.83" r="0.62" fill="#b8cce0"/><circle cx="388.67" cy="216.61" r="0.62" fill="#e8d8b0"/><circle cx="391.62" cy="199.85" r="0.62" fill="#a8c8e8"/><circle cx="389.56" cy="206.75" r="0.62" fill="#b8d4ee"/><circle cx="393.74" cy="217.45" r="0.62" fill="#f0dcb0"/><circle cx="402.14" cy="218.45" r="0.62" fill="#e8a860"/><circle cx="391.78" cy="217.66" r="0.62" fill="#f0dcb0"/><circle cx="402.95" cy="206.99" r="0.62" fill="#f0c080"/><circle cx="402.52" cy="202.1" r="0.62" fill="#b8cce0"/><circle cx="388.48" cy="197.79" r="0.62" fill="#90b8e0"/><circle cx="400.46" cy="225.89" r="0.62" fill="#e09850"/><circle cx="404.44" cy="220.76" r="0.62" fill="#d88848"/><circle cx="403.14" cy="192.39" r="0.62" fill="#b8cce0"/><circle cx="401.76" cy="193.69" r="0.62" fill="#f0dcb0"/><circle cx="393.22" cy="193.87" r="0.62" fill="#a8c8e8"/><circle cx="403.94" cy="220.99" r="0.62" fill="#e8a860"/><circle cx="390.24" cy="215.67" r="0.62" fill="#b8cce0"/><circle cx="390.28" cy="196.51" r="0.62" fill="#c8dcf0"/><circle cx="394.39" cy="228.65" r="0.62" fill="#e8a860"/><circle cx="389.59" cy="216.94" r="0.62" fill="#e8d8b0"/><circle cx="390.82" cy="209.39" r="0.62" fill="#b8d4ee"/><circle cx="395.82" cy="206.27" r="0.62" fill="#b8cce0"/><circle cx="389.82" cy="200.92" r="0.62" fill="#b8d4ee"/><circle cx="405.67" cy="210.96" r="0.62" fill="#d88848"/><circle cx="395.85" cy="196.21" r="0.62" fill="#c8dcf0"/><circle cx="399.7" cy="226.1" r="0.62" fill="#e8a860"/><circle cx="405.93" cy="200.56" r="0.62" fill="#f0c080"/><circle cx="394.31" cy="205.45" r="0.62" fill="#d8d8c8"/><circle cx="388.38" cy="218.57" r="0.62" fill="#b8cce0"/><circle cx="397.02" cy="226.77" r="0.62" fill="#f0c080"/><circle cx="390.05" cy="213.78" r="0.62" fill="#b8cce0"/><circle cx="395.71" cy="215.74" r="0.62" fill="#d8d8c8"/><circle cx="405.28" cy="211.79" r="0.62" fill="#e09850"/><circle cx="403.2" cy="213.43" r="0.62" fill="#d88848"/><circle cx="392.05" cy="197.93" r="0.62" fill="#90b8e0"/><circle cx="390.46" cy="230.13" r="0.62" fill="#d88848"/><circle cx="398.02" cy="211.38" r="0.62" fill="#e8d8b0"/><circle cx="389.94" cy="194.58" r="0.62" fill="#b8d4ee"/><circle cx="392.1" cy="225.03" r="0.62" fill="#d8d8c8"/><circle cx="389.15" cy="199.79" r="0.62" fill="#a8c8e8"/><circle cx="387.37" cy="216.93" r="0.62" fill="#b8cce0"/><circle cx="392.73" cy="199.45" r="0.62" fill="#b8d4ee"/><circle cx="391.53" cy="227.88" r="0.62" fill="#d88848"/><circle cx="395.64" cy="213.7" r="0.62" fill="#b8cce0"/><circle cx="400.89" cy="191.06" r="0.62" fill="#b8cce0"/><circle cx="395.33" cy="194.62" r="0.62" fill="#c8dcf0"/><circle cx="386.49" cy="206.05" r="0.62" fill="#b8d4ee"/><circle cx="390.68" cy="219.81" r="0.62" fill="#f0dcb0"/><circle cx="390.17" cy="196.38" r="0.62" fill="#c8dcf0"/><circle cx="402.85" cy="211.51" r="0.62" fill="#d88848"/><circle cx="395.42" cy="226.16" r="0.62" fill="#e8b878"/><circle cx="388.22" cy="225.51" r="0.62" fill="#d8d8c8"/><circle cx="400.4" cy="194.48" r="0.62" fill="#f0dcb0"/><circle cx="404.3" cy="215.66" r="0.62" fill="#e8a860"/><circle cx="399.3" cy="198.49" r="0.62" fill="#e8d8b0"/><circle cx="387.63" cy="204.85" r="0.62" fill="#a8c8e8"/><circle cx="399.84" cy="211.31" r="0.62" fill="#b8cce0"/><circle cx="405.62" cy="212.09" r="0.62" fill="#f0c080"/><circle cx="396.84" cy="218.87" r="0.62" fill="#e8b878"/><circle cx="400.12" cy="191.66" r="0.62" fill="#a8c8e8"/><circle cx="400.49" cy="220.03" r="0.62" fill="#f0c080"/><circle cx="396.7" cy="206.08" r="0.62" fill="#e8d8b0"/><circle cx="394.76" cy="192.48" r="0.62" fill="#90b8e0"/><circle cx="389.6" cy="221.28" r="0.62" fill="#e8d8b0"/><circle cx="395.08" cy="194.25" r="0.62" fill="#c8dcf0"/><circle cx="401.77" cy="207.67" r="0.62" fill="#f0dcb0"/><circle cx="402.19" cy="211.59" r="0.62" fill="#e8b878"/><circle cx="392.99" cy="187.7" r="0.62" fill="#b8d4ee"/><circle cx="390.03" cy="211.24" r="0.62" fill="#b8cce0"/><circle cx="394.12" cy="211.05" r="0.62" fill="#b8cce0"/><circle cx="390.66" cy="208.37" r="0.62" fill="#b8d4ee"/><circle cx="392.66" cy="192.66" r="0.62" fill="#90b8e0"/><circle cx="395.49" cy="207.71" r="0.62" fill="#e8d8b0"/><circle cx="390.61" cy="199" r="0.62" fill="#c8dcf0"/><circle cx="395.73" cy="227.12" r="0.62" fill="#e8a860"/><circle cx="398.18" cy="222.38" r="0.62" fill="#e09850"/><circle cx="392.96" cy="218.93" r="0.62" fill="#b8cce0"/><circle cx="396.74" cy="227.34" r="0.62" fill="#e09850"/><circle cx="386.63" cy="212.83" r="0.62" fill="#a8c8e8"/><circle cx="395.61" cy="199.7" r="0.62" fill="#a8c8e8"/><circle cx="386.11" cy="207.75" r="0.62" fill="#a8c8e8"/><circle cx="388.98" cy="217.17" r="0.62" fill="#d8d8c8"/><circle cx="391.45" cy="189.71" r="0.62" fill="#90b8e0"/><circle cx="402.66" cy="195.56" r="0.62" fill="#f0dcb0"/><circle cx="405.45" cy="207.88" r="0.62" fill="#d88848"/><circle cx="393.42" cy="219.22" r="0.62" fill="#d8d8c8"/><circle cx="406.19" cy="211.04" r="0.62" fill="#e09850"/><circle cx="394.91" cy="226.76" r="0.62" fill="#f0c080"/><circle cx="395.57" cy="187.04" r="0.62" fill="#b8d4ee"/><circle cx="390.73" cy="190.26" r="0.62" fill="#c8dcf0"/><circle cx="395.65" cy="214.22" r="0.62" fill="#d8d8c8"/><circle cx="393.21" cy="193.84" r="0.62" fill="#c8dcf0"/><circle cx="401.25" cy="226.48" r="0.62" fill="#f0c080"/><circle cx="398.81" cy="212.58" r="0.62" fill="#f0dcb0"/><circle cx="388.83" cy="215.75" r="0.62" fill="#d8d8c8"/><circle cx="386.8" cy="204.03" r="0.62" fill="#b8d4ee"/><circle cx="388.31" cy="198.85" r="0.62" fill="#90b8e0"/><circle cx="393.58" cy="220.85" r="0.62" fill="#d8d8c8"/><circle cx="392.08" cy="228.9" r="0.62" fill="#e09850"/><circle cx="403.83" cy="192.89" r="0.62" fill="#d8d8c8"/><circle cx="395.2" cy="192.07" r="0.62" fill="#c8dcf0"/><circle cx="397.84" cy="215.21" r="0.62" fill="#f0dcb0"/><circle cx="397.37" cy="208.09" r="0.62" fill="#b8cce0"/><circle cx="403.36" cy="210.22" r="0.62" fill="#d88848"/><circle cx="393.64" cy="190.75" r="0.62" fill="#b8d4ee"/><circle cx="397.68" cy="210.34" r="0.62" fill="#f0dcb0"/><circle cx="388.5" cy="217.17" r="0.62" fill="#e8d8b0"/><circle cx="390.07" cy="197.37" r="0.62" fill="#90b8e0"/><circle cx="396.71" cy="206.82" r="0.62" fill="#b8cce0"/><circle cx="396.68" cy="205.46" r="0.62" fill="#b8cce0"/><circle cx="395.07" cy="230.91" r="0.62" fill="#e8b878"/><circle cx="403.17" cy="216.3" r="0.62" fill="#e8b878"/><circle cx="393.7" cy="217.77" r="0.62" fill="#e8d8b0"/><circle cx="402.64" cy="217.96" r="0.62" fill="#e8a860"/><circle cx="389.94" cy="214.42" r="0.62" fill="#f0dcb0"/><circle cx="392.09" cy="221.11" r="0.62" fill="#d8d8c8"/><circle cx="386.82" cy="206.27" r="0.62" fill="#90b8e0"/><circle cx="404.75" cy="196.68" r="0.62" fill="#b8cce0"/><circle cx="404.13" cy="195.68" r="0.62" fill="#d8d8c8"/><circle cx="402.99" cy="219.12" r="0.62" fill="#d88848"/><circle cx="393.61" cy="227.3" r="0.62" fill="#e8a860"/><circle cx="403.87" cy="212.91" r="0.62" fill="#e8b878"/><circle cx="388.55" cy="222.08" r="0.62" fill="#b8cce0"/><circle cx="399" cy="189.83" r="0.62" fill="#c8dcf0"/><circle cx="387.4" cy="221.97" r="0.62" fill="#b8cce0"/><circle cx="395.64" cy="187.26" r="0.62" fill="#a8c8e8"/><circle cx="403.4" cy="205.84" r="0.62" fill="#d88848"/><circle cx="396.99" cy="213.48" r="0.62" fill="#e8d8b0"/><circle cx="389.84" cy="198.34" r="0.62" fill="#90b8e0"/><circle cx="399.22" cy="204.04" r="0.62" fill="#e8d8b0"/><circle cx="394.61" cy="206.69" r="0.62" fill="#b8cce0"/><circle cx="396.61" cy="202.57" r="0.62" fill="#d8d8c8"/><circle cx="404.46" cy="212.97" r="0.62" fill="#e8a860"/><circle cx="395.07" cy="199.53" r="0.62" fill="#b8d4ee"/><circle cx="389.95" cy="201.39" r="0.62" fill="#c8dcf0"/><circle cx="386.02" cy="222.21" r="0.62" fill="#e8d8b0"/><circle cx="406.56" cy="206.9" r="0.62" fill="#f0c080"/><circle cx="396.53" cy="218.96" r="0.62" fill="#e09850"/><circle cx="394.26" cy="216.99" r="0.62" fill="#e8d8b0"/><circle cx="389.52" cy="221.21" r="0.62" fill="#e8d8b0"/><circle cx="388.29" cy="224.6" r="0.62" fill="#f0dcb0"/><circle cx="386.72" cy="206.95" r="0.62" fill="#90b8e0"/><circle cx="398.1" cy="216.47" r="0.62" fill="#e8a860"/><circle cx="402.14" cy="199.88" r="0.62" fill="#f0dcb0"/><circle cx="404.1" cy="220.62" r="0.62" fill="#d88848"/><circle cx="390.23" cy="201.24" r="0.62" fill="#c8dcf0"/><circle cx="385.88" cy="210.79" r="0.62" fill="#c8dcf0"/><circle cx="394.2" cy="214.66" r="0.62" fill="#e8d8b0"/><circle cx="398.97" cy="188.47" r="0.62" fill="#c8dcf0"/><circle cx="400.04" cy="206.3" r="0.62" fill="#d8d8c8"/><circle cx="402.15" cy="195.59" r="0.62" fill="#f0dcb0"/><circle cx="402.77" cy="206.65" r="0.62" fill="#d88848"/><circle cx="398.62" cy="190.56" r="0.62" fill="#b8d4ee"/><circle cx="391.2" cy="218.77" r="0.62" fill="#b8cce0"/><circle cx="393.04" cy="208.25" r="0.62" fill="#e8d8b0"/><circle cx="406.54" cy="215.82" r="0.62" fill="#e8b878"/><circle cx="400.58" cy="209.91" r="0.62" fill="#b8cce0"/><circle cx="395.22" cy="205.36" r="0.62" fill="#d8d8c8"/><circle cx="402.86" cy="220.67" r="0.62" fill="#d88848"/><circle cx="394.79" cy="199.1" r="0.62" fill="#a8c8e8"/><circle cx="400.59" cy="221.76" r="0.62" fill="#e8a860"/><circle cx="395.89" cy="201.08" r="0.62" fill="#f0dcb0"/><circle cx="390.38" cy="221.96" r="0.62" fill="#f0dcb0"/><circle cx="396.63" cy="231.25" r="0.62" fill="#f0c080"/><circle cx="400.66" cy="210.59" r="0.62" fill="#e8b878"/><circle cx="396.54" cy="208.83" r="0.62" fill="#b8cce0"/><circle cx="401.65" cy="224.29" r="0.62" fill="#f0c080"/><circle cx="396.89" cy="193.78" r="0.62" fill="#a8c8e8"/><circle cx="392.45" cy="203.89" r="0.62" fill="#90b8e0"/><circle cx="401.76" cy="207.52" r="0.62" fill="#f0dcb0"/><circle cx="390.68" cy="194.34" r="0.62" fill="#90b8e0"/><circle cx="393.27" cy="225.16" r="0.62" fill="#e8b878"/><circle cx="405.55" cy="203.74" r="0.62" fill="#f0c080"/><circle cx="390.18" cy="192.53" r="0.62" fill="#c8dcf0"/><circle cx="385.68" cy="217.31" r="0.62" fill="#b8d4ee"/><circle cx="392.37" cy="216.97" r="0.62" fill="#d8d8c8"/><circle cx="403.96" cy="220.85" r="0.62" fill="#e09850"/><circle cx="404.59" cy="218.46" r="0.62" fill="#f0c080"/><circle cx="392.32" cy="194.94" r="0.62" fill="#a8c8e8"/><circle cx="395.96" cy="213.92" r="0.62" fill="#b8cce0"/><circle cx="397.06" cy="229.2" r="0.62" fill="#e09850"/><circle cx="393.59" cy="203.11" r="0.62" fill="#c8dcf0"/><circle cx="403.38" cy="197.39" r="0.62" fill="#d8d8c8"/><circle cx="390.73" cy="214.75" r="0.62" fill="#f0dcb0"/><circle cx="403.67" cy="211.11" r="0.62" fill="#f0c080"/><circle cx="395.15" cy="191.27" r="0.62" fill="#a8c8e8"/><circle cx="388.77" cy="196.39" r="0.62" fill="#90b8e0"/><circle cx="403.42" cy="221.27" r="0.62" fill="#e8a860"/><circle cx="392.46" cy="226.17" r="0.62" fill="#e8b878"/><circle cx="394.76" cy="226.19" r="0.62" fill="#e8b878"/><circle cx="387.69" cy="208.1" r="0.62" fill="#a8c8e8"/><circle cx="387.07" cy="227.03" r="0.62" fill="#d8d8c8"/><circle cx="387.49" cy="226.05" r="0.62" fill="#d8d8c8"/><circle cx="394.6" cy="187.53" r="0.62" fill="#90b8e0"/><circle cx="395.89" cy="200.25" r="0.62" fill="#f0dcb0"/><circle cx="393.2" cy="209.72" r="0.62" fill="#f0dcb0"/><circle cx="405.93" cy="205.59" r="0.62" fill="#f0c080"/><circle cx="403.72" cy="216.8" r="0.62" fill="#e8a860"/><circle cx="394.96" cy="190.53" r="0.62" fill="#c8dcf0"/><circle cx="390.31" cy="208.24" r="0.62" fill="#b8d4ee"/><circle cx="401.49" cy="194.25" r="0.62" fill="#f0dcb0"/><circle cx="389.89" cy="217.59" r="0.62" fill="#f0dcb0"/><circle cx="391.6" cy="198.42" r="0.62" fill="#a8c8e8"/><circle cx="403.57" cy="207" r="0.62" fill="#d88848"/><circle cx="403.84" cy="201.24" r="0.62" fill="#f0dcb0"/><circle cx="401.52" cy="219.3" r="0.62" fill="#e8a860"/><circle cx="389.22" cy="227.67" r="0.62" fill="#d8d8c8"/><circle cx="389.2" cy="212.61" r="0.62" fill="#c8dcf0"/><circle cx="402.35" cy="208.14" r="0.62" fill="#e09850"/><circle cx="396.2" cy="206.57" r="0.62" fill="#f0dcb0"/><circle cx="387.49" cy="226.89" r="0.62" fill="#e8d8b0"/><circle cx="402.22" cy="221.65" r="0.62" fill="#e8a860"/><circle cx="397.1" cy="206.29" r="0.62" fill="#f0dcb0"/><circle cx="393.48" cy="229.16" r="0.62" fill="#e8b878"/><circle cx="394.5" cy="190.93" r="0.62" fill="#90b8e0"/><circle cx="402.7" cy="216.37" r="0.62" fill="#e8b878"/><circle cx="401.12" cy="207.66" r="0.62" fill="#f0dcb0"/><circle cx="393.19" cy="204.64" r="0.62" fill="#a8c8e8"/><circle cx="404.05" cy="215.87" r="0.62" fill="#f0c080"/><circle cx="395.13" cy="196.11" r="0.62" fill="#b8d4ee"/><circle cx="395.75" cy="218.62" r="0.62" fill="#e8d8b0"/><circle cx="398.77" cy="227.47" r="0.62" fill="#f0c080"/><circle cx="394.01" cy="217.13" r="0.62" fill="#b8cce0"/><circle cx="387.05" cy="207.02" r="0.62" fill="#b8d4ee"/><circle cx="402.81" cy="210.31" r="0.62" fill="#e8b878"/><circle cx="399.55" cy="211.61" r="0.62" fill="#e8d8b0"/><circle cx="388.34" cy="203.53" r="0.62" fill="#b8d4ee"/><circle cx="392.56" cy="207.99" r="0.62" fill="#b8cce0"/><circle cx="404.66" cy="197.29" r="0.62" fill="#e8d8b0"/><circle cx="404.01" cy="211.49" r="0.62" fill="#e8b878"/><circle cx="396.02" cy="196.36" r="0.62" fill="#a8c8e8"/><circle cx="392.27" cy="219.11" r="0.62" fill="#b8cce0"/><circle cx="399.48" cy="189.53" r="0.62" fill="#a8c8e8"/><circle cx="393.88" cy="205.66" r="0.62" fill="#d8d8c8"/><circle cx="391.87" cy="212.01" r="0.62" fill="#b8cce0"/><circle cx="391.21" cy="217.91" r="0.62" fill="#e8d8b0"/><circle cx="396.74" cy="209.58" r="0.62" fill="#d8d8c8"/><circle cx="391.27" cy="211.41" r="0.62" fill="#b8cce0"/><circle cx="399.85" cy="199.69" r="0.62" fill="#e8d8b0"/><circle cx="392.56" cy="219.75" r="0.62" fill="#e8d8b0"/><circle cx="395.34" cy="201.99" r="0.62" fill="#b8cce0"/><circle cx="401.99" cy="193.55" r="0.62" fill="#b8cce0"/><circle cx="400.5" cy="208.59" r="0.62" fill="#f0dcb0"/><circle cx="398.43" cy="219.13" r="0.62" fill="#e8b878"/><circle cx="399.38" cy="189.28" r="0.62" fill="#c8dcf0"/><circle cx="400.53" cy="193.77" r="0.62" fill="#f0dcb0"/><circle cx="399.57" cy="220.36" r="0.62" fill="#e8b878"/><circle cx="396.57" cy="187.99" r="0.62" fill="#c8dcf0"/><circle cx="391.93" cy="200.57" r="0.62" fill="#c8dcf0"/><circle cx="399.05" cy="207.79" r="0.62" fill="#b8cce0"/><circle cx="406.26" cy="199.3" r="0.62" fill="#f0dcb0"/><circle cx="386.61" cy="216.42" r="0.62" fill="#c8dcf0"/><circle cx="398.92" cy="189.26" r="0.62" fill="#a8c8e8"/><circle cx="391.06" cy="221.39" r="0.62" fill="#b8cce0"/><circle cx="399.11" cy="195.69" r="0.62" fill="#d8d8c8"/><circle cx="402.15" cy="223.39" r="0.62" fill="#e09850"/><circle cx="407.28" cy="208.75" r="0.62" fill="#f0c080"/><circle cx="401.41" cy="192.64" r="0.62" fill="#b8cce0"/><circle cx="386.91" cy="224.15" r="0.62" fill="#b8cce0"/><circle cx="402.98" cy="224.9" r="0.62" fill="#e8a860"/><circle cx="394.22" cy="213.24" r="0.62" fill="#e8d8b0"/><circle cx="396.87" cy="203.73" r="0.62" fill="#e8d8b0"/><circle cx="397.41" cy="206.24" r="0.62" fill="#e8d8b0"/><circle cx="389.89" cy="202.83" r="0.62" fill="#90b8e0"/><circle cx="398.93" cy="226.69" r="0.62" fill="#e09850"/><circle cx="399.51" cy="199.36" r="0.62" fill="#b8cce0"/><circle cx="398.4" cy="201.16" r="0.62" fill="#f0dcb0"/><circle cx="403.9" cy="205.94" r="0.62" fill="#e8b878"/><circle cx="388.55" cy="217.9" r="0.62" fill="#f0dcb0"/><circle cx="405.93" cy="217.12" r="0.62" fill="#f0c080"/><circle cx="387.35" cy="216.04" r="0.62" fill="#b8d4ee"/><circle cx="392.17" cy="189.79" r="0.62" fill="#90b8e0"/><circle cx="386.53" cy="215" r="0.62" fill="#c8dcf0"/><circle cx="401.97" cy="218.79" r="0.62" fill="#f0c080"/><circle cx="390.49" cy="204.54" r="0.62" fill="#a8c8e8"/><circle cx="397.16" cy="219.8" r="0.62" fill="#e8a860"/><circle cx="390.02" cy="221.82" r="0.62" fill="#f0dcb0"/><circle cx="397.63" cy="186.74" r="0.62" fill="#a8c8e8"/><circle cx="404.26" cy="213.6" r="0.62" fill="#d88848"/><circle cx="393.92" cy="203.34" r="0.62" fill="#b8d4ee"/><circle cx="397.38" cy="196.2" r="0.62" fill="#90b8e0"/><circle cx="397.65" cy="196.21" r="0.62" fill="#90b8e0"/><circle cx="398.5" cy="216.55" r="0.62" fill="#f0c080"/><circle cx="401.32" cy="212.47" r="0.62" fill="#e09850"/><circle cx="390.82" cy="209.31" r="0.62" fill="#c8dcf0"/><circle cx="394.63" cy="202.98" r="0.62" fill="#e8d8b0"/><circle cx="389.37" cy="211.93" r="0.62" fill="#b8d4ee"/><circle cx="391.42" cy="195.53" r="0.62" fill="#b8d4ee"/><circle cx="396.71" cy="199.94" r="0.62" fill="#f0dcb0"/><circle cx="391.1" cy="193.29" r="0.62" fill="#b8d4ee"/><circle cx="390.27" cy="220.09" r="0.62" fill="#f0dcb0"/><circle cx="388.56" cy="199.26" r="0.62" fill="#b8d4ee"/><circle cx="403.49" cy="193.47" r="0.62" fill="#d8d8c8"/><circle cx="400.86" cy="218.95" r="0.62" fill="#e09850"/><circle cx="387.83" cy="220.16" r="0.62" fill="#f0dcb0"/><circle cx="391.62" cy="210.01" r="0.62" fill="#f0dcb0"/><circle cx="402.08" cy="206.02" r="0.62" fill="#e8d8b0"/><circle cx="390.77" cy="213.39" r="0.62" fill="#d8d8c8"/><circle cx="403.7" cy="194.06" r="0.62" fill="#b8cce0"/><circle cx="393.67" cy="207.83" r="0.62" fill="#d8d8c8"/><circle cx="396.03" cy="190.76" r="0.62" fill="#90b8e0"/><circle cx="395.67" cy="193.49" r="0.62" fill="#b8d4ee"/><circle cx="402.45" cy="224.67" r="0.62" fill="#e8a860"/><circle cx="402.79" cy="208.55" r="0.62" fill="#e8a860"/><circle cx="388.67" cy="228.52" r="0.62" fill="#d8d8c8"/><circle cx="403.83" cy="205.28" r="0.62" fill="#e8a860"/><circle cx="394.65" cy="225.4" r="0.62" fill="#d88848"/><circle cx="399.28" cy="189.34" r="0.62" fill="#b8d4ee"/><circle cx="387.91" cy="210.93" r="0.62" fill="#b8d4ee"/><circle cx="403.24" cy="215.86" r="0.62" fill="#f0c080"/><circle cx="399.79" cy="222.14" r="0.62" fill="#f0c080"/><circle cx="400.38" cy="225" r="0.62" fill="#d88848"/><circle cx="402.96" cy="198.51" r="0.62" fill="#d8d8c8"/><circle cx="407.53" cy="209.16" r="0.62" fill="#e8b878"/><circle cx="404.74" cy="220.05" r="0.62" fill="#e09850"/><circle cx="398.82" cy="229.27" r="0.62" fill="#e8b878"/><circle cx="387.25" cy="225.48" r="0.62" fill="#e8d8b0"/><circle cx="405.99" cy="204.21" r="0.62" fill="#d88848"/><circle cx="403.56" cy="207.64" r="0.62" fill="#e8b878"/><circle cx="393.56" cy="199.59" r="0.62" fill="#b8d4ee"/><circle cx="395.54" cy="187.14" r="0.62" fill="#90b8e0"/><circle cx="391.49" cy="229" r="0.62" fill="#d88848"/><circle cx="391.17" cy="206.59" r="0.62" fill="#a8c8e8"/><circle cx="391.13" cy="230.21" r="0.62" fill="#e8a860"/><circle cx="395.86" cy="204.96" r="0.62" fill="#f0dcb0"/><circle cx="391.85" cy="229.13" r="0.62" fill="#e8a860"/><circle cx="403.74" cy="208.76" r="0.62" fill="#d88848"/><circle cx="386.75" cy="212.27" r="0.62" fill="#c8dcf0"/><circle cx="389.82" cy="195.97" r="0.62" fill="#c8dcf0"/><circle cx="389.43" cy="194.28" r="0.62" fill="#c8dcf0"/><circle cx="391.93" cy="204.05" r="0.62" fill="#90b8e0"/><circle cx="397.47" cy="220.49" r="0.62" fill="#e09850"/><circle cx="405.16" cy="215.07" r="0.62" fill="#e8b878"/><circle cx="396.62" cy="230.39" r="0.62" fill="#d88848"/><circle cx="392.55" cy="199.37" r="0.62" fill="#b8d4ee"/><circle cx="386.07" cy="211.39" r="0.62" fill="#90b8e0"/><circle cx="400.82" cy="201.37" r="0.62" fill="#d8d8c8"/><circle cx="394.13" cy="224.45" r="0.62" fill="#e09850"/><circle cx="403.78" cy="221.03" r="0.62" fill="#e8a860"/><circle cx="392.12" cy="217.82" r="0.62" fill="#e8d8b0"/><circle cx="391.04" cy="208.43" r="0.62" fill="#c8dcf0"/><circle cx="393.35" cy="198.54" r="0.62" fill="#b8d4ee"/><circle cx="393.93" cy="189.13" r="0.62" fill="#b8d4ee"/><circle cx="400.04" cy="191.3" r="0.62" fill="#a8c8e8"/><circle cx="405.45" cy="213.91" r="0.62" fill="#e09850"/><circle cx="401.79" cy="207.27" r="0.62" fill="#e8d8b0"/><circle cx="393.94" cy="229.36" r="0.62" fill="#e09850"/><circle cx="396.27" cy="197.1" r="0.62" fill="#a8c8e8"/><circle cx="394.11" cy="210.02" r="0.62" fill="#d8d8c8"/><circle cx="393" cy="228.37" r="0.62" fill="#e8b878"/><circle cx="393.31" cy="218.98" r="0.62" fill="#f0dcb0"/><circle cx="397.13" cy="193.88" r="0.62" fill="#90b8e0"/><circle cx="403.12" cy="193.38" r="0.62" fill="#b8cce0"/><circle cx="386.8" cy="211.8" r="0.62" fill="#b8d4ee"/><circle cx="397.64" cy="217.22" r="0.62" fill="#e8a860"/><circle cx="399.61" cy="193.18" r="0.62" fill="#c8dcf0"/><circle cx="387.02" cy="223.76" r="0.62" fill="#f0dcb0"/><circle cx="399.06" cy="205.73" r="0.62" fill="#e8d8b0"/><circle cx="393.56" cy="215.63" r="0.62" fill="#b8cce0"/><circle cx="403.73" cy="195.24" r="0.62" fill="#f0dcb0"/><circle cx="399.43" cy="190.13" r="0.62" fill="#b8d4ee"/><circle cx="400.85" cy="212.3" r="0.62" fill="#d88848"/><circle cx="392.5" cy="210.04" r="0.62" fill="#d8d8c8"/><circle cx="393.68" cy="217.89" r="0.62" fill="#e8d8b0"/><circle cx="398.01" cy="212.26" r="0.62" fill="#b8cce0"/><circle cx="401.63" cy="206.49" r="0.62" fill="#d8d8c8"/><circle cx="392.37" cy="214.09" r="0.62" fill="#f0dcb0"/><circle cx="386.42" cy="207.98" r="0.62" fill="#90b8e0"/><circle cx="401.64" cy="211.58" r="0.62" fill="#e09850"/><circle cx="390.65" cy="204.94" r="0.62" fill="#c8dcf0"/><circle cx="395.29" cy="208.71" r="0.62" fill="#e8d8b0"/><circle cx="401.7" cy="222.39" r="0.62" fill="#d88848"/><circle cx="401.05" cy="205.55" r="0.62" fill="#f0dcb0"/><circle cx="401.65" cy="226.52" r="0.62" fill="#f0c080"/><circle cx="397.13" cy="190.78" r="0.62" fill="#b8d4ee"/><circle cx="396.04" cy="194.2" r="0.62" fill="#c8dcf0"/><circle cx="395.41" cy="194.01" r="0.62" fill="#b8d4ee"/><circle cx="401.29" cy="191.32" r="0.62" fill="#b8cce0"/><circle cx="395.46" cy="217.77" r="0.62" fill="#e8d8b0"/><circle cx="396.73" cy="200.96" r="0.62" fill="#e8d8b0"/><circle cx="400.16" cy="206.16" r="0.62" fill="#d8d8c8"/><circle cx="386.2" cy="218.93" r="0.62" fill="#b8cce0"/><circle cx="401.59" cy="191.95" r="0.62" fill="#f0dcb0"/><circle cx="401.43" cy="220.77" r="0.62" fill="#e8a860"/><circle cx="393.56" cy="206.95" r="0.62" fill="#b8cce0"/><circle cx="398.34" cy="225.16" r="0.62" fill="#f0c080"/><circle cx="399.04" cy="229.42" r="0.62" fill="#e8b878"/><circle cx="398.96" cy="212.84" r="0.62" fill="#f0dcb0"/><circle cx="395.88" cy="226.96" r="0.62" fill="#d88848"/><circle cx="392.6" cy="207.75" r="0.62" fill="#b8cce0"/><circle cx="401.4" cy="208.34" r="0.62" fill="#e8d8b0"/><circle cx="404.37" cy="193.87" r="0.62" fill="#f0dcb0"/><circle cx="400.49" cy="198.85" r="0.62" fill="#b8cce0"/><circle cx="393.32" cy="217.2" r="0.62" fill="#e8d8b0"/><circle cx="406.51" cy="212.71" r="0.62" fill="#e8b878"/><circle cx="399.9" cy="201.53" r="0.62" fill="#d8d8c8"/><circle cx="400.23" cy="189.41" r="0.62" fill="#c8dcf0"/><circle cx="399.06" cy="211.86" r="0.62" fill="#f0dcb0"/><circle cx="405.77" cy="213.69" r="0.62" fill="#e09850"/><circle cx="387.9" cy="206.95" r="0.62" fill="#b8d4ee"/><circle cx="405.29" cy="200.15" r="0.62" fill="#e8d8b0"/><circle cx="395.86" cy="218.77" r="0.62" fill="#d8d8c8"/><circle cx="393.6" cy="227.76" r="0.62" fill="#e09850"/><circle cx="400.53" cy="211.34" r="0.62" fill="#e8b878"/><circle cx="398.37" cy="224.45" r="0.62" fill="#e8a860"/><circle cx="395.51" cy="193.05" r="0.62" fill="#90b8e0"/><circle cx="392.04" cy="197.15" r="0.62" fill="#c8dcf0"/><circle cx="402.37" cy="222.38" r="0.62" fill="#e8b878"/><circle cx="386.6" cy="221.59" r="0.62" fill="#b8cce0"/><circle cx="398.99" cy="200.05" r="0.62" fill="#d8d8c8"/><circle cx="386.87" cy="208.48" r="0.62" fill="#90b8e0"/><circle cx="397.45" cy="187.07" r="0.62" fill="#a8c8e8"/><circle cx="395.26" cy="200.13" r="0.62" fill="#c8dcf0"/><circle cx="390.98" cy="218.79" r="0.62" fill="#b8cce0"/><circle cx="396.11" cy="204.99" r="0.62" fill="#b8cce0"/><circle cx="392.93" cy="211.48" r="0.62" fill="#e8d8b0"/><circle cx="394.82" cy="191.79" r="0.62" fill="#a8c8e8"/><circle cx="406.37" cy="215.52" r="0.62" fill="#d88848"/><circle cx="404.74" cy="218.68" r="0.62" fill="#e09850"/><circle cx="396.4" cy="194.16" r="0.62" fill="#c8dcf0"/><circle cx="394.32" cy="193.92" r="0.62" fill="#c8dcf0"/><circle cx="389.75" cy="214.5" r="0.62" fill="#e8d8b0"/><circle cx="395.58" cy="231.14" r="0.62" fill="#f0c080"/><circle cx="390.17" cy="196.85" r="0.62" fill="#90b8e0"/><circle cx="404.72" cy="216.7" r="0.62" fill="#e8a860"/><circle cx="402.5" cy="224.17" r="0.62" fill="#d88848"/><circle cx="390.78" cy="205.01" r="0.62" fill="#b8d4ee"/><circle cx="393.76" cy="195.15" r="0.62" fill="#c8dcf0"/><circle cx="397.24" cy="213.09" r="0.62" fill="#f0dcb0"/><circle cx="397.21" cy="226.7" r="0.62" fill="#e8b878"/><circle cx="387.76" cy="203.35" r="0.62" fill="#90b8e0"/><circle cx="388.02" cy="213.2" r="0.62" fill="#b8d4ee"/><circle cx="404.82" cy="220.44" r="0.62" fill="#e09850"/><circle cx="392.76" cy="221.97" r="0.62" fill="#b8cce0"/><circle cx="403.37" cy="210.88" r="0.62" fill="#e8b878"/><circle cx="402.59" cy="222.67" r="0.62" fill="#e8b878"/><circle cx="390.63" cy="211.32" r="0.62" fill="#d8d8c8"/><circle cx="391.46" cy="197.74" r="0.62" fill="#a8c8e8"/><circle cx="392.29" cy="197.44" r="0.62" fill="#a8c8e8"/><circle cx="388.85" cy="197.24" r="0.62" fill="#90b8e0"/><circle cx="400" cy="195.41" r="0.62" fill="#d8d8c8"/><circle cx="400" cy="196.65" r="0.62" fill="#d8d8c8"/><circle cx="396.38" cy="190.27" r="0.62" fill="#b8d4ee"/><circle cx="388.91" cy="211.75" r="0.62" fill="#b8d4ee"/><circle cx="392.06" cy="203.6" r="0.62" fill="#b8d4ee"/><circle cx="392.33" cy="210.1" r="0.62" fill="#f0dcb0"/><circle cx="387.01" cy="218.01" r="0.62" fill="#e8d8b0"/><circle cx="403.79" cy="219.22" r="0.62" fill="#e8a860"/><circle cx="401.51" cy="189.48" r="0.62" fill="#b8d4ee"/><circle cx="395.15" cy="217.07" r="0.62" fill="#d8d8c8"/><circle cx="401.71" cy="207.16" r="0.62" fill="#b8cce0"/><circle cx="396.8" cy="205.67" r="0.62" fill="#b8cce0"/><circle cx="398.47" cy="192.9" r="0.62" fill="#90b8e0"/><circle cx="397.57" cy="226.19" r="0.62" fill="#e8b878"/><circle cx="396.61" cy="202.33" r="0.62" fill="#e8d8b0"/><circle cx="394.88" cy="229.11" r="0.62" fill="#d88848"/><circle cx="396.06" cy="198.49" r="0.62" fill="#b8d4ee"/><circle cx="389.7" cy="211.6" r="0.62" fill="#a8c8e8"/><circle cx="393.41" cy="203.31" r="0.62" fill="#b8d4ee"/><circle cx="396.85" cy="206.33" r="0.62" fill="#e8d8b0"/><circle cx="392.89" cy="225.76" r="0.62" fill="#f0c080"/><circle cx="402.71" cy="197.61" r="0.62" fill="#f0dcb0"/><circle cx="393.86" cy="226.41" r="0.62" fill="#e09850"/><circle cx="400.52" cy="223.4" r="0.62" fill="#d88848"/><circle cx="401.99" cy="221.47" r="0.62" fill="#e09850"/><circle cx="395.93" cy="221.24" r="0.62" fill="#e09850"/><circle cx="394.7" cy="224.6" r="0.62" fill="#f0c080"/><circle cx="391.99" cy="223.83" r="0.62" fill="#d8d8c8"/><circle cx="395.73" cy="196.76" r="0.62" fill="#b8d4ee"/><circle cx="399.15" cy="228.99" r="0.62" fill="#f0c080"/><circle cx="389.03" cy="202.55" r="0.62" fill="#b8d4ee"/><circle cx="394.88" cy="222.59" r="0.62" fill="#e8a860"/><circle cx="388.53" cy="218.7" r="0.62" fill="#e8d8b0"/><circle cx="393.45" cy="226.45" r="0.62" fill="#d88848"/><circle cx="393.38" cy="221.17" r="0.62" fill="#f0dcb0"/><circle cx="391.78" cy="225.66" r="0.62" fill="#e8d8b0"/><circle cx="402.28" cy="216.96" r="0.62" fill="#f0c080"/><circle cx="403.54" cy="215.63" r="0.62" fill="#e8b878"/><circle cx="397.08" cy="193.16" r="0.62" fill="#b8d4ee"/><circle cx="393.85" cy="191.1" r="0.62" fill="#c8dcf0"/><circle cx="392.98" cy="222.69" r="0.62" fill="#d8d8c8"/><circle cx="397.47" cy="230.45" r="0.62" fill="#d88848"/><circle cx="403.74" cy="212.3" r="0.62" fill="#f0c080"/><circle cx="400.06" cy="208.77" r="0.62" fill="#e8d8b0"/><circle cx="389.42" cy="198.23" r="0.62" fill="#b8d4ee"/><circle cx="400.5" cy="207.43" r="0.62" fill="#f0dcb0"/><circle cx="395.68" cy="231.31" r="0.62" fill="#f0c080"/><circle cx="389.66" cy="222.59" r="0.62" fill="#b8cce0"/><circle cx="389.15" cy="202.18" r="0.62" fill="#a8c8e8"/><circle cx="387.85" cy="204.49" r="0.62" fill="#a8c8e8"/><circle cx="393.14" cy="197.49" r="0.62" fill="#b8d4ee"/><circle cx="393.99" cy="228.28" r="0.62" fill="#e8a860"/><circle cx="407.15" cy="205.67" r="0.62" fill="#e8b878"/><circle cx="405.85" cy="200.38" r="0.62" fill="#e8d8b0"/><circle cx="405.21" cy="220.66" r="0.62" fill="#e8a860"/><circle cx="398.55" cy="208.39" r="0.62" fill="#d8d8c8"/><circle cx="386.94" cy="219.1" r="0.62" fill="#e8d8b0"/><circle cx="396.31" cy="224.44" r="0.62" fill="#e09850"/><circle cx="404.8" cy="211.05" r="0.62" fill="#e8a860"/><circle cx="399.56" cy="223.7" r="0.62" fill="#d88848"/><circle cx="397.82" cy="211.12" r="0.62" fill="#f0dcb0"/><circle cx="402.55" cy="195.98" r="0.62" fill="#e8d8b0"/><circle cx="395.82" cy="208.75" r="0.62" fill="#b8cce0"/><circle cx="403.42" cy="191.84" r="0.62" fill="#d8d8c8"/><circle cx="390.16" cy="210.11" r="0.62" fill="#c8dcf0"/><circle cx="392.96" cy="195.61" r="0.62" fill="#b8d4ee"/><circle cx="399.83" cy="189.97" r="0.62" fill="#90b8e0"/><circle cx="395.4" cy="194.97" r="0.62" fill="#a8c8e8"/><circle cx="403.82" cy="211.38" r="0.62" fill="#e8b878"/><circle cx="403.11" cy="221.01" r="0.62" fill="#e09850"/><circle cx="395.55" cy="201.56" r="0.62" fill="#b8cce0"/><circle cx="396.4" cy="215.44" r="0.62" fill="#d8d8c8"/><circle cx="394.21" cy="186.63" r="0.62" fill="#c8dcf0"/><circle cx="397.01" cy="219.34" r="0.62" fill="#e8b878"/><circle cx="396.93" cy="188.36" r="0.62" fill="#b8d4ee"/><circle cx="401.24" cy="197.19" r="0.62" fill="#f0dcb0"/><circle cx="396.26" cy="191.6" r="0.62" fill="#90b8e0"/><circle cx="401.96" cy="191.13" r="0.62" fill="#e8d8b0"/><circle cx="390.67" cy="230.33" r="0.62" fill="#e09850"/><circle cx="398.38" cy="211.06" r="0.62" fill="#b8cce0"/><circle cx="395.74" cy="191.87" r="0.62" fill="#c8dcf0"/><circle cx="399.79" cy="206.97" r="0.62" fill="#b8cce0"/><circle cx="388.75" cy="217.98" r="0.62" fill="#b8cce0"/><circle cx="405.44" cy="220.94" r="0.62" fill="#e8b878"/><circle cx="402.59" cy="210.57" r="0.62" fill="#e8b878"/><circle cx="393.31" cy="215.09" r="0.62" fill="#e8d8b0"/><circle cx="403.71" cy="218.32" r="0.62" fill="#f0c080"/><circle cx="406.98" cy="212.43" r="0.62" fill="#d88848"/><circle cx="406.3" cy="210.67" r="0.62" fill="#e09850"/><circle cx="387.76" cy="198.91" r="0.62" fill="#a8c8e8"/><circle cx="400.56" cy="207.83" r="0.62" fill="#d8d8c8"/><circle cx="395.13" cy="186.57" r="0.62" fill="#90b8e0"/><circle cx="390.31" cy="194.75" r="0.62" fill="#b8d4ee"/><circle cx="389.62" cy="193.92" r="0.62" fill="#90b8e0"/><circle cx="395.03" cy="218.5" r="0.62" fill="#d8d8c8"/><circle cx="403.84" cy="207.19" r="0.62" fill="#e8b878"/><circle cx="401.42" cy="209.54" r="0.62" fill="#f0c080"/><circle cx="395.27" cy="206.51" r="0.62" fill="#e8d8b0"/><circle cx="392.35" cy="207.28" r="0.62" fill="#f0dcb0"/><circle cx="387.97" cy="213.97" r="0.62" fill="#b8d4ee"/><circle cx="391.12" cy="216.58" r="0.62" fill="#b8cce0"/><circle cx="393.47" cy="219.26" r="0.62" fill="#d8d8c8"/><circle cx="390.88" cy="216.6" r="0.62" fill="#f0dcb0"/><circle cx="405.27" cy="205.23" r="0.62" fill="#f0c080"/><circle cx="400.14" cy="209.89" r="0.62" fill="#b8cce0"/><circle cx="396.4" cy="194.46" r="0.62" fill="#a8c8e8"/><circle cx="404.14" cy="211.4" r="0.62" fill="#d88848"/><circle cx="393.51" cy="211.81" r="0.62" fill="#d8d8c8"/><circle cx="400.43" cy="216.62" r="0.62" fill="#e8b878"/><circle cx="402.43" cy="215.14" r="0.62" fill="#f0c080"/><circle cx="388.81" cy="193.97" r="0.62" fill="#c8dcf0"/><circle cx="392.03" cy="189.77" r="0.62" fill="#c8dcf0"/><circle cx="398.72" cy="190.7" r="0.62" fill="#c8dcf0"/><circle cx="403.92" cy="209.38" r="0.62" fill="#f0c080"/><circle cx="400.5" cy="195.47" r="0.62" fill="#f0dcb0"/><circle cx="396.9" cy="228.4" r="0.62" fill="#f0c080"/><circle cx="391.75" cy="187.77" r="0.62" fill="#a8c8e8"/><circle cx="401.22" cy="190.11" r="0.62" fill="#b8d4ee"/><circle cx="401.11" cy="196.97" r="0.62" fill="#f0dcb0"/><circle cx="393.9" cy="185.94" r="0.62" fill="#a8c8e8"/><circle cx="402.05" cy="214.9" r="0.62" fill="#d88848"/><circle cx="396.78" cy="229.83" r="0.62" fill="#e8a860"/><circle cx="406.4" cy="202.16" r="0.62" fill="#e09850"/><circle cx="403.49" cy="198.18" r="0.62" fill="#d8d8c8"/><circle cx="396.66" cy="189.01" r="0.62" fill="#90b8e0"/><circle cx="401.81" cy="205.69" r="0.62" fill="#e8d8b0"/><circle cx="405.83" cy="212.16" r="0.62" fill="#f0c080"/><circle cx="393.69" cy="207.33" r="0.62" fill="#f0dcb0"/><circle cx="402.64" cy="218.85" r="0.62" fill="#f0c080"/><circle cx="399.7" cy="215.67" r="0.62" fill="#d88848"/><circle cx="392.45" cy="208.2" r="0.62" fill="#b8cce0"/><circle cx="389.03" cy="216.81" r="0.62" fill="#b8cce0"/><circle cx="398.96" cy="201.53" r="0.62" fill="#f0dcb0"/><circle cx="389.22" cy="194.68" r="0.62" fill="#c8dcf0"/><circle cx="403.28" cy="208.61" r="0.62" fill="#d88848"/><circle cx="398.12" cy="218.76" r="0.62" fill="#e09850"/><circle cx="396.41" cy="206.61" r="0.62" fill="#f0dcb0"/><circle cx="395.74" cy="209.78" r="0.62" fill="#d8d8c8"/><circle cx="387.39" cy="214.86" r="0.62" fill="#90b8e0"/><circle cx="397.2" cy="216.36" r="0.62" fill="#f0dcb0"/><circle cx="404.28" cy="199.16" r="0.62" fill="#f0dcb0"/><circle cx="401.75" cy="205.77" r="0.62" fill="#b8cce0"/><circle cx="386.09" cy="210.28" r="0.62" fill="#b8d4ee"/><circle cx="400.18" cy="209.79" r="0.62" fill="#f0dcb0"/><circle cx="405.72" cy="213.35" r="0.62" fill="#d88848"/><circle cx="395.83" cy="215.6" r="0.62" fill="#b8cce0"/><circle cx="390.12" cy="224.23" r="0.62" fill="#e8d8b0"/><circle cx="393.97" cy="224.17" r="0.62" fill="#e09850"/><circle cx="390.8" cy="216.02" r="0.62" fill="#e8d8b0"/><circle cx="398.5" cy="212.1" r="0.62" fill="#d8d8c8"/><circle cx="392.11" cy="198.07" r="0.62" fill="#90b8e0"/><circle cx="404.13" cy="203" r="0.62" fill="#b8cce0"/><circle cx="396.89" cy="207.45" r="0.62" fill="#b8cce0"/><circle cx="389.22" cy="208.48" r="0.62" fill="#c8dcf0"/><circle cx="396.55" cy="186.65" r="0.62" fill="#90b8e0"/><circle cx="397.96" cy="188.72" r="0.62" fill="#a8c8e8"/><circle cx="387.29" cy="200.63" r="0.62" fill="#90b8e0"/><circle cx="387.05" cy="207.06" r="0.62" fill="#c8dcf0"/><circle cx="398.62" cy="193.99" r="0.62" fill="#b8d4ee"/><circle cx="388.12" cy="211.94" r="0.62" fill="#90b8e0"/><circle cx="405.25" cy="220.98" r="0.62" fill="#f0c080"/><circle cx="399.61" cy="200.2" r="0.62" fill="#e8d8b0"/><circle cx="404.11" cy="205.65" r="0.62" fill="#e8b878"/><circle cx="394.19" cy="227.85" r="0.62" fill="#d88848"/><circle cx="400.67" cy="210.76" r="0.62" fill="#e8a860"/><circle cx="396.93" cy="229.58" r="0.62" fill="#e8a860"/><circle cx="395.84" cy="199.84" r="0.62" fill="#a8c8e8"/><circle cx="395.52" cy="187.71" r="0.62" fill="#90b8e0"/><circle cx="393.18" cy="225.44" r="0.62" fill="#e8a860"/><circle cx="394.8" cy="219.12" r="0.62" fill="#e8d8b0"/><circle cx="401.73" cy="215.08" r="0.62" fill="#d88848"/><circle cx="392.73" cy="216.8" r="0.62" fill="#e8d8b0"/><circle cx="392.16" cy="212.26" r="0.62" fill="#d8d8c8"/><circle cx="404.38" cy="197.51" r="0.62" fill="#b8cce0"/><circle cx="388.56" cy="206.66" r="0.62" fill="#90b8e0"/><circle cx="391.2" cy="212.99" r="0.62" fill="#d8d8c8"/><circle cx="389.87" cy="223.67" r="0.62" fill="#e8d8b0"/><circle cx="397.82" cy="212.07" r="0.62" fill="#b8cce0"/><circle cx="396.75" cy="214.84" r="0.62" fill="#b8cce0"/><circle cx="401.43" cy="205.3" r="0.62" fill="#f0dcb0"/><circle cx="395.39" cy="229.53" r="0.62" fill="#d88848"/><circle cx="388.3" cy="227.5" r="0.62" fill="#e8d8b0"/><circle cx="403.67" cy="203.36" r="0.62" fill="#b8cce0"/><circle cx="400.01" cy="199.68" r="0.62" fill="#b8cce0"/><circle cx="401.06" cy="198.99" r="0.62" fill="#e8d8b0"/><circle cx="393.21" cy="221.89" r="0.62" fill="#f0dcb0"/><circle cx="387.85" cy="217.64" r="0.62" fill="#e8d8b0"/><circle cx="390.08" cy="219.08" r="0.62" fill="#d8d8c8"/><circle cx="392.2" cy="213.21" r="0.62" fill="#b8cce0"/><circle cx="398.65" cy="197.99" r="0.62" fill="#e8d8b0"/><circle cx="401.93" cy="201.34" r="0.62" fill="#b8cce0"/><circle cx="394.92" cy="230.23" r="0.62" fill="#d88848"/><circle cx="403" cy="199.4" r="0.62" fill="#e8d8b0"/><circle cx="403.37" cy="195.14" r="0.62" fill="#b8cce0"/><circle cx="390.07" cy="195.04" r="0.62" fill="#c8dcf0"/><circle cx="394.39" cy="204.54" r="0.62" fill="#f0dcb0"/><circle cx="393.88" cy="188.38" r="0.62" fill="#a8c8e8"/><circle cx="401.68" cy="226.36" r="0.62" fill="#e8b878"/><circle cx="393.51" cy="195.97" r="0.62" fill="#a8c8e8"/><circle cx="406.3" cy="209.07" r="0.62" fill="#d88848"/><circle cx="400.66" cy="208.83" r="0.62" fill="#d8d8c8"/><circle cx="402.64" cy="199.58" r="0.62" fill="#b8cce0"/><circle cx="399.28" cy="210.07" r="0.62" fill="#d8d8c8"/><circle cx="396.24" cy="228.22" r="0.62" fill="#e8b878"/><circle cx="389.64" cy="211.29" r="0.62" fill="#c8dcf0"/><circle cx="407.59" cy="208.98" r="0.62" fill="#d88848"/><circle cx="400.13" cy="216.67" r="0.62" fill="#d88848"/><circle cx="392.65" cy="198.52" r="0.62" fill="#c8dcf0"/><circle cx="394.68" cy="193.13" r="0.62" fill="#c8dcf0"/><circle cx="402.48" cy="190.35" r="0.62" fill="#d8d8c8"/><circle cx="394.66" cy="198.72" r="0.62" fill="#a8c8e8"/><circle cx="397.05" cy="198.63" r="0.62" fill="#b8cce0"/><circle cx="393.21" cy="226.36" r="0.62" fill="#e8a860"/><circle cx="400.8" cy="195.7" r="0.62" fill="#f0dcb0"/><circle cx="393.7" cy="210.18" r="0.62" fill="#b8cce0"/><circle cx="395.53" cy="202.43" r="0.62" fill="#e8d8b0"/><circle cx="390.35" cy="225.38" r="0.62" fill="#e8d8b0"/><circle cx="405.53" cy="197.2" r="0.62" fill="#b8cce0"/><circle cx="388.29" cy="214.85" r="0.62" fill="#d8d8c8"/><circle cx="399.48" cy="198.42" r="0.62" fill="#e8d8b0"/><circle cx="399.04" cy="200.55" r="0.62" fill="#d8d8c8"/><circle cx="392.19" cy="204.88" r="0.62" fill="#c8dcf0"/><circle cx="394.24" cy="217.73" r="0.62" fill="#b8cce0"/><circle cx="386.75" cy="206.45" r="0.62" fill="#a8c8e8"/><circle cx="397.96" cy="225.51" r="0.62" fill="#f0c080"/><circle cx="387.33" cy="224.69" r="0.62" fill="#d8d8c8"/><circle cx="398.46" cy="194.91" r="0.62" fill="#c8dcf0"/><circle cx="389.13" cy="222.29" r="0.62" fill="#b8cce0"/><circle cx="404.17" cy="217.04" r="0.62" fill="#e8a860"/><circle cx="397.23" cy="218.43" r="0.62" fill="#f0c080"/><circle cx="386.23" cy="204.6" r="0.62" fill="#b8d4ee"/><circle cx="399.82" cy="195.7" r="0.62" fill="#f0dcb0"/><circle cx="389.05" cy="227.53" r="0.62" fill="#b8cce0"/><circle cx="401.53" cy="216.62" r="0.62" fill="#f0c080"/><circle cx="387.22" cy="212.77" r="0.62" fill="#c8dcf0"/><circle cx="395.92" cy="191.74" r="0.62" fill="#90b8e0"/><circle cx="402.08" cy="192.78" r="0.62" fill="#d8d8c8"/><circle cx="395.7" cy="189.18" r="0.62" fill="#c8dcf0"/><circle cx="392.15" cy="230.56" r="0.62" fill="#d88848"/><circle cx="391.15" cy="212.69" r="0.62" fill="#b8cce0"/><circle cx="393.86" cy="187.77" r="0.62" fill="#b8d4ee"/><circle cx="399.62" cy="210.01" r="0.62" fill="#e8d8b0"/><circle cx="386.35" cy="215.45" r="0.62" fill="#c8dcf0"/><circle cx="386.7" cy="202.53" r="0.62" fill="#a8c8e8"/><circle cx="391.07" cy="212.61" r="0.62" fill="#d8d8c8"/><circle cx="404.33" cy="197.9" r="0.62" fill="#e8d8b0"/><circle cx="389.19" cy="206.62" r="0.62" fill="#b8d4ee"/><circle cx="400.06" cy="199.61" r="0.62" fill="#f0dcb0"/><circle cx="400.41" cy="210.17" r="0.62" fill="#e8d8b0"/><circle cx="395.11" cy="217.83" r="0.62" fill="#f0dcb0"/><circle cx="388.73" cy="215.64" r="0.62" fill="#b8cce0"/><circle cx="401.71" cy="217.2" r="0.62" fill="#d88848"/><circle cx="387.25" cy="211.86" r="0.62" fill="#a8c8e8"/><circle cx="396.86" cy="220.2" r="0.62" fill="#e8a860"/><circle cx="393.23" cy="203.26" r="0.62" fill="#a8c8e8"/><circle cx="390.92" cy="230.14" r="0.62" fill="#d88848"/><circle cx="399.57" cy="215.66" r="0.62" fill="#e8a860"/><circle cx="392.08" cy="214.84" r="0.62" fill="#e8d8b0"/><circle cx="394.9" cy="199.75" r="0.62" fill="#a8c8e8"/><circle cx="400.48" cy="213.21" r="0.62" fill="#f0c080"/><circle cx="396.75" cy="227.97" r="0.62" fill="#f0c080"/><circle cx="393.75" cy="193.59" r="0.62" fill="#90b8e0"/><circle cx="395.19" cy="195.18" r="0.62" fill="#90b8e0"/><circle cx="403.51" cy="207.37" r="0.62" fill="#f0c080"/><circle cx="398.27" cy="204.06" r="0.62" fill="#d8d8c8"/><circle cx="386.71" cy="223.91" r="0.62" fill="#d8d8c8"/><circle cx="393.98" cy="190.93" r="0.62" fill="#c8dcf0"/><circle cx="403.37" cy="217.87" r="0.62" fill="#e8b878"/><circle cx="406.43" cy="202.66" r="0.62" fill="#e8a860"/><circle cx="401.56" cy="217.26" r="0.62" fill="#e8b878"/><circle cx="393.09" cy="210.03" r="0.62" fill="#b8cce0"/><circle cx="397.82" cy="228.83" r="0.62" fill="#e09850"/><circle cx="397.03" cy="195.67" r="0.62" fill="#a8c8e8"/><circle cx="387.11" cy="225.99" r="0.62" fill="#d8d8c8"/><circle cx="396.2" cy="212.52" r="0.62" fill="#f0dcb0"/><circle cx="404.09" cy="196.03" r="0.62" fill="#b8cce0"/><circle cx="403.2" cy="218.64" r="0.62" fill="#d88848"/><circle cx="389.83" cy="192.36" r="0.62" fill="#90b8e0"/><circle cx="393.66" cy="228.97" r="0.62" fill="#e8b878"/><circle cx="400.08" cy="214.18" r="0.62" fill="#d88848"/><circle cx="387.45" cy="217.75" r="0.62" fill="#d8d8c8"/><circle cx="391.16" cy="207.88" r="0.62" fill="#a8c8e8"/><circle cx="397.67" cy="207.48" r="0.62" fill="#f0dcb0"/><circle cx="402.1" cy="213.39" r="0.62" fill="#e8b878"/><circle cx="388.12" cy="206.04" r="0.62" fill="#c8dcf0"/><circle cx="390.36" cy="201.6" r="0.62" fill="#b8d4ee"/><circle cx="390.57" cy="226" r="0.62" fill="#d8d8c8"/><circle cx="395.37" cy="215.54" r="0.62" fill="#e8d8b0"/><circle cx="395.3" cy="223.8" r="0.62" fill="#e09850"/><circle cx="392.82" cy="213.82" r="0.62" fill="#b8cce0"/><circle cx="397.57" cy="195.46" r="0.62" fill="#90b8e0"/><circle cx="387.01" cy="226.93" r="0.62" fill="#b8cce0"/><circle cx="393.6" cy="190.69" r="0.62" fill="#b8d4ee"/><circle cx="399.6" cy="203.13" r="0.62" fill="#f0dcb0"/><circle cx="388.71" cy="209.05" r="0.62" fill="#90b8e0"/><circle cx="388.87" cy="210.15" r="0.62" fill="#c8dcf0"/><circle cx="400.32" cy="210.31" r="0.62" fill="#f0dcb0"/><circle cx="396.76" cy="217.71" r="0.62" fill="#f0c080"/><circle cx="391.51" cy="205.39" r="0.62" fill="#a8c8e8"/><circle cx="401.38" cy="220.07" r="0.62" fill="#e09850"/><circle cx="407.01" cy="207.5" r="0.62" fill="#d88848"/><circle cx="395.23" cy="186.77" r="0.62" fill="#90b8e0"/><circle cx="390.77" cy="198.25" r="0.62" fill="#90b8e0"/><circle cx="390.91" cy="223.22" r="0.62" fill="#b8cce0"/><circle cx="396.82" cy="193.92" r="0.62" fill="#a8c8e8"/><circle cx="391.24" cy="207.27" r="0.62" fill="#b8d4ee"/><circle cx="391.14" cy="216.89" r="0.62" fill="#b8cce0"/><circle cx="402.07" cy="220.96" r="0.62" fill="#e8b878"/><circle cx="392.04" cy="187.93" r="0.62" fill="#b8d4ee"/><circle cx="388.72" cy="205.71" r="0.62" fill="#90b8e0"/><circle cx="404.81" cy="200.54" r="0.62" fill="#b8cce0"/><circle cx="397.28" cy="197.24" r="0.62" fill="#b8d4ee"/><circle cx="394.07" cy="229.41" r="0.62" fill="#d88848"/><circle cx="391.18" cy="195.88" r="0.62" fill="#c8dcf0"/><circle cx="390.91" cy="195.55" r="0.62" fill="#b8d4ee"/><circle cx="392.03" cy="190.95" r="0.62" fill="#c8dcf0"/><circle cx="392.09" cy="226.24" r="0.62" fill="#e8d8b0"/><circle cx="401.48" cy="212.56" r="0.62" fill="#e8a860"/><circle cx="388.1" cy="222.6" r="0.62" fill="#d8d8c8"/><circle cx="396.29" cy="200.03" r="0.62" fill="#d8d8c8"/><circle cx="387.45" cy="204.06" r="0.62" fill="#a8c8e8"/><circle cx="396.68" cy="201.79" r="0.62" fill="#f0dcb0"/><circle cx="400.04" cy="213.18" r="0.62" fill="#d88848"/><circle cx="388.89" cy="196.75" r="0.62" fill="#b8d4ee"/><circle cx="394.92" cy="220.32" r="0.62" fill="#b8cce0"/><circle cx="403.46" cy="216.73" r="0.62" fill="#d88848"/><circle cx="406.12" cy="212.57" r="0.62" fill="#e8a860"/><circle cx="392.34" cy="197.85" r="0.62" fill="#b8d4ee"/><circle cx="387.62" cy="199.52" r="0.62" fill="#90b8e0"/><circle cx="397.87" cy="205.58" r="0.62" fill="#b8cce0"/><circle cx="390.01" cy="219.56" r="0.62" fill="#f0dcb0"/><circle cx="392.63" cy="219.78" r="0.62" fill="#b8cce0"/><circle cx="405.51" cy="217.99" r="0.62" fill="#e8b878"/><circle cx="387.95" cy="211.37" r="0.62" fill="#c8dcf0"/><circle cx="395.32" cy="219.56" r="0.62" fill="#e8d8b0"/><circle cx="401.61" cy="198.26" r="0.62" fill="#d8d8c8"/><circle cx="401.49" cy="206.17" r="0.62" fill="#b8cce0"/><circle cx="393.77" cy="197.32" r="0.62" fill="#b8d4ee"/><circle cx="405.88" cy="198.97" r="0.62" fill="#d8d8c8"/><circle cx="396.07" cy="225.08" r="0.62" fill="#e09850"/><circle cx="396.17" cy="229.46" r="0.62" fill="#f0c080"/><circle cx="394.1" cy="225.91" r="0.62" fill="#e09850"/><circle cx="395.72" cy="207.86" r="0.62" fill="#d8d8c8"/><circle cx="395.49" cy="213.06" r="0.62" fill="#d8d8c8"/><circle cx="390.18" cy="211.16" r="0.62" fill="#d8d8c8"/><circle cx="397.37" cy="208.95" r="0.62" fill="#d8d8c8"/><circle cx="402.24" cy="216.8" r="0.62" fill="#d88848"/><circle cx="397.67" cy="195.62" r="0.62" fill="#a8c8e8"/><circle cx="387.36" cy="200.79" r="0.62" fill="#a8c8e8"/><circle cx="395.81" cy="230.51" r="0.62" fill="#d88848"/><circle cx="386.71" cy="202.39" r="0.62" fill="#a8c8e8"/><circle cx="395.36" cy="189.96" r="0.62" fill="#b8d4ee"/><circle cx="397.72" cy="186.9" r="0.62" fill="#c8dcf0"/><circle cx="394.59" cy="218.89" r="0.62" fill="#f0dcb0"/><circle cx="391.49" cy="224.95" r="0.62" fill="#e8d8b0"/><circle cx="387.19" cy="204.9" r="0.62" fill="#b8d4ee"/><circle cx="403.49" cy="200.61" r="0.62" fill="#f0dcb0"/><circle cx="395.06" cy="187.6" r="0.62" fill="#b8d4ee"/></g>
<polygon points="393.4,183.3 398.6,184.3 403.8,188.5 408,197.8 409,210.3 406.9,221.7 402.8,230 396.5,234.2 390.3,234.2 385.1,228 384.1,216.5 385.1,204.1 388.2,191.6 391.3,185.4" fill="none" stroke="#111" stroke-width="1" stroke-linejoin="round"/>
<line x1="405.9" y1="222.8" x2="411.1" y2="219.7" stroke="#111" stroke-width="0.8"/>
<text x="428.8" y="139.8" font-size="7" fill="#333" textLength="12.7" lengthAdjust="spacingAndGlyphs">IRF4</text>
<text x="433.9" y="194.7" font-size="7" fill="#333" textLength="33.3" lengthAdjust="spacingAndGlyphs">Subclone 3</text>
<text x="414.2" y="219.2" font-size="7" fill="#333" textLength="27.6" lengthAdjust="spacingAndGlyphs">Branch D</text>
<rect x="275" y="22.7" width="105.1" height="104.9" fill="none" stroke="#505050" stroke-width="1.2"/>
<rect x="382.7" y="22.7" width="104.7" height="104.9" fill="none" stroke="#505050" stroke-width="1.2"/>
<rect x="275" y="130.5" width="105.1" height="104.5" fill="none" stroke="#505050" stroke-width="1.2"/>
<rect x="382.7" y="130.5" width="104.7" height="104.5" fill="none" stroke="#505050" stroke-width="1.2"/>
<text x="271" y="223" font-size="6.6" fill="#333" textLength="22.8" lengthAdjust="spacingAndGlyphs" text-anchor="middle" transform="rotate(-90 271 223)">UMAP2</text>
<text x="275.4" y="246.1" font-size="6.6" fill="#333" textLength="22.3" lengthAdjust="spacingAndGlyphs">UMAP1</text>
<text x="501.9" y="113.7" font-size="7" fill="#333" textLength="7.2" lengthAdjust="spacingAndGlyphs" text-anchor="middle">TF</text>
<text x="502.2" y="121.4" font-size="7" fill="#333" textLength="15.2" lengthAdjust="spacingAndGlyphs" text-anchor="middle">motif</text>
<text x="502.3" y="129" font-size="7" fill="#333" textLength="20.8" lengthAdjust="spacingAndGlyphs" text-anchor="middle">activity</text>
<defs><linearGradient id="cb" x1="0" x2="1" y1="0" y2="0"><stop offset="0" stop-color="#1e3a8a"/><stop offset="0.25" stop-color="#5b7ec4"/><stop offset="0.45" stop-color="#e8ecf0"/><stop offset="0.56" stop-color="#f0dca0"/><stop offset="0.76" stop-color="#e08a3a"/><stop offset="1" stop-color="#781008"/></linearGradient></defs>
<rect x="492.9" y="134.2" width="18.4" height="4.7" fill="url(#cb)"/>
<text x="490.2" y="145.2" font-size="7" fill="#333" textLength="5.9" lengthAdjust="spacingAndGlyphs">−1</text>
<text x="511.2" y="145.2" font-size="7" fill="#333" text-anchor="middle">1</text>
<line x1="36.9" y1="304.6" x2="36.9" y2="390.6" stroke="#111" stroke-width="1.1"/>
<line x1="36.4" y1="390.3" x2="97.3" y2="390.3" stroke="#111" stroke-width="1.1"/>
<line x1="33.5" y1="386.2" x2="36.9" y2="386.2" stroke="#111" stroke-width="0.9"/>
<text x="30.7" y="388.6" font-size="6.8" fill="#3a3a3a" textLength="3.4" lengthAdjust="spacingAndGlyphs" text-anchor="end">0</text>
<line x1="33.5" y1="366.36" x2="36.9" y2="366.36" stroke="#111" stroke-width="0.9"/>
<text x="30.7" y="368.76" font-size="6.8" fill="#3a3a3a" textLength="6.81" lengthAdjust="spacingAndGlyphs" text-anchor="end">25</text>
<line x1="33.5" y1="346.52" x2="36.9" y2="346.52" stroke="#111" stroke-width="0.9"/>
<text x="30.7" y="348.92" font-size="6.8" fill="#3a3a3a" textLength="6.81" lengthAdjust="spacingAndGlyphs" text-anchor="end">50</text>
<line x1="33.5" y1="326.69" x2="36.9" y2="326.69" stroke="#111" stroke-width="0.9"/>
<text x="30.7" y="329.09" font-size="6.8" fill="#3a3a3a" textLength="6.81" lengthAdjust="spacingAndGlyphs" text-anchor="end">75</text>
<line x1="33.5" y1="306.85" x2="36.9" y2="306.85" stroke="#111" stroke-width="0.9"/>
<text x="30.7" y="309.25" font-size="6.8" fill="#3a3a3a" textLength="10.21" lengthAdjust="spacingAndGlyphs" text-anchor="end">100</text>
<line x1="45.5" y1="390.3" x2="45.5" y2="393" stroke="#111" stroke-width="0.9"/>
<line x1="60.3" y1="390.3" x2="60.3" y2="393" stroke="#111" stroke-width="0.9"/>
<line x1="74.8" y1="390.3" x2="74.8" y2="393" stroke="#111" stroke-width="0.9"/>
<line x1="89.3" y1="390.3" x2="89.3" y2="393" stroke="#111" stroke-width="0.9"/>
<text x="67.2" y="299.7" font-size="6.6" fill="#2a2a2a" text-anchor="middle">RRMM2</text>
<polyline points="45.5,386.2 60.3,384.61 74.8,312.4 89.3,317.96" fill="none" stroke="#962f40" stroke-width="1.3" stroke-linejoin="round"/>
<polyline points="45.5,386.2 60.3,385.41 74.8,373.5 89.3,376.68" fill="none" stroke="#962f40" stroke-width="1.3" stroke-linejoin="round"/>
<polyline points="45.5,386.2 60.3,386.2 74.8,375.88 89.3,380.25" fill="none" stroke="#962f40" stroke-width="1.3" stroke-linejoin="round"/>
<polyline points="45.5,359.22 60.3,365.97 74.8,385.8 89.3,384.61" fill="none" stroke="#1e1e1e" stroke-width="1.3" stroke-linejoin="round"/>
<polyline points="45.5,365.57 60.3,374.3 74.8,312.4 89.3,317.17" fill="none" stroke="#1e1e1e" stroke-width="1.3" stroke-linejoin="round"/>
<text x="94" y="316.5" font-size="7" fill="#222" textLength="27" lengthAdjust="spacingAndGlyphs">1337T&gt;C</text>
<text x="94" y="323.2" font-size="7" fill="#a4465a" textLength="27.3" lengthAdjust="spacingAndGlyphs">2436G&gt;A</text>
<text x="94" y="376.7" font-size="7" fill="#a4465a" textLength="26.5" lengthAdjust="spacingAndGlyphs">8150C&gt;T</text>
<text x="94" y="382.3" font-size="7" fill="#a4465a" textLength="26.5" lengthAdjust="spacingAndGlyphs">3667T&gt;C</text>
<text x="94" y="388.8" font-size="7" fill="#222" textLength="26.5" lengthAdjust="spacingAndGlyphs">5326C&gt;T</text>
<text x="0" y="0" font-size="7.3" fill="#2a2a2a" text-anchor="end" textLength="26.47" lengthAdjust="spacingAndGlyphs" transform="translate(50.8 399.8) rotate(-45)">Baseline</text>
<text x="0" y="0" font-size="7.3" fill="#2a2a2a" text-anchor="end" textLength="29.02" lengthAdjust="spacingAndGlyphs" transform="translate(65.6 399.8) rotate(-45)">Day 1135</text>
<text x="0" y="0" font-size="7.3" fill="#2a2a2a" text-anchor="end" textLength="44.1" lengthAdjust="spacingAndGlyphs" transform="translate(80.1 399.8) rotate(-45)">Day 2527 (T1)</text>
<text x="0" y="0" font-size="7.3" fill="#2a2a2a" text-anchor="end" textLength="44.1" lengthAdjust="spacingAndGlyphs" transform="translate(94.6 399.8) rotate(-45)">Day 2634 (T2)</text>
<line x1="89.3" y1="317" x2="92.8" y2="315" stroke="#1e1e1e" stroke-width="0.9"/>
<line x1="89.3" y1="384.6" x2="92.8" y2="385.6" stroke="#1e1e1e" stroke-width="0.9"/>
<line x1="89.3" y1="376.7" x2="92.8" y2="375.6" stroke="#962f40" stroke-width="0.9"/>
<line x1="89.3" y1="380.3" x2="92.8" y2="380.4" stroke="#962f40" stroke-width="0.9"/>
<line x1="147.8" y1="304.6" x2="147.8" y2="390.6" stroke="#111" stroke-width="1.1"/>
<line x1="147.3" y1="390.3" x2="223" y2="390.3" stroke="#111" stroke-width="1.1"/>
<line x1="144.4" y1="386.2" x2="147.8" y2="386.2" stroke="#111" stroke-width="0.9"/>
<text x="141.6" y="388.6" font-size="6.8" fill="#3a3a3a" textLength="3.4" lengthAdjust="spacingAndGlyphs" text-anchor="end">0</text>
<line x1="144.4" y1="366.36" x2="147.8" y2="366.36" stroke="#111" stroke-width="0.9"/>
<text x="141.6" y="368.76" font-size="6.8" fill="#3a3a3a" textLength="6.81" lengthAdjust="spacingAndGlyphs" text-anchor="end">25</text>
<line x1="144.4" y1="346.52" x2="147.8" y2="346.52" stroke="#111" stroke-width="0.9"/>
<text x="141.6" y="348.92" font-size="6.8" fill="#3a3a3a" textLength="6.81" lengthAdjust="spacingAndGlyphs" text-anchor="end">50</text>
<line x1="144.4" y1="326.69" x2="147.8" y2="326.69" stroke="#111" stroke-width="0.9"/>
<text x="141.6" y="329.09" font-size="6.8" fill="#3a3a3a" textLength="6.81" lengthAdjust="spacingAndGlyphs" text-anchor="end">75</text>
<line x1="144.4" y1="306.85" x2="147.8" y2="306.85" stroke="#111" stroke-width="0.9"/>
<text x="141.6" y="309.25" font-size="6.8" fill="#3a3a3a" textLength="10.21" lengthAdjust="spacingAndGlyphs" text-anchor="end">100</text>
<line x1="156.5" y1="390.3" x2="156.5" y2="393" stroke="#111" stroke-width="0.9"/>
<line x1="171.2" y1="390.3" x2="171.2" y2="393" stroke="#111" stroke-width="0.9"/>
<line x1="185.8" y1="390.3" x2="185.8" y2="393" stroke="#111" stroke-width="0.9"/>
<line x1="200.4" y1="390.3" x2="200.4" y2="393" stroke="#111" stroke-width="0.9"/>
<line x1="215" y1="390.3" x2="215" y2="393" stroke="#111" stroke-width="0.9"/>
<text x="185.9" y="299.7" font-size="6.6" fill="#2a2a2a" text-anchor="middle">RRMM9</text>
<polyline points="156.5,340.97 171.2,337 185.8,334.23 200.4,335.42 215,346.13" fill="none" stroke="#1e1e1e" stroke-width="1.3" stroke-linejoin="round"/>
<polyline points="156.5,386.2 171.2,380.65 185.8,383.82 200.4,379.85 215,348.11" fill="none" stroke="#962f40" stroke-width="1.3" stroke-linejoin="round"/>
<polyline points="156.5,386.2 171.2,386.2 185.8,386.2 200.4,386.2 215,376.68" fill="none" stroke="#962f40" stroke-width="1.3" stroke-linejoin="round"/>
<polyline points="156.5,386.2 171.2,386.2 185.8,386.2 200.4,372.71 215,386.2" fill="none" stroke="#1e1e1e" stroke-width="1.3" stroke-linejoin="round"/>
<text x="219.8" y="345.4" font-size="7" fill="#222" textLength="26.8" lengthAdjust="spacingAndGlyphs">5865T&gt;C</text>
<text x="219.8" y="352" font-size="7" fill="#a4465a" textLength="29.5" lengthAdjust="spacingAndGlyphs">11699A&gt;G</text>
<text x="219.8" y="378.7" font-size="7" fill="#a4465a" textLength="29.5" lengthAdjust="spacingAndGlyphs">14985G&gt;A</text>
<text x="219.8" y="388.3" font-size="7" fill="#222" textLength="29.5" lengthAdjust="spacingAndGlyphs">10873T&gt;C</text>
<text x="0" y="0" font-size="7.3" fill="#2a2a2a" text-anchor="end" textLength="26.47" lengthAdjust="spacingAndGlyphs" transform="translate(161.8 399.8) rotate(-45)">Baseline</text>
<text x="0" y="0" font-size="7.3" fill="#2a2a2a" text-anchor="end" textLength="29.54" lengthAdjust="spacingAndGlyphs" transform="translate(176.5 399.8) rotate(-45)">Day 1435</text>
<text x="0" y="0" font-size="7.3" fill="#2a2a2a" text-anchor="end" textLength="29.54" lengthAdjust="spacingAndGlyphs" transform="translate(191.1 399.8) rotate(-45)">Day 2888</text>
<text x="0" y="0" font-size="7.3" fill="#2a2a2a" text-anchor="end" textLength="44.1" lengthAdjust="spacingAndGlyphs" transform="translate(205.7 399.8) rotate(-45)">Day 3513 (T1)</text>
<text x="0" y="0" font-size="7.3" fill="#2a2a2a" text-anchor="end" textLength="44.1" lengthAdjust="spacingAndGlyphs" transform="translate(220.3 399.8) rotate(-45)">Day 3899 (T2)</text>
<line x1="215" y1="345.9" x2="218.8" y2="345.6" stroke="#1e1e1e" stroke-width="0.9"/>
<line x1="215" y1="348.1" x2="218.8" y2="348.6" stroke="#962f40" stroke-width="0.9"/>
<line x1="215" y1="376.3" x2="218.8" y2="376.3" stroke="#962f40" stroke-width="0.9"/>
<line x1="215" y1="386" x2="218.8" y2="386" stroke="#1e1e1e" stroke-width="0.9"/>
<line x1="281.4" y1="304.6" x2="281.4" y2="390.6" stroke="#111" stroke-width="1.1"/>
<line x1="280.9" y1="390.3" x2="327.2" y2="390.3" stroke="#111" stroke-width="1.1"/>
<line x1="278" y1="386.2" x2="281.4" y2="386.2" stroke="#111" stroke-width="0.9"/>
<text x="275.2" y="388.6" font-size="6.8" fill="#3a3a3a" textLength="3.4" lengthAdjust="spacingAndGlyphs" text-anchor="end">0</text>
<line x1="278" y1="366.36" x2="281.4" y2="366.36" stroke="#111" stroke-width="0.9"/>
<text x="275.2" y="368.76" font-size="6.8" fill="#3a3a3a" textLength="6.81" lengthAdjust="spacingAndGlyphs" text-anchor="end">25</text>
<line x1="278" y1="346.52" x2="281.4" y2="346.52" stroke="#111" stroke-width="0.9"/>
<text x="275.2" y="348.92" font-size="6.8" fill="#3a3a3a" textLength="6.81" lengthAdjust="spacingAndGlyphs" text-anchor="end">50</text>
<line x1="278" y1="326.69" x2="281.4" y2="326.69" stroke="#111" stroke-width="0.9"/>
<text x="275.2" y="329.09" font-size="6.8" fill="#3a3a3a" textLength="6.81" lengthAdjust="spacingAndGlyphs" text-anchor="end">75</text>
<line x1="278" y1="306.85" x2="281.4" y2="306.85" stroke="#111" stroke-width="0.9"/>
<text x="275.2" y="309.25" font-size="6.8" fill="#3a3a3a" textLength="10.21" lengthAdjust="spacingAndGlyphs" text-anchor="end">100</text>
<line x1="290" y1="390.3" x2="290" y2="393" stroke="#111" stroke-width="0.9"/>
<line x1="304.5" y1="390.3" x2="304.5" y2="393" stroke="#111" stroke-width="0.9"/>
<line x1="319.2" y1="390.3" x2="319.2" y2="393" stroke="#111" stroke-width="0.9"/>
<text x="304.9" y="299.7" font-size="6.6" fill="#2a2a2a" text-anchor="middle">RRMM10</text>
<polyline points="290,385.41 304.5,383.82 319.2,381.44" fill="none" stroke="#3a3a3a" stroke-width="1.17" stroke-linejoin="round"/>
<polyline points="290,385.8 304.5,384.22 319.2,385.01" fill="none" stroke="#555" stroke-width="1.17" stroke-linejoin="round"/>
<polyline points="290,386.2 304.5,385.01 319.2,385.8" fill="none" stroke="#222" stroke-width="1.17" stroke-linejoin="round"/>
<polyline points="290,384.61 304.5,383.03 319.2,384.22" fill="none" stroke="#666" stroke-width="1.04" stroke-linejoin="round"/>
<polyline points="290,386.2 304.5,368.74 319.2,371.52" fill="none" stroke="#962f40" stroke-width="1.3" stroke-linejoin="round"/>
<text x="323.8" y="373.6" font-size="7" fill="#a4465a" textLength="29" lengthAdjust="spacingAndGlyphs">2916G&gt;A</text>
<text x="323.8" y="382" font-size="7" fill="#222" textLength="29" lengthAdjust="spacingAndGlyphs">3745G&gt;A</text>
<text x="323.8" y="388.9" font-size="7" fill="#222" textLength="29" lengthAdjust="spacingAndGlyphs">9804G&gt;A</text>
<text x="0" y="0" font-size="7.3" fill="#2a2a2a" text-anchor="end" textLength="26.47" lengthAdjust="spacingAndGlyphs" transform="translate(295.3 399.8) rotate(-45)">Baseline</text>
<text x="0" y="0" font-size="7.3" fill="#2a2a2a" text-anchor="end" textLength="44.1" lengthAdjust="spacingAndGlyphs" transform="translate(309.8 399.8) rotate(-45)">Day 1725 (T1)</text>
<text x="0" y="0" font-size="7.3" fill="#2a2a2a" text-anchor="end" textLength="44.1" lengthAdjust="spacingAndGlyphs" transform="translate(324.5 399.8) rotate(-45)">Day 1965 (T2)</text>
<line x1="319.2" y1="386.3" x2="323" y2="386.3" stroke="#1e1e1e" stroke-width="0.9"/>
<line x1="378.8" y1="304.6" x2="378.8" y2="390.6" stroke="#111" stroke-width="1.1"/>
<line x1="378.3" y1="390.3" x2="424.5" y2="390.3" stroke="#111" stroke-width="1.1"/>
<line x1="375.4" y1="386.2" x2="378.8" y2="386.2" stroke="#111" stroke-width="0.9"/>
<text x="372.6" y="388.6" font-size="6.8" fill="#3a3a3a" textLength="3.4" lengthAdjust="spacingAndGlyphs" text-anchor="end">0</text>
<line x1="375.4" y1="366.36" x2="378.8" y2="366.36" stroke="#111" stroke-width="0.9"/>
<text x="372.6" y="368.76" font-size="6.8" fill="#3a3a3a" textLength="6.81" lengthAdjust="spacingAndGlyphs" text-anchor="end">25</text>
<line x1="375.4" y1="346.52" x2="378.8" y2="346.52" stroke="#111" stroke-width="0.9"/>
<text x="372.6" y="348.92" font-size="6.8" fill="#3a3a3a" textLength="6.81" lengthAdjust="spacingAndGlyphs" text-anchor="end">50</text>
<line x1="375.4" y1="326.69" x2="378.8" y2="326.69" stroke="#111" stroke-width="0.9"/>
<text x="372.6" y="329.09" font-size="6.8" fill="#3a3a3a" textLength="6.81" lengthAdjust="spacingAndGlyphs" text-anchor="end">75</text>
<line x1="375.4" y1="306.85" x2="378.8" y2="306.85" stroke="#111" stroke-width="0.9"/>
<text x="372.6" y="309.25" font-size="6.8" fill="#3a3a3a" textLength="10.21" lengthAdjust="spacingAndGlyphs" text-anchor="end">100</text>
<line x1="387.6" y1="390.3" x2="387.6" y2="393" stroke="#111" stroke-width="0.9"/>
<line x1="402.4" y1="390.3" x2="402.4" y2="393" stroke="#111" stroke-width="0.9"/>
<line x1="416.5" y1="390.3" x2="416.5" y2="393" stroke="#111" stroke-width="0.9"/>
<text x="402.5" y="299.7" font-size="6.6" fill="#2a2a2a" text-anchor="middle">RRMM15</text>
<polyline points="387.6,322.72 402.4,314.39 416.5,315.58" fill="none" stroke="#1e1e1e" stroke-width="1.3" stroke-linejoin="round"/>
<polyline points="387.6,323.91 402.4,315.18 416.5,315.98" fill="none" stroke="#1e1e1e" stroke-width="1.3" stroke-linejoin="round"/>
<polyline points="387.6,321.53 402.4,313.59 416.5,315.18" fill="none" stroke="#1e1e1e" stroke-width="1.3" stroke-linejoin="round"/>
<polyline points="387.6,383.03 402.4,370.33 416.5,385.8" fill="none" stroke="#1e1e1e" stroke-width="1.3" stroke-linejoin="round"/>
<polyline points="387.6,383.82 402.4,385.8 416.5,385.41" fill="none" stroke="#1e1e1e" stroke-width="1.3" stroke-linejoin="round"/>
<polyline points="387.6,385.41 402.4,385.01 416.5,385.8" fill="none" stroke="#1e1e1e" stroke-width="1.3" stroke-linejoin="round"/>
<polyline points="387.6,386.2 402.4,385.01 416.5,361.2" fill="none" stroke="#962f40" stroke-width="1.3" stroke-linejoin="round"/>
<text x="422.7" y="311.6" font-size="7" fill="#222" textLength="32.3" lengthAdjust="spacingAndGlyphs">13681A&gt;G</text>
<text x="422.7" y="318.2" font-size="7" fill="#222" textLength="24" lengthAdjust="spacingAndGlyphs">821T&gt;C</text>
<text x="422.7" y="324.7" font-size="7" fill="#222" textLength="28.5" lengthAdjust="spacingAndGlyphs">9868G&gt;A</text>
<text x="421.9" y="363.2" font-size="7" fill="#a4465a" textLength="31.5" lengthAdjust="spacingAndGlyphs">13958G&gt;A</text>
<text x="420.8" y="387.8" font-size="7" fill="#222" textLength="26.5" lengthAdjust="spacingAndGlyphs">5115T&gt;C</text>
<text x="0" y="0" font-size="7.3" fill="#2a2a2a" text-anchor="end" textLength="25.7" lengthAdjust="spacingAndGlyphs" transform="translate(392.9 399.8) rotate(-45)">Day 756</text>
<text x="0" y="0" font-size="7.3" fill="#2a2a2a" text-anchor="end" textLength="44.1" lengthAdjust="spacingAndGlyphs" transform="translate(407.7 399.8) rotate(-45)">Day 1575 (T1)</text>
<text x="0" y="0" font-size="7.3" fill="#2a2a2a" text-anchor="end" textLength="44.1" lengthAdjust="spacingAndGlyphs" transform="translate(421.8 399.8) rotate(-45)">Day 1821 (T2)</text>
<polyline points="420.4,310 416.5,315.4 420.4,320.8" fill="none" stroke="#1e1e1e" stroke-width="0.9" stroke-linejoin="round"/>
<line x1="416.5" y1="315.4" x2="420.4" y2="315.4" stroke="#1e1e1e" stroke-width="0.9"/>
<line x1="417.2" y1="360.8" x2="420.6" y2="360.8" stroke="#962f40" stroke-width="0.9"/>
<line x1="416.5" y1="385.7" x2="419.8" y2="385.7" stroke="#1e1e1e" stroke-width="0.9"/>
<text x="0" y="0" font-size="7" fill="#333" textLength="23" lengthAdjust="spacingAndGlyphs" text-anchor="middle" transform="translate(15.1 347.8) rotate(-90)">VAF (%)</text>
<g transform="translate(-8.2 0)"></g>
<text x="458" y="286.8" font-size="6.6" fill="#a8485a" textLength="54.3" lengthAdjust="spacingAndGlyphs">Relapse/refractory</text>
<text x="458" y="294.5" font-size="6.6" fill="#a8485a" textLength="24.5" lengthAdjust="spacingAndGlyphs">enriched</text>
<rect x="0.5" y="0.5" width="519" height="435" fill="none" stroke="#3a3a3a" stroke-width="1"/>
<line x1="518.75" y1="0" x2="518.75" y2="436" stroke="#777" stroke-width="0.5"/>
<line x1="0" y1="434.75" x2="520" y2="434.75" stroke="#777" stroke-width="0.5"/></svg></body></html>
